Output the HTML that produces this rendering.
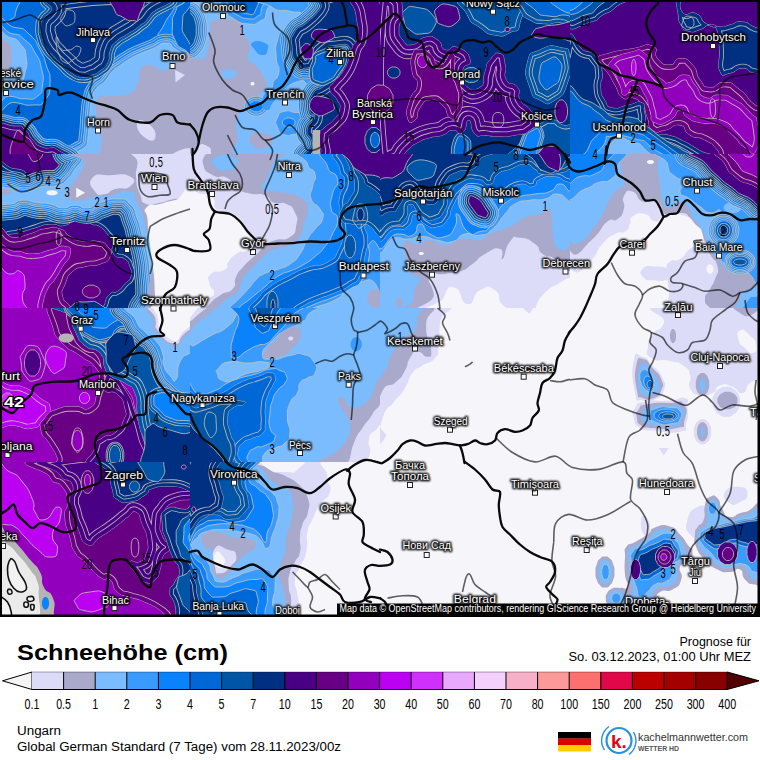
<!DOCTYPE html>
<html><head><meta charset="utf-8"><title>Schneehöhe (cm) – Ungarn</title>
<style>
html,body{margin:0;padding:0;background:#fff;}
body{width:760px;height:760px;overflow:hidden;position:relative;font-family:"Liberation Sans",sans-serif;}
svg{position:absolute;left:0;top:0;display:block}
text{font-family:"Liberation Sans",sans-serif;}
</style></head><body>
<svg width="760" height="760" viewBox="0 0 760 760" shape-rendering="auto">
<defs>
<clipPath id="mapclip"><rect x="0" y="0" width="760" height="617"/></clipPath>
<clipPath id="c00"><rect x="0" y="0" width="190" height="154"/></clipPath>
<clipPath id="c01"><rect x="0" y="154" width="190" height="154"/></clipPath>
<clipPath id="c02"><rect x="0" y="308" width="190" height="154"/></clipPath>
<clipPath id="c03"><rect x="0" y="462" width="190" height="154"/></clipPath>
<clipPath id="c10"><rect x="190" y="0" width="190" height="154"/></clipPath>
<clipPath id="c11"><rect x="190" y="154" width="190" height="154"/></clipPath>
<clipPath id="c12"><rect x="190" y="308" width="190" height="154"/></clipPath>
<clipPath id="c13"><rect x="190" y="462" width="190" height="154"/></clipPath>
<clipPath id="c20"><rect x="380" y="0" width="190" height="154"/></clipPath>
<clipPath id="c21"><rect x="380" y="154" width="190" height="154"/></clipPath>
<clipPath id="c22"><rect x="380" y="308" width="190" height="154"/></clipPath>
<clipPath id="c23"><rect x="380" y="462" width="190" height="154"/></clipPath>
<clipPath id="c30"><rect x="570" y="0" width="190" height="154"/></clipPath>
<clipPath id="c31"><rect x="570" y="154" width="190" height="154"/></clipPath>
<clipPath id="c32"><rect x="570" y="308" width="190" height="154"/></clipPath>
<clipPath id="c33"><rect x="570" y="462" width="190" height="154"/></clipPath>
</defs>
<rect x="0" y="0" width="760" height="617" fill="#7abcfe"/>
<g clip-path="url(#c00)">
<rect x="0" y="0" width="190" height="154" fill="#0068d6"/>
<path d="M-5.0,-5.0C2.5,-14.2 10.4,-10.0 17.5,-5.0C24.6,0.0 18.8,1.7 16.2,10.0C13.8,18.3 17.1,15.8 10.0,20.0C2.9,24.2 0.0,30.8 -5.0,22.5C-10.0,14.2 -12.5,4.2 -5.0,-5.0Z" fill="#0a82fc" stroke="rgba(196,194,186,0.92)" stroke-width="0.9"/>
<path d="M197.5,2.5C191.7,-15.0 189.2,0.8 180.0,5.0C170.8,9.2 175.8,7.5 170.0,15.0C164.2,22.5 166.7,20.0 162.5,27.5C158.3,35.0 158.3,31.2 157.5,37.5C156.7,43.8 154.2,41.7 160.0,46.2C165.8,50.8 162.5,47.5 175.0,51.2C187.5,55.0 190.0,73.8 197.5,57.5C205.0,41.2 203.3,20.0 197.5,2.5Z" fill="#0a82fc" stroke="rgba(196,194,186,0.92)" stroke-width="0.9"/>
<path d="M197.5,54.5C193.3,18.3 192.5,55.9 185.0,54.0C177.5,52.1 181.2,52.4 175.0,48.8C168.8,45.1 173.8,43.0 166.2,43.0C158.8,43.0 161.2,45.2 152.5,48.8C143.8,52.3 147.5,50.4 140.0,53.8C132.5,57.1 136.7,54.8 130.0,58.8C123.3,62.7 125.8,61.3 120.0,65.5C114.2,69.7 117.5,66.0 112.5,71.2C107.5,76.5 110.4,75.4 105.0,81.2C99.6,87.1 100.6,82.9 96.2,88.8C91.9,94.6 94.1,90.8 92.0,98.8C89.9,106.7 91.1,102.1 90.0,112.5C88.9,122.9 89.6,120.0 88.8,130.0C87.9,140.0 88.3,131.7 87.5,142.5C86.7,153.3 49.6,155.8 86.2,162.5C122.9,169.2 160.4,198.5 197.5,162.5C234.6,126.5 201.7,90.7 197.5,54.5Z" fill="none" stroke="rgba(196,194,186,0.92)" stroke-width="18.6" stroke-linejoin="round"/>
<path d="M197.5,54.5C193.3,18.3 192.5,55.9 185.0,54.0C177.5,52.1 181.2,52.4 175.0,48.8C168.8,45.1 173.8,43.0 166.2,43.0C158.8,43.0 161.2,45.2 152.5,48.8C143.8,52.3 147.5,50.4 140.0,53.8C132.5,57.1 136.7,54.8 130.0,58.8C123.3,62.7 125.8,61.3 120.0,65.5C114.2,69.7 117.5,66.0 112.5,71.2C107.5,76.5 110.4,75.4 105.0,81.2C99.6,87.1 100.6,82.9 96.2,88.8C91.9,94.6 94.1,90.8 92.0,98.8C89.9,106.7 91.1,102.1 90.0,112.5C88.9,122.9 89.6,120.0 88.8,130.0C87.9,140.0 88.3,131.7 87.5,142.5C86.7,153.3 49.6,155.8 86.2,162.5C122.9,169.2 160.4,198.5 197.5,162.5C234.6,126.5 201.7,90.7 197.5,54.5Z" fill="none" stroke="#0a82fc" stroke-width="17.0" stroke-linejoin="round"/>
<path d="M197.5,54.5C193.3,18.3 192.5,55.9 185.0,54.0C177.5,52.1 181.2,52.4 175.0,48.8C168.8,45.1 173.8,43.0 166.2,43.0C158.8,43.0 161.2,45.2 152.5,48.8C143.8,52.3 147.5,50.4 140.0,53.8C132.5,57.1 136.7,54.8 130.0,58.8C123.3,62.7 125.8,61.3 120.0,65.5C114.2,69.7 117.5,66.0 112.5,71.2C107.5,76.5 110.4,75.4 105.0,81.2C99.6,87.1 100.6,82.9 96.2,88.8C91.9,94.6 94.1,90.8 92.0,98.8C89.9,106.7 91.1,102.1 90.0,112.5C88.9,122.9 89.6,120.0 88.8,130.0C87.9,140.0 88.3,131.7 87.5,142.5C86.7,153.3 49.6,155.8 86.2,162.5C122.9,169.2 160.4,198.5 197.5,162.5C234.6,126.5 201.7,90.7 197.5,54.5Z" fill="none" stroke="rgba(196,194,186,0.92)" stroke-width="14.1" stroke-linejoin="round"/>
<path d="M197.5,54.5C193.3,18.3 192.5,55.9 185.0,54.0C177.5,52.1 181.2,52.4 175.0,48.8C168.8,45.1 173.8,43.0 166.2,43.0C158.8,43.0 161.2,45.2 152.5,48.8C143.8,52.3 147.5,50.4 140.0,53.8C132.5,57.1 136.7,54.8 130.0,58.8C123.3,62.7 125.8,61.3 120.0,65.5C114.2,69.7 117.5,66.0 112.5,71.2C107.5,76.5 110.4,75.4 105.0,81.2C99.6,87.1 100.6,82.9 96.2,88.8C91.9,94.6 94.1,90.8 92.0,98.8C89.9,106.7 91.1,102.1 90.0,112.5C88.9,122.9 89.6,120.0 88.8,130.0C87.9,140.0 88.3,131.7 87.5,142.5C86.7,153.3 49.6,155.8 86.2,162.5C122.9,169.2 160.4,198.5 197.5,162.5C234.6,126.5 201.7,90.7 197.5,54.5Z" fill="none" stroke="#0a82fc" stroke-width="12.5" stroke-linejoin="round"/>
<path d="M197.5,54.5C193.3,18.3 192.5,55.9 185.0,54.0C177.5,52.1 181.2,52.4 175.0,48.8C168.8,45.1 173.8,43.0 166.2,43.0C158.8,43.0 161.2,45.2 152.5,48.8C143.8,52.3 147.5,50.4 140.0,53.8C132.5,57.1 136.7,54.8 130.0,58.8C123.3,62.7 125.8,61.3 120.0,65.5C114.2,69.7 117.5,66.0 112.5,71.2C107.5,76.5 110.4,75.4 105.0,81.2C99.6,87.1 100.6,82.9 96.2,88.8C91.9,94.6 94.1,90.8 92.0,98.8C89.9,106.7 91.1,102.1 90.0,112.5C88.9,122.9 89.6,120.0 88.8,130.0C87.9,140.0 88.3,131.7 87.5,142.5C86.7,153.3 49.6,155.8 86.2,162.5C122.9,169.2 160.4,198.5 197.5,162.5C234.6,126.5 201.7,90.7 197.5,54.5Z" fill="none" stroke="rgba(196,194,186,0.92)" stroke-width="9.6" stroke-linejoin="round"/>
<path d="M197.5,54.5C193.3,18.3 192.5,55.9 185.0,54.0C177.5,52.1 181.2,52.4 175.0,48.8C168.8,45.1 173.8,43.0 166.2,43.0C158.8,43.0 161.2,45.2 152.5,48.8C143.8,52.3 147.5,50.4 140.0,53.8C132.5,57.1 136.7,54.8 130.0,58.8C123.3,62.7 125.8,61.3 120.0,65.5C114.2,69.7 117.5,66.0 112.5,71.2C107.5,76.5 110.4,75.4 105.0,81.2C99.6,87.1 100.6,82.9 96.2,88.8C91.9,94.6 94.1,90.8 92.0,98.8C89.9,106.7 91.1,102.1 90.0,112.5C88.9,122.9 89.6,120.0 88.8,130.0C87.9,140.0 88.3,131.7 87.5,142.5C86.7,153.3 49.6,155.8 86.2,162.5C122.9,169.2 160.4,198.5 197.5,162.5C234.6,126.5 201.7,90.7 197.5,54.5Z" fill="none" stroke="#3a9bfe" stroke-width="8.0" stroke-linejoin="round"/>
<path d="M197.5,54.5C193.3,18.3 192.5,55.9 185.0,54.0C177.5,52.1 181.2,52.4 175.0,48.8C168.8,45.1 173.8,43.0 166.2,43.0C158.8,43.0 161.2,45.2 152.5,48.8C143.8,52.3 147.5,50.4 140.0,53.8C132.5,57.1 136.7,54.8 130.0,58.8C123.3,62.7 125.8,61.3 120.0,65.5C114.2,69.7 117.5,66.0 112.5,71.2C107.5,76.5 110.4,75.4 105.0,81.2C99.6,87.1 100.6,82.9 96.2,88.8C91.9,94.6 94.1,90.8 92.0,98.8C89.9,106.7 91.1,102.1 90.0,112.5C88.9,122.9 89.6,120.0 88.8,130.0C87.9,140.0 88.3,131.7 87.5,142.5C86.7,153.3 49.6,155.8 86.2,162.5C122.9,169.2 160.4,198.5 197.5,162.5C234.6,126.5 201.7,90.7 197.5,54.5Z" fill="none" stroke="rgba(196,194,186,0.92)" stroke-width="5.6" stroke-linejoin="round"/>
<path d="M197.5,54.5C193.3,18.3 192.5,55.9 185.0,54.0C177.5,52.1 181.2,52.4 175.0,48.8C168.8,45.1 173.8,43.0 166.2,43.0C158.8,43.0 161.2,45.2 152.5,48.8C143.8,52.3 147.5,50.4 140.0,53.8C132.5,57.1 136.7,54.8 130.0,58.8C123.3,62.7 125.8,61.3 120.0,65.5C114.2,69.7 117.5,66.0 112.5,71.2C107.5,76.5 110.4,75.4 105.0,81.2C99.6,87.1 100.6,82.9 96.2,88.8C91.9,94.6 94.1,90.8 92.0,98.8C89.9,106.7 91.1,102.1 90.0,112.5C88.9,122.9 89.6,120.0 88.8,130.0C87.9,140.0 88.3,131.7 87.5,142.5C86.7,153.3 49.6,155.8 86.2,162.5C122.9,169.2 160.4,198.5 197.5,162.5C234.6,126.5 201.7,90.7 197.5,54.5Z" fill="none" stroke="#3a9bfe" stroke-width="4.0" stroke-linejoin="round"/>
<path d="M197.5,54.5C193.3,18.3 192.5,55.9 185.0,54.0C177.5,52.1 181.2,52.4 175.0,48.8C168.8,45.1 173.8,43.0 166.2,43.0C158.8,43.0 161.2,45.2 152.5,48.8C143.8,52.3 147.5,50.4 140.0,53.8C132.5,57.1 136.7,54.8 130.0,58.8C123.3,62.7 125.8,61.3 120.0,65.5C114.2,69.7 117.5,66.0 112.5,71.2C107.5,76.5 110.4,75.4 105.0,81.2C99.6,87.1 100.6,82.9 96.2,88.8C91.9,94.6 94.1,90.8 92.0,98.8C89.9,106.7 91.1,102.1 90.0,112.5C88.9,122.9 89.6,120.0 88.8,130.0C87.9,140.0 88.3,131.7 87.5,142.5C86.7,153.3 49.6,155.8 86.2,162.5C122.9,169.2 160.4,198.5 197.5,162.5C234.6,126.5 201.7,90.7 197.5,54.5Z" fill="#7abcfe" stroke="rgba(196,194,186,0.92)" stroke-width="0.9"/>
<path d="M197.5,59.5C191.7,25.2 188.3,58.1 180.0,59.5C171.7,60.9 178.3,60.1 172.5,63.8C166.7,67.4 169.2,69.9 162.5,70.5C155.8,71.1 159.6,66.3 152.5,65.5C145.4,64.7 145.8,63.2 141.2,68.0C136.7,72.8 141.7,72.2 138.8,80.0C135.8,87.8 138.8,86.1 132.5,91.2C126.2,96.4 128.3,93.8 120.0,95.5C111.7,97.2 115.0,95.2 107.5,96.2C100.0,97.3 101.2,93.3 97.5,98.8C93.8,104.2 96.1,103.8 96.2,112.5C96.4,121.2 96.3,116.7 98.0,125.0C99.7,133.3 100.4,129.2 101.2,137.5C102.1,145.8 101.3,141.7 100.5,150.0C99.7,158.3 66.4,158.3 98.8,162.5C131.1,166.7 164.6,196.8 197.5,162.5C230.4,128.2 203.3,93.8 197.5,59.5Z" fill="#a9a9cb"/>
<path d="M197.5,0.0C192.5,-16.4 190.0,-0.4 182.5,3.8C175.0,7.9 178.3,5.4 175.0,12.5C171.7,19.6 172.5,15.8 172.5,25.0C172.5,34.2 170.8,31.7 175.0,40.0C179.2,48.3 177.5,45.7 185.0,50.0C192.5,54.3 193.3,69.7 197.5,53.0C201.7,36.3 202.5,16.4 197.5,0.0Z" fill="#0068d6" stroke="rgba(196,194,186,0.92)" stroke-width="0.9"/>
<path d="M197.5,5.0C194.2,-6.7 192.5,4.2 187.5,10.0C182.5,15.8 182.9,13.3 182.5,22.5C182.1,31.7 181.2,30.0 186.2,37.5C191.2,45.0 193.8,55.8 197.5,45.0C201.2,34.2 200.8,16.7 197.5,5.0Z" fill="#0055a6" stroke="rgba(196,194,186,0.92)" stroke-width="0.9"/>
<path d="M175.0,70.0 L185.0,75.0 L175.5,82.5Z" fill="#dcdcf8"/>
<path d="M137.0,123.8C137.7,118.8 141.3,119.1 147.5,123.2C153.7,127.4 156.2,131.3 155.5,136.2C154.8,141.2 151.7,142.2 145.5,138.0C139.3,133.8 136.3,128.7 137.0,123.8Z" fill="#dcdcf8"/>
<path d="M175.0,152.5C182.5,148.3 190.0,146.7 197.5,150.0C205.0,153.3 205.0,158.3 197.5,162.5C190.0,166.7 182.5,165.8 175.0,162.5C167.5,159.2 167.5,156.7 175.0,152.5Z" fill="#dcdcf8"/>
<path d="M-5.0,30.0C1.7,5.8 3.3,25.8 15.0,27.5C26.7,29.2 21.7,27.5 30.0,35.0C38.3,42.5 34.6,40.0 40.0,50.0C45.4,60.0 42.9,54.2 46.2,65.0C49.6,75.8 50.4,70.8 50.0,82.5C49.6,94.2 50.8,92.5 45.0,100.0C39.2,107.5 42.5,104.2 32.5,105.0C22.5,105.8 27.5,104.2 15.0,102.5C2.5,100.8 1.7,124.2 -5.0,100.0C-11.7,75.8 -11.7,54.2 -5.0,30.0Z" fill="#0a82fc" stroke="rgba(196,194,186,0.92)" stroke-width="0.9"/>
<path d="M-5.0,35.0C0.8,14.6 2.5,32.1 12.5,33.8C22.5,35.4 17.5,33.8 25.0,40.0C32.5,46.2 29.6,43.3 35.0,52.5C40.4,61.7 38.8,56.7 41.2,67.5C43.8,78.3 43.8,75.4 42.5,85.0C41.2,94.6 43.3,91.7 37.5,96.2C31.7,100.8 34.2,98.8 25.0,98.8C15.8,98.8 20.0,97.5 10.0,96.2C0.0,95.0 0.0,115.4 -5.0,95.0C-10.0,74.6 -10.8,55.4 -5.0,35.0Z" fill="#3a9bfe" stroke="rgba(196,194,186,0.92)" stroke-width="0.9"/>
<path d="M-5.0,37.5C0.0,21.2 1.2,35.0 10.0,37.5C18.8,40.0 15.8,38.3 21.2,45.0C26.7,51.7 25.0,48.3 26.2,57.5C27.5,66.7 27.1,64.2 25.0,72.5C22.9,80.8 25.0,78.3 20.0,82.5C15.0,86.7 18.3,83.8 10.0,85.0C1.7,86.2 0.0,102.1 -5.0,86.2C-10.0,70.4 -10.0,53.8 -5.0,37.5Z" fill="#7abcfe" stroke="rgba(196,194,186,0.92)" stroke-width="0.9"/>
<path d="M-5.0,42.5C-0.8,32.2 2.1,39.7 7.5,43.0C12.9,46.3 10.4,44.3 11.2,52.5C12.1,60.7 12.1,60.4 10.0,67.5C7.9,74.6 10.0,71.7 5.0,73.8C0.0,75.8 -1.7,84.2 -5.0,73.8C-8.3,63.3 -9.2,52.8 -5.0,42.5Z" fill="#a9a9cb"/>
<path d="M43.8,18.8C47.1,13.3 44.6,19.2 51.2,11.2C57.9,3.3 27.5,0.4 63.8,-5.0C100.0,-10.4 131.2,-11.7 160.0,-5.0C188.8,1.7 157.1,4.6 150.0,15.0C142.9,25.4 146.2,20.0 138.8,26.2C131.2,32.5 135.0,28.8 127.5,33.8C120.0,38.8 122.1,35.8 116.2,41.2C110.4,46.7 112.9,42.9 110.0,50.0C107.1,57.1 110.8,55.7 107.5,62.5C104.2,69.3 105.4,66.3 100.0,70.5C94.6,74.7 97.1,72.8 91.2,75.0C85.4,77.2 88.8,77.5 82.5,77.0C76.2,76.5 79.2,77.7 72.5,73.5C65.8,69.3 68.8,70.3 62.5,64.5C56.2,58.7 59.0,61.7 53.8,56.0C48.5,50.3 50.5,53.7 46.8,47.5C43.0,41.3 44.3,44.2 42.5,37.5C40.7,30.8 40.8,33.8 41.2,27.5C41.7,21.2 40.4,24.2 43.8,18.8Z" fill="none" stroke="rgba(196,194,186,0.92)" stroke-width="11.6" stroke-linejoin="round"/>
<path d="M43.8,18.8C47.1,13.3 44.6,19.2 51.2,11.2C57.9,3.3 27.5,0.4 63.8,-5.0C100.0,-10.4 131.2,-11.7 160.0,-5.0C188.8,1.7 157.1,4.6 150.0,15.0C142.9,25.4 146.2,20.0 138.8,26.2C131.2,32.5 135.0,28.8 127.5,33.8C120.0,38.8 122.1,35.8 116.2,41.2C110.4,46.7 112.9,42.9 110.0,50.0C107.1,57.1 110.8,55.7 107.5,62.5C104.2,69.3 105.4,66.3 100.0,70.5C94.6,74.7 97.1,72.8 91.2,75.0C85.4,77.2 88.8,77.5 82.5,77.0C76.2,76.5 79.2,77.7 72.5,73.5C65.8,69.3 68.8,70.3 62.5,64.5C56.2,58.7 59.0,61.7 53.8,56.0C48.5,50.3 50.5,53.7 46.8,47.5C43.0,41.3 44.3,44.2 42.5,37.5C40.7,30.8 40.8,33.8 41.2,27.5C41.7,21.2 40.4,24.2 43.8,18.8Z" fill="none" stroke="#0055a6" stroke-width="10.0" stroke-linejoin="round"/>
<path d="M43.8,18.8C47.1,13.3 44.6,19.2 51.2,11.2C57.9,3.3 27.5,0.4 63.8,-5.0C100.0,-10.4 131.2,-11.7 160.0,-5.0C188.8,1.7 157.1,4.6 150.0,15.0C142.9,25.4 146.2,20.0 138.8,26.2C131.2,32.5 135.0,28.8 127.5,33.8C120.0,38.8 122.1,35.8 116.2,41.2C110.4,46.7 112.9,42.9 110.0,50.0C107.1,57.1 110.8,55.7 107.5,62.5C104.2,69.3 105.4,66.3 100.0,70.5C94.6,74.7 97.1,72.8 91.2,75.0C85.4,77.2 88.8,77.5 82.5,77.0C76.2,76.5 79.2,77.7 72.5,73.5C65.8,69.3 68.8,70.3 62.5,64.5C56.2,58.7 59.0,61.7 53.8,56.0C48.5,50.3 50.5,53.7 46.8,47.5C43.0,41.3 44.3,44.2 42.5,37.5C40.7,30.8 40.8,33.8 41.2,27.5C41.7,21.2 40.4,24.2 43.8,18.8Z" fill="none" stroke="rgba(196,194,186,0.92)" stroke-width="6.6" stroke-linejoin="round"/>
<path d="M43.8,18.8C47.1,13.3 44.6,19.2 51.2,11.2C57.9,3.3 27.5,0.4 63.8,-5.0C100.0,-10.4 131.2,-11.7 160.0,-5.0C188.8,1.7 157.1,4.6 150.0,15.0C142.9,25.4 146.2,20.0 138.8,26.2C131.2,32.5 135.0,28.8 127.5,33.8C120.0,38.8 122.1,35.8 116.2,41.2C110.4,46.7 112.9,42.9 110.0,50.0C107.1,57.1 110.8,55.7 107.5,62.5C104.2,69.3 105.4,66.3 100.0,70.5C94.6,74.7 97.1,72.8 91.2,75.0C85.4,77.2 88.8,77.5 82.5,77.0C76.2,76.5 79.2,77.7 72.5,73.5C65.8,69.3 68.8,70.3 62.5,64.5C56.2,58.7 59.0,61.7 53.8,56.0C48.5,50.3 50.5,53.7 46.8,47.5C43.0,41.3 44.3,44.2 42.5,37.5C40.7,30.8 40.8,33.8 41.2,27.5C41.7,21.2 40.4,24.2 43.8,18.8Z" fill="none" stroke="#0055a6" stroke-width="5.0" stroke-linejoin="round"/>
<path d="M43.8,18.8C47.1,13.3 44.6,19.2 51.2,11.2C57.9,3.3 27.5,0.4 63.8,-5.0C100.0,-10.4 131.2,-11.7 160.0,-5.0C188.8,1.7 157.1,4.6 150.0,15.0C142.9,25.4 146.2,20.0 138.8,26.2C131.2,32.5 135.0,28.8 127.5,33.8C120.0,38.8 122.1,35.8 116.2,41.2C110.4,46.7 112.9,42.9 110.0,50.0C107.1,57.1 110.8,55.7 107.5,62.5C104.2,69.3 105.4,66.3 100.0,70.5C94.6,74.7 97.1,72.8 91.2,75.0C85.4,77.2 88.8,77.5 82.5,77.0C76.2,76.5 79.2,77.7 72.5,73.5C65.8,69.3 68.8,70.3 62.5,64.5C56.2,58.7 59.0,61.7 53.8,56.0C48.5,50.3 50.5,53.7 46.8,47.5C43.0,41.3 44.3,44.2 42.5,37.5C40.7,30.8 40.8,33.8 41.2,27.5C41.7,21.2 40.4,24.2 43.8,18.8Z" fill="#012f82" stroke="rgba(196,194,186,0.92)" stroke-width="0.9"/>
<clipPath id="r1"><path d="M43.8,18.8C47.1,13.3 44.6,19.2 51.2,11.2C57.9,3.3 27.5,0.4 63.8,-5.0C100.0,-10.4 131.2,-11.7 160.0,-5.0C188.8,1.7 157.1,4.6 150.0,15.0C142.9,25.4 146.2,20.0 138.8,26.2C131.2,32.5 135.0,28.8 127.5,33.8C120.0,38.8 122.1,35.8 116.2,41.2C110.4,46.7 112.9,42.9 110.0,50.0C107.1,57.1 110.8,55.7 107.5,62.5C104.2,69.3 105.4,66.3 100.0,70.5C94.6,74.7 97.1,72.8 91.2,75.0C85.4,77.2 88.8,77.5 82.5,77.0C76.2,76.5 79.2,77.7 72.5,73.5C65.8,69.3 68.8,70.3 62.5,64.5C56.2,58.7 59.0,61.7 53.8,56.0C48.5,50.3 50.5,53.7 46.8,47.5C43.0,41.3 44.3,44.2 42.5,37.5C40.7,30.8 40.8,33.8 41.2,27.5C41.7,21.2 40.4,24.2 43.8,18.8Z"/></clipPath><g clip-path="url(#r1)">
<path d="M43.8,18.8C47.1,13.3 44.6,19.2 51.2,11.2C57.9,3.3 27.5,0.4 63.8,-5.0C100.0,-10.4 131.2,-11.7 160.0,-5.0C188.8,1.7 157.1,4.6 150.0,15.0C142.9,25.4 146.2,20.0 138.8,26.2C131.2,32.5 135.0,28.8 127.5,33.8C120.0,38.8 122.1,35.8 116.2,41.2C110.4,46.7 112.9,42.9 110.0,50.0C107.1,57.1 110.8,55.7 107.5,62.5C104.2,69.3 105.4,66.3 100.0,70.5C94.6,74.7 97.1,72.8 91.2,75.0C85.4,77.2 88.8,77.5 82.5,77.0C76.2,76.5 79.2,77.7 72.5,73.5C65.8,69.3 68.8,70.3 62.5,64.5C56.2,58.7 59.0,61.7 53.8,56.0C48.5,50.3 50.5,53.7 46.8,47.5C43.0,41.3 44.3,44.2 42.5,37.5C40.7,30.8 40.8,33.8 41.2,27.5C41.7,21.2 40.4,24.2 43.8,18.8Z" fill="none" stroke="rgba(196,194,186,0.92)" stroke-width="28.7" stroke-linejoin="round"/>
<path d="M43.8,18.8C47.1,13.3 44.6,19.2 51.2,11.2C57.9,3.3 27.5,0.4 63.8,-5.0C100.0,-10.4 131.2,-11.7 160.0,-5.0C188.8,1.7 157.1,4.6 150.0,15.0C142.9,25.4 146.2,20.0 138.8,26.2C131.2,32.5 135.0,28.8 127.5,33.8C120.0,38.8 122.1,35.8 116.2,41.2C110.4,46.7 112.9,42.9 110.0,50.0C107.1,57.1 110.8,55.7 107.5,62.5C104.2,69.3 105.4,66.3 100.0,70.5C94.6,74.7 97.1,72.8 91.2,75.0C85.4,77.2 88.8,77.5 82.5,77.0C76.2,76.5 79.2,77.7 72.5,73.5C65.8,69.3 68.8,70.3 62.5,64.5C56.2,58.7 59.0,61.7 53.8,56.0C48.5,50.3 50.5,53.7 46.8,47.5C43.0,41.3 44.3,44.2 42.5,37.5C40.7,30.8 40.8,33.8 41.2,27.5C41.7,21.2 40.4,24.2 43.8,18.8Z" fill="none" stroke="#012f82" stroke-width="27.0" stroke-linejoin="round"/>
<path d="M43.8,18.8C47.1,13.3 44.6,19.2 51.2,11.2C57.9,3.3 27.5,0.4 63.8,-5.0C100.0,-10.4 131.2,-11.7 160.0,-5.0C188.8,1.7 157.1,4.6 150.0,15.0C142.9,25.4 146.2,20.0 138.8,26.2C131.2,32.5 135.0,28.8 127.5,33.8C120.0,38.8 122.1,35.8 116.2,41.2C110.4,46.7 112.9,42.9 110.0,50.0C107.1,57.1 110.8,55.7 107.5,62.5C104.2,69.3 105.4,66.3 100.0,70.5C94.6,74.7 97.1,72.8 91.2,75.0C85.4,77.2 88.8,77.5 82.5,77.0C76.2,76.5 79.2,77.7 72.5,73.5C65.8,69.3 68.8,70.3 62.5,64.5C56.2,58.7 59.0,61.7 53.8,56.0C48.5,50.3 50.5,53.7 46.8,47.5C43.0,41.3 44.3,44.2 42.5,37.5C40.7,30.8 40.8,33.8 41.2,27.5C41.7,21.2 40.4,24.2 43.8,18.8Z" fill="none" stroke="rgba(196,194,186,0.92)" stroke-width="19.7" stroke-linejoin="round"/>
<path d="M43.8,18.8C47.1,13.3 44.6,19.2 51.2,11.2C57.9,3.3 27.5,0.4 63.8,-5.0C100.0,-10.4 131.2,-11.7 160.0,-5.0C188.8,1.7 157.1,4.6 150.0,15.0C142.9,25.4 146.2,20.0 138.8,26.2C131.2,32.5 135.0,28.8 127.5,33.8C120.0,38.8 122.1,35.8 116.2,41.2C110.4,46.7 112.9,42.9 110.0,50.0C107.1,57.1 110.8,55.7 107.5,62.5C104.2,69.3 105.4,66.3 100.0,70.5C94.6,74.7 97.1,72.8 91.2,75.0C85.4,77.2 88.8,77.5 82.5,77.0C76.2,76.5 79.2,77.7 72.5,73.5C65.8,69.3 68.8,70.3 62.5,64.5C56.2,58.7 59.0,61.7 53.8,56.0C48.5,50.3 50.5,53.7 46.8,47.5C43.0,41.3 44.3,44.2 42.5,37.5C40.7,30.8 40.8,33.8 41.2,27.5C41.7,21.2 40.4,24.2 43.8,18.8Z" fill="none" stroke="#012f82" stroke-width="18.0" stroke-linejoin="round"/>
<path d="M43.8,18.8C47.1,13.3 44.6,19.2 51.2,11.2C57.9,3.3 27.5,0.4 63.8,-5.0C100.0,-10.4 131.2,-11.7 160.0,-5.0C188.8,1.7 157.1,4.6 150.0,15.0C142.9,25.4 146.2,20.0 138.8,26.2C131.2,32.5 135.0,28.8 127.5,33.8C120.0,38.8 122.1,35.8 116.2,41.2C110.4,46.7 112.9,42.9 110.0,50.0C107.1,57.1 110.8,55.7 107.5,62.5C104.2,69.3 105.4,66.3 100.0,70.5C94.6,74.7 97.1,72.8 91.2,75.0C85.4,77.2 88.8,77.5 82.5,77.0C76.2,76.5 79.2,77.7 72.5,73.5C65.8,69.3 68.8,70.3 62.5,64.5C56.2,58.7 59.0,61.7 53.8,56.0C48.5,50.3 50.5,53.7 46.8,47.5C43.0,41.3 44.3,44.2 42.5,37.5C40.7,30.8 40.8,33.8 41.2,27.5C41.7,21.2 40.4,24.2 43.8,18.8Z" fill="none" stroke="rgba(196,194,186,0.92)" stroke-width="10.7" stroke-linejoin="round"/>
<path d="M43.8,18.8C47.1,13.3 44.6,19.2 51.2,11.2C57.9,3.3 27.5,0.4 63.8,-5.0C100.0,-10.4 131.2,-11.7 160.0,-5.0C188.8,1.7 157.1,4.6 150.0,15.0C142.9,25.4 146.2,20.0 138.8,26.2C131.2,32.5 135.0,28.8 127.5,33.8C120.0,38.8 122.1,35.8 116.2,41.2C110.4,46.7 112.9,42.9 110.0,50.0C107.1,57.1 110.8,55.7 107.5,62.5C104.2,69.3 105.4,66.3 100.0,70.5C94.6,74.7 97.1,72.8 91.2,75.0C85.4,77.2 88.8,77.5 82.5,77.0C76.2,76.5 79.2,77.7 72.5,73.5C65.8,69.3 68.8,70.3 62.5,64.5C56.2,58.7 59.0,61.7 53.8,56.0C48.5,50.3 50.5,53.7 46.8,47.5C43.0,41.3 44.3,44.2 42.5,37.5C40.7,30.8 40.8,33.8 41.2,27.5C41.7,21.2 40.4,24.2 43.8,18.8Z" fill="none" stroke="#012f82" stroke-width="9.0" stroke-linejoin="round"/>
</g>
<path d="M113.8,-5.0C105.1,0.0 111.6,2.7 114.5,10.0C117.4,17.3 116.5,13.5 122.5,17.0C128.5,20.5 127.1,20.8 132.5,20.5C137.9,20.2 136.1,24.8 138.8,16.2C141.4,7.8 148.8,2.1 140.5,-5.0C132.2,-12.1 122.4,-10.0 113.8,-5.0Z" fill="#4a0084" stroke="rgba(196,194,186,0.92)" stroke-width="0.9"/>
<path d="M-5.0,130.0C1.7,117.9 5.0,126.2 15.0,126.2C25.0,126.2 19.2,125.4 25.0,130.0C30.8,134.6 26.7,134.2 32.5,140.0C38.3,145.8 34.2,144.2 42.5,147.5C50.8,150.8 51.2,145.0 57.5,150.0C63.8,155.0 82.1,158.3 61.2,162.5C40.4,166.7 17.1,173.3 -5.0,162.5C-27.1,151.7 -11.7,142.1 -5.0,130.0Z" fill="none" stroke="rgba(196,194,186,0.92)" stroke-width="18.6" stroke-linejoin="round"/>
<path d="M-5.0,130.0C1.7,117.9 5.0,126.2 15.0,126.2C25.0,126.2 19.2,125.4 25.0,130.0C30.8,134.6 26.7,134.2 32.5,140.0C38.3,145.8 34.2,144.2 42.5,147.5C50.8,150.8 51.2,145.0 57.5,150.0C63.8,155.0 82.1,158.3 61.2,162.5C40.4,166.7 17.1,173.3 -5.0,162.5C-27.1,151.7 -11.7,142.1 -5.0,130.0Z" fill="none" stroke="#0a82fc" stroke-width="17.0" stroke-linejoin="round"/>
<path d="M-5.0,130.0C1.7,117.9 5.0,126.2 15.0,126.2C25.0,126.2 19.2,125.4 25.0,130.0C30.8,134.6 26.7,134.2 32.5,140.0C38.3,145.8 34.2,144.2 42.5,147.5C50.8,150.8 51.2,145.0 57.5,150.0C63.8,155.0 82.1,158.3 61.2,162.5C40.4,166.7 17.1,173.3 -5.0,162.5C-27.1,151.7 -11.7,142.1 -5.0,130.0Z" fill="none" stroke="rgba(196,194,186,0.92)" stroke-width="14.6" stroke-linejoin="round"/>
<path d="M-5.0,130.0C1.7,117.9 5.0,126.2 15.0,126.2C25.0,126.2 19.2,125.4 25.0,130.0C30.8,134.6 26.7,134.2 32.5,140.0C38.3,145.8 34.2,144.2 42.5,147.5C50.8,150.8 51.2,145.0 57.5,150.0C63.8,155.0 82.1,158.3 61.2,162.5C40.4,166.7 17.1,173.3 -5.0,162.5C-27.1,151.7 -11.7,142.1 -5.0,130.0Z" fill="none" stroke="#0068d6" stroke-width="13.0" stroke-linejoin="round"/>
<path d="M-5.0,130.0C1.7,117.9 5.0,126.2 15.0,126.2C25.0,126.2 19.2,125.4 25.0,130.0C30.8,134.6 26.7,134.2 32.5,140.0C38.3,145.8 34.2,144.2 42.5,147.5C50.8,150.8 51.2,145.0 57.5,150.0C63.8,155.0 82.1,158.3 61.2,162.5C40.4,166.7 17.1,173.3 -5.0,162.5C-27.1,151.7 -11.7,142.1 -5.0,130.0Z" fill="none" stroke="rgba(196,194,186,0.92)" stroke-width="10.6" stroke-linejoin="round"/>
<path d="M-5.0,130.0C1.7,117.9 5.0,126.2 15.0,126.2C25.0,126.2 19.2,125.4 25.0,130.0C30.8,134.6 26.7,134.2 32.5,140.0C38.3,145.8 34.2,144.2 42.5,147.5C50.8,150.8 51.2,145.0 57.5,150.0C63.8,155.0 82.1,158.3 61.2,162.5C40.4,166.7 17.1,173.3 -5.0,162.5C-27.1,151.7 -11.7,142.1 -5.0,130.0Z" fill="none" stroke="#0055a6" stroke-width="9.0" stroke-linejoin="round"/>
<path d="M-5.0,130.0C1.7,117.9 5.0,126.2 15.0,126.2C25.0,126.2 19.2,125.4 25.0,130.0C30.8,134.6 26.7,134.2 32.5,140.0C38.3,145.8 34.2,144.2 42.5,147.5C50.8,150.8 51.2,145.0 57.5,150.0C63.8,155.0 82.1,158.3 61.2,162.5C40.4,166.7 17.1,173.3 -5.0,162.5C-27.1,151.7 -11.7,142.1 -5.0,130.0Z" fill="none" stroke="rgba(196,194,186,0.92)" stroke-width="6.6" stroke-linejoin="round"/>
<path d="M-5.0,130.0C1.7,117.9 5.0,126.2 15.0,126.2C25.0,126.2 19.2,125.4 25.0,130.0C30.8,134.6 26.7,134.2 32.5,140.0C38.3,145.8 34.2,144.2 42.5,147.5C50.8,150.8 51.2,145.0 57.5,150.0C63.8,155.0 82.1,158.3 61.2,162.5C40.4,166.7 17.1,173.3 -5.0,162.5C-27.1,151.7 -11.7,142.1 -5.0,130.0Z" fill="none" stroke="#012f82" stroke-width="5.0" stroke-linejoin="round"/>
<path d="M-5.0,130.0C1.7,117.9 5.0,126.2 15.0,126.2C25.0,126.2 19.2,125.4 25.0,130.0C30.8,134.6 26.7,134.2 32.5,140.0C38.3,145.8 34.2,144.2 42.5,147.5C50.8,150.8 51.2,145.0 57.5,150.0C63.8,155.0 82.1,158.3 61.2,162.5C40.4,166.7 17.1,173.3 -5.0,162.5C-27.1,151.7 -11.7,142.1 -5.0,130.0Z" fill="#4a0084" stroke="rgba(196,194,186,0.92)" stroke-width="0.9"/>
<clipPath id="r2"><path d="M-5.0,130.0C1.7,117.9 5.0,126.2 15.0,126.2C25.0,126.2 19.2,125.4 25.0,130.0C30.8,134.6 26.7,134.2 32.5,140.0C38.3,145.8 34.2,144.2 42.5,147.5C50.8,150.8 51.2,145.0 57.5,150.0C63.8,155.0 82.1,158.3 61.2,162.5C40.4,166.7 17.1,173.3 -5.0,162.5C-27.1,151.7 -11.7,142.1 -5.0,130.0Z"/></clipPath><g clip-path="url(#r2)">
<path d="M-5.0,130.0C1.7,117.9 5.0,126.2 15.0,126.2C25.0,126.2 19.2,125.4 25.0,130.0C30.8,134.6 26.7,134.2 32.5,140.0C38.3,145.8 34.2,144.2 42.5,147.5C50.8,150.8 51.2,145.0 57.5,150.0C63.8,155.0 82.1,158.3 61.2,162.5C40.4,166.7 17.1,173.3 -5.0,162.5C-27.1,151.7 -11.7,142.1 -5.0,130.0Z" fill="none" stroke="rgba(196,194,186,0.92)" stroke-width="8.7" stroke-linejoin="round"/>
<path d="M-5.0,130.0C1.7,117.9 5.0,126.2 15.0,126.2C25.0,126.2 19.2,125.4 25.0,130.0C30.8,134.6 26.7,134.2 32.5,140.0C38.3,145.8 34.2,144.2 42.5,147.5C50.8,150.8 51.2,145.0 57.5,150.0C63.8,155.0 82.1,158.3 61.2,162.5C40.4,166.7 17.1,173.3 -5.0,162.5C-27.1,151.7 -11.7,142.1 -5.0,130.0Z" fill="none" stroke="#4a0084" stroke-width="7.0" stroke-linejoin="round"/>
</g>
<path d="M15.0,135.0C18.3,126.2 18.3,132.1 25.0,136.2C31.7,140.4 29.2,138.8 35.0,147.5C40.8,156.2 49.2,157.5 42.5,162.5C35.8,167.5 24.2,171.7 15.0,162.5C5.8,153.3 11.7,143.8 15.0,135.0Z" fill="#680084" stroke="rgba(196,194,186,0.92)" stroke-width="0.9"/>
<path d="M57.5,37.5C58.8,39.2 56.2,43.3 60.0,47.5C63.8,51.7 62.9,50.4 68.8,50.0C74.6,49.6 73.8,45.4 77.5,46.2C81.2,47.1 81.7,47.9 80.0,52.5C78.3,57.1 77.5,56.7 72.5,60.0C67.5,63.3 69.6,64.6 65.0,62.5C60.4,60.4 61.7,60.4 58.8,53.8C55.8,47.1 56.7,47.9 56.2,42.5C55.8,37.1 56.2,35.8 57.5,37.5Z" fill="none" stroke="rgba(196,194,186,0.92)" stroke-width="0.9"/>
<path d="M62.5,15.0C65.0,10.8 65.8,9.2 70.0,10.0C74.2,10.8 75.0,12.5 75.0,17.5C75.0,22.5 74.2,23.3 70.0,25.0C65.8,26.7 65.0,25.8 62.5,22.5C60.0,19.2 60.0,19.2 62.5,15.0Z" fill="none" stroke="rgba(196,194,186,0.92)" stroke-width="0.9"/>
</g>
<g clip-path="url(#c01)">
<rect x="0" y="154" width="190" height="154" fill="#4a0084"/>
<path d="M15.0,149.0C10.0,149.8 18.3,147.3 25.0,151.5C31.7,155.7 30.0,162.3 35.0,161.5C40.0,160.7 46.7,153.2 40.0,149.0C33.3,144.8 20.0,148.2 15.0,149.0Z" fill="#680084" stroke="rgba(196,194,186,0.92)" stroke-width="0.9"/>
<path d="M-5.0,172.8C1.7,151.1 2.5,168.2 15.0,169.0C27.5,169.8 20.8,172.8 32.5,175.2C44.2,177.8 40.0,177.8 50.0,176.5C60.0,175.2 57.5,177.3 62.5,171.5C67.5,165.7 64.6,166.5 65.0,159.0C65.4,151.5 19.6,152.3 63.8,149.0C107.9,145.7 152.9,93.2 197.5,149.0C242.1,204.8 228.8,260.7 197.5,316.5C166.2,372.3 134.6,320.7 103.8,316.5C72.9,312.3 102.9,311.5 105.0,304.0C107.1,296.5 105.8,298.2 110.0,294.0C114.2,289.8 112.5,294.8 117.5,291.5C122.5,288.2 120.4,289.0 125.0,284.0C129.6,279.0 129.6,282.3 131.2,276.5C132.9,270.7 132.1,272.3 130.0,266.5C127.9,260.7 130.4,263.2 125.0,259.0C119.6,254.8 117.9,259.8 113.8,254.0C109.6,248.2 114.6,248.2 112.5,241.5C110.4,234.8 111.7,239.0 107.5,234.0C103.3,229.0 105.8,230.2 100.0,226.5C94.2,222.8 95.0,226.9 90.0,222.8C85.0,218.6 90.0,215.7 85.0,214.0C80.0,212.3 81.7,214.0 75.0,217.8C68.3,221.5 73.3,223.2 65.0,225.2C56.7,227.3 60.0,223.2 50.0,224.0C40.0,224.8 44.2,225.2 35.0,227.8C25.8,230.2 30.8,229.4 22.5,231.5C14.2,233.6 19.2,233.2 10.0,234.0C0.8,234.8 0.0,254.4 -5.0,234.0C-10.0,213.6 -11.7,194.4 -5.0,172.8Z" fill="#012f82" stroke="rgba(196,194,186,0.92)" stroke-width="0.9"/>
<clipPath id="r3"><path d="M-5.0,172.8C1.7,151.1 2.5,168.2 15.0,169.0C27.5,169.8 20.8,172.8 32.5,175.2C44.2,177.8 40.0,177.8 50.0,176.5C60.0,175.2 57.5,177.3 62.5,171.5C67.5,165.7 64.6,166.5 65.0,159.0C65.4,151.5 19.6,152.3 63.8,149.0C107.9,145.7 152.9,93.2 197.5,149.0C242.1,204.8 228.8,260.7 197.5,316.5C166.2,372.3 134.6,320.7 103.8,316.5C72.9,312.3 102.9,311.5 105.0,304.0C107.1,296.5 105.8,298.2 110.0,294.0C114.2,289.8 112.5,294.8 117.5,291.5C122.5,288.2 120.4,289.0 125.0,284.0C129.6,279.0 129.6,282.3 131.2,276.5C132.9,270.7 132.1,272.3 130.0,266.5C127.9,260.7 130.4,263.2 125.0,259.0C119.6,254.8 117.9,259.8 113.8,254.0C109.6,248.2 114.6,248.2 112.5,241.5C110.4,234.8 111.7,239.0 107.5,234.0C103.3,229.0 105.8,230.2 100.0,226.5C94.2,222.8 95.0,226.9 90.0,222.8C85.0,218.6 90.0,215.7 85.0,214.0C80.0,212.3 81.7,214.0 75.0,217.8C68.3,221.5 73.3,223.2 65.0,225.2C56.7,227.3 60.0,223.2 50.0,224.0C40.0,224.8 44.2,225.2 35.0,227.8C25.8,230.2 30.8,229.4 22.5,231.5C14.2,233.6 19.2,233.2 10.0,234.0C0.8,234.8 0.0,254.4 -5.0,234.0C-10.0,213.6 -11.7,194.4 -5.0,172.8Z"/></clipPath><g clip-path="url(#r3)">
<path d="M-5.0,172.8C1.7,151.1 2.5,168.2 15.0,169.0C27.5,169.8 20.8,172.8 32.5,175.2C44.2,177.8 40.0,177.8 50.0,176.5C60.0,175.2 57.5,177.3 62.5,171.5C67.5,165.7 64.6,166.5 65.0,159.0C65.4,151.5 19.6,152.3 63.8,149.0C107.9,145.7 152.9,93.2 197.5,149.0C242.1,204.8 228.8,260.7 197.5,316.5C166.2,372.3 134.6,320.7 103.8,316.5C72.9,312.3 102.9,311.5 105.0,304.0C107.1,296.5 105.8,298.2 110.0,294.0C114.2,289.8 112.5,294.8 117.5,291.5C122.5,288.2 120.4,289.0 125.0,284.0C129.6,279.0 129.6,282.3 131.2,276.5C132.9,270.7 132.1,272.3 130.0,266.5C127.9,260.7 130.4,263.2 125.0,259.0C119.6,254.8 117.9,259.8 113.8,254.0C109.6,248.2 114.6,248.2 112.5,241.5C110.4,234.8 111.7,239.0 107.5,234.0C103.3,229.0 105.8,230.2 100.0,226.5C94.2,222.8 95.0,226.9 90.0,222.8C85.0,218.6 90.0,215.7 85.0,214.0C80.0,212.3 81.7,214.0 75.0,217.8C68.3,221.5 73.3,223.2 65.0,225.2C56.7,227.3 60.0,223.2 50.0,224.0C40.0,224.8 44.2,225.2 35.0,227.8C25.8,230.2 30.8,229.4 22.5,231.5C14.2,233.6 19.2,233.2 10.0,234.0C0.8,234.8 0.0,254.4 -5.0,234.0C-10.0,213.6 -11.7,194.4 -5.0,172.8Z" fill="none" stroke="rgba(196,194,186,0.92)" stroke-width="6.7" stroke-linejoin="round"/>
<path d="M-5.0,172.8C1.7,151.1 2.5,168.2 15.0,169.0C27.5,169.8 20.8,172.8 32.5,175.2C44.2,177.8 40.0,177.8 50.0,176.5C60.0,175.2 57.5,177.3 62.5,171.5C67.5,165.7 64.6,166.5 65.0,159.0C65.4,151.5 19.6,152.3 63.8,149.0C107.9,145.7 152.9,93.2 197.5,149.0C242.1,204.8 228.8,260.7 197.5,316.5C166.2,372.3 134.6,320.7 103.8,316.5C72.9,312.3 102.9,311.5 105.0,304.0C107.1,296.5 105.8,298.2 110.0,294.0C114.2,289.8 112.5,294.8 117.5,291.5C122.5,288.2 120.4,289.0 125.0,284.0C129.6,279.0 129.6,282.3 131.2,276.5C132.9,270.7 132.1,272.3 130.0,266.5C127.9,260.7 130.4,263.2 125.0,259.0C119.6,254.8 117.9,259.8 113.8,254.0C109.6,248.2 114.6,248.2 112.5,241.5C110.4,234.8 111.7,239.0 107.5,234.0C103.3,229.0 105.8,230.2 100.0,226.5C94.2,222.8 95.0,226.9 90.0,222.8C85.0,218.6 90.0,215.7 85.0,214.0C80.0,212.3 81.7,214.0 75.0,217.8C68.3,221.5 73.3,223.2 65.0,225.2C56.7,227.3 60.0,223.2 50.0,224.0C40.0,224.8 44.2,225.2 35.0,227.8C25.8,230.2 30.8,229.4 22.5,231.5C14.2,233.6 19.2,233.2 10.0,234.0C0.8,234.8 0.0,254.4 -5.0,234.0C-10.0,213.6 -11.7,194.4 -5.0,172.8Z" fill="none" stroke="#012f82" stroke-width="5.0" stroke-linejoin="round"/>
</g>
<path d="M-5.0,189.0C-0.8,184.4 -2.5,186.9 7.5,187.8C17.5,188.6 13.3,191.9 25.0,191.5C36.7,191.1 31.7,188.6 42.5,186.5C53.3,184.4 49.2,187.8 57.5,185.2C65.8,182.8 61.7,184.4 67.5,179.0C73.3,173.6 70.0,175.7 75.0,169.0C80.0,162.3 79.2,165.7 82.5,159.0C85.8,152.3 46.7,152.3 85.0,149.0C123.3,145.7 160.0,93.2 197.5,149.0C235.0,204.8 213.3,260.7 197.5,316.5C181.7,372.3 165.4,324.0 150.0,316.5C134.6,309.0 151.2,308.2 151.2,294.0C151.2,279.8 151.2,287.3 150.0,274.0C148.8,260.7 150.0,266.5 147.5,254.0C145.0,241.5 145.8,248.2 142.5,236.5C139.2,224.8 141.7,229.8 137.5,219.0C133.3,208.2 136.7,210.7 130.0,204.0C123.3,197.3 127.5,199.4 117.5,199.0C107.5,198.6 110.0,199.8 100.0,202.8C90.0,205.7 95.8,206.9 87.5,207.8C79.2,208.6 83.3,205.2 75.0,205.2C66.7,205.2 70.8,208.2 62.5,207.8C54.2,207.3 58.3,205.7 50.0,204.0C41.7,202.3 46.7,204.0 37.5,202.8C28.3,201.5 31.7,199.8 22.5,200.2C13.3,200.7 19.2,203.6 10.0,204.0C0.8,204.4 0.0,206.5 -5.0,201.5C-10.0,196.5 -9.2,193.6 -5.0,189.0Z" fill="none" stroke="rgba(196,194,186,0.92)" stroke-width="31.6" stroke-linejoin="round"/>
<path d="M-5.0,189.0C-0.8,184.4 -2.5,186.9 7.5,187.8C17.5,188.6 13.3,191.9 25.0,191.5C36.7,191.1 31.7,188.6 42.5,186.5C53.3,184.4 49.2,187.8 57.5,185.2C65.8,182.8 61.7,184.4 67.5,179.0C73.3,173.6 70.0,175.7 75.0,169.0C80.0,162.3 79.2,165.7 82.5,159.0C85.8,152.3 46.7,152.3 85.0,149.0C123.3,145.7 160.0,93.2 197.5,149.0C235.0,204.8 213.3,260.7 197.5,316.5C181.7,372.3 165.4,324.0 150.0,316.5C134.6,309.0 151.2,308.2 151.2,294.0C151.2,279.8 151.2,287.3 150.0,274.0C148.8,260.7 150.0,266.5 147.5,254.0C145.0,241.5 145.8,248.2 142.5,236.5C139.2,224.8 141.7,229.8 137.5,219.0C133.3,208.2 136.7,210.7 130.0,204.0C123.3,197.3 127.5,199.4 117.5,199.0C107.5,198.6 110.0,199.8 100.0,202.8C90.0,205.7 95.8,206.9 87.5,207.8C79.2,208.6 83.3,205.2 75.0,205.2C66.7,205.2 70.8,208.2 62.5,207.8C54.2,207.3 58.3,205.7 50.0,204.0C41.7,202.3 46.7,204.0 37.5,202.8C28.3,201.5 31.7,199.8 22.5,200.2C13.3,200.7 19.2,203.6 10.0,204.0C0.8,204.4 0.0,206.5 -5.0,201.5C-10.0,196.5 -9.2,193.6 -5.0,189.0Z" fill="none" stroke="#0055a6" stroke-width="30.0" stroke-linejoin="round"/>
<path d="M-5.0,189.0C-0.8,184.4 -2.5,186.9 7.5,187.8C17.5,188.6 13.3,191.9 25.0,191.5C36.7,191.1 31.7,188.6 42.5,186.5C53.3,184.4 49.2,187.8 57.5,185.2C65.8,182.8 61.7,184.4 67.5,179.0C73.3,173.6 70.0,175.7 75.0,169.0C80.0,162.3 79.2,165.7 82.5,159.0C85.8,152.3 46.7,152.3 85.0,149.0C123.3,145.7 160.0,93.2 197.5,149.0C235.0,204.8 213.3,260.7 197.5,316.5C181.7,372.3 165.4,324.0 150.0,316.5C134.6,309.0 151.2,308.2 151.2,294.0C151.2,279.8 151.2,287.3 150.0,274.0C148.8,260.7 150.0,266.5 147.5,254.0C145.0,241.5 145.8,248.2 142.5,236.5C139.2,224.8 141.7,229.8 137.5,219.0C133.3,208.2 136.7,210.7 130.0,204.0C123.3,197.3 127.5,199.4 117.5,199.0C107.5,198.6 110.0,199.8 100.0,202.8C90.0,205.7 95.8,206.9 87.5,207.8C79.2,208.6 83.3,205.2 75.0,205.2C66.7,205.2 70.8,208.2 62.5,207.8C54.2,207.3 58.3,205.7 50.0,204.0C41.7,202.3 46.7,204.0 37.5,202.8C28.3,201.5 31.7,199.8 22.5,200.2C13.3,200.7 19.2,203.6 10.0,204.0C0.8,204.4 0.0,206.5 -5.0,201.5C-10.0,196.5 -9.2,193.6 -5.0,189.0Z" fill="none" stroke="rgba(196,194,186,0.92)" stroke-width="27.4" stroke-linejoin="round"/>
<path d="M-5.0,189.0C-0.8,184.4 -2.5,186.9 7.5,187.8C17.5,188.6 13.3,191.9 25.0,191.5C36.7,191.1 31.7,188.6 42.5,186.5C53.3,184.4 49.2,187.8 57.5,185.2C65.8,182.8 61.7,184.4 67.5,179.0C73.3,173.6 70.0,175.7 75.0,169.0C80.0,162.3 79.2,165.7 82.5,159.0C85.8,152.3 46.7,152.3 85.0,149.0C123.3,145.7 160.0,93.2 197.5,149.0C235.0,204.8 213.3,260.7 197.5,316.5C181.7,372.3 165.4,324.0 150.0,316.5C134.6,309.0 151.2,308.2 151.2,294.0C151.2,279.8 151.2,287.3 150.0,274.0C148.8,260.7 150.0,266.5 147.5,254.0C145.0,241.5 145.8,248.2 142.5,236.5C139.2,224.8 141.7,229.8 137.5,219.0C133.3,208.2 136.7,210.7 130.0,204.0C123.3,197.3 127.5,199.4 117.5,199.0C107.5,198.6 110.0,199.8 100.0,202.8C90.0,205.7 95.8,206.9 87.5,207.8C79.2,208.6 83.3,205.2 75.0,205.2C66.7,205.2 70.8,208.2 62.5,207.8C54.2,207.3 58.3,205.7 50.0,204.0C41.7,202.3 46.7,204.0 37.5,202.8C28.3,201.5 31.7,199.8 22.5,200.2C13.3,200.7 19.2,203.6 10.0,204.0C0.8,204.4 0.0,206.5 -5.0,201.5C-10.0,196.5 -9.2,193.6 -5.0,189.0Z" fill="none" stroke="#0055a6" stroke-width="25.8" stroke-linejoin="round"/>
<path d="M-5.0,189.0C-0.8,184.4 -2.5,186.9 7.5,187.8C17.5,188.6 13.3,191.9 25.0,191.5C36.7,191.1 31.7,188.6 42.5,186.5C53.3,184.4 49.2,187.8 57.5,185.2C65.8,182.8 61.7,184.4 67.5,179.0C73.3,173.6 70.0,175.7 75.0,169.0C80.0,162.3 79.2,165.7 82.5,159.0C85.8,152.3 46.7,152.3 85.0,149.0C123.3,145.7 160.0,93.2 197.5,149.0C235.0,204.8 213.3,260.7 197.5,316.5C181.7,372.3 165.4,324.0 150.0,316.5C134.6,309.0 151.2,308.2 151.2,294.0C151.2,279.8 151.2,287.3 150.0,274.0C148.8,260.7 150.0,266.5 147.5,254.0C145.0,241.5 145.8,248.2 142.5,236.5C139.2,224.8 141.7,229.8 137.5,219.0C133.3,208.2 136.7,210.7 130.0,204.0C123.3,197.3 127.5,199.4 117.5,199.0C107.5,198.6 110.0,199.8 100.0,202.8C90.0,205.7 95.8,206.9 87.5,207.8C79.2,208.6 83.3,205.2 75.0,205.2C66.7,205.2 70.8,208.2 62.5,207.8C54.2,207.3 58.3,205.7 50.0,204.0C41.7,202.3 46.7,204.0 37.5,202.8C28.3,201.5 31.7,199.8 22.5,200.2C13.3,200.7 19.2,203.6 10.0,204.0C0.8,204.4 0.0,206.5 -5.0,201.5C-10.0,196.5 -9.2,193.6 -5.0,189.0Z" fill="none" stroke="rgba(196,194,186,0.92)" stroke-width="23.1" stroke-linejoin="round"/>
<path d="M-5.0,189.0C-0.8,184.4 -2.5,186.9 7.5,187.8C17.5,188.6 13.3,191.9 25.0,191.5C36.7,191.1 31.7,188.6 42.5,186.5C53.3,184.4 49.2,187.8 57.5,185.2C65.8,182.8 61.7,184.4 67.5,179.0C73.3,173.6 70.0,175.7 75.0,169.0C80.0,162.3 79.2,165.7 82.5,159.0C85.8,152.3 46.7,152.3 85.0,149.0C123.3,145.7 160.0,93.2 197.5,149.0C235.0,204.8 213.3,260.7 197.5,316.5C181.7,372.3 165.4,324.0 150.0,316.5C134.6,309.0 151.2,308.2 151.2,294.0C151.2,279.8 151.2,287.3 150.0,274.0C148.8,260.7 150.0,266.5 147.5,254.0C145.0,241.5 145.8,248.2 142.5,236.5C139.2,224.8 141.7,229.8 137.5,219.0C133.3,208.2 136.7,210.7 130.0,204.0C123.3,197.3 127.5,199.4 117.5,199.0C107.5,198.6 110.0,199.8 100.0,202.8C90.0,205.7 95.8,206.9 87.5,207.8C79.2,208.6 83.3,205.2 75.0,205.2C66.7,205.2 70.8,208.2 62.5,207.8C54.2,207.3 58.3,205.7 50.0,204.0C41.7,202.3 46.7,204.0 37.5,202.8C28.3,201.5 31.7,199.8 22.5,200.2C13.3,200.7 19.2,203.6 10.0,204.0C0.8,204.4 0.0,206.5 -5.0,201.5C-10.0,196.5 -9.2,193.6 -5.0,189.0Z" fill="none" stroke="#0068d6" stroke-width="21.5" stroke-linejoin="round"/>
<path d="M-5.0,189.0C-0.8,184.4 -2.5,186.9 7.5,187.8C17.5,188.6 13.3,191.9 25.0,191.5C36.7,191.1 31.7,188.6 42.5,186.5C53.3,184.4 49.2,187.8 57.5,185.2C65.8,182.8 61.7,184.4 67.5,179.0C73.3,173.6 70.0,175.7 75.0,169.0C80.0,162.3 79.2,165.7 82.5,159.0C85.8,152.3 46.7,152.3 85.0,149.0C123.3,145.7 160.0,93.2 197.5,149.0C235.0,204.8 213.3,260.7 197.5,316.5C181.7,372.3 165.4,324.0 150.0,316.5C134.6,309.0 151.2,308.2 151.2,294.0C151.2,279.8 151.2,287.3 150.0,274.0C148.8,260.7 150.0,266.5 147.5,254.0C145.0,241.5 145.8,248.2 142.5,236.5C139.2,224.8 141.7,229.8 137.5,219.0C133.3,208.2 136.7,210.7 130.0,204.0C123.3,197.3 127.5,199.4 117.5,199.0C107.5,198.6 110.0,199.8 100.0,202.8C90.0,205.7 95.8,206.9 87.5,207.8C79.2,208.6 83.3,205.2 75.0,205.2C66.7,205.2 70.8,208.2 62.5,207.8C54.2,207.3 58.3,205.7 50.0,204.0C41.7,202.3 46.7,204.0 37.5,202.8C28.3,201.5 31.7,199.8 22.5,200.2C13.3,200.7 19.2,203.6 10.0,204.0C0.8,204.4 0.0,206.5 -5.0,201.5C-10.0,196.5 -9.2,193.6 -5.0,189.0Z" fill="none" stroke="rgba(196,194,186,0.92)" stroke-width="19.4" stroke-linejoin="round"/>
<path d="M-5.0,189.0C-0.8,184.4 -2.5,186.9 7.5,187.8C17.5,188.6 13.3,191.9 25.0,191.5C36.7,191.1 31.7,188.6 42.5,186.5C53.3,184.4 49.2,187.8 57.5,185.2C65.8,182.8 61.7,184.4 67.5,179.0C73.3,173.6 70.0,175.7 75.0,169.0C80.0,162.3 79.2,165.7 82.5,159.0C85.8,152.3 46.7,152.3 85.0,149.0C123.3,145.7 160.0,93.2 197.5,149.0C235.0,204.8 213.3,260.7 197.5,316.5C181.7,372.3 165.4,324.0 150.0,316.5C134.6,309.0 151.2,308.2 151.2,294.0C151.2,279.8 151.2,287.3 150.0,274.0C148.8,260.7 150.0,266.5 147.5,254.0C145.0,241.5 145.8,248.2 142.5,236.5C139.2,224.8 141.7,229.8 137.5,219.0C133.3,208.2 136.7,210.7 130.0,204.0C123.3,197.3 127.5,199.4 117.5,199.0C107.5,198.6 110.0,199.8 100.0,202.8C90.0,205.7 95.8,206.9 87.5,207.8C79.2,208.6 83.3,205.2 75.0,205.2C66.7,205.2 70.8,208.2 62.5,207.8C54.2,207.3 58.3,205.7 50.0,204.0C41.7,202.3 46.7,204.0 37.5,202.8C28.3,201.5 31.7,199.8 22.5,200.2C13.3,200.7 19.2,203.6 10.0,204.0C0.8,204.4 0.0,206.5 -5.0,201.5C-10.0,196.5 -9.2,193.6 -5.0,189.0Z" fill="none" stroke="#0068d6" stroke-width="17.8" stroke-linejoin="round"/>
<path d="M-5.0,189.0C-0.8,184.4 -2.5,186.9 7.5,187.8C17.5,188.6 13.3,191.9 25.0,191.5C36.7,191.1 31.7,188.6 42.5,186.5C53.3,184.4 49.2,187.8 57.5,185.2C65.8,182.8 61.7,184.4 67.5,179.0C73.3,173.6 70.0,175.7 75.0,169.0C80.0,162.3 79.2,165.7 82.5,159.0C85.8,152.3 46.7,152.3 85.0,149.0C123.3,145.7 160.0,93.2 197.5,149.0C235.0,204.8 213.3,260.7 197.5,316.5C181.7,372.3 165.4,324.0 150.0,316.5C134.6,309.0 151.2,308.2 151.2,294.0C151.2,279.8 151.2,287.3 150.0,274.0C148.8,260.7 150.0,266.5 147.5,254.0C145.0,241.5 145.8,248.2 142.5,236.5C139.2,224.8 141.7,229.8 137.5,219.0C133.3,208.2 136.7,210.7 130.0,204.0C123.3,197.3 127.5,199.4 117.5,199.0C107.5,198.6 110.0,199.8 100.0,202.8C90.0,205.7 95.8,206.9 87.5,207.8C79.2,208.6 83.3,205.2 75.0,205.2C66.7,205.2 70.8,208.2 62.5,207.8C54.2,207.3 58.3,205.7 50.0,204.0C41.7,202.3 46.7,204.0 37.5,202.8C28.3,201.5 31.7,199.8 22.5,200.2C13.3,200.7 19.2,203.6 10.0,204.0C0.8,204.4 0.0,206.5 -5.0,201.5C-10.0,196.5 -9.2,193.6 -5.0,189.0Z" fill="none" stroke="rgba(196,194,186,0.92)" stroke-width="15.6" stroke-linejoin="round"/>
<path d="M-5.0,189.0C-0.8,184.4 -2.5,186.9 7.5,187.8C17.5,188.6 13.3,191.9 25.0,191.5C36.7,191.1 31.7,188.6 42.5,186.5C53.3,184.4 49.2,187.8 57.5,185.2C65.8,182.8 61.7,184.4 67.5,179.0C73.3,173.6 70.0,175.7 75.0,169.0C80.0,162.3 79.2,165.7 82.5,159.0C85.8,152.3 46.7,152.3 85.0,149.0C123.3,145.7 160.0,93.2 197.5,149.0C235.0,204.8 213.3,260.7 197.5,316.5C181.7,372.3 165.4,324.0 150.0,316.5C134.6,309.0 151.2,308.2 151.2,294.0C151.2,279.8 151.2,287.3 150.0,274.0C148.8,260.7 150.0,266.5 147.5,254.0C145.0,241.5 145.8,248.2 142.5,236.5C139.2,224.8 141.7,229.8 137.5,219.0C133.3,208.2 136.7,210.7 130.0,204.0C123.3,197.3 127.5,199.4 117.5,199.0C107.5,198.6 110.0,199.8 100.0,202.8C90.0,205.7 95.8,206.9 87.5,207.8C79.2,208.6 83.3,205.2 75.0,205.2C66.7,205.2 70.8,208.2 62.5,207.8C54.2,207.3 58.3,205.7 50.0,204.0C41.7,202.3 46.7,204.0 37.5,202.8C28.3,201.5 31.7,199.8 22.5,200.2C13.3,200.7 19.2,203.6 10.0,204.0C0.8,204.4 0.0,206.5 -5.0,201.5C-10.0,196.5 -9.2,193.6 -5.0,189.0Z" fill="none" stroke="#0a82fc" stroke-width="14.0" stroke-linejoin="round"/>
<path d="M-5.0,189.0C-0.8,184.4 -2.5,186.9 7.5,187.8C17.5,188.6 13.3,191.9 25.0,191.5C36.7,191.1 31.7,188.6 42.5,186.5C53.3,184.4 49.2,187.8 57.5,185.2C65.8,182.8 61.7,184.4 67.5,179.0C73.3,173.6 70.0,175.7 75.0,169.0C80.0,162.3 79.2,165.7 82.5,159.0C85.8,152.3 46.7,152.3 85.0,149.0C123.3,145.7 160.0,93.2 197.5,149.0C235.0,204.8 213.3,260.7 197.5,316.5C181.7,372.3 165.4,324.0 150.0,316.5C134.6,309.0 151.2,308.2 151.2,294.0C151.2,279.8 151.2,287.3 150.0,274.0C148.8,260.7 150.0,266.5 147.5,254.0C145.0,241.5 145.8,248.2 142.5,236.5C139.2,224.8 141.7,229.8 137.5,219.0C133.3,208.2 136.7,210.7 130.0,204.0C123.3,197.3 127.5,199.4 117.5,199.0C107.5,198.6 110.0,199.8 100.0,202.8C90.0,205.7 95.8,206.9 87.5,207.8C79.2,208.6 83.3,205.2 75.0,205.2C66.7,205.2 70.8,208.2 62.5,207.8C54.2,207.3 58.3,205.7 50.0,204.0C41.7,202.3 46.7,204.0 37.5,202.8C28.3,201.5 31.7,199.8 22.5,200.2C13.3,200.7 19.2,203.6 10.0,204.0C0.8,204.4 0.0,206.5 -5.0,201.5C-10.0,196.5 -9.2,193.6 -5.0,189.0Z" fill="none" stroke="rgba(196,194,186,0.92)" stroke-width="12.1" stroke-linejoin="round"/>
<path d="M-5.0,189.0C-0.8,184.4 -2.5,186.9 7.5,187.8C17.5,188.6 13.3,191.9 25.0,191.5C36.7,191.1 31.7,188.6 42.5,186.5C53.3,184.4 49.2,187.8 57.5,185.2C65.8,182.8 61.7,184.4 67.5,179.0C73.3,173.6 70.0,175.7 75.0,169.0C80.0,162.3 79.2,165.7 82.5,159.0C85.8,152.3 46.7,152.3 85.0,149.0C123.3,145.7 160.0,93.2 197.5,149.0C235.0,204.8 213.3,260.7 197.5,316.5C181.7,372.3 165.4,324.0 150.0,316.5C134.6,309.0 151.2,308.2 151.2,294.0C151.2,279.8 151.2,287.3 150.0,274.0C148.8,260.7 150.0,266.5 147.5,254.0C145.0,241.5 145.8,248.2 142.5,236.5C139.2,224.8 141.7,229.8 137.5,219.0C133.3,208.2 136.7,210.7 130.0,204.0C123.3,197.3 127.5,199.4 117.5,199.0C107.5,198.6 110.0,199.8 100.0,202.8C90.0,205.7 95.8,206.9 87.5,207.8C79.2,208.6 83.3,205.2 75.0,205.2C66.7,205.2 70.8,208.2 62.5,207.8C54.2,207.3 58.3,205.7 50.0,204.0C41.7,202.3 46.7,204.0 37.5,202.8C28.3,201.5 31.7,199.8 22.5,200.2C13.3,200.7 19.2,203.6 10.0,204.0C0.8,204.4 0.0,206.5 -5.0,201.5C-10.0,196.5 -9.2,193.6 -5.0,189.0Z" fill="none" stroke="#0a82fc" stroke-width="10.5" stroke-linejoin="round"/>
<path d="M-5.0,189.0C-0.8,184.4 -2.5,186.9 7.5,187.8C17.5,188.6 13.3,191.9 25.0,191.5C36.7,191.1 31.7,188.6 42.5,186.5C53.3,184.4 49.2,187.8 57.5,185.2C65.8,182.8 61.7,184.4 67.5,179.0C73.3,173.6 70.0,175.7 75.0,169.0C80.0,162.3 79.2,165.7 82.5,159.0C85.8,152.3 46.7,152.3 85.0,149.0C123.3,145.7 160.0,93.2 197.5,149.0C235.0,204.8 213.3,260.7 197.5,316.5C181.7,372.3 165.4,324.0 150.0,316.5C134.6,309.0 151.2,308.2 151.2,294.0C151.2,279.8 151.2,287.3 150.0,274.0C148.8,260.7 150.0,266.5 147.5,254.0C145.0,241.5 145.8,248.2 142.5,236.5C139.2,224.8 141.7,229.8 137.5,219.0C133.3,208.2 136.7,210.7 130.0,204.0C123.3,197.3 127.5,199.4 117.5,199.0C107.5,198.6 110.0,199.8 100.0,202.8C90.0,205.7 95.8,206.9 87.5,207.8C79.2,208.6 83.3,205.2 75.0,205.2C66.7,205.2 70.8,208.2 62.5,207.8C54.2,207.3 58.3,205.7 50.0,204.0C41.7,202.3 46.7,204.0 37.5,202.8C28.3,201.5 31.7,199.8 22.5,200.2C13.3,200.7 19.2,203.6 10.0,204.0C0.8,204.4 0.0,206.5 -5.0,201.5C-10.0,196.5 -9.2,193.6 -5.0,189.0Z" fill="none" stroke="rgba(196,194,186,0.92)" stroke-width="8.6" stroke-linejoin="round"/>
<path d="M-5.0,189.0C-0.8,184.4 -2.5,186.9 7.5,187.8C17.5,188.6 13.3,191.9 25.0,191.5C36.7,191.1 31.7,188.6 42.5,186.5C53.3,184.4 49.2,187.8 57.5,185.2C65.8,182.8 61.7,184.4 67.5,179.0C73.3,173.6 70.0,175.7 75.0,169.0C80.0,162.3 79.2,165.7 82.5,159.0C85.8,152.3 46.7,152.3 85.0,149.0C123.3,145.7 160.0,93.2 197.5,149.0C235.0,204.8 213.3,260.7 197.5,316.5C181.7,372.3 165.4,324.0 150.0,316.5C134.6,309.0 151.2,308.2 151.2,294.0C151.2,279.8 151.2,287.3 150.0,274.0C148.8,260.7 150.0,266.5 147.5,254.0C145.0,241.5 145.8,248.2 142.5,236.5C139.2,224.8 141.7,229.8 137.5,219.0C133.3,208.2 136.7,210.7 130.0,204.0C123.3,197.3 127.5,199.4 117.5,199.0C107.5,198.6 110.0,199.8 100.0,202.8C90.0,205.7 95.8,206.9 87.5,207.8C79.2,208.6 83.3,205.2 75.0,205.2C66.7,205.2 70.8,208.2 62.5,207.8C54.2,207.3 58.3,205.7 50.0,204.0C41.7,202.3 46.7,204.0 37.5,202.8C28.3,201.5 31.7,199.8 22.5,200.2C13.3,200.7 19.2,203.6 10.0,204.0C0.8,204.4 0.0,206.5 -5.0,201.5C-10.0,196.5 -9.2,193.6 -5.0,189.0Z" fill="none" stroke="#3a9bfe" stroke-width="7.0" stroke-linejoin="round"/>
<path d="M-5.0,189.0C-0.8,184.4 -2.5,186.9 7.5,187.8C17.5,188.6 13.3,191.9 25.0,191.5C36.7,191.1 31.7,188.6 42.5,186.5C53.3,184.4 49.2,187.8 57.5,185.2C65.8,182.8 61.7,184.4 67.5,179.0C73.3,173.6 70.0,175.7 75.0,169.0C80.0,162.3 79.2,165.7 82.5,159.0C85.8,152.3 46.7,152.3 85.0,149.0C123.3,145.7 160.0,93.2 197.5,149.0C235.0,204.8 213.3,260.7 197.5,316.5C181.7,372.3 165.4,324.0 150.0,316.5C134.6,309.0 151.2,308.2 151.2,294.0C151.2,279.8 151.2,287.3 150.0,274.0C148.8,260.7 150.0,266.5 147.5,254.0C145.0,241.5 145.8,248.2 142.5,236.5C139.2,224.8 141.7,229.8 137.5,219.0C133.3,208.2 136.7,210.7 130.0,204.0C123.3,197.3 127.5,199.4 117.5,199.0C107.5,198.6 110.0,199.8 100.0,202.8C90.0,205.7 95.8,206.9 87.5,207.8C79.2,208.6 83.3,205.2 75.0,205.2C66.7,205.2 70.8,208.2 62.5,207.8C54.2,207.3 58.3,205.7 50.0,204.0C41.7,202.3 46.7,204.0 37.5,202.8C28.3,201.5 31.7,199.8 22.5,200.2C13.3,200.7 19.2,203.6 10.0,204.0C0.8,204.4 0.0,206.5 -5.0,201.5C-10.0,196.5 -9.2,193.6 -5.0,189.0Z" fill="none" stroke="rgba(196,194,186,0.92)" stroke-width="5.1" stroke-linejoin="round"/>
<path d="M-5.0,189.0C-0.8,184.4 -2.5,186.9 7.5,187.8C17.5,188.6 13.3,191.9 25.0,191.5C36.7,191.1 31.7,188.6 42.5,186.5C53.3,184.4 49.2,187.8 57.5,185.2C65.8,182.8 61.7,184.4 67.5,179.0C73.3,173.6 70.0,175.7 75.0,169.0C80.0,162.3 79.2,165.7 82.5,159.0C85.8,152.3 46.7,152.3 85.0,149.0C123.3,145.7 160.0,93.2 197.5,149.0C235.0,204.8 213.3,260.7 197.5,316.5C181.7,372.3 165.4,324.0 150.0,316.5C134.6,309.0 151.2,308.2 151.2,294.0C151.2,279.8 151.2,287.3 150.0,274.0C148.8,260.7 150.0,266.5 147.5,254.0C145.0,241.5 145.8,248.2 142.5,236.5C139.2,224.8 141.7,229.8 137.5,219.0C133.3,208.2 136.7,210.7 130.0,204.0C123.3,197.3 127.5,199.4 117.5,199.0C107.5,198.6 110.0,199.8 100.0,202.8C90.0,205.7 95.8,206.9 87.5,207.8C79.2,208.6 83.3,205.2 75.0,205.2C66.7,205.2 70.8,208.2 62.5,207.8C54.2,207.3 58.3,205.7 50.0,204.0C41.7,202.3 46.7,204.0 37.5,202.8C28.3,201.5 31.7,199.8 22.5,200.2C13.3,200.7 19.2,203.6 10.0,204.0C0.8,204.4 0.0,206.5 -5.0,201.5C-10.0,196.5 -9.2,193.6 -5.0,189.0Z" fill="none" stroke="#3a9bfe" stroke-width="3.5" stroke-linejoin="round"/>
<path d="M-5.0,189.0C-0.8,184.4 -2.5,186.9 7.5,187.8C17.5,188.6 13.3,191.9 25.0,191.5C36.7,191.1 31.7,188.6 42.5,186.5C53.3,184.4 49.2,187.8 57.5,185.2C65.8,182.8 61.7,184.4 67.5,179.0C73.3,173.6 70.0,175.7 75.0,169.0C80.0,162.3 79.2,165.7 82.5,159.0C85.8,152.3 46.7,152.3 85.0,149.0C123.3,145.7 160.0,93.2 197.5,149.0C235.0,204.8 213.3,260.7 197.5,316.5C181.7,372.3 165.4,324.0 150.0,316.5C134.6,309.0 151.2,308.2 151.2,294.0C151.2,279.8 151.2,287.3 150.0,274.0C148.8,260.7 150.0,266.5 147.5,254.0C145.0,241.5 145.8,248.2 142.5,236.5C139.2,224.8 141.7,229.8 137.5,219.0C133.3,208.2 136.7,210.7 130.0,204.0C123.3,197.3 127.5,199.4 117.5,199.0C107.5,198.6 110.0,199.8 100.0,202.8C90.0,205.7 95.8,206.9 87.5,207.8C79.2,208.6 83.3,205.2 75.0,205.2C66.7,205.2 70.8,208.2 62.5,207.8C54.2,207.3 58.3,205.7 50.0,204.0C41.7,202.3 46.7,204.0 37.5,202.8C28.3,201.5 31.7,199.8 22.5,200.2C13.3,200.7 19.2,203.6 10.0,204.0C0.8,204.4 0.0,206.5 -5.0,201.5C-10.0,196.5 -9.2,193.6 -5.0,189.0Z" fill="#7abcfe" stroke="rgba(196,194,186,0.92)" stroke-width="0.9"/>
<path d="M86.2,149.0C48.3,154.0 86.7,154.8 83.8,164.0C80.8,173.2 82.5,168.2 77.5,176.5C72.5,184.8 72.1,181.9 68.8,189.0C65.4,196.1 62.9,194.0 67.5,197.8C72.1,201.5 73.3,200.7 82.5,200.2C91.7,199.8 85.8,198.2 95.0,196.5C104.2,194.8 98.3,196.9 110.0,195.2C121.7,193.6 121.2,189.4 130.0,191.5C138.8,193.6 132.1,194.0 136.2,201.5C140.4,209.0 139.2,204.8 142.5,214.0C145.8,223.2 143.8,219.0 146.2,229.0C148.8,239.0 147.9,234.0 150.0,244.0C152.1,254.0 151.2,234.8 152.5,259.0C153.8,283.2 138.8,297.3 153.8,316.5C168.8,335.7 182.9,372.3 197.5,316.5C212.1,260.7 234.6,204.8 197.5,149.0C160.4,93.2 124.2,144.0 86.2,149.0Z" fill="#a9a9cb"/>
<path d="M92.5,177.8C97.5,172.3 97.5,175.7 110.0,175.2C122.5,174.8 123.3,172.8 130.0,176.5C136.7,180.2 135.0,182.3 130.0,186.5C125.0,190.7 123.3,186.5 115.0,189.0C106.7,191.5 111.7,193.2 105.0,194.0C98.3,194.8 99.2,196.9 95.0,191.5C90.8,186.1 87.5,183.2 92.5,177.8Z" fill="#dcdcf8"/>
<path d="M140.0,149.0C120.0,154.0 138.8,154.0 137.5,164.0C136.2,174.0 135.4,169.0 136.2,179.0C137.1,189.0 136.7,185.7 140.0,194.0C143.3,202.3 139.6,201.1 146.2,204.0C152.9,206.9 150.4,204.4 160.0,202.8C169.6,201.1 162.5,201.1 175.0,199.0C187.5,196.9 190.0,213.2 197.5,196.5C205.0,179.8 216.7,164.8 197.5,149.0C178.3,133.2 160.0,144.0 140.0,149.0Z" fill="#dcdcf8"/>
<path d="M146.2,207.8C150.4,202.8 150.4,206.5 160.0,204.0C169.6,201.5 162.5,202.3 175.0,200.2C187.5,198.2 190.0,159.0 197.5,197.8C205.0,236.5 211.2,276.9 197.5,316.5C183.8,356.1 170.4,324.0 156.2,316.5C142.1,309.0 155.8,308.2 155.0,294.0C154.2,279.8 155.0,287.3 153.8,274.0C152.5,260.7 152.9,267.3 151.2,254.0C149.6,240.7 150.0,245.7 148.8,234.0C147.5,222.3 148.3,227.8 147.5,219.0C146.7,210.2 142.1,212.8 146.2,207.8Z" fill="#f6f6fa"/>
<path d="M57.5,192.8C57.5,193.6 57.7,193.3 56.8,194.0C55.8,194.7 56.3,194.5 54.8,194.9C53.2,195.3 53.8,195.2 52.0,195.2C50.2,195.2 50.8,195.3 49.2,194.9C47.7,194.5 48.2,194.7 47.2,194.0C46.3,193.3 46.5,193.6 46.5,192.8C46.5,191.9 46.3,192.2 47.2,191.5C48.2,190.8 47.7,191.0 49.2,190.6C50.8,190.2 50.2,190.2 52.0,190.2C53.8,190.2 53.2,190.2 54.8,190.6C56.3,191.0 55.8,190.8 56.8,191.5C57.7,192.2 57.5,191.9 57.5,192.8Z" fill="#f6f6fa"/>
<path d="M76.2,187.8 L85.0,192.8 L76.2,197.8Z" fill="#f6f6fa"/>
<path d="M11.2,191.5C11.2,192.5 11.5,192.1 10.4,193.0C9.4,193.9 9.9,193.6 8.1,194.1C6.3,194.6 7.1,194.5 5.0,194.5C2.9,194.5 3.7,194.6 1.9,194.1C0.1,193.6 0.6,193.9 -0.4,193.0C-1.5,192.1 -1.2,192.5 -1.2,191.5C-1.2,190.5 -1.5,190.9 -0.4,190.0C0.6,189.1 0.1,189.4 1.9,188.9C3.7,188.4 2.9,188.5 5.0,188.5C7.1,188.5 6.3,188.4 8.1,188.9C9.9,189.4 9.4,189.1 10.4,190.0C11.5,190.9 11.2,190.5 11.2,191.5Z" fill="#a9a9cb"/>
<path d="M-5.0,239.0C1.7,212.8 3.3,239.4 15.0,237.8C26.7,236.1 20.0,236.9 30.0,234.0C40.0,231.1 35.0,230.7 45.0,229.0C55.0,227.3 51.7,226.5 60.0,229.0C68.3,231.5 62.5,232.3 70.0,236.5C77.5,240.7 73.3,239.8 82.5,241.5C91.7,243.2 89.2,239.8 97.5,241.5C105.8,243.2 103.3,241.5 107.5,246.5C111.7,251.5 112.5,250.7 110.0,256.5C107.5,262.3 108.3,260.7 100.0,264.0C91.7,267.3 94.2,264.0 85.0,266.5C75.8,269.0 79.2,265.7 72.5,271.5C65.8,277.3 68.3,275.7 65.0,284.0C61.7,292.3 60.8,289.0 62.5,296.5C64.2,304.0 65.8,299.8 70.0,306.5C74.2,313.2 100.0,313.2 75.0,316.5C50.0,319.8 21.7,342.3 -5.0,316.5C-31.7,290.7 -11.7,265.2 -5.0,239.0Z" fill="#680084" stroke="rgba(196,194,186,0.92)" stroke-width="0.9"/>
<clipPath id="r4"><path d="M-5.0,239.0C1.7,212.8 3.3,239.4 15.0,237.8C26.7,236.1 20.0,236.9 30.0,234.0C40.0,231.1 35.0,230.7 45.0,229.0C55.0,227.3 51.7,226.5 60.0,229.0C68.3,231.5 62.5,232.3 70.0,236.5C77.5,240.7 73.3,239.8 82.5,241.5C91.7,243.2 89.2,239.8 97.5,241.5C105.8,243.2 103.3,241.5 107.5,246.5C111.7,251.5 112.5,250.7 110.0,256.5C107.5,262.3 108.3,260.7 100.0,264.0C91.7,267.3 94.2,264.0 85.0,266.5C75.8,269.0 79.2,265.7 72.5,271.5C65.8,277.3 68.3,275.7 65.0,284.0C61.7,292.3 60.8,289.0 62.5,296.5C64.2,304.0 65.8,299.8 70.0,306.5C74.2,313.2 100.0,313.2 75.0,316.5C50.0,319.8 21.7,342.3 -5.0,316.5C-31.7,290.7 -11.7,265.2 -5.0,239.0Z"/></clipPath><g clip-path="url(#r4)">
<path d="M-5.0,239.0C1.7,212.8 3.3,239.4 15.0,237.8C26.7,236.1 20.0,236.9 30.0,234.0C40.0,231.1 35.0,230.7 45.0,229.0C55.0,227.3 51.7,226.5 60.0,229.0C68.3,231.5 62.5,232.3 70.0,236.5C77.5,240.7 73.3,239.8 82.5,241.5C91.7,243.2 89.2,239.8 97.5,241.5C105.8,243.2 103.3,241.5 107.5,246.5C111.7,251.5 112.5,250.7 110.0,256.5C107.5,262.3 108.3,260.7 100.0,264.0C91.7,267.3 94.2,264.0 85.0,266.5C75.8,269.0 79.2,265.7 72.5,271.5C65.8,277.3 68.3,275.7 65.0,284.0C61.7,292.3 60.8,289.0 62.5,296.5C64.2,304.0 65.8,299.8 70.0,306.5C74.2,313.2 100.0,313.2 75.0,316.5C50.0,319.8 21.7,342.3 -5.0,316.5C-31.7,290.7 -11.7,265.2 -5.0,239.0Z" fill="none" stroke="rgba(196,194,186,0.92)" stroke-width="9.7" stroke-linejoin="round"/>
<path d="M-5.0,239.0C1.7,212.8 3.3,239.4 15.0,237.8C26.7,236.1 20.0,236.9 30.0,234.0C40.0,231.1 35.0,230.7 45.0,229.0C55.0,227.3 51.7,226.5 60.0,229.0C68.3,231.5 62.5,232.3 70.0,236.5C77.5,240.7 73.3,239.8 82.5,241.5C91.7,243.2 89.2,239.8 97.5,241.5C105.8,243.2 103.3,241.5 107.5,246.5C111.7,251.5 112.5,250.7 110.0,256.5C107.5,262.3 108.3,260.7 100.0,264.0C91.7,267.3 94.2,264.0 85.0,266.5C75.8,269.0 79.2,265.7 72.5,271.5C65.8,277.3 68.3,275.7 65.0,284.0C61.7,292.3 60.8,289.0 62.5,296.5C64.2,304.0 65.8,299.8 70.0,306.5C74.2,313.2 100.0,313.2 75.0,316.5C50.0,319.8 21.7,342.3 -5.0,316.5C-31.7,290.7 -11.7,265.2 -5.0,239.0Z" fill="none" stroke="#680084" stroke-width="8.0" stroke-linejoin="round"/>
</g>
<path d="M-5.0,254.0C1.7,232.3 2.5,251.5 15.0,251.5C27.5,251.5 20.8,254.4 32.5,254.0C44.2,253.6 39.2,252.8 50.0,250.2C60.8,247.8 58.3,245.2 65.0,246.5C71.7,247.8 70.8,247.3 70.0,254.0C69.2,260.7 67.5,258.2 62.5,266.5C57.5,274.8 60.0,271.5 55.0,279.0C50.0,286.5 51.7,280.7 47.5,289.0C43.3,297.3 45.0,294.8 42.5,304.0C40.0,313.2 55.8,312.3 40.0,316.5C24.2,320.7 10.0,337.3 -5.0,316.5C-20.0,295.7 -11.7,275.7 -5.0,254.0Z" fill="#9200be" stroke="rgba(196,194,186,0.92)" stroke-width="0.9"/>
<clipPath id="r5"><path d="M-5.0,254.0C1.7,232.3 2.5,251.5 15.0,251.5C27.5,251.5 20.8,254.4 32.5,254.0C44.2,253.6 39.2,252.8 50.0,250.2C60.8,247.8 58.3,245.2 65.0,246.5C71.7,247.8 70.8,247.3 70.0,254.0C69.2,260.7 67.5,258.2 62.5,266.5C57.5,274.8 60.0,271.5 55.0,279.0C50.0,286.5 51.7,280.7 47.5,289.0C43.3,297.3 45.0,294.8 42.5,304.0C40.0,313.2 55.8,312.3 40.0,316.5C24.2,320.7 10.0,337.3 -5.0,316.5C-20.0,295.7 -11.7,275.7 -5.0,254.0Z"/></clipPath><g clip-path="url(#r5)">
<path d="M-5.0,254.0C1.7,232.3 2.5,251.5 15.0,251.5C27.5,251.5 20.8,254.4 32.5,254.0C44.2,253.6 39.2,252.8 50.0,250.2C60.8,247.8 58.3,245.2 65.0,246.5C71.7,247.8 70.8,247.3 70.0,254.0C69.2,260.7 67.5,258.2 62.5,266.5C57.5,274.8 60.0,271.5 55.0,279.0C50.0,286.5 51.7,280.7 47.5,289.0C43.3,297.3 45.0,294.8 42.5,304.0C40.0,313.2 55.8,312.3 40.0,316.5C24.2,320.7 10.0,337.3 -5.0,316.5C-20.0,295.7 -11.7,275.7 -5.0,254.0Z" fill="none" stroke="rgba(196,194,186,0.92)" stroke-width="9.7" stroke-linejoin="round"/>
<path d="M-5.0,254.0C1.7,232.3 2.5,251.5 15.0,251.5C27.5,251.5 20.8,254.4 32.5,254.0C44.2,253.6 39.2,252.8 50.0,250.2C60.8,247.8 58.3,245.2 65.0,246.5C71.7,247.8 70.8,247.3 70.0,254.0C69.2,260.7 67.5,258.2 62.5,266.5C57.5,274.8 60.0,271.5 55.0,279.0C50.0,286.5 51.7,280.7 47.5,289.0C43.3,297.3 45.0,294.8 42.5,304.0C40.0,313.2 55.8,312.3 40.0,316.5C24.2,320.7 10.0,337.3 -5.0,316.5C-20.0,295.7 -11.7,275.7 -5.0,254.0Z" fill="none" stroke="#9200be" stroke-width="8.0" stroke-linejoin="round"/>
</g>
<path d="M-5.0,271.5C0.0,257.3 1.7,274.0 10.0,274.0C18.3,274.0 15.0,268.2 20.0,271.5C25.0,274.8 24.2,274.8 25.0,284.0C25.8,293.2 21.7,288.2 22.5,299.0C23.3,309.8 36.7,310.7 27.5,316.5C18.3,322.3 5.8,331.5 -5.0,316.5C-15.8,301.5 -10.0,285.7 -5.0,271.5Z" fill="#bc00f2" stroke="rgba(196,194,186,0.92)" stroke-width="0.9"/>
<path d="M100.0,291.5C100.0,293.6 100.3,292.8 98.8,294.6C97.4,296.4 98.2,295.9 95.6,296.9C93.1,298.0 94.2,297.8 91.2,297.8C88.3,297.8 89.4,298.0 86.9,296.9C84.3,295.9 85.1,296.4 83.7,294.6C82.2,292.8 82.5,293.6 82.5,291.5C82.5,289.4 82.2,290.2 83.7,288.4C85.1,286.6 84.3,287.1 86.9,286.1C89.4,285.0 88.3,285.2 91.2,285.2C94.2,285.2 93.1,285.0 95.6,286.1C98.2,287.1 97.4,286.6 98.8,288.4C100.3,290.2 100.0,289.4 100.0,291.5Z" fill="#680084" stroke="rgba(196,194,186,0.92)" stroke-width="0.9"/>
<path d="M70.0,316.5C59.2,312.8 67.5,310.1 72.5,305.2C77.5,300.4 75.8,302.2 85.0,302.0C94.2,301.8 93.3,299.7 100.0,304.5C106.7,309.3 115.0,312.5 105.0,316.5C95.0,320.5 80.8,320.2 70.0,316.5Z" fill="#012f82" stroke="rgba(196,194,186,0.92)" stroke-width="0.9"/>
<path d="M56.2,237.8C56.2,232.8 57.1,230.2 58.8,230.2C60.4,230.2 61.2,232.8 61.2,237.8C61.2,242.8 60.4,245.2 58.8,245.2C57.1,245.2 56.2,242.8 56.2,237.8Z" fill="none" stroke="rgba(196,194,186,0.92)" stroke-width="0.9"/>
</g>
<g clip-path="url(#c02)">
<rect x="0" y="308" width="190" height="154" fill="#9200be"/>
<path d="M-5.0,383.0C0.0,371.3 0.0,383.8 10.0,385.5C20.0,387.2 15.0,383.8 25.0,388.0C35.0,392.2 31.7,391.3 40.0,398.0C48.3,404.7 49.2,400.5 50.0,408.0C50.8,415.5 48.3,413.8 42.5,420.5C36.7,427.2 41.7,426.3 32.5,428.0C23.3,429.7 27.5,428.0 15.0,425.5C2.5,423.0 1.7,434.7 -5.0,420.5C-11.7,406.3 -10.0,394.7 -5.0,383.0Z" fill="#bc00f2" stroke="rgba(196,194,186,0.92)" stroke-width="0.9"/>
<clipPath id="r6"><path d="M-5.0,383.0C0.0,371.3 0.0,383.8 10.0,385.5C20.0,387.2 15.0,383.8 25.0,388.0C35.0,392.2 31.7,391.3 40.0,398.0C48.3,404.7 49.2,400.5 50.0,408.0C50.8,415.5 48.3,413.8 42.5,420.5C36.7,427.2 41.7,426.3 32.5,428.0C23.3,429.7 27.5,428.0 15.0,425.5C2.5,423.0 1.7,434.7 -5.0,420.5C-11.7,406.3 -10.0,394.7 -5.0,383.0Z"/></clipPath><g clip-path="url(#r6)">
<path d="M-5.0,383.0C0.0,371.3 0.0,383.8 10.0,385.5C20.0,387.2 15.0,383.8 25.0,388.0C35.0,392.2 31.7,391.3 40.0,398.0C48.3,404.7 49.2,400.5 50.0,408.0C50.8,415.5 48.3,413.8 42.5,420.5C36.7,427.2 41.7,426.3 32.5,428.0C23.3,429.7 27.5,428.0 15.0,425.5C2.5,423.0 1.7,434.7 -5.0,420.5C-11.7,406.3 -10.0,394.7 -5.0,383.0Z" fill="none" stroke="rgba(196,194,186,0.92)" stroke-width="9.7" stroke-linejoin="round"/>
<path d="M-5.0,383.0C0.0,371.3 0.0,383.8 10.0,385.5C20.0,387.2 15.0,383.8 25.0,388.0C35.0,392.2 31.7,391.3 40.0,398.0C48.3,404.7 49.2,400.5 50.0,408.0C50.8,415.5 48.3,413.8 42.5,420.5C36.7,427.2 41.7,426.3 32.5,428.0C23.3,429.7 27.5,428.0 15.0,425.5C2.5,423.0 1.7,434.7 -5.0,420.5C-11.7,406.3 -10.0,394.7 -5.0,383.0Z" fill="none" stroke="#bc00f2" stroke-width="8.0" stroke-linejoin="round"/>
</g>
<path d="M47.5,350.5C51.7,343.8 56.5,345.9 62.5,349.2C68.5,352.6 66.3,353.4 65.5,360.5C64.7,367.6 65.2,367.6 60.0,370.5C54.8,373.4 54.2,375.9 50.0,369.2C45.8,362.6 43.3,357.2 47.5,350.5Z" fill="#bc00f2" stroke="rgba(196,194,186,0.92)" stroke-width="0.9"/>
<path d="M89.5,398.0C89.5,399.8 89.7,399.2 88.8,400.8C88.0,402.3 88.4,401.8 87.0,402.8C85.6,403.7 86.2,403.5 84.5,403.5C82.8,403.5 83.4,403.7 82.0,402.8C80.6,401.8 81.0,402.3 80.2,400.8C79.3,399.2 79.5,399.8 79.5,398.0C79.5,396.2 79.3,396.8 80.2,395.2C81.0,393.7 80.6,394.2 82.0,393.2C83.4,392.3 82.8,392.5 84.5,392.5C86.2,392.5 85.6,392.3 87.0,393.2C88.4,394.2 88.0,393.7 88.8,395.2C89.7,396.8 89.5,396.2 89.5,398.0Z" fill="#bc00f2" stroke="rgba(196,194,186,0.92)" stroke-width="0.9"/>
<path d="M13.8,400.5C13.8,403.0 14.0,402.1 12.9,404.2C11.9,406.4 12.4,405.7 10.6,407.0C8.8,408.2 9.6,408.0 7.5,408.0C5.4,408.0 6.2,408.2 4.4,407.0C2.6,405.7 3.1,406.4 2.1,404.2C1.0,402.1 1.2,403.0 1.2,400.5C1.2,398.0 1.0,398.9 2.1,396.8C3.1,394.6 2.6,395.3 4.4,394.0C6.2,392.8 5.4,393.0 7.5,393.0C9.6,393.0 8.8,392.8 10.6,394.0C12.4,395.3 11.9,394.6 12.9,396.8C14.0,398.9 13.8,398.0 13.8,400.5Z" fill="#d030fc" stroke="rgba(196,194,186,0.92)" stroke-width="0.9"/>
<path d="M40.5,363.0C40.5,367.3 40.8,365.7 39.4,369.5C38.1,373.3 38.8,372.1 36.5,374.3C34.2,376.4 35.2,376.0 32.5,376.0C29.8,376.0 30.8,376.4 28.5,374.3C26.2,372.1 26.9,373.3 25.6,369.5C24.2,365.7 24.5,367.3 24.5,363.0C24.5,358.7 24.2,360.3 25.6,356.5C26.9,352.7 26.2,353.9 28.5,351.7C30.8,349.6 29.8,350.0 32.5,350.0C35.2,350.0 34.2,349.6 36.5,351.7C38.8,353.9 38.1,352.7 39.4,356.5C40.8,360.3 40.5,358.7 40.5,363.0Z" fill="#4a0084" stroke="rgba(196,194,186,0.92)" stroke-width="0.9"/>
<path d="M50.0,303.0C44.2,310.5 48.3,312.2 52.5,325.5C56.7,338.8 53.3,333.0 62.5,343.0C71.7,353.0 69.2,347.6 80.0,355.5C90.8,363.4 88.3,358.4 95.0,366.8C101.7,375.1 99.2,371.8 100.0,380.5C100.8,389.2 100.8,383.8 97.5,393.0C94.2,402.2 97.5,403.4 90.0,408.0C82.5,412.6 85.8,406.3 75.0,406.8C64.2,407.2 67.5,405.5 57.5,409.2C47.5,413.0 50.4,410.9 45.0,418.0C39.6,425.1 39.6,421.8 41.2,430.5C42.9,439.2 44.6,435.1 50.0,444.2C55.4,453.4 54.2,449.2 57.5,458.0C60.8,466.8 27.5,466.3 60.0,470.5C92.5,474.7 126.7,481.3 155.0,470.5C183.3,459.7 151.2,457.2 145.0,438.0C138.8,418.8 142.1,428.8 136.2,413.0C130.4,397.2 136.2,403.0 127.5,390.5C118.8,378.0 119.2,388.0 110.0,375.5C100.8,363.0 108.3,363.0 100.0,353.0C91.7,343.0 92.9,352.2 85.0,345.5C77.1,338.8 80.8,342.2 76.2,333.0C71.7,323.8 73.3,328.0 71.2,318.0C69.2,308.0 77.1,308.0 70.0,303.0C62.9,298.0 55.8,295.5 50.0,303.0Z" fill="#680084" stroke="rgba(196,194,186,0.92)" stroke-width="0.9"/>
<clipPath id="r7"><path d="M50.0,303.0C44.2,310.5 48.3,312.2 52.5,325.5C56.7,338.8 53.3,333.0 62.5,343.0C71.7,353.0 69.2,347.6 80.0,355.5C90.8,363.4 88.3,358.4 95.0,366.8C101.7,375.1 99.2,371.8 100.0,380.5C100.8,389.2 100.8,383.8 97.5,393.0C94.2,402.2 97.5,403.4 90.0,408.0C82.5,412.6 85.8,406.3 75.0,406.8C64.2,407.2 67.5,405.5 57.5,409.2C47.5,413.0 50.4,410.9 45.0,418.0C39.6,425.1 39.6,421.8 41.2,430.5C42.9,439.2 44.6,435.1 50.0,444.2C55.4,453.4 54.2,449.2 57.5,458.0C60.8,466.8 27.5,466.3 60.0,470.5C92.5,474.7 126.7,481.3 155.0,470.5C183.3,459.7 151.2,457.2 145.0,438.0C138.8,418.8 142.1,428.8 136.2,413.0C130.4,397.2 136.2,403.0 127.5,390.5C118.8,378.0 119.2,388.0 110.0,375.5C100.8,363.0 108.3,363.0 100.0,353.0C91.7,343.0 92.9,352.2 85.0,345.5C77.1,338.8 80.8,342.2 76.2,333.0C71.7,323.8 73.3,328.0 71.2,318.0C69.2,308.0 77.1,308.0 70.0,303.0C62.9,298.0 55.8,295.5 50.0,303.0Z"/></clipPath><g clip-path="url(#r7)">
<path d="M50.0,303.0C44.2,310.5 48.3,312.2 52.5,325.5C56.7,338.8 53.3,333.0 62.5,343.0C71.7,353.0 69.2,347.6 80.0,355.5C90.8,363.4 88.3,358.4 95.0,366.8C101.7,375.1 99.2,371.8 100.0,380.5C100.8,389.2 100.8,383.8 97.5,393.0C94.2,402.2 97.5,403.4 90.0,408.0C82.5,412.6 85.8,406.3 75.0,406.8C64.2,407.2 67.5,405.5 57.5,409.2C47.5,413.0 50.4,410.9 45.0,418.0C39.6,425.1 39.6,421.8 41.2,430.5C42.9,439.2 44.6,435.1 50.0,444.2C55.4,453.4 54.2,449.2 57.5,458.0C60.8,466.8 27.5,466.3 60.0,470.5C92.5,474.7 126.7,481.3 155.0,470.5C183.3,459.7 151.2,457.2 145.0,438.0C138.8,418.8 142.1,428.8 136.2,413.0C130.4,397.2 136.2,403.0 127.5,390.5C118.8,378.0 119.2,388.0 110.0,375.5C100.8,363.0 108.3,363.0 100.0,353.0C91.7,343.0 92.9,352.2 85.0,345.5C77.1,338.8 80.8,342.2 76.2,333.0C71.7,323.8 73.3,328.0 71.2,318.0C69.2,308.0 77.1,308.0 70.0,303.0C62.9,298.0 55.8,295.5 50.0,303.0Z" fill="none" stroke="rgba(196,194,186,0.92)" stroke-width="9.7" stroke-linejoin="round"/>
<path d="M50.0,303.0C44.2,310.5 48.3,312.2 52.5,325.5C56.7,338.8 53.3,333.0 62.5,343.0C71.7,353.0 69.2,347.6 80.0,355.5C90.8,363.4 88.3,358.4 95.0,366.8C101.7,375.1 99.2,371.8 100.0,380.5C100.8,389.2 100.8,383.8 97.5,393.0C94.2,402.2 97.5,403.4 90.0,408.0C82.5,412.6 85.8,406.3 75.0,406.8C64.2,407.2 67.5,405.5 57.5,409.2C47.5,413.0 50.4,410.9 45.0,418.0C39.6,425.1 39.6,421.8 41.2,430.5C42.9,439.2 44.6,435.1 50.0,444.2C55.4,453.4 54.2,449.2 57.5,458.0C60.8,466.8 27.5,466.3 60.0,470.5C92.5,474.7 126.7,481.3 155.0,470.5C183.3,459.7 151.2,457.2 145.0,438.0C138.8,418.8 142.1,428.8 136.2,413.0C130.4,397.2 136.2,403.0 127.5,390.5C118.8,378.0 119.2,388.0 110.0,375.5C100.8,363.0 108.3,363.0 100.0,353.0C91.7,343.0 92.9,352.2 85.0,345.5C77.1,338.8 80.8,342.2 76.2,333.0C71.7,323.8 73.3,328.0 71.2,318.0C69.2,308.0 77.1,308.0 70.0,303.0C62.9,298.0 55.8,295.5 50.0,303.0Z" fill="none" stroke="#680084" stroke-width="8.0" stroke-linejoin="round"/>
</g>
<path d="M105.0,390.5C109.2,395.1 110.8,388.4 117.5,394.2C124.2,400.1 122.9,399.2 125.0,408.0C127.1,416.8 127.1,412.2 123.8,420.5C120.4,428.8 122.1,427.2 115.0,433.0C107.9,438.8 109.2,433.0 102.5,438.0C95.8,443.0 97.9,437.2 95.0,448.0C92.1,458.8 75.4,463.0 93.8,470.5C112.1,478.0 133.8,481.3 150.0,470.5C166.2,459.7 147.5,457.2 142.5,438.0C137.5,418.8 140.4,428.4 135.0,413.0C129.6,397.6 133.8,404.2 126.2,391.8C118.8,379.2 119.6,379.2 112.5,375.5C105.4,371.8 107.5,375.5 105.0,380.5C102.5,385.5 100.8,385.9 105.0,390.5Z" fill="#4a0084" stroke="rgba(196,194,186,0.92)" stroke-width="0.9"/>
<clipPath id="r8"><path d="M105.0,390.5C109.2,395.1 110.8,388.4 117.5,394.2C124.2,400.1 122.9,399.2 125.0,408.0C127.1,416.8 127.1,412.2 123.8,420.5C120.4,428.8 122.1,427.2 115.0,433.0C107.9,438.8 109.2,433.0 102.5,438.0C95.8,443.0 97.9,437.2 95.0,448.0C92.1,458.8 75.4,463.0 93.8,470.5C112.1,478.0 133.8,481.3 150.0,470.5C166.2,459.7 147.5,457.2 142.5,438.0C137.5,418.8 140.4,428.4 135.0,413.0C129.6,397.6 133.8,404.2 126.2,391.8C118.8,379.2 119.6,379.2 112.5,375.5C105.4,371.8 107.5,375.5 105.0,380.5C102.5,385.5 100.8,385.9 105.0,390.5Z"/></clipPath><g clip-path="url(#r8)">
<path d="M105.0,390.5C109.2,395.1 110.8,388.4 117.5,394.2C124.2,400.1 122.9,399.2 125.0,408.0C127.1,416.8 127.1,412.2 123.8,420.5C120.4,428.8 122.1,427.2 115.0,433.0C107.9,438.8 109.2,433.0 102.5,438.0C95.8,443.0 97.9,437.2 95.0,448.0C92.1,458.8 75.4,463.0 93.8,470.5C112.1,478.0 133.8,481.3 150.0,470.5C166.2,459.7 147.5,457.2 142.5,438.0C137.5,418.8 140.4,428.4 135.0,413.0C129.6,397.6 133.8,404.2 126.2,391.8C118.8,379.2 119.6,379.2 112.5,375.5C105.4,371.8 107.5,375.5 105.0,380.5C102.5,385.5 100.8,385.9 105.0,390.5Z" fill="none" stroke="rgba(196,194,186,0.92)" stroke-width="8.7" stroke-linejoin="round"/>
<path d="M105.0,390.5C109.2,395.1 110.8,388.4 117.5,394.2C124.2,400.1 122.9,399.2 125.0,408.0C127.1,416.8 127.1,412.2 123.8,420.5C120.4,428.8 122.1,427.2 115.0,433.0C107.9,438.8 109.2,433.0 102.5,438.0C95.8,443.0 97.9,437.2 95.0,448.0C92.1,458.8 75.4,463.0 93.8,470.5C112.1,478.0 133.8,481.3 150.0,470.5C166.2,459.7 147.5,457.2 142.5,438.0C137.5,418.8 140.4,428.4 135.0,413.0C129.6,397.6 133.8,404.2 126.2,391.8C118.8,379.2 119.6,379.2 112.5,375.5C105.4,371.8 107.5,375.5 105.0,380.5C102.5,385.5 100.8,385.9 105.0,390.5Z" fill="none" stroke="#4a0084" stroke-width="7.0" stroke-linejoin="round"/>
</g>
<path d="M83.0,440.5C83.0,443.8 83.2,442.6 82.3,445.5C81.3,448.4 81.8,447.5 80.2,449.2C78.7,450.8 79.3,450.5 77.5,450.5C75.7,450.5 76.3,450.8 74.8,449.2C73.2,447.5 73.7,448.4 72.7,445.5C71.8,442.6 72.0,443.8 72.0,440.5C72.0,437.2 71.8,438.4 72.7,435.5C73.7,432.6 73.2,433.5 74.8,431.8C76.3,430.2 75.7,430.5 77.5,430.5C79.3,430.5 78.7,430.2 80.2,431.8C81.8,433.5 81.3,432.6 82.3,435.5C83.2,438.4 83.0,437.2 83.0,440.5Z" fill="#9200be" stroke="rgba(196,194,186,0.92)" stroke-width="0.9"/>
<path d="M70.0,303.0C27.9,308.0 69.2,308.0 71.2,318.0C73.3,328.0 71.7,323.8 76.2,333.0C80.8,342.2 77.1,338.8 85.0,345.5C92.9,352.2 93.3,345.5 100.0,353.0C106.7,360.5 101.7,360.5 105.0,368.0C108.3,375.5 103.3,370.5 110.0,375.5C116.7,380.5 116.7,377.2 125.0,383.0C133.3,388.8 130.8,383.0 135.0,393.0C139.2,403.0 135.8,401.3 137.5,413.0C139.2,424.7 137.5,418.0 140.0,428.0C142.5,438.0 141.7,428.8 145.0,443.0C148.3,457.2 132.5,461.3 150.0,470.5C167.5,479.7 181.7,526.3 197.5,470.5C213.3,414.7 240.0,358.8 197.5,303.0C155.0,247.2 112.1,298.0 70.0,303.0Z" fill="#0055a6" stroke="rgba(196,194,186,0.92)" stroke-width="0.9"/>
<clipPath id="r9"><path d="M70.0,303.0C27.9,308.0 69.2,308.0 71.2,318.0C73.3,328.0 71.7,323.8 76.2,333.0C80.8,342.2 77.1,338.8 85.0,345.5C92.9,352.2 93.3,345.5 100.0,353.0C106.7,360.5 101.7,360.5 105.0,368.0C108.3,375.5 103.3,370.5 110.0,375.5C116.7,380.5 116.7,377.2 125.0,383.0C133.3,388.8 130.8,383.0 135.0,393.0C139.2,403.0 135.8,401.3 137.5,413.0C139.2,424.7 137.5,418.0 140.0,428.0C142.5,438.0 141.7,428.8 145.0,443.0C148.3,457.2 132.5,461.3 150.0,470.5C167.5,479.7 181.7,526.3 197.5,470.5C213.3,414.7 240.0,358.8 197.5,303.0C155.0,247.2 112.1,298.0 70.0,303.0Z"/></clipPath><g clip-path="url(#r9)">
<path d="M70.0,303.0C27.9,308.0 69.2,308.0 71.2,318.0C73.3,328.0 71.7,323.8 76.2,333.0C80.8,342.2 77.1,338.8 85.0,345.5C92.9,352.2 93.3,345.5 100.0,353.0C106.7,360.5 101.7,360.5 105.0,368.0C108.3,375.5 103.3,370.5 110.0,375.5C116.7,380.5 116.7,377.2 125.0,383.0C133.3,388.8 130.8,383.0 135.0,393.0C139.2,403.0 135.8,401.3 137.5,413.0C139.2,424.7 137.5,418.0 140.0,428.0C142.5,438.0 141.7,428.8 145.0,443.0C148.3,457.2 132.5,461.3 150.0,470.5C167.5,479.7 181.7,526.3 197.5,470.5C213.3,414.7 240.0,358.8 197.5,303.0C155.0,247.2 112.1,298.0 70.0,303.0Z" fill="none" stroke="rgba(196,194,186,0.92)" stroke-width="22.7" stroke-linejoin="round"/>
<path d="M70.0,303.0C27.9,308.0 69.2,308.0 71.2,318.0C73.3,328.0 71.7,323.8 76.2,333.0C80.8,342.2 77.1,338.8 85.0,345.5C92.9,352.2 93.3,345.5 100.0,353.0C106.7,360.5 101.7,360.5 105.0,368.0C108.3,375.5 103.3,370.5 110.0,375.5C116.7,380.5 116.7,377.2 125.0,383.0C133.3,388.8 130.8,383.0 135.0,393.0C139.2,403.0 135.8,401.3 137.5,413.0C139.2,424.7 137.5,418.0 140.0,428.0C142.5,438.0 141.7,428.8 145.0,443.0C148.3,457.2 132.5,461.3 150.0,470.5C167.5,479.7 181.7,526.3 197.5,470.5C213.3,414.7 240.0,358.8 197.5,303.0C155.0,247.2 112.1,298.0 70.0,303.0Z" fill="none" stroke="#0055a6" stroke-width="21.0" stroke-linejoin="round"/>
<path d="M70.0,303.0C27.9,308.0 69.2,308.0 71.2,318.0C73.3,328.0 71.7,323.8 76.2,333.0C80.8,342.2 77.1,338.8 85.0,345.5C92.9,352.2 93.3,345.5 100.0,353.0C106.7,360.5 101.7,360.5 105.0,368.0C108.3,375.5 103.3,370.5 110.0,375.5C116.7,380.5 116.7,377.2 125.0,383.0C133.3,388.8 130.8,383.0 135.0,393.0C139.2,403.0 135.8,401.3 137.5,413.0C139.2,424.7 137.5,418.0 140.0,428.0C142.5,438.0 141.7,428.8 145.0,443.0C148.3,457.2 132.5,461.3 150.0,470.5C167.5,479.7 181.7,526.3 197.5,470.5C213.3,414.7 240.0,358.8 197.5,303.0C155.0,247.2 112.1,298.0 70.0,303.0Z" fill="none" stroke="rgba(196,194,186,0.92)" stroke-width="15.7" stroke-linejoin="round"/>
<path d="M70.0,303.0C27.9,308.0 69.2,308.0 71.2,318.0C73.3,328.0 71.7,323.8 76.2,333.0C80.8,342.2 77.1,338.8 85.0,345.5C92.9,352.2 93.3,345.5 100.0,353.0C106.7,360.5 101.7,360.5 105.0,368.0C108.3,375.5 103.3,370.5 110.0,375.5C116.7,380.5 116.7,377.2 125.0,383.0C133.3,388.8 130.8,383.0 135.0,393.0C139.2,403.0 135.8,401.3 137.5,413.0C139.2,424.7 137.5,418.0 140.0,428.0C142.5,438.0 141.7,428.8 145.0,443.0C148.3,457.2 132.5,461.3 150.0,470.5C167.5,479.7 181.7,526.3 197.5,470.5C213.3,414.7 240.0,358.8 197.5,303.0C155.0,247.2 112.1,298.0 70.0,303.0Z" fill="none" stroke="#0055a6" stroke-width="14.0" stroke-linejoin="round"/>
<path d="M70.0,303.0C27.9,308.0 69.2,308.0 71.2,318.0C73.3,328.0 71.7,323.8 76.2,333.0C80.8,342.2 77.1,338.8 85.0,345.5C92.9,352.2 93.3,345.5 100.0,353.0C106.7,360.5 101.7,360.5 105.0,368.0C108.3,375.5 103.3,370.5 110.0,375.5C116.7,380.5 116.7,377.2 125.0,383.0C133.3,388.8 130.8,383.0 135.0,393.0C139.2,403.0 135.8,401.3 137.5,413.0C139.2,424.7 137.5,418.0 140.0,428.0C142.5,438.0 141.7,428.8 145.0,443.0C148.3,457.2 132.5,461.3 150.0,470.5C167.5,479.7 181.7,526.3 197.5,470.5C213.3,414.7 240.0,358.8 197.5,303.0C155.0,247.2 112.1,298.0 70.0,303.0Z" fill="none" stroke="rgba(196,194,186,0.92)" stroke-width="8.7" stroke-linejoin="round"/>
<path d="M70.0,303.0C27.9,308.0 69.2,308.0 71.2,318.0C73.3,328.0 71.7,323.8 76.2,333.0C80.8,342.2 77.1,338.8 85.0,345.5C92.9,352.2 93.3,345.5 100.0,353.0C106.7,360.5 101.7,360.5 105.0,368.0C108.3,375.5 103.3,370.5 110.0,375.5C116.7,380.5 116.7,377.2 125.0,383.0C133.3,388.8 130.8,383.0 135.0,393.0C139.2,403.0 135.8,401.3 137.5,413.0C139.2,424.7 137.5,418.0 140.0,428.0C142.5,438.0 141.7,428.8 145.0,443.0C148.3,457.2 132.5,461.3 150.0,470.5C167.5,479.7 181.7,526.3 197.5,470.5C213.3,414.7 240.0,358.8 197.5,303.0C155.0,247.2 112.1,298.0 70.0,303.0Z" fill="none" stroke="#0055a6" stroke-width="7.0" stroke-linejoin="round"/>
</g>
<path d="M120.5,455.5C120.5,458.8 120.7,457.6 119.8,460.5C118.8,463.4 119.3,462.5 117.8,464.2C116.2,465.8 116.8,465.5 115.0,465.5C113.2,465.5 113.8,465.8 112.2,464.2C110.7,462.5 111.2,463.4 110.2,460.5C109.3,457.6 109.5,458.8 109.5,455.5C109.5,452.2 109.3,453.4 110.2,450.5C111.2,447.6 110.7,448.5 112.2,446.8C113.8,445.2 113.2,445.5 115.0,445.5C116.8,445.5 116.2,445.2 117.8,446.8C119.3,448.5 118.8,447.6 119.8,450.5C120.7,453.4 120.5,452.2 120.5,455.5Z" fill="none" stroke="rgba(196,194,186,0.92)" stroke-width="7.6" stroke-linejoin="round"/>
<path d="M120.5,455.5C120.5,458.8 120.7,457.6 119.8,460.5C118.8,463.4 119.3,462.5 117.8,464.2C116.2,465.8 116.8,465.5 115.0,465.5C113.2,465.5 113.8,465.8 112.2,464.2C110.7,462.5 111.2,463.4 110.2,460.5C109.3,457.6 109.5,458.8 109.5,455.5C109.5,452.2 109.3,453.4 110.2,450.5C111.2,447.6 110.7,448.5 112.2,446.8C113.8,445.2 113.2,445.5 115.0,445.5C116.8,445.5 116.2,445.2 117.8,446.8C119.3,448.5 118.8,447.6 119.8,450.5C120.7,453.4 120.5,452.2 120.5,455.5Z" fill="none" stroke="#012f82" stroke-width="6.0" stroke-linejoin="round"/>
<path d="M120.5,455.5C120.5,458.8 120.7,457.6 119.8,460.5C118.8,463.4 119.3,462.5 117.8,464.2C116.2,465.8 116.8,465.5 115.0,465.5C113.2,465.5 113.8,465.8 112.2,464.2C110.7,462.5 111.2,463.4 110.2,460.5C109.3,457.6 109.5,458.8 109.5,455.5C109.5,452.2 109.3,453.4 110.2,450.5C111.2,447.6 110.7,448.5 112.2,446.8C113.8,445.2 113.2,445.5 115.0,445.5C116.8,445.5 116.2,445.2 117.8,446.8C119.3,448.5 118.8,447.6 119.8,450.5C120.7,453.4 120.5,452.2 120.5,455.5Z" fill="none" stroke="rgba(196,194,186,0.92)" stroke-width="4.6" stroke-linejoin="round"/>
<path d="M120.5,455.5C120.5,458.8 120.7,457.6 119.8,460.5C118.8,463.4 119.3,462.5 117.8,464.2C116.2,465.8 116.8,465.5 115.0,465.5C113.2,465.5 113.8,465.8 112.2,464.2C110.7,462.5 111.2,463.4 110.2,460.5C109.3,457.6 109.5,458.8 109.5,455.5C109.5,452.2 109.3,453.4 110.2,450.5C111.2,447.6 110.7,448.5 112.2,446.8C113.8,445.2 113.2,445.5 115.0,445.5C116.8,445.5 116.2,445.2 117.8,446.8C119.3,448.5 118.8,447.6 119.8,450.5C120.7,453.4 120.5,452.2 120.5,455.5Z" fill="none" stroke="#012f82" stroke-width="3.0" stroke-linejoin="round"/>
<path d="M120.5,455.5C120.5,458.8 120.7,457.6 119.8,460.5C118.8,463.4 119.3,462.5 117.8,464.2C116.2,465.8 116.8,465.5 115.0,465.5C113.2,465.5 113.8,465.8 112.2,464.2C110.7,462.5 111.2,463.4 110.2,460.5C109.3,457.6 109.5,458.8 109.5,455.5C109.5,452.2 109.3,453.4 110.2,450.5C111.2,447.6 110.7,448.5 112.2,446.8C113.8,445.2 113.2,445.5 115.0,445.5C116.8,445.5 116.2,445.2 117.8,446.8C119.3,448.5 118.8,447.6 119.8,450.5C120.7,453.4 120.5,452.2 120.5,455.5Z" fill="#0055a6" stroke="rgba(196,194,186,0.92)" stroke-width="0.9"/>
<path d="M75.0,303.0C57.5,309.7 75.0,312.2 80.0,323.0C85.0,333.8 80.8,330.5 90.0,335.5C99.2,340.5 98.3,340.5 107.5,338.0C116.7,335.5 110.0,333.0 117.5,328.0C125.0,323.0 125.0,331.3 130.0,323.0C135.0,314.7 150.8,309.7 132.5,303.0C114.2,296.3 92.5,296.3 75.0,303.0Z" fill="none" stroke="rgba(196,194,186,0.92)" stroke-width="7.6" stroke-linejoin="round"/>
<path d="M75.0,303.0C57.5,309.7 75.0,312.2 80.0,323.0C85.0,333.8 80.8,330.5 90.0,335.5C99.2,340.5 98.3,340.5 107.5,338.0C116.7,335.5 110.0,333.0 117.5,328.0C125.0,323.0 125.0,331.3 130.0,323.0C135.0,314.7 150.8,309.7 132.5,303.0C114.2,296.3 92.5,296.3 75.0,303.0Z" fill="none" stroke="#0055a6" stroke-width="6.0" stroke-linejoin="round"/>
<path d="M75.0,303.0C57.5,309.7 75.0,312.2 80.0,323.0C85.0,333.8 80.8,330.5 90.0,335.5C99.2,340.5 98.3,340.5 107.5,338.0C116.7,335.5 110.0,333.0 117.5,328.0C125.0,323.0 125.0,331.3 130.0,323.0C135.0,314.7 150.8,309.7 132.5,303.0C114.2,296.3 92.5,296.3 75.0,303.0Z" fill="none" stroke="rgba(196,194,186,0.92)" stroke-width="4.6" stroke-linejoin="round"/>
<path d="M75.0,303.0C57.5,309.7 75.0,312.2 80.0,323.0C85.0,333.8 80.8,330.5 90.0,335.5C99.2,340.5 98.3,340.5 107.5,338.0C116.7,335.5 110.0,333.0 117.5,328.0C125.0,323.0 125.0,331.3 130.0,323.0C135.0,314.7 150.8,309.7 132.5,303.0C114.2,296.3 92.5,296.3 75.0,303.0Z" fill="none" stroke="#0055a6" stroke-width="3.0" stroke-linejoin="round"/>
<path d="M75.0,303.0C57.5,309.7 75.0,312.2 80.0,323.0C85.0,333.8 80.8,330.5 90.0,335.5C99.2,340.5 98.3,340.5 107.5,338.0C116.7,335.5 110.0,333.0 117.5,328.0C125.0,323.0 125.0,331.3 130.0,323.0C135.0,314.7 150.8,309.7 132.5,303.0C114.2,296.3 92.5,296.3 75.0,303.0Z" fill="#0068d6" stroke="rgba(196,194,186,0.92)" stroke-width="0.9"/>
<path d="M82.5,303.0C70.8,308.8 81.7,312.2 87.5,320.5C93.3,328.8 91.7,327.2 100.0,328.0C108.3,328.8 105.8,327.2 112.5,323.0C119.2,318.8 116.7,322.2 120.0,315.5C123.3,308.8 135.0,307.2 122.5,303.0C110.0,298.8 94.2,297.2 82.5,303.0Z" fill="#0a82fc" stroke="rgba(196,194,186,0.92)" stroke-width="0.9"/>
<path d="M73.8,338.0C73.8,339.5 74.0,339.0 72.7,340.2C71.5,341.5 72.2,341.1 70.0,341.9C67.8,342.6 68.8,342.5 66.2,342.5C63.8,342.5 64.7,342.6 62.5,341.9C60.3,341.1 61.0,341.5 59.8,340.2C58.5,339.0 58.8,339.5 58.8,338.0C58.8,336.5 58.5,337.0 59.8,335.8C61.0,334.5 60.3,334.9 62.5,334.1C64.7,333.4 63.8,333.5 66.2,333.5C68.8,333.5 67.8,333.4 70.0,334.1C72.2,334.9 71.5,334.5 72.7,335.8C74.0,337.0 73.8,336.5 73.8,338.0Z" fill="#b4b4b4"/>
<path d="M130.0,303.0C108.3,308.8 128.3,310.1 132.5,320.5C136.7,330.9 135.8,326.8 142.5,334.2C149.2,341.8 146.7,335.1 152.5,343.0C158.3,350.9 156.7,348.0 160.0,358.0C163.3,368.0 158.3,363.8 162.5,373.0C166.7,382.2 165.0,378.4 172.5,385.5C180.0,392.6 176.7,390.5 185.0,394.2C193.3,398.0 193.3,427.2 197.5,396.8C201.7,366.3 220.0,334.2 197.5,303.0C175.0,271.8 151.7,297.2 130.0,303.0Z" fill="none" stroke="rgba(196,194,186,0.92)" stroke-width="20.6" stroke-linejoin="round"/>
<path d="M130.0,303.0C108.3,308.8 128.3,310.1 132.5,320.5C136.7,330.9 135.8,326.8 142.5,334.2C149.2,341.8 146.7,335.1 152.5,343.0C158.3,350.9 156.7,348.0 160.0,358.0C163.3,368.0 158.3,363.8 162.5,373.0C166.7,382.2 165.0,378.4 172.5,385.5C180.0,392.6 176.7,390.5 185.0,394.2C193.3,398.0 193.3,427.2 197.5,396.8C201.7,366.3 220.0,334.2 197.5,303.0C175.0,271.8 151.7,297.2 130.0,303.0Z" fill="none" stroke="#0055a6" stroke-width="19.0" stroke-linejoin="round"/>
<path d="M130.0,303.0C108.3,308.8 128.3,310.1 132.5,320.5C136.7,330.9 135.8,326.8 142.5,334.2C149.2,341.8 146.7,335.1 152.5,343.0C158.3,350.9 156.7,348.0 160.0,358.0C163.3,368.0 158.3,363.8 162.5,373.0C166.7,382.2 165.0,378.4 172.5,385.5C180.0,392.6 176.7,390.5 185.0,394.2C193.3,398.0 193.3,427.2 197.5,396.8C201.7,366.3 220.0,334.2 197.5,303.0C175.0,271.8 151.7,297.2 130.0,303.0Z" fill="none" stroke="rgba(196,194,186,0.92)" stroke-width="17.1" stroke-linejoin="round"/>
<path d="M130.0,303.0C108.3,308.8 128.3,310.1 132.5,320.5C136.7,330.9 135.8,326.8 142.5,334.2C149.2,341.8 146.7,335.1 152.5,343.0C158.3,350.9 156.7,348.0 160.0,358.0C163.3,368.0 158.3,363.8 162.5,373.0C166.7,382.2 165.0,378.4 172.5,385.5C180.0,392.6 176.7,390.5 185.0,394.2C193.3,398.0 193.3,427.2 197.5,396.8C201.7,366.3 220.0,334.2 197.5,303.0C175.0,271.8 151.7,297.2 130.0,303.0Z" fill="none" stroke="#0055a6" stroke-width="15.5" stroke-linejoin="round"/>
<path d="M130.0,303.0C108.3,308.8 128.3,310.1 132.5,320.5C136.7,330.9 135.8,326.8 142.5,334.2C149.2,341.8 146.7,335.1 152.5,343.0C158.3,350.9 156.7,348.0 160.0,358.0C163.3,368.0 158.3,363.8 162.5,373.0C166.7,382.2 165.0,378.4 172.5,385.5C180.0,392.6 176.7,390.5 185.0,394.2C193.3,398.0 193.3,427.2 197.5,396.8C201.7,366.3 220.0,334.2 197.5,303.0C175.0,271.8 151.7,297.2 130.0,303.0Z" fill="none" stroke="rgba(196,194,186,0.92)" stroke-width="13.6" stroke-linejoin="round"/>
<path d="M130.0,303.0C108.3,308.8 128.3,310.1 132.5,320.5C136.7,330.9 135.8,326.8 142.5,334.2C149.2,341.8 146.7,335.1 152.5,343.0C158.3,350.9 156.7,348.0 160.0,358.0C163.3,368.0 158.3,363.8 162.5,373.0C166.7,382.2 165.0,378.4 172.5,385.5C180.0,392.6 176.7,390.5 185.0,394.2C193.3,398.0 193.3,427.2 197.5,396.8C201.7,366.3 220.0,334.2 197.5,303.0C175.0,271.8 151.7,297.2 130.0,303.0Z" fill="none" stroke="#0068d6" stroke-width="12.0" stroke-linejoin="round"/>
<path d="M130.0,303.0C108.3,308.8 128.3,310.1 132.5,320.5C136.7,330.9 135.8,326.8 142.5,334.2C149.2,341.8 146.7,335.1 152.5,343.0C158.3,350.9 156.7,348.0 160.0,358.0C163.3,368.0 158.3,363.8 162.5,373.0C166.7,382.2 165.0,378.4 172.5,385.5C180.0,392.6 176.7,390.5 185.0,394.2C193.3,398.0 193.3,427.2 197.5,396.8C201.7,366.3 220.0,334.2 197.5,303.0C175.0,271.8 151.7,297.2 130.0,303.0Z" fill="none" stroke="rgba(196,194,186,0.92)" stroke-width="10.6" stroke-linejoin="round"/>
<path d="M130.0,303.0C108.3,308.8 128.3,310.1 132.5,320.5C136.7,330.9 135.8,326.8 142.5,334.2C149.2,341.8 146.7,335.1 152.5,343.0C158.3,350.9 156.7,348.0 160.0,358.0C163.3,368.0 158.3,363.8 162.5,373.0C166.7,382.2 165.0,378.4 172.5,385.5C180.0,392.6 176.7,390.5 185.0,394.2C193.3,398.0 193.3,427.2 197.5,396.8C201.7,366.3 220.0,334.2 197.5,303.0C175.0,271.8 151.7,297.2 130.0,303.0Z" fill="none" stroke="#0068d6" stroke-width="9.0" stroke-linejoin="round"/>
<path d="M130.0,303.0C108.3,308.8 128.3,310.1 132.5,320.5C136.7,330.9 135.8,326.8 142.5,334.2C149.2,341.8 146.7,335.1 152.5,343.0C158.3,350.9 156.7,348.0 160.0,358.0C163.3,368.0 158.3,363.8 162.5,373.0C166.7,382.2 165.0,378.4 172.5,385.5C180.0,392.6 176.7,390.5 185.0,394.2C193.3,398.0 193.3,427.2 197.5,396.8C201.7,366.3 220.0,334.2 197.5,303.0C175.0,271.8 151.7,297.2 130.0,303.0Z" fill="none" stroke="rgba(196,194,186,0.92)" stroke-width="7.6" stroke-linejoin="round"/>
<path d="M130.0,303.0C108.3,308.8 128.3,310.1 132.5,320.5C136.7,330.9 135.8,326.8 142.5,334.2C149.2,341.8 146.7,335.1 152.5,343.0C158.3,350.9 156.7,348.0 160.0,358.0C163.3,368.0 158.3,363.8 162.5,373.0C166.7,382.2 165.0,378.4 172.5,385.5C180.0,392.6 176.7,390.5 185.0,394.2C193.3,398.0 193.3,427.2 197.5,396.8C201.7,366.3 220.0,334.2 197.5,303.0C175.0,271.8 151.7,297.2 130.0,303.0Z" fill="none" stroke="#0a82fc" stroke-width="6.0" stroke-linejoin="round"/>
<path d="M130.0,303.0C108.3,308.8 128.3,310.1 132.5,320.5C136.7,330.9 135.8,326.8 142.5,334.2C149.2,341.8 146.7,335.1 152.5,343.0C158.3,350.9 156.7,348.0 160.0,358.0C163.3,368.0 158.3,363.8 162.5,373.0C166.7,382.2 165.0,378.4 172.5,385.5C180.0,392.6 176.7,390.5 185.0,394.2C193.3,398.0 193.3,427.2 197.5,396.8C201.7,366.3 220.0,334.2 197.5,303.0C175.0,271.8 151.7,297.2 130.0,303.0Z" fill="none" stroke="rgba(196,194,186,0.92)" stroke-width="4.6" stroke-linejoin="round"/>
<path d="M130.0,303.0C108.3,308.8 128.3,310.1 132.5,320.5C136.7,330.9 135.8,326.8 142.5,334.2C149.2,341.8 146.7,335.1 152.5,343.0C158.3,350.9 156.7,348.0 160.0,358.0C163.3,368.0 158.3,363.8 162.5,373.0C166.7,382.2 165.0,378.4 172.5,385.5C180.0,392.6 176.7,390.5 185.0,394.2C193.3,398.0 193.3,427.2 197.5,396.8C201.7,366.3 220.0,334.2 197.5,303.0C175.0,271.8 151.7,297.2 130.0,303.0Z" fill="none" stroke="#0a82fc" stroke-width="3.0" stroke-linejoin="round"/>
<path d="M130.0,303.0C108.3,308.8 128.3,310.1 132.5,320.5C136.7,330.9 135.8,326.8 142.5,334.2C149.2,341.8 146.7,335.1 152.5,343.0C158.3,350.9 156.7,348.0 160.0,358.0C163.3,368.0 158.3,363.8 162.5,373.0C166.7,382.2 165.0,378.4 172.5,385.5C180.0,392.6 176.7,390.5 185.0,394.2C193.3,398.0 193.3,427.2 197.5,396.8C201.7,366.3 220.0,334.2 197.5,303.0C175.0,271.8 151.7,297.2 130.0,303.0Z" fill="#3a9bfe" stroke="rgba(196,194,186,0.92)" stroke-width="0.9"/>
<path d="M133.8,303.0C113.3,308.8 132.1,310.5 136.2,320.5C140.4,330.5 139.8,326.3 146.2,333.0C152.7,339.7 150.1,333.8 155.5,340.5C160.9,347.2 159.8,344.7 162.5,353.0C165.2,361.3 161.2,358.0 163.8,365.5C166.2,373.0 165.8,370.9 170.0,375.5C174.2,380.1 172.9,383.8 176.2,379.2C179.6,374.7 175.4,370.5 180.0,361.8C184.6,353.0 184.2,357.2 190.0,353.0C195.8,348.8 195.0,365.9 197.5,349.2C200.0,332.6 218.8,318.4 197.5,303.0C176.2,287.6 154.2,297.2 133.8,303.0Z" fill="#7abcfe" stroke="rgba(196,194,186,0.92)" stroke-width="0.9"/>
<path d="M151.2,303.0C136.4,308.8 151.1,310.5 153.0,320.5C154.9,330.5 150.1,324.7 157.0,333.0C163.9,341.3 164.4,344.2 173.8,345.5C183.1,346.8 177.1,344.2 185.0,336.8C192.9,329.2 193.3,334.2 197.5,323.0C201.7,311.8 212.9,309.7 197.5,303.0C182.1,296.3 166.1,297.2 151.2,303.0Z" fill="#a9a9cb"/>
<path d="M153.8,303.0C139.8,308.4 153.8,309.7 155.5,319.2C157.2,328.8 152.5,323.7 158.8,331.8C165.0,339.8 165.9,342.7 174.2,343.5C182.6,344.3 176.0,341.9 183.8,334.2C191.5,326.6 192.9,330.9 197.5,320.5C202.1,310.1 212.1,308.8 197.5,303.0C182.9,297.2 167.8,297.6 153.8,303.0Z" fill="#dcdcf8"/>
<path d="M156.2,303.0C148.3,306.0 157.2,312.5 158.0,318.0C158.8,323.5 157.1,325.9 160.5,330.5C163.9,335.1 170.6,340.6 175.0,341.0C179.4,341.4 178.0,337.1 182.5,332.5C187.0,327.9 194.5,323.9 197.5,318.0C200.5,312.1 205.8,306.0 197.5,303.0C189.2,300.0 164.2,300.0 156.2,303.0Z" fill="#f6f6fa"/>
<path d="M160.0,393.0C167.1,391.3 165.0,394.9 175.0,396.8C185.0,398.6 182.5,397.9 190.0,398.5C197.5,399.1 195.0,392.0 197.5,398.5C200.0,405.0 201.7,410.7 197.5,418.0C193.3,425.3 194.2,420.5 185.0,420.5C175.8,420.5 178.3,421.3 170.0,418.0C161.7,414.7 165.4,415.9 160.0,410.5C154.6,405.1 153.8,407.6 153.8,401.8C153.8,395.9 152.9,394.7 160.0,393.0Z" fill="none" stroke="rgba(196,194,186,0.92)" stroke-width="11.6" stroke-linejoin="round"/>
<path d="M160.0,393.0C167.1,391.3 165.0,394.9 175.0,396.8C185.0,398.6 182.5,397.9 190.0,398.5C197.5,399.1 195.0,392.0 197.5,398.5C200.0,405.0 201.7,410.7 197.5,418.0C193.3,425.3 194.2,420.5 185.0,420.5C175.8,420.5 178.3,421.3 170.0,418.0C161.7,414.7 165.4,415.9 160.0,410.5C154.6,405.1 153.8,407.6 153.8,401.8C153.8,395.9 152.9,394.7 160.0,393.0Z" fill="none" stroke="#0055a6" stroke-width="10.0" stroke-linejoin="round"/>
<path d="M160.0,393.0C167.1,391.3 165.0,394.9 175.0,396.8C185.0,398.6 182.5,397.9 190.0,398.5C197.5,399.1 195.0,392.0 197.5,398.5C200.0,405.0 201.7,410.7 197.5,418.0C193.3,425.3 194.2,420.5 185.0,420.5C175.8,420.5 178.3,421.3 170.0,418.0C161.7,414.7 165.4,415.9 160.0,410.5C154.6,405.1 153.8,407.6 153.8,401.8C153.8,395.9 152.9,394.7 160.0,393.0Z" fill="none" stroke="rgba(196,194,186,0.92)" stroke-width="6.6" stroke-linejoin="round"/>
<path d="M160.0,393.0C167.1,391.3 165.0,394.9 175.0,396.8C185.0,398.6 182.5,397.9 190.0,398.5C197.5,399.1 195.0,392.0 197.5,398.5C200.0,405.0 201.7,410.7 197.5,418.0C193.3,425.3 194.2,420.5 185.0,420.5C175.8,420.5 178.3,421.3 170.0,418.0C161.7,414.7 165.4,415.9 160.0,410.5C154.6,405.1 153.8,407.6 153.8,401.8C153.8,395.9 152.9,394.7 160.0,393.0Z" fill="none" stroke="#0068d6" stroke-width="5.0" stroke-linejoin="round"/>
<path d="M160.0,393.0C167.1,391.3 165.0,394.9 175.0,396.8C185.0,398.6 182.5,397.9 190.0,398.5C197.5,399.1 195.0,392.0 197.5,398.5C200.0,405.0 201.7,410.7 197.5,418.0C193.3,425.3 194.2,420.5 185.0,420.5C175.8,420.5 178.3,421.3 170.0,418.0C161.7,414.7 165.4,415.9 160.0,410.5C154.6,405.1 153.8,407.6 153.8,401.8C153.8,395.9 152.9,394.7 160.0,393.0Z" fill="#0a82fc" stroke="rgba(196,194,186,0.92)" stroke-width="0.9"/>
<path d="M150.0,425.5C155.8,420.5 152.5,425.5 162.5,428.0C172.5,430.5 168.3,429.7 180.0,433.0C191.7,436.3 191.7,425.5 197.5,438.0C203.3,450.5 213.3,459.7 197.5,470.5C181.7,481.3 167.5,479.7 150.0,470.5C132.5,461.3 145.0,458.0 145.0,443.0C145.0,428.0 144.2,430.5 150.0,425.5Z" fill="#012f82" stroke="rgba(196,194,186,0.92)" stroke-width="0.9"/>
<path d="M110.0,338.0C116.2,331.3 116.7,331.3 125.0,333.0C133.3,334.7 133.3,334.7 135.0,343.0C136.7,351.3 135.0,348.0 130.0,358.0C125.0,368.0 126.7,369.7 120.0,373.0C113.3,376.3 114.6,374.7 110.0,368.0C105.4,361.3 106.2,363.0 106.2,353.0C106.2,343.0 103.8,344.7 110.0,338.0Z" fill="#012f82" stroke="rgba(196,194,186,0.92)" stroke-width="0.9"/>
<path d="M22.5,353.0C26.2,347.2 25.8,344.7 32.5,345.5C39.2,346.3 38.8,347.2 42.5,355.5C46.2,363.8 46.2,362.2 43.8,370.5C41.2,378.8 41.2,378.8 35.0,380.5C28.8,382.2 29.6,381.3 25.0,375.5C20.4,369.7 22.1,370.5 21.2,363.0C20.4,355.5 18.8,358.8 22.5,353.0Z" fill="none" stroke="rgba(196,194,186,0.92)" stroke-width="0.9"/>
<path d="M72.5,438.0C73.8,431.3 74.2,428.0 77.5,428.0C80.8,428.0 81.7,430.5 82.5,438.0C83.3,445.5 82.9,447.2 80.0,450.5C77.1,453.8 76.2,452.2 73.8,448.0C71.2,443.8 71.2,444.7 72.5,438.0Z" fill="none" stroke="rgba(196,194,186,0.92)" stroke-width="0.9"/>
</g>
<g clip-path="url(#c03)">
<rect x="0" y="462" width="190" height="154" fill="#9200be"/>
<path d="M-5.0,469.5C0.0,452.8 0.8,467.8 10.0,472.0C19.2,476.2 15.0,472.8 22.5,482.0C30.0,491.2 28.3,489.5 32.5,499.5C36.7,509.5 30.8,505.3 35.0,512.0C39.2,518.7 37.5,521.2 45.0,519.5C52.5,517.8 52.5,507.0 57.5,507.0C62.5,507.0 61.7,510.3 60.0,519.5C58.3,528.7 53.3,524.5 52.5,534.5C51.7,544.5 58.3,542.0 57.5,549.5C56.7,557.0 56.7,557.0 50.0,557.0C43.3,557.0 45.8,556.2 37.5,549.5C29.2,542.8 32.5,544.5 25.0,537.0C17.5,529.5 21.7,531.2 15.0,527.0C8.3,522.8 11.7,526.2 5.0,524.5C-1.7,522.8 -1.7,540.3 -5.0,522.0C-8.3,503.7 -10.0,486.2 -5.0,469.5Z" fill="#bc00f2" stroke="rgba(196,194,186,0.92)" stroke-width="0.9"/>
<path d="M77.5,597.0C82.1,592.8 80.8,593.2 90.0,592.0C99.2,590.8 98.3,589.9 105.0,593.2C111.7,596.6 111.7,596.6 110.0,602.0C108.3,607.4 108.3,606.6 100.0,609.5C91.7,612.4 92.9,612.4 85.0,610.8C77.1,609.1 78.8,609.1 76.2,604.5C73.8,599.9 72.9,601.2 77.5,597.0Z" fill="#bc00f2" stroke="rgba(196,194,186,0.92)" stroke-width="0.9"/>
<path d="M47.5,457.0C-1.7,463.7 45.0,467.0 50.0,477.0C55.0,487.0 56.7,478.7 62.5,487.0C68.3,495.3 66.7,492.0 67.5,502.0C68.3,512.0 64.2,505.3 65.0,517.0C65.8,528.7 66.7,525.3 70.0,537.0C73.3,548.7 70.0,543.7 75.0,552.0C80.0,560.3 76.7,553.7 85.0,562.0C93.3,570.3 91.7,571.2 100.0,577.0C108.3,582.8 104.2,574.5 110.0,579.5C115.8,584.5 110.8,586.2 117.5,592.0C124.2,597.8 120.8,593.7 130.0,597.0C139.2,600.3 134.2,597.0 145.0,602.0C155.8,607.0 152.5,604.5 162.5,612.0C172.5,619.5 163.3,620.3 175.0,624.5C186.7,628.7 190.0,680.3 197.5,624.5C205.0,568.7 247.5,512.8 197.5,457.0C147.5,401.2 96.7,450.3 47.5,457.0Z" fill="#680084" stroke="rgba(196,194,186,0.92)" stroke-width="0.9"/>
<clipPath id="r10"><path d="M47.5,457.0C-1.7,463.7 45.0,467.0 50.0,477.0C55.0,487.0 56.7,478.7 62.5,487.0C68.3,495.3 66.7,492.0 67.5,502.0C68.3,512.0 64.2,505.3 65.0,517.0C65.8,528.7 66.7,525.3 70.0,537.0C73.3,548.7 70.0,543.7 75.0,552.0C80.0,560.3 76.7,553.7 85.0,562.0C93.3,570.3 91.7,571.2 100.0,577.0C108.3,582.8 104.2,574.5 110.0,579.5C115.8,584.5 110.8,586.2 117.5,592.0C124.2,597.8 120.8,593.7 130.0,597.0C139.2,600.3 134.2,597.0 145.0,602.0C155.8,607.0 152.5,604.5 162.5,612.0C172.5,619.5 163.3,620.3 175.0,624.5C186.7,628.7 190.0,680.3 197.5,624.5C205.0,568.7 247.5,512.8 197.5,457.0C147.5,401.2 96.7,450.3 47.5,457.0Z"/></clipPath><g clip-path="url(#r10)">
<path d="M47.5,457.0C-1.7,463.7 45.0,467.0 50.0,477.0C55.0,487.0 56.7,478.7 62.5,487.0C68.3,495.3 66.7,492.0 67.5,502.0C68.3,512.0 64.2,505.3 65.0,517.0C65.8,528.7 66.7,525.3 70.0,537.0C73.3,548.7 70.0,543.7 75.0,552.0C80.0,560.3 76.7,553.7 85.0,562.0C93.3,570.3 91.7,571.2 100.0,577.0C108.3,582.8 104.2,574.5 110.0,579.5C115.8,584.5 110.8,586.2 117.5,592.0C124.2,597.8 120.8,593.7 130.0,597.0C139.2,600.3 134.2,597.0 145.0,602.0C155.8,607.0 152.5,604.5 162.5,612.0C172.5,619.5 163.3,620.3 175.0,624.5C186.7,628.7 190.0,680.3 197.5,624.5C205.0,568.7 247.5,512.8 197.5,457.0C147.5,401.2 96.7,450.3 47.5,457.0Z" fill="none" stroke="rgba(196,194,186,0.92)" stroke-width="9.7" stroke-linejoin="round"/>
<path d="M47.5,457.0C-1.7,463.7 45.0,467.0 50.0,477.0C55.0,487.0 56.7,478.7 62.5,487.0C68.3,495.3 66.7,492.0 67.5,502.0C68.3,512.0 64.2,505.3 65.0,517.0C65.8,528.7 66.7,525.3 70.0,537.0C73.3,548.7 70.0,543.7 75.0,552.0C80.0,560.3 76.7,553.7 85.0,562.0C93.3,570.3 91.7,571.2 100.0,577.0C108.3,582.8 104.2,574.5 110.0,579.5C115.8,584.5 110.8,586.2 117.5,592.0C124.2,597.8 120.8,593.7 130.0,597.0C139.2,600.3 134.2,597.0 145.0,602.0C155.8,607.0 152.5,604.5 162.5,612.0C172.5,619.5 163.3,620.3 175.0,624.5C186.7,628.7 190.0,680.3 197.5,624.5C205.0,568.7 247.5,512.8 197.5,457.0C147.5,401.2 96.7,450.3 47.5,457.0Z" fill="none" stroke="#680084" stroke-width="8.0" stroke-linejoin="round"/>
</g>
<path d="M57.5,457.0C11.7,462.8 55.0,465.3 60.0,474.5C65.0,483.7 69.2,476.2 72.5,484.5C75.8,492.8 70.0,490.3 70.0,499.5C70.0,508.7 70.0,502.8 72.5,512.0C75.0,521.2 72.5,516.2 77.5,527.0C82.5,537.8 80.0,541.2 87.5,544.5C95.0,547.8 90.8,542.8 100.0,537.0C109.2,531.2 105.8,533.7 115.0,527.0C124.2,520.3 120.4,522.0 127.5,517.0C134.6,512.0 131.2,509.5 136.2,512.0C141.2,514.5 138.8,515.3 142.5,524.5C146.2,533.7 146.2,529.5 147.5,539.5C148.8,549.5 148.8,547.0 146.2,554.5C143.8,562.0 145.4,559.5 140.0,562.0C134.6,564.5 131.7,558.7 130.0,562.0C128.3,565.3 130.0,565.3 135.0,572.0C140.0,578.7 138.3,579.5 145.0,582.0C151.7,584.5 150.0,583.7 155.0,579.5C160.0,575.3 157.5,577.0 160.0,569.5C162.5,562.0 159.2,564.5 162.5,557.0C165.8,549.5 170.0,553.7 170.0,547.0C170.0,540.3 165.8,545.3 162.5,537.0C159.2,528.7 159.2,531.2 160.0,522.0C160.8,512.8 160.0,516.2 165.0,509.5C170.0,502.8 166.7,505.3 175.0,502.0C183.3,498.7 182.5,500.3 190.0,499.5C197.5,498.7 195.0,513.7 197.5,499.5C200.0,485.3 244.2,471.2 197.5,457.0C150.8,442.8 103.3,451.2 57.5,457.0Z" fill="#4a0084" stroke="rgba(196,194,186,0.92)" stroke-width="0.9"/>
<clipPath id="r11"><path d="M57.5,457.0C11.7,462.8 55.0,465.3 60.0,474.5C65.0,483.7 69.2,476.2 72.5,484.5C75.8,492.8 70.0,490.3 70.0,499.5C70.0,508.7 70.0,502.8 72.5,512.0C75.0,521.2 72.5,516.2 77.5,527.0C82.5,537.8 80.0,541.2 87.5,544.5C95.0,547.8 90.8,542.8 100.0,537.0C109.2,531.2 105.8,533.7 115.0,527.0C124.2,520.3 120.4,522.0 127.5,517.0C134.6,512.0 131.2,509.5 136.2,512.0C141.2,514.5 138.8,515.3 142.5,524.5C146.2,533.7 146.2,529.5 147.5,539.5C148.8,549.5 148.8,547.0 146.2,554.5C143.8,562.0 145.4,559.5 140.0,562.0C134.6,564.5 131.7,558.7 130.0,562.0C128.3,565.3 130.0,565.3 135.0,572.0C140.0,578.7 138.3,579.5 145.0,582.0C151.7,584.5 150.0,583.7 155.0,579.5C160.0,575.3 157.5,577.0 160.0,569.5C162.5,562.0 159.2,564.5 162.5,557.0C165.8,549.5 170.0,553.7 170.0,547.0C170.0,540.3 165.8,545.3 162.5,537.0C159.2,528.7 159.2,531.2 160.0,522.0C160.8,512.8 160.0,516.2 165.0,509.5C170.0,502.8 166.7,505.3 175.0,502.0C183.3,498.7 182.5,500.3 190.0,499.5C197.5,498.7 195.0,513.7 197.5,499.5C200.0,485.3 244.2,471.2 197.5,457.0C150.8,442.8 103.3,451.2 57.5,457.0Z"/></clipPath><g clip-path="url(#r11)">
<path d="M57.5,457.0C11.7,462.8 55.0,465.3 60.0,474.5C65.0,483.7 69.2,476.2 72.5,484.5C75.8,492.8 70.0,490.3 70.0,499.5C70.0,508.7 70.0,502.8 72.5,512.0C75.0,521.2 72.5,516.2 77.5,527.0C82.5,537.8 80.0,541.2 87.5,544.5C95.0,547.8 90.8,542.8 100.0,537.0C109.2,531.2 105.8,533.7 115.0,527.0C124.2,520.3 120.4,522.0 127.5,517.0C134.6,512.0 131.2,509.5 136.2,512.0C141.2,514.5 138.8,515.3 142.5,524.5C146.2,533.7 146.2,529.5 147.5,539.5C148.8,549.5 148.8,547.0 146.2,554.5C143.8,562.0 145.4,559.5 140.0,562.0C134.6,564.5 131.7,558.7 130.0,562.0C128.3,565.3 130.0,565.3 135.0,572.0C140.0,578.7 138.3,579.5 145.0,582.0C151.7,584.5 150.0,583.7 155.0,579.5C160.0,575.3 157.5,577.0 160.0,569.5C162.5,562.0 159.2,564.5 162.5,557.0C165.8,549.5 170.0,553.7 170.0,547.0C170.0,540.3 165.8,545.3 162.5,537.0C159.2,528.7 159.2,531.2 160.0,522.0C160.8,512.8 160.0,516.2 165.0,509.5C170.0,502.8 166.7,505.3 175.0,502.0C183.3,498.7 182.5,500.3 190.0,499.5C197.5,498.7 195.0,513.7 197.5,499.5C200.0,485.3 244.2,471.2 197.5,457.0C150.8,442.8 103.3,451.2 57.5,457.0Z" fill="none" stroke="rgba(196,194,186,0.92)" stroke-width="17.7" stroke-linejoin="round"/>
<path d="M57.5,457.0C11.7,462.8 55.0,465.3 60.0,474.5C65.0,483.7 69.2,476.2 72.5,484.5C75.8,492.8 70.0,490.3 70.0,499.5C70.0,508.7 70.0,502.8 72.5,512.0C75.0,521.2 72.5,516.2 77.5,527.0C82.5,537.8 80.0,541.2 87.5,544.5C95.0,547.8 90.8,542.8 100.0,537.0C109.2,531.2 105.8,533.7 115.0,527.0C124.2,520.3 120.4,522.0 127.5,517.0C134.6,512.0 131.2,509.5 136.2,512.0C141.2,514.5 138.8,515.3 142.5,524.5C146.2,533.7 146.2,529.5 147.5,539.5C148.8,549.5 148.8,547.0 146.2,554.5C143.8,562.0 145.4,559.5 140.0,562.0C134.6,564.5 131.7,558.7 130.0,562.0C128.3,565.3 130.0,565.3 135.0,572.0C140.0,578.7 138.3,579.5 145.0,582.0C151.7,584.5 150.0,583.7 155.0,579.5C160.0,575.3 157.5,577.0 160.0,569.5C162.5,562.0 159.2,564.5 162.5,557.0C165.8,549.5 170.0,553.7 170.0,547.0C170.0,540.3 165.8,545.3 162.5,537.0C159.2,528.7 159.2,531.2 160.0,522.0C160.8,512.8 160.0,516.2 165.0,509.5C170.0,502.8 166.7,505.3 175.0,502.0C183.3,498.7 182.5,500.3 190.0,499.5C197.5,498.7 195.0,513.7 197.5,499.5C200.0,485.3 244.2,471.2 197.5,457.0C150.8,442.8 103.3,451.2 57.5,457.0Z" fill="none" stroke="#4a0084" stroke-width="16.0" stroke-linejoin="round"/>
<path d="M57.5,457.0C11.7,462.8 55.0,465.3 60.0,474.5C65.0,483.7 69.2,476.2 72.5,484.5C75.8,492.8 70.0,490.3 70.0,499.5C70.0,508.7 70.0,502.8 72.5,512.0C75.0,521.2 72.5,516.2 77.5,527.0C82.5,537.8 80.0,541.2 87.5,544.5C95.0,547.8 90.8,542.8 100.0,537.0C109.2,531.2 105.8,533.7 115.0,527.0C124.2,520.3 120.4,522.0 127.5,517.0C134.6,512.0 131.2,509.5 136.2,512.0C141.2,514.5 138.8,515.3 142.5,524.5C146.2,533.7 146.2,529.5 147.5,539.5C148.8,549.5 148.8,547.0 146.2,554.5C143.8,562.0 145.4,559.5 140.0,562.0C134.6,564.5 131.7,558.7 130.0,562.0C128.3,565.3 130.0,565.3 135.0,572.0C140.0,578.7 138.3,579.5 145.0,582.0C151.7,584.5 150.0,583.7 155.0,579.5C160.0,575.3 157.5,577.0 160.0,569.5C162.5,562.0 159.2,564.5 162.5,557.0C165.8,549.5 170.0,553.7 170.0,547.0C170.0,540.3 165.8,545.3 162.5,537.0C159.2,528.7 159.2,531.2 160.0,522.0C160.8,512.8 160.0,516.2 165.0,509.5C170.0,502.8 166.7,505.3 175.0,502.0C183.3,498.7 182.5,500.3 190.0,499.5C197.5,498.7 195.0,513.7 197.5,499.5C200.0,485.3 244.2,471.2 197.5,457.0C150.8,442.8 103.3,451.2 57.5,457.0Z" fill="none" stroke="rgba(196,194,186,0.92)" stroke-width="9.7" stroke-linejoin="round"/>
<path d="M57.5,457.0C11.7,462.8 55.0,465.3 60.0,474.5C65.0,483.7 69.2,476.2 72.5,484.5C75.8,492.8 70.0,490.3 70.0,499.5C70.0,508.7 70.0,502.8 72.5,512.0C75.0,521.2 72.5,516.2 77.5,527.0C82.5,537.8 80.0,541.2 87.5,544.5C95.0,547.8 90.8,542.8 100.0,537.0C109.2,531.2 105.8,533.7 115.0,527.0C124.2,520.3 120.4,522.0 127.5,517.0C134.6,512.0 131.2,509.5 136.2,512.0C141.2,514.5 138.8,515.3 142.5,524.5C146.2,533.7 146.2,529.5 147.5,539.5C148.8,549.5 148.8,547.0 146.2,554.5C143.8,562.0 145.4,559.5 140.0,562.0C134.6,564.5 131.7,558.7 130.0,562.0C128.3,565.3 130.0,565.3 135.0,572.0C140.0,578.7 138.3,579.5 145.0,582.0C151.7,584.5 150.0,583.7 155.0,579.5C160.0,575.3 157.5,577.0 160.0,569.5C162.5,562.0 159.2,564.5 162.5,557.0C165.8,549.5 170.0,553.7 170.0,547.0C170.0,540.3 165.8,545.3 162.5,537.0C159.2,528.7 159.2,531.2 160.0,522.0C160.8,512.8 160.0,516.2 165.0,509.5C170.0,502.8 166.7,505.3 175.0,502.0C183.3,498.7 182.5,500.3 190.0,499.5C197.5,498.7 195.0,513.7 197.5,499.5C200.0,485.3 244.2,471.2 197.5,457.0C150.8,442.8 103.3,451.2 57.5,457.0Z" fill="none" stroke="#4a0084" stroke-width="8.0" stroke-linejoin="round"/>
</g>
<path d="M93.8,482.0C93.8,485.8 94.0,484.4 92.9,487.6C91.9,490.9 92.4,489.9 90.6,491.7C88.8,493.6 89.6,493.2 87.5,493.2C85.4,493.2 86.2,493.6 84.4,491.7C82.6,489.9 83.1,490.9 82.1,487.6C81.0,484.4 81.2,485.8 81.2,482.0C81.2,478.2 81.0,479.6 82.1,476.4C83.1,473.1 82.6,474.1 84.4,472.3C86.2,470.4 85.4,470.8 87.5,470.8C89.6,470.8 88.8,470.4 90.6,472.3C92.4,474.1 91.9,473.1 92.9,476.4C94.0,479.6 93.8,478.2 93.8,482.0Z" fill="#680084" stroke="rgba(196,194,186,0.92)" stroke-width="0.9"/>
<path d="M90.5,480.8C90.5,482.8 90.6,482.1 90.1,483.9C89.6,485.7 89.9,485.1 89.0,486.2C88.1,487.2 88.5,487.0 87.5,487.0C86.5,487.0 86.9,487.2 86.0,486.2C85.1,485.1 85.4,485.7 84.9,483.9C84.4,482.1 84.5,482.8 84.5,480.8C84.5,478.7 84.4,479.4 84.9,477.6C85.4,475.8 85.1,476.4 86.0,475.3C86.9,474.3 86.5,474.5 87.5,474.5C88.5,474.5 88.1,474.3 89.0,475.3C89.9,476.4 89.6,475.8 90.1,477.6C90.6,479.4 90.5,478.7 90.5,480.8Z" fill="#9200be" stroke="rgba(196,194,186,0.92)" stroke-width="0.9"/>
<path d="M107.5,457.0C78.3,462.8 108.3,463.7 110.0,474.5C111.7,485.3 110.0,481.2 112.5,489.5C115.0,497.8 111.2,495.5 117.5,499.5C123.8,503.5 122.1,503.0 131.2,501.5C140.4,500.0 137.8,499.4 145.0,495.0C152.2,490.6 143.8,491.2 153.0,488.2C162.2,485.3 157.7,486.7 172.5,486.2C187.3,485.8 189.2,496.8 197.5,487.0C205.8,477.2 227.5,467.0 197.5,457.0C167.5,447.0 136.7,451.2 107.5,457.0Z" fill="#012f82" stroke="rgba(196,194,186,0.92)" stroke-width="0.9"/>
<clipPath id="r12"><path d="M107.5,457.0C78.3,462.8 108.3,463.7 110.0,474.5C111.7,485.3 110.0,481.2 112.5,489.5C115.0,497.8 111.2,495.5 117.5,499.5C123.8,503.5 122.1,503.0 131.2,501.5C140.4,500.0 137.8,499.4 145.0,495.0C152.2,490.6 143.8,491.2 153.0,488.2C162.2,485.3 157.7,486.7 172.5,486.2C187.3,485.8 189.2,496.8 197.5,487.0C205.8,477.2 227.5,467.0 197.5,457.0C167.5,447.0 136.7,451.2 107.5,457.0Z"/></clipPath><g clip-path="url(#r12)">
<path d="M107.5,457.0C78.3,462.8 108.3,463.7 110.0,474.5C111.7,485.3 110.0,481.2 112.5,489.5C115.0,497.8 111.2,495.5 117.5,499.5C123.8,503.5 122.1,503.0 131.2,501.5C140.4,500.0 137.8,499.4 145.0,495.0C152.2,490.6 143.8,491.2 153.0,488.2C162.2,485.3 157.7,486.7 172.5,486.2C187.3,485.8 189.2,496.8 197.5,487.0C205.8,477.2 227.5,467.0 197.5,457.0C167.5,447.0 136.7,451.2 107.5,457.0Z" fill="none" stroke="rgba(196,194,186,0.92)" stroke-width="13.7" stroke-linejoin="round"/>
<path d="M107.5,457.0C78.3,462.8 108.3,463.7 110.0,474.5C111.7,485.3 110.0,481.2 112.5,489.5C115.0,497.8 111.2,495.5 117.5,499.5C123.8,503.5 122.1,503.0 131.2,501.5C140.4,500.0 137.8,499.4 145.0,495.0C152.2,490.6 143.8,491.2 153.0,488.2C162.2,485.3 157.7,486.7 172.5,486.2C187.3,485.8 189.2,496.8 197.5,487.0C205.8,477.2 227.5,467.0 197.5,457.0C167.5,447.0 136.7,451.2 107.5,457.0Z" fill="none" stroke="#012f82" stroke-width="12.0" stroke-linejoin="round"/>
<path d="M107.5,457.0C78.3,462.8 108.3,463.7 110.0,474.5C111.7,485.3 110.0,481.2 112.5,489.5C115.0,497.8 111.2,495.5 117.5,499.5C123.8,503.5 122.1,503.0 131.2,501.5C140.4,500.0 137.8,499.4 145.0,495.0C152.2,490.6 143.8,491.2 153.0,488.2C162.2,485.3 157.7,486.7 172.5,486.2C187.3,485.8 189.2,496.8 197.5,487.0C205.8,477.2 227.5,467.0 197.5,457.0C167.5,447.0 136.7,451.2 107.5,457.0Z" fill="none" stroke="rgba(196,194,186,0.92)" stroke-width="7.7" stroke-linejoin="round"/>
<path d="M107.5,457.0C78.3,462.8 108.3,463.7 110.0,474.5C111.7,485.3 110.0,481.2 112.5,489.5C115.0,497.8 111.2,495.5 117.5,499.5C123.8,503.5 122.1,503.0 131.2,501.5C140.4,500.0 137.8,499.4 145.0,495.0C152.2,490.6 143.8,491.2 153.0,488.2C162.2,485.3 157.7,486.7 172.5,486.2C187.3,485.8 189.2,496.8 197.5,487.0C205.8,477.2 227.5,467.0 197.5,457.0C167.5,447.0 136.7,451.2 107.5,457.0Z" fill="none" stroke="#012f82" stroke-width="6.0" stroke-linejoin="round"/>
</g>
<path d="M140.0,457.0C134.6,462.0 139.6,464.1 143.8,472.0C147.9,479.9 146.2,479.1 152.5,480.8C158.8,482.4 158.8,482.4 162.5,477.0C166.2,471.6 164.6,471.2 163.8,464.5C162.9,457.8 167.9,459.5 160.0,457.0C152.1,454.5 145.4,452.0 140.0,457.0Z" fill="#0055a6" stroke="rgba(196,194,186,0.92)" stroke-width="0.9"/>
<path d="M139.5,486.5C139.5,488.3 139.7,487.7 138.8,489.2C138.0,490.8 138.4,490.3 137.0,491.3C135.6,492.2 136.2,492.0 134.5,492.0C132.8,492.0 133.4,492.2 132.0,491.3C130.6,490.3 131.0,490.8 130.2,489.2C129.3,487.7 129.5,488.3 129.5,486.5C129.5,484.7 129.3,485.3 130.2,483.8C131.0,482.2 130.6,482.7 132.0,481.7C133.4,480.8 132.8,481.0 134.5,481.0C136.2,481.0 135.6,480.8 137.0,481.7C138.4,482.7 138.0,482.2 138.8,483.8C139.7,485.3 139.5,484.7 139.5,486.5Z" fill="#0055a6" stroke="rgba(196,194,186,0.92)" stroke-width="0.9"/>
<path d="M186.0,467.0C186.0,467.7 186.1,467.4 185.7,468.0C185.3,468.6 185.5,468.4 184.9,468.7C184.2,469.1 184.5,469.0 183.8,469.0C183.0,469.0 183.3,469.1 182.6,468.7C182.0,468.4 182.2,468.6 181.8,468.0C181.4,467.4 181.5,467.7 181.5,467.0C181.5,466.3 181.4,466.6 181.8,466.0C182.2,465.4 182.0,465.6 182.6,465.3C183.3,464.9 183.0,465.0 183.8,465.0C184.5,465.0 184.2,464.9 184.9,465.3C185.5,465.6 185.3,465.4 185.7,466.0C186.1,466.6 186.0,466.3 186.0,467.0Z" fill="#4a0084" stroke="rgba(196,194,186,0.92)" stroke-width="0.9"/>
<path d="M197.5,510.8C193.3,472.4 195.4,509.9 185.0,509.5C174.6,509.1 173.8,504.5 166.2,509.5C158.8,514.5 162.3,514.0 162.5,524.5C162.7,535.0 163.2,529.9 166.8,541.0C170.3,552.1 169.0,548.1 173.2,557.8C177.5,567.4 178.9,561.9 179.5,570.0C180.1,578.1 178.2,574.7 175.0,582.0C171.8,589.3 170.0,584.5 170.0,592.0C170.0,599.5 171.7,593.7 175.0,604.5C178.3,615.3 172.5,617.8 180.0,624.5C187.5,631.2 191.7,662.4 197.5,624.5C203.3,586.6 201.7,549.1 197.5,510.8Z" fill="#012f82" stroke="rgba(196,194,186,0.92)" stroke-width="0.9"/>
<clipPath id="r13"><path d="M197.5,510.8C193.3,472.4 195.4,509.9 185.0,509.5C174.6,509.1 173.8,504.5 166.2,509.5C158.8,514.5 162.3,514.0 162.5,524.5C162.7,535.0 163.2,529.9 166.8,541.0C170.3,552.1 169.0,548.1 173.2,557.8C177.5,567.4 178.9,561.9 179.5,570.0C180.1,578.1 178.2,574.7 175.0,582.0C171.8,589.3 170.0,584.5 170.0,592.0C170.0,599.5 171.7,593.7 175.0,604.5C178.3,615.3 172.5,617.8 180.0,624.5C187.5,631.2 191.7,662.4 197.5,624.5C203.3,586.6 201.7,549.1 197.5,510.8Z"/></clipPath><g clip-path="url(#r13)">
<path d="M197.5,510.8C193.3,472.4 195.4,509.9 185.0,509.5C174.6,509.1 173.8,504.5 166.2,509.5C158.8,514.5 162.3,514.0 162.5,524.5C162.7,535.0 163.2,529.9 166.8,541.0C170.3,552.1 169.0,548.1 173.2,557.8C177.5,567.4 178.9,561.9 179.5,570.0C180.1,578.1 178.2,574.7 175.0,582.0C171.8,589.3 170.0,584.5 170.0,592.0C170.0,599.5 171.7,593.7 175.0,604.5C178.3,615.3 172.5,617.8 180.0,624.5C187.5,631.2 191.7,662.4 197.5,624.5C203.3,586.6 201.7,549.1 197.5,510.8Z" fill="none" stroke="rgba(196,194,186,0.92)" stroke-width="7.7" stroke-linejoin="round"/>
<path d="M197.5,510.8C193.3,472.4 195.4,509.9 185.0,509.5C174.6,509.1 173.8,504.5 166.2,509.5C158.8,514.5 162.3,514.0 162.5,524.5C162.7,535.0 163.2,529.9 166.8,541.0C170.3,552.1 169.0,548.1 173.2,557.8C177.5,567.4 178.9,561.9 179.5,570.0C180.1,578.1 178.2,574.7 175.0,582.0C171.8,589.3 170.0,584.5 170.0,592.0C170.0,599.5 171.7,593.7 175.0,604.5C178.3,615.3 172.5,617.8 180.0,624.5C187.5,631.2 191.7,662.4 197.5,624.5C203.3,586.6 201.7,549.1 197.5,510.8Z" fill="none" stroke="#012f82" stroke-width="6.0" stroke-linejoin="round"/>
</g>
<path d="M197.5,515.8C193.8,500.8 192.5,513.7 186.2,517.0C180.0,520.3 182.1,519.1 178.8,525.8C175.4,532.4 176.2,529.1 176.2,537.0C176.2,544.9 175.8,542.0 178.8,549.5C181.7,557.0 178.8,555.3 185.0,559.5C191.2,563.7 193.3,576.6 197.5,562.0C201.7,547.4 201.2,530.8 197.5,515.8Z" fill="#0055a6" stroke="rgba(196,194,186,0.92)" stroke-width="0.9"/>
<path d="M197.5,519.5C194.2,509.5 192.1,517.0 187.5,522.0C182.9,527.0 184.2,526.2 183.8,534.5C183.3,542.8 181.7,541.2 186.2,547.0C190.8,552.8 193.8,561.2 197.5,552.0C201.2,542.8 200.8,529.5 197.5,519.5Z" fill="#0a82fc" stroke="rgba(196,194,186,0.92)" stroke-width="0.9"/>
<path d="M197.5,527.0C195.4,521.6 193.8,525.8 191.2,530.8C188.8,535.8 187.9,536.6 190.0,542.0C192.1,547.4 195.0,552.0 197.5,547.0C200.0,542.0 199.6,532.4 197.5,527.0Z" fill="#3a9bfe" stroke="rgba(196,194,186,0.92)" stroke-width="0.9"/>
<path d="M197.5,572.0C193.3,559.5 191.7,571.2 185.0,574.5C178.3,577.8 179.2,574.5 177.5,582.0C175.8,589.5 176.7,587.8 180.0,597.0C183.3,606.2 181.7,604.5 187.5,609.5C193.3,614.5 194.2,624.5 197.5,612.0C200.8,599.5 201.7,584.5 197.5,572.0Z" fill="#0055a6" stroke="rgba(196,194,186,0.92)" stroke-width="0.9"/>
<path d="M-5.0,532.0C-0.8,502.0 0.0,530.3 7.5,534.5C15.0,538.7 10.0,536.2 17.5,544.5C25.0,552.8 22.5,550.3 30.0,559.5C37.5,568.7 35.4,562.8 40.0,572.0C44.6,581.2 39.6,578.7 43.8,587.0C47.9,595.3 49.2,588.7 52.5,597.0C55.8,605.3 54.6,602.8 53.8,612.0C52.9,621.2 69.6,620.3 50.0,624.5C30.4,628.7 13.3,655.3 -5.0,624.5C-23.3,593.7 -9.2,562.0 -5.0,532.0Z" fill="#b4b4b4"/>
<path d="M49.0,603.2C49.0,605.3 49.1,604.6 48.5,606.4C47.9,608.2 48.3,607.6 47.2,608.7C46.2,609.7 46.7,609.5 45.5,609.5C44.3,609.5 44.8,609.7 43.8,608.7C42.7,607.6 43.1,608.2 42.5,606.4C41.9,604.6 42.0,605.3 42.0,603.2C42.0,601.2 41.9,601.9 42.5,600.1C43.1,598.3 42.7,598.9 43.8,597.8C44.8,596.8 44.3,597.0 45.5,597.0C46.7,597.0 46.2,596.8 47.2,597.8C48.3,598.9 47.9,598.3 48.5,600.1C49.1,601.9 49.0,601.2 49.0,603.2Z" fill="#0a82fc"/>
<path d="M-5.0,539.5C-0.8,512.8 -0.8,538.7 7.5,544.5C15.8,550.3 12.5,548.7 20.0,557.0C27.5,565.3 24.2,561.2 30.0,569.5C35.8,577.8 34.6,572.8 37.5,582.0C40.4,591.2 37.9,587.0 38.8,597.0C39.6,607.0 40.4,602.8 40.0,612.0C39.6,621.2 52.5,620.3 37.5,624.5C22.5,628.7 9.2,652.8 -5.0,624.5C-19.2,596.2 -9.2,566.2 -5.0,539.5Z" fill="#ebebeb"/>
<path d="M131.2,547.0C131.2,540.8 132.5,538.2 135.0,538.2C137.5,538.2 138.8,540.8 138.8,547.0C138.8,553.2 137.5,557.0 135.0,557.0C132.5,557.0 131.2,553.2 131.2,547.0Z" fill="none" stroke="rgba(196,194,186,0.92)" stroke-width="0.9"/>
</g>
<g clip-path="url(#c10)">
<rect x="190" y="0" width="190" height="154" fill="#7abcfe"/>
<path d="M185.0,60.0C190.0,25.8 192.5,63.3 200.0,60.0C207.5,56.7 204.2,60.0 207.5,50.0C210.8,40.0 208.3,39.6 210.0,30.0C211.7,20.4 206.7,24.6 212.5,21.2C218.3,17.9 218.3,19.6 227.5,20.0C236.7,20.4 234.6,17.5 240.0,22.5C245.4,27.5 240.4,27.5 243.8,35.0C247.1,42.5 248.6,37.1 250.0,45.0C251.4,52.9 246.2,51.9 248.0,58.8C249.8,65.6 250.7,60.1 255.5,65.5C260.3,70.9 259.3,67.7 262.5,75.0C265.7,82.3 267.9,79.8 265.0,87.5C262.1,95.2 260.8,91.3 253.8,98.0C246.7,104.7 249.2,101.0 243.8,107.5C238.3,114.0 240.0,110.0 237.5,117.5C235.0,125.0 236.2,122.5 236.2,130.0C236.2,137.5 238.8,133.3 237.5,140.0C236.2,146.7 235.0,142.5 232.5,150.0C230.0,157.5 245.8,158.3 230.0,162.5C214.2,166.7 200.0,196.7 185.0,162.5C170.0,128.3 180.0,94.2 185.0,60.0Z" fill="#a9a9cb"/>
<path d="M251.2,135.0C255.0,130.8 257.9,132.1 265.0,133.8C272.1,135.4 272.5,135.4 272.5,140.0C272.5,144.6 271.2,145.4 265.0,147.5C258.8,149.6 258.3,150.4 253.8,146.2C249.2,142.1 247.5,139.2 251.2,135.0Z" fill="#a9a9cb"/>
<path d="M197.5,147.5C201.7,142.1 202.9,144.1 207.5,146.2C212.1,148.4 210.4,148.6 211.2,154.0C212.1,159.4 215.4,159.7 210.0,162.5C204.6,165.3 199.2,167.5 195.0,162.5C190.8,157.5 193.3,152.9 197.5,147.5Z" fill="#dcdcf8"/>
<path d="M254.5,83.8C254.5,84.3 254.6,84.1 254.2,84.6C253.9,85.1 254.1,85.0 253.5,85.3C252.9,85.6 253.2,85.5 252.5,85.5C251.8,85.5 252.1,85.6 251.5,85.3C250.9,85.0 251.1,85.1 250.8,84.6C250.4,84.1 250.5,84.3 250.5,83.8C250.5,83.2 250.4,83.4 250.8,82.9C251.1,82.4 250.9,82.5 251.5,82.2C252.1,81.9 251.8,82.0 252.5,82.0C253.2,82.0 252.9,81.9 253.5,82.2C254.1,82.5 253.9,82.4 254.2,82.9C254.6,83.4 254.5,83.2 254.5,83.8Z" fill="#f6f6fa"/>
<path d="M196.2,30.0C196.2,35.8 196.5,33.7 195.1,38.8C193.6,43.8 194.4,42.2 191.9,45.2C189.3,48.1 190.4,47.5 187.5,47.5C184.6,47.5 185.7,48.1 183.1,45.2C180.6,42.2 181.4,43.8 179.9,38.8C178.5,33.7 178.8,35.8 178.8,30.0C178.8,24.2 178.5,26.3 179.9,21.3C181.4,16.2 180.6,17.8 183.1,14.8C185.7,11.9 184.6,12.5 187.5,12.5C190.4,12.5 189.3,11.9 191.9,14.8C194.4,17.8 193.6,16.2 195.1,21.2C196.5,26.3 196.2,24.2 196.2,30.0Z" fill="none" stroke="rgba(196,194,186,0.92)" stroke-width="22.6" stroke-linejoin="round"/>
<path d="M196.2,30.0C196.2,35.8 196.5,33.7 195.1,38.8C193.6,43.8 194.4,42.2 191.9,45.2C189.3,48.1 190.4,47.5 187.5,47.5C184.6,47.5 185.7,48.1 183.1,45.2C180.6,42.2 181.4,43.8 179.9,38.8C178.5,33.7 178.8,35.8 178.8,30.0C178.8,24.2 178.5,26.3 179.9,21.3C181.4,16.2 180.6,17.8 183.1,14.8C185.7,11.9 184.6,12.5 187.5,12.5C190.4,12.5 189.3,11.9 191.9,14.8C194.4,17.8 193.6,16.2 195.1,21.2C196.5,26.3 196.2,24.2 196.2,30.0Z" fill="none" stroke="#3a9bfe" stroke-width="21.0" stroke-linejoin="round"/>
<path d="M196.2,30.0C196.2,35.8 196.5,33.7 195.1,38.8C193.6,43.8 194.4,42.2 191.9,45.2C189.3,48.1 190.4,47.5 187.5,47.5C184.6,47.5 185.7,48.1 183.1,45.2C180.6,42.2 181.4,43.8 179.9,38.8C178.5,33.7 178.8,35.8 178.8,30.0C178.8,24.2 178.5,26.3 179.9,21.3C181.4,16.2 180.6,17.8 183.1,14.8C185.7,11.9 184.6,12.5 187.5,12.5C190.4,12.5 189.3,11.9 191.9,14.8C194.4,17.8 193.6,16.2 195.1,21.2C196.5,26.3 196.2,24.2 196.2,30.0Z" fill="none" stroke="rgba(196,194,186,0.92)" stroke-width="19.1" stroke-linejoin="round"/>
<path d="M196.2,30.0C196.2,35.8 196.5,33.7 195.1,38.8C193.6,43.8 194.4,42.2 191.9,45.2C189.3,48.1 190.4,47.5 187.5,47.5C184.6,47.5 185.7,48.1 183.1,45.2C180.6,42.2 181.4,43.8 179.9,38.8C178.5,33.7 178.8,35.8 178.8,30.0C178.8,24.2 178.5,26.3 179.9,21.3C181.4,16.2 180.6,17.8 183.1,14.8C185.7,11.9 184.6,12.5 187.5,12.5C190.4,12.5 189.3,11.9 191.9,14.8C194.4,17.8 193.6,16.2 195.1,21.2C196.5,26.3 196.2,24.2 196.2,30.0Z" fill="none" stroke="#3a9bfe" stroke-width="17.5" stroke-linejoin="round"/>
<path d="M196.2,30.0C196.2,35.8 196.5,33.7 195.1,38.8C193.6,43.8 194.4,42.2 191.9,45.2C189.3,48.1 190.4,47.5 187.5,47.5C184.6,47.5 185.7,48.1 183.1,45.2C180.6,42.2 181.4,43.8 179.9,38.8C178.5,33.7 178.8,35.8 178.8,30.0C178.8,24.2 178.5,26.3 179.9,21.3C181.4,16.2 180.6,17.8 183.1,14.8C185.7,11.9 184.6,12.5 187.5,12.5C190.4,12.5 189.3,11.9 191.9,14.8C194.4,17.8 193.6,16.2 195.1,21.2C196.5,26.3 196.2,24.2 196.2,30.0Z" fill="none" stroke="rgba(196,194,186,0.92)" stroke-width="15.6" stroke-linejoin="round"/>
<path d="M196.2,30.0C196.2,35.8 196.5,33.7 195.1,38.8C193.6,43.8 194.4,42.2 191.9,45.2C189.3,48.1 190.4,47.5 187.5,47.5C184.6,47.5 185.7,48.1 183.1,45.2C180.6,42.2 181.4,43.8 179.9,38.8C178.5,33.7 178.8,35.8 178.8,30.0C178.8,24.2 178.5,26.3 179.9,21.3C181.4,16.2 180.6,17.8 183.1,14.8C185.7,11.9 184.6,12.5 187.5,12.5C190.4,12.5 189.3,11.9 191.9,14.8C194.4,17.8 193.6,16.2 195.1,21.2C196.5,26.3 196.2,24.2 196.2,30.0Z" fill="none" stroke="#0a82fc" stroke-width="14.0" stroke-linejoin="round"/>
<path d="M196.2,30.0C196.2,35.8 196.5,33.7 195.1,38.8C193.6,43.8 194.4,42.2 191.9,45.2C189.3,48.1 190.4,47.5 187.5,47.5C184.6,47.5 185.7,48.1 183.1,45.2C180.6,42.2 181.4,43.8 179.9,38.8C178.5,33.7 178.8,35.8 178.8,30.0C178.8,24.2 178.5,26.3 179.9,21.3C181.4,16.2 180.6,17.8 183.1,14.8C185.7,11.9 184.6,12.5 187.5,12.5C190.4,12.5 189.3,11.9 191.9,14.8C194.4,17.8 193.6,16.2 195.1,21.2C196.5,26.3 196.2,24.2 196.2,30.0Z" fill="none" stroke="rgba(196,194,186,0.92)" stroke-width="12.1" stroke-linejoin="round"/>
<path d="M196.2,30.0C196.2,35.8 196.5,33.7 195.1,38.8C193.6,43.8 194.4,42.2 191.9,45.2C189.3,48.1 190.4,47.5 187.5,47.5C184.6,47.5 185.7,48.1 183.1,45.2C180.6,42.2 181.4,43.8 179.9,38.8C178.5,33.7 178.8,35.8 178.8,30.0C178.8,24.2 178.5,26.3 179.9,21.3C181.4,16.2 180.6,17.8 183.1,14.8C185.7,11.9 184.6,12.5 187.5,12.5C190.4,12.5 189.3,11.9 191.9,14.8C194.4,17.8 193.6,16.2 195.1,21.2C196.5,26.3 196.2,24.2 196.2,30.0Z" fill="none" stroke="#0a82fc" stroke-width="10.5" stroke-linejoin="round"/>
<path d="M196.2,30.0C196.2,35.8 196.5,33.7 195.1,38.8C193.6,43.8 194.4,42.2 191.9,45.2C189.3,48.1 190.4,47.5 187.5,47.5C184.6,47.5 185.7,48.1 183.1,45.2C180.6,42.2 181.4,43.8 179.9,38.8C178.5,33.7 178.8,35.8 178.8,30.0C178.8,24.2 178.5,26.3 179.9,21.3C181.4,16.2 180.6,17.8 183.1,14.8C185.7,11.9 184.6,12.5 187.5,12.5C190.4,12.5 189.3,11.9 191.9,14.8C194.4,17.8 193.6,16.2 195.1,21.2C196.5,26.3 196.2,24.2 196.2,30.0Z" fill="none" stroke="rgba(196,194,186,0.92)" stroke-width="8.6" stroke-linejoin="round"/>
<path d="M196.2,30.0C196.2,35.8 196.5,33.7 195.1,38.8C193.6,43.8 194.4,42.2 191.9,45.2C189.3,48.1 190.4,47.5 187.5,47.5C184.6,47.5 185.7,48.1 183.1,45.2C180.6,42.2 181.4,43.8 179.9,38.8C178.5,33.7 178.8,35.8 178.8,30.0C178.8,24.2 178.5,26.3 179.9,21.3C181.4,16.2 180.6,17.8 183.1,14.8C185.7,11.9 184.6,12.5 187.5,12.5C190.4,12.5 189.3,11.9 191.9,14.8C194.4,17.8 193.6,16.2 195.1,21.2C196.5,26.3 196.2,24.2 196.2,30.0Z" fill="none" stroke="#0068d6" stroke-width="7.0" stroke-linejoin="round"/>
<path d="M196.2,30.0C196.2,35.8 196.5,33.7 195.1,38.8C193.6,43.8 194.4,42.2 191.9,45.2C189.3,48.1 190.4,47.5 187.5,47.5C184.6,47.5 185.7,48.1 183.1,45.2C180.6,42.2 181.4,43.8 179.9,38.8C178.5,33.7 178.8,35.8 178.8,30.0C178.8,24.2 178.5,26.3 179.9,21.3C181.4,16.2 180.6,17.8 183.1,14.8C185.7,11.9 184.6,12.5 187.5,12.5C190.4,12.5 189.3,11.9 191.9,14.8C194.4,17.8 193.6,16.2 195.1,21.2C196.5,26.3 196.2,24.2 196.2,30.0Z" fill="none" stroke="rgba(196,194,186,0.92)" stroke-width="5.1" stroke-linejoin="round"/>
<path d="M196.2,30.0C196.2,35.8 196.5,33.7 195.1,38.8C193.6,43.8 194.4,42.2 191.9,45.2C189.3,48.1 190.4,47.5 187.5,47.5C184.6,47.5 185.7,48.1 183.1,45.2C180.6,42.2 181.4,43.8 179.9,38.8C178.5,33.7 178.8,35.8 178.8,30.0C178.8,24.2 178.5,26.3 179.9,21.3C181.4,16.2 180.6,17.8 183.1,14.8C185.7,11.9 184.6,12.5 187.5,12.5C190.4,12.5 189.3,11.9 191.9,14.8C194.4,17.8 193.6,16.2 195.1,21.2C196.5,26.3 196.2,24.2 196.2,30.0Z" fill="none" stroke="#0068d6" stroke-width="3.5" stroke-linejoin="round"/>
<path d="M196.2,30.0C196.2,35.8 196.5,33.7 195.1,38.8C193.6,43.8 194.4,42.2 191.9,45.2C189.3,48.1 190.4,47.5 187.5,47.5C184.6,47.5 185.7,48.1 183.1,45.2C180.6,42.2 181.4,43.8 179.9,38.8C178.5,33.7 178.8,35.8 178.8,30.0C178.8,24.2 178.5,26.3 179.9,21.3C181.4,16.2 180.6,17.8 183.1,14.8C185.7,11.9 184.6,12.5 187.5,12.5C190.4,12.5 189.3,11.9 191.9,14.8C194.4,17.8 193.6,16.2 195.1,21.2C196.5,26.3 196.2,24.2 196.2,30.0Z" fill="#0055a6" stroke="rgba(196,194,186,0.92)" stroke-width="0.9"/>
<path d="M225.0,-5.0C212.1,0.0 223.3,2.1 226.2,10.0C229.2,17.9 226.7,14.2 233.8,18.8C240.8,23.3 238.8,22.9 247.5,23.8C256.2,24.6 253.8,25.0 260.0,21.2C266.2,17.5 264.6,21.2 266.2,12.5C267.9,3.8 278.8,0.8 265.0,-5.0C251.2,-10.8 237.9,-10.0 225.0,-5.0Z" fill="#3a9bfe" stroke="rgba(196,194,186,0.92)" stroke-width="0.9"/>
<path d="M230.0,-5.0C220.4,-0.4 228.8,2.1 231.2,8.8C233.8,15.4 231.7,11.7 237.5,15.0C243.3,18.3 242.1,18.3 248.8,18.8C255.4,19.2 253.3,19.2 257.5,16.2C261.7,13.3 260.4,17.1 261.2,10.0C262.1,2.9 270.4,0.0 260.0,-5.0C249.6,-10.0 239.6,-9.6 230.0,-5.0Z" fill="#0a82fc" stroke="rgba(196,194,186,0.92)" stroke-width="0.9"/>
<path d="M236.2,-5.0C230.2,-0.8 233.8,1.2 237.5,7.5C241.2,13.8 241.5,12.9 247.5,13.8C253.5,14.6 252.8,16.2 255.5,10.0C258.2,3.8 261.9,0.0 255.5,-5.0C249.1,-10.0 242.2,-9.2 236.2,-5.0Z" fill="#0068d6" stroke="rgba(196,194,186,0.92)" stroke-width="0.9"/>
<path d="M252.5,42.5C255.8,40.2 260.0,40.5 265.0,43.0C270.0,45.5 268.3,46.0 267.5,50.0C266.7,54.0 266.7,55.0 262.5,55.0C258.3,55.0 258.3,54.2 255.0,50.0C251.7,45.8 249.2,44.8 252.5,42.5Z" fill="#3a9bfe"/>
<path d="M222.5,71.2C225.4,68.8 229.6,68.8 233.8,70.5C237.9,72.2 237.9,73.8 235.0,76.2C232.1,78.8 229.2,79.7 225.0,78.0C220.8,76.3 219.6,73.8 222.5,71.2Z" fill="#7abcfe"/>
<path d="M263.2,106.2C263.2,108.1 263.5,107.4 262.3,109.0C261.1,110.6 261.8,110.1 259.8,111.0C257.7,111.9 258.6,111.8 256.2,111.8C253.9,111.8 254.8,111.9 252.8,111.0C250.7,110.1 251.4,110.6 250.2,109.0C249.0,107.4 249.2,108.1 249.2,106.2C249.2,104.4 249.0,105.1 250.2,103.5C251.4,101.9 250.7,102.4 252.8,101.5C254.8,100.6 253.9,100.8 256.2,100.8C258.6,100.8 257.7,100.6 259.8,101.5C261.8,102.4 261.1,101.9 262.3,103.5C263.5,105.1 263.2,104.4 263.2,106.2Z" fill="none" stroke="rgba(196,194,186,0.92)" stroke-width="9.6" stroke-linejoin="round"/>
<path d="M263.2,106.2C263.2,108.1 263.5,107.4 262.3,109.0C261.1,110.6 261.8,110.1 259.8,111.0C257.7,111.9 258.6,111.8 256.2,111.8C253.9,111.8 254.8,111.9 252.8,111.0C250.7,110.1 251.4,110.6 250.2,109.0C249.0,107.4 249.2,108.1 249.2,106.2C249.2,104.4 249.0,105.1 250.2,103.5C251.4,101.9 250.7,102.4 252.8,101.5C254.8,100.6 253.9,100.8 256.2,100.8C258.6,100.8 257.7,100.6 259.8,101.5C261.8,102.4 261.1,101.9 262.3,103.5C263.5,105.1 263.2,104.4 263.2,106.2Z" fill="none" stroke="#3a9bfe" stroke-width="8.0" stroke-linejoin="round"/>
<path d="M263.2,106.2C263.2,108.1 263.5,107.4 262.3,109.0C261.1,110.6 261.8,110.1 259.8,111.0C257.7,111.9 258.6,111.8 256.2,111.8C253.9,111.8 254.8,111.9 252.8,111.0C250.7,110.1 251.4,110.6 250.2,109.0C249.0,107.4 249.2,108.1 249.2,106.2C249.2,104.4 249.0,105.1 250.2,103.5C251.4,101.9 250.7,102.4 252.8,101.5C254.8,100.6 253.9,100.8 256.2,100.8C258.6,100.8 257.7,100.6 259.8,101.5C261.8,102.4 261.1,101.9 262.3,103.5C263.5,105.1 263.2,104.4 263.2,106.2Z" fill="none" stroke="rgba(196,194,186,0.92)" stroke-width="5.6" stroke-linejoin="round"/>
<path d="M263.2,106.2C263.2,108.1 263.5,107.4 262.3,109.0C261.1,110.6 261.8,110.1 259.8,111.0C257.7,111.9 258.6,111.8 256.2,111.8C253.9,111.8 254.8,111.9 252.8,111.0C250.7,110.1 251.4,110.6 250.2,109.0C249.0,107.4 249.2,108.1 249.2,106.2C249.2,104.4 249.0,105.1 250.2,103.5C251.4,101.9 250.7,102.4 252.8,101.5C254.8,100.6 253.9,100.8 256.2,100.8C258.6,100.8 257.7,100.6 259.8,101.5C261.8,102.4 261.1,101.9 262.3,103.5C263.5,105.1 263.2,104.4 263.2,106.2Z" fill="none" stroke="#3a9bfe" stroke-width="4.0" stroke-linejoin="round"/>
<path d="M263.2,106.2C263.2,108.1 263.5,107.4 262.3,109.0C261.1,110.6 261.8,110.1 259.8,111.0C257.7,111.9 258.6,111.8 256.2,111.8C253.9,111.8 254.8,111.9 252.8,111.0C250.7,110.1 251.4,110.6 250.2,109.0C249.0,107.4 249.2,108.1 249.2,106.2C249.2,104.4 249.0,105.1 250.2,103.5C251.4,101.9 250.7,102.4 252.8,101.5C254.8,100.6 253.9,100.8 256.2,100.8C258.6,100.8 257.7,100.6 259.8,101.5C261.8,102.4 261.1,101.9 262.3,103.5C263.5,105.1 263.2,104.4 263.2,106.2Z" fill="#0a82fc" stroke="rgba(196,194,186,0.92)" stroke-width="0.9"/>
<path d="M262.5,100.0C264.2,92.5 264.2,95.8 272.5,87.5C280.8,79.2 280.0,79.2 287.5,75.0C295.0,70.8 294.2,71.7 295.0,75.0C295.8,78.3 296.7,76.7 290.0,85.0C283.3,93.3 282.5,91.7 275.0,100.0C267.5,108.3 271.7,110.0 267.5,110.0C263.3,110.0 260.8,107.5 262.5,100.0Z" fill="#3a9bfe"/>
<path d="M270.0,-5.0C231.7,-0.8 265.8,2.1 272.5,7.5C279.2,12.9 280.8,8.8 290.0,11.2C299.2,13.8 301.7,9.6 300.0,15.0C298.3,20.4 292.5,19.2 285.0,27.5C277.5,35.8 280.4,30.0 277.5,40.0C274.6,50.0 275.8,46.7 276.2,57.5C276.7,68.3 280.0,63.3 278.8,72.5C277.5,81.7 273.3,77.5 272.5,85.0C271.7,92.5 268.8,95.8 276.2,95.0C283.8,94.2 284.6,85.8 295.0,82.5C305.4,79.2 302.5,80.0 307.5,85.0C312.5,90.0 310.0,89.2 310.0,97.5C310.0,105.8 311.7,105.0 307.5,110.0C303.3,115.0 305.0,112.1 297.5,112.5C290.0,112.9 291.7,109.6 285.0,111.2C278.3,112.9 280.0,112.1 277.5,117.5C275.0,122.9 275.0,121.7 277.5,127.5C280.0,133.3 278.3,132.5 285.0,135.0C291.7,137.5 290.0,132.5 297.5,135.0C305.0,137.5 303.3,133.3 307.5,142.5C311.7,151.7 283.3,155.8 310.0,162.5C336.7,169.2 361.7,218.3 387.5,162.5C413.3,106.7 426.7,50.8 387.5,-5.0C348.3,-60.8 308.3,-9.2 270.0,-5.0Z" fill="#3a9bfe" stroke="rgba(196,194,186,0.92)" stroke-width="0.9"/>
<path d="M295.0,122.5C295.0,124.0 295.2,123.5 294.2,124.8C293.1,126.0 293.7,125.6 291.9,126.4C290.1,127.1 290.8,127.0 288.8,127.0C286.7,127.0 287.4,127.1 285.6,126.4C283.8,125.6 284.4,126.0 283.3,124.8C282.3,123.5 282.5,124.0 282.5,122.5C282.5,121.0 282.3,121.5 283.3,120.2C284.4,119.0 283.8,119.4 285.6,118.6C287.4,117.9 286.7,118.0 288.8,118.0C290.8,118.0 290.1,117.9 291.9,118.6C293.7,119.4 293.1,119.0 294.2,120.2C295.2,121.5 295.0,121.0 295.0,122.5Z" fill="#0a82fc" stroke="rgba(196,194,186,0.92)" stroke-width="0.9"/>
<path d="M330.0,-5.0C307.5,0.0 327.5,0.8 320.0,10.0C312.5,19.2 315.8,15.0 307.5,22.5C299.2,30.0 300.0,24.2 295.0,32.5C290.0,40.8 291.7,37.5 292.5,47.5C293.3,57.5 292.5,55.8 297.5,62.5C302.5,69.2 301.7,68.3 307.5,67.5C313.3,66.7 310.0,65.8 315.0,60.0C320.0,54.2 315.8,55.0 322.5,50.0C329.2,45.0 325.8,45.8 335.0,45.0C344.2,44.2 346.7,41.7 350.0,47.5C353.3,53.3 348.3,53.3 345.0,62.5C341.7,71.7 345.0,68.3 340.0,75.0C335.0,81.7 335.8,78.3 330.0,82.5C324.2,86.7 328.3,83.3 322.5,87.5C316.7,91.7 316.7,87.5 312.5,95.0C308.3,102.5 309.2,102.5 310.0,110.0C310.8,117.5 315.8,110.8 315.0,117.5C314.2,124.2 308.3,121.7 307.5,130.0C306.7,138.3 310.0,131.7 312.5,142.5C315.0,153.3 290.0,155.8 315.0,162.5C340.0,169.2 363.3,218.3 387.5,162.5C411.7,106.7 406.7,50.8 387.5,-5.0C368.3,-60.8 352.5,-10.0 330.0,-5.0Z" fill="none" stroke="rgba(196,194,186,0.92)" stroke-width="22.6" stroke-linejoin="round"/>
<path d="M330.0,-5.0C307.5,0.0 327.5,0.8 320.0,10.0C312.5,19.2 315.8,15.0 307.5,22.5C299.2,30.0 300.0,24.2 295.0,32.5C290.0,40.8 291.7,37.5 292.5,47.5C293.3,57.5 292.5,55.8 297.5,62.5C302.5,69.2 301.7,68.3 307.5,67.5C313.3,66.7 310.0,65.8 315.0,60.0C320.0,54.2 315.8,55.0 322.5,50.0C329.2,45.0 325.8,45.8 335.0,45.0C344.2,44.2 346.7,41.7 350.0,47.5C353.3,53.3 348.3,53.3 345.0,62.5C341.7,71.7 345.0,68.3 340.0,75.0C335.0,81.7 335.8,78.3 330.0,82.5C324.2,86.7 328.3,83.3 322.5,87.5C316.7,91.7 316.7,87.5 312.5,95.0C308.3,102.5 309.2,102.5 310.0,110.0C310.8,117.5 315.8,110.8 315.0,117.5C314.2,124.2 308.3,121.7 307.5,130.0C306.7,138.3 310.0,131.7 312.5,142.5C315.0,153.3 290.0,155.8 315.0,162.5C340.0,169.2 363.3,218.3 387.5,162.5C411.7,106.7 406.7,50.8 387.5,-5.0C368.3,-60.8 352.5,-10.0 330.0,-5.0Z" fill="none" stroke="#0a82fc" stroke-width="21.0" stroke-linejoin="round"/>
<path d="M330.0,-5.0C307.5,0.0 327.5,0.8 320.0,10.0C312.5,19.2 315.8,15.0 307.5,22.5C299.2,30.0 300.0,24.2 295.0,32.5C290.0,40.8 291.7,37.5 292.5,47.5C293.3,57.5 292.5,55.8 297.5,62.5C302.5,69.2 301.7,68.3 307.5,67.5C313.3,66.7 310.0,65.8 315.0,60.0C320.0,54.2 315.8,55.0 322.5,50.0C329.2,45.0 325.8,45.8 335.0,45.0C344.2,44.2 346.7,41.7 350.0,47.5C353.3,53.3 348.3,53.3 345.0,62.5C341.7,71.7 345.0,68.3 340.0,75.0C335.0,81.7 335.8,78.3 330.0,82.5C324.2,86.7 328.3,83.3 322.5,87.5C316.7,91.7 316.7,87.5 312.5,95.0C308.3,102.5 309.2,102.5 310.0,110.0C310.8,117.5 315.8,110.8 315.0,117.5C314.2,124.2 308.3,121.7 307.5,130.0C306.7,138.3 310.0,131.7 312.5,142.5C315.0,153.3 290.0,155.8 315.0,162.5C340.0,169.2 363.3,218.3 387.5,162.5C411.7,106.7 406.7,50.8 387.5,-5.0C368.3,-60.8 352.5,-10.0 330.0,-5.0Z" fill="none" stroke="rgba(196,194,186,0.92)" stroke-width="19.1" stroke-linejoin="round"/>
<path d="M330.0,-5.0C307.5,0.0 327.5,0.8 320.0,10.0C312.5,19.2 315.8,15.0 307.5,22.5C299.2,30.0 300.0,24.2 295.0,32.5C290.0,40.8 291.7,37.5 292.5,47.5C293.3,57.5 292.5,55.8 297.5,62.5C302.5,69.2 301.7,68.3 307.5,67.5C313.3,66.7 310.0,65.8 315.0,60.0C320.0,54.2 315.8,55.0 322.5,50.0C329.2,45.0 325.8,45.8 335.0,45.0C344.2,44.2 346.7,41.7 350.0,47.5C353.3,53.3 348.3,53.3 345.0,62.5C341.7,71.7 345.0,68.3 340.0,75.0C335.0,81.7 335.8,78.3 330.0,82.5C324.2,86.7 328.3,83.3 322.5,87.5C316.7,91.7 316.7,87.5 312.5,95.0C308.3,102.5 309.2,102.5 310.0,110.0C310.8,117.5 315.8,110.8 315.0,117.5C314.2,124.2 308.3,121.7 307.5,130.0C306.7,138.3 310.0,131.7 312.5,142.5C315.0,153.3 290.0,155.8 315.0,162.5C340.0,169.2 363.3,218.3 387.5,162.5C411.7,106.7 406.7,50.8 387.5,-5.0C368.3,-60.8 352.5,-10.0 330.0,-5.0Z" fill="none" stroke="#0a82fc" stroke-width="17.5" stroke-linejoin="round"/>
<path d="M330.0,-5.0C307.5,0.0 327.5,0.8 320.0,10.0C312.5,19.2 315.8,15.0 307.5,22.5C299.2,30.0 300.0,24.2 295.0,32.5C290.0,40.8 291.7,37.5 292.5,47.5C293.3,57.5 292.5,55.8 297.5,62.5C302.5,69.2 301.7,68.3 307.5,67.5C313.3,66.7 310.0,65.8 315.0,60.0C320.0,54.2 315.8,55.0 322.5,50.0C329.2,45.0 325.8,45.8 335.0,45.0C344.2,44.2 346.7,41.7 350.0,47.5C353.3,53.3 348.3,53.3 345.0,62.5C341.7,71.7 345.0,68.3 340.0,75.0C335.0,81.7 335.8,78.3 330.0,82.5C324.2,86.7 328.3,83.3 322.5,87.5C316.7,91.7 316.7,87.5 312.5,95.0C308.3,102.5 309.2,102.5 310.0,110.0C310.8,117.5 315.8,110.8 315.0,117.5C314.2,124.2 308.3,121.7 307.5,130.0C306.7,138.3 310.0,131.7 312.5,142.5C315.0,153.3 290.0,155.8 315.0,162.5C340.0,169.2 363.3,218.3 387.5,162.5C411.7,106.7 406.7,50.8 387.5,-5.0C368.3,-60.8 352.5,-10.0 330.0,-5.0Z" fill="none" stroke="rgba(196,194,186,0.92)" stroke-width="15.6" stroke-linejoin="round"/>
<path d="M330.0,-5.0C307.5,0.0 327.5,0.8 320.0,10.0C312.5,19.2 315.8,15.0 307.5,22.5C299.2,30.0 300.0,24.2 295.0,32.5C290.0,40.8 291.7,37.5 292.5,47.5C293.3,57.5 292.5,55.8 297.5,62.5C302.5,69.2 301.7,68.3 307.5,67.5C313.3,66.7 310.0,65.8 315.0,60.0C320.0,54.2 315.8,55.0 322.5,50.0C329.2,45.0 325.8,45.8 335.0,45.0C344.2,44.2 346.7,41.7 350.0,47.5C353.3,53.3 348.3,53.3 345.0,62.5C341.7,71.7 345.0,68.3 340.0,75.0C335.0,81.7 335.8,78.3 330.0,82.5C324.2,86.7 328.3,83.3 322.5,87.5C316.7,91.7 316.7,87.5 312.5,95.0C308.3,102.5 309.2,102.5 310.0,110.0C310.8,117.5 315.8,110.8 315.0,117.5C314.2,124.2 308.3,121.7 307.5,130.0C306.7,138.3 310.0,131.7 312.5,142.5C315.0,153.3 290.0,155.8 315.0,162.5C340.0,169.2 363.3,218.3 387.5,162.5C411.7,106.7 406.7,50.8 387.5,-5.0C368.3,-60.8 352.5,-10.0 330.0,-5.0Z" fill="none" stroke="#0068d6" stroke-width="14.0" stroke-linejoin="round"/>
<path d="M330.0,-5.0C307.5,0.0 327.5,0.8 320.0,10.0C312.5,19.2 315.8,15.0 307.5,22.5C299.2,30.0 300.0,24.2 295.0,32.5C290.0,40.8 291.7,37.5 292.5,47.5C293.3,57.5 292.5,55.8 297.5,62.5C302.5,69.2 301.7,68.3 307.5,67.5C313.3,66.7 310.0,65.8 315.0,60.0C320.0,54.2 315.8,55.0 322.5,50.0C329.2,45.0 325.8,45.8 335.0,45.0C344.2,44.2 346.7,41.7 350.0,47.5C353.3,53.3 348.3,53.3 345.0,62.5C341.7,71.7 345.0,68.3 340.0,75.0C335.0,81.7 335.8,78.3 330.0,82.5C324.2,86.7 328.3,83.3 322.5,87.5C316.7,91.7 316.7,87.5 312.5,95.0C308.3,102.5 309.2,102.5 310.0,110.0C310.8,117.5 315.8,110.8 315.0,117.5C314.2,124.2 308.3,121.7 307.5,130.0C306.7,138.3 310.0,131.7 312.5,142.5C315.0,153.3 290.0,155.8 315.0,162.5C340.0,169.2 363.3,218.3 387.5,162.5C411.7,106.7 406.7,50.8 387.5,-5.0C368.3,-60.8 352.5,-10.0 330.0,-5.0Z" fill="none" stroke="rgba(196,194,186,0.92)" stroke-width="12.1" stroke-linejoin="round"/>
<path d="M330.0,-5.0C307.5,0.0 327.5,0.8 320.0,10.0C312.5,19.2 315.8,15.0 307.5,22.5C299.2,30.0 300.0,24.2 295.0,32.5C290.0,40.8 291.7,37.5 292.5,47.5C293.3,57.5 292.5,55.8 297.5,62.5C302.5,69.2 301.7,68.3 307.5,67.5C313.3,66.7 310.0,65.8 315.0,60.0C320.0,54.2 315.8,55.0 322.5,50.0C329.2,45.0 325.8,45.8 335.0,45.0C344.2,44.2 346.7,41.7 350.0,47.5C353.3,53.3 348.3,53.3 345.0,62.5C341.7,71.7 345.0,68.3 340.0,75.0C335.0,81.7 335.8,78.3 330.0,82.5C324.2,86.7 328.3,83.3 322.5,87.5C316.7,91.7 316.7,87.5 312.5,95.0C308.3,102.5 309.2,102.5 310.0,110.0C310.8,117.5 315.8,110.8 315.0,117.5C314.2,124.2 308.3,121.7 307.5,130.0C306.7,138.3 310.0,131.7 312.5,142.5C315.0,153.3 290.0,155.8 315.0,162.5C340.0,169.2 363.3,218.3 387.5,162.5C411.7,106.7 406.7,50.8 387.5,-5.0C368.3,-60.8 352.5,-10.0 330.0,-5.0Z" fill="none" stroke="#0068d6" stroke-width="10.5" stroke-linejoin="round"/>
<path d="M330.0,-5.0C307.5,0.0 327.5,0.8 320.0,10.0C312.5,19.2 315.8,15.0 307.5,22.5C299.2,30.0 300.0,24.2 295.0,32.5C290.0,40.8 291.7,37.5 292.5,47.5C293.3,57.5 292.5,55.8 297.5,62.5C302.5,69.2 301.7,68.3 307.5,67.5C313.3,66.7 310.0,65.8 315.0,60.0C320.0,54.2 315.8,55.0 322.5,50.0C329.2,45.0 325.8,45.8 335.0,45.0C344.2,44.2 346.7,41.7 350.0,47.5C353.3,53.3 348.3,53.3 345.0,62.5C341.7,71.7 345.0,68.3 340.0,75.0C335.0,81.7 335.8,78.3 330.0,82.5C324.2,86.7 328.3,83.3 322.5,87.5C316.7,91.7 316.7,87.5 312.5,95.0C308.3,102.5 309.2,102.5 310.0,110.0C310.8,117.5 315.8,110.8 315.0,117.5C314.2,124.2 308.3,121.7 307.5,130.0C306.7,138.3 310.0,131.7 312.5,142.5C315.0,153.3 290.0,155.8 315.0,162.5C340.0,169.2 363.3,218.3 387.5,162.5C411.7,106.7 406.7,50.8 387.5,-5.0C368.3,-60.8 352.5,-10.0 330.0,-5.0Z" fill="none" stroke="rgba(196,194,186,0.92)" stroke-width="8.6" stroke-linejoin="round"/>
<path d="M330.0,-5.0C307.5,0.0 327.5,0.8 320.0,10.0C312.5,19.2 315.8,15.0 307.5,22.5C299.2,30.0 300.0,24.2 295.0,32.5C290.0,40.8 291.7,37.5 292.5,47.5C293.3,57.5 292.5,55.8 297.5,62.5C302.5,69.2 301.7,68.3 307.5,67.5C313.3,66.7 310.0,65.8 315.0,60.0C320.0,54.2 315.8,55.0 322.5,50.0C329.2,45.0 325.8,45.8 335.0,45.0C344.2,44.2 346.7,41.7 350.0,47.5C353.3,53.3 348.3,53.3 345.0,62.5C341.7,71.7 345.0,68.3 340.0,75.0C335.0,81.7 335.8,78.3 330.0,82.5C324.2,86.7 328.3,83.3 322.5,87.5C316.7,91.7 316.7,87.5 312.5,95.0C308.3,102.5 309.2,102.5 310.0,110.0C310.8,117.5 315.8,110.8 315.0,117.5C314.2,124.2 308.3,121.7 307.5,130.0C306.7,138.3 310.0,131.7 312.5,142.5C315.0,153.3 290.0,155.8 315.0,162.5C340.0,169.2 363.3,218.3 387.5,162.5C411.7,106.7 406.7,50.8 387.5,-5.0C368.3,-60.8 352.5,-10.0 330.0,-5.0Z" fill="none" stroke="#0055a6" stroke-width="7.0" stroke-linejoin="round"/>
<path d="M330.0,-5.0C307.5,0.0 327.5,0.8 320.0,10.0C312.5,19.2 315.8,15.0 307.5,22.5C299.2,30.0 300.0,24.2 295.0,32.5C290.0,40.8 291.7,37.5 292.5,47.5C293.3,57.5 292.5,55.8 297.5,62.5C302.5,69.2 301.7,68.3 307.5,67.5C313.3,66.7 310.0,65.8 315.0,60.0C320.0,54.2 315.8,55.0 322.5,50.0C329.2,45.0 325.8,45.8 335.0,45.0C344.2,44.2 346.7,41.7 350.0,47.5C353.3,53.3 348.3,53.3 345.0,62.5C341.7,71.7 345.0,68.3 340.0,75.0C335.0,81.7 335.8,78.3 330.0,82.5C324.2,86.7 328.3,83.3 322.5,87.5C316.7,91.7 316.7,87.5 312.5,95.0C308.3,102.5 309.2,102.5 310.0,110.0C310.8,117.5 315.8,110.8 315.0,117.5C314.2,124.2 308.3,121.7 307.5,130.0C306.7,138.3 310.0,131.7 312.5,142.5C315.0,153.3 290.0,155.8 315.0,162.5C340.0,169.2 363.3,218.3 387.5,162.5C411.7,106.7 406.7,50.8 387.5,-5.0C368.3,-60.8 352.5,-10.0 330.0,-5.0Z" fill="none" stroke="rgba(196,194,186,0.92)" stroke-width="5.1" stroke-linejoin="round"/>
<path d="M330.0,-5.0C307.5,0.0 327.5,0.8 320.0,10.0C312.5,19.2 315.8,15.0 307.5,22.5C299.2,30.0 300.0,24.2 295.0,32.5C290.0,40.8 291.7,37.5 292.5,47.5C293.3,57.5 292.5,55.8 297.5,62.5C302.5,69.2 301.7,68.3 307.5,67.5C313.3,66.7 310.0,65.8 315.0,60.0C320.0,54.2 315.8,55.0 322.5,50.0C329.2,45.0 325.8,45.8 335.0,45.0C344.2,44.2 346.7,41.7 350.0,47.5C353.3,53.3 348.3,53.3 345.0,62.5C341.7,71.7 345.0,68.3 340.0,75.0C335.0,81.7 335.8,78.3 330.0,82.5C324.2,86.7 328.3,83.3 322.5,87.5C316.7,91.7 316.7,87.5 312.5,95.0C308.3,102.5 309.2,102.5 310.0,110.0C310.8,117.5 315.8,110.8 315.0,117.5C314.2,124.2 308.3,121.7 307.5,130.0C306.7,138.3 310.0,131.7 312.5,142.5C315.0,153.3 290.0,155.8 315.0,162.5C340.0,169.2 363.3,218.3 387.5,162.5C411.7,106.7 406.7,50.8 387.5,-5.0C368.3,-60.8 352.5,-10.0 330.0,-5.0Z" fill="none" stroke="#0055a6" stroke-width="3.5" stroke-linejoin="round"/>
<path d="M330.0,-5.0C307.5,0.0 327.5,0.8 320.0,10.0C312.5,19.2 315.8,15.0 307.5,22.5C299.2,30.0 300.0,24.2 295.0,32.5C290.0,40.8 291.7,37.5 292.5,47.5C293.3,57.5 292.5,55.8 297.5,62.5C302.5,69.2 301.7,68.3 307.5,67.5C313.3,66.7 310.0,65.8 315.0,60.0C320.0,54.2 315.8,55.0 322.5,50.0C329.2,45.0 325.8,45.8 335.0,45.0C344.2,44.2 346.7,41.7 350.0,47.5C353.3,53.3 348.3,53.3 345.0,62.5C341.7,71.7 345.0,68.3 340.0,75.0C335.0,81.7 335.8,78.3 330.0,82.5C324.2,86.7 328.3,83.3 322.5,87.5C316.7,91.7 316.7,87.5 312.5,95.0C308.3,102.5 309.2,102.5 310.0,110.0C310.8,117.5 315.8,110.8 315.0,117.5C314.2,124.2 308.3,121.7 307.5,130.0C306.7,138.3 310.0,131.7 312.5,142.5C315.0,153.3 290.0,155.8 315.0,162.5C340.0,169.2 363.3,218.3 387.5,162.5C411.7,106.7 406.7,50.8 387.5,-5.0C368.3,-60.8 352.5,-10.0 330.0,-5.0Z" fill="#012f82" stroke="rgba(196,194,186,0.92)" stroke-width="0.9"/>
<clipPath id="r14"><path d="M330.0,-5.0C307.5,0.0 327.5,0.8 320.0,10.0C312.5,19.2 315.8,15.0 307.5,22.5C299.2,30.0 300.0,24.2 295.0,32.5C290.0,40.8 291.7,37.5 292.5,47.5C293.3,57.5 292.5,55.8 297.5,62.5C302.5,69.2 301.7,68.3 307.5,67.5C313.3,66.7 310.0,65.8 315.0,60.0C320.0,54.2 315.8,55.0 322.5,50.0C329.2,45.0 325.8,45.8 335.0,45.0C344.2,44.2 346.7,41.7 350.0,47.5C353.3,53.3 348.3,53.3 345.0,62.5C341.7,71.7 345.0,68.3 340.0,75.0C335.0,81.7 335.8,78.3 330.0,82.5C324.2,86.7 328.3,83.3 322.5,87.5C316.7,91.7 316.7,87.5 312.5,95.0C308.3,102.5 309.2,102.5 310.0,110.0C310.8,117.5 315.8,110.8 315.0,117.5C314.2,124.2 308.3,121.7 307.5,130.0C306.7,138.3 310.0,131.7 312.5,142.5C315.0,153.3 290.0,155.8 315.0,162.5C340.0,169.2 363.3,218.3 387.5,162.5C411.7,106.7 406.7,50.8 387.5,-5.0C368.3,-60.8 352.5,-10.0 330.0,-5.0Z"/></clipPath><g clip-path="url(#r14)">
<path d="M330.0,-5.0C307.5,0.0 327.5,0.8 320.0,10.0C312.5,19.2 315.8,15.0 307.5,22.5C299.2,30.0 300.0,24.2 295.0,32.5C290.0,40.8 291.7,37.5 292.5,47.5C293.3,57.5 292.5,55.8 297.5,62.5C302.5,69.2 301.7,68.3 307.5,67.5C313.3,66.7 310.0,65.8 315.0,60.0C320.0,54.2 315.8,55.0 322.5,50.0C329.2,45.0 325.8,45.8 335.0,45.0C344.2,44.2 346.7,41.7 350.0,47.5C353.3,53.3 348.3,53.3 345.0,62.5C341.7,71.7 345.0,68.3 340.0,75.0C335.0,81.7 335.8,78.3 330.0,82.5C324.2,86.7 328.3,83.3 322.5,87.5C316.7,91.7 316.7,87.5 312.5,95.0C308.3,102.5 309.2,102.5 310.0,110.0C310.8,117.5 315.8,110.8 315.0,117.5C314.2,124.2 308.3,121.7 307.5,130.0C306.7,138.3 310.0,131.7 312.5,142.5C315.0,153.3 290.0,155.8 315.0,162.5C340.0,169.2 363.3,218.3 387.5,162.5C411.7,106.7 406.7,50.8 387.5,-5.0C368.3,-60.8 352.5,-10.0 330.0,-5.0Z" fill="none" stroke="rgba(196,194,186,0.92)" stroke-width="15.7" stroke-linejoin="round"/>
<path d="M330.0,-5.0C307.5,0.0 327.5,0.8 320.0,10.0C312.5,19.2 315.8,15.0 307.5,22.5C299.2,30.0 300.0,24.2 295.0,32.5C290.0,40.8 291.7,37.5 292.5,47.5C293.3,57.5 292.5,55.8 297.5,62.5C302.5,69.2 301.7,68.3 307.5,67.5C313.3,66.7 310.0,65.8 315.0,60.0C320.0,54.2 315.8,55.0 322.5,50.0C329.2,45.0 325.8,45.8 335.0,45.0C344.2,44.2 346.7,41.7 350.0,47.5C353.3,53.3 348.3,53.3 345.0,62.5C341.7,71.7 345.0,68.3 340.0,75.0C335.0,81.7 335.8,78.3 330.0,82.5C324.2,86.7 328.3,83.3 322.5,87.5C316.7,91.7 316.7,87.5 312.5,95.0C308.3,102.5 309.2,102.5 310.0,110.0C310.8,117.5 315.8,110.8 315.0,117.5C314.2,124.2 308.3,121.7 307.5,130.0C306.7,138.3 310.0,131.7 312.5,142.5C315.0,153.3 290.0,155.8 315.0,162.5C340.0,169.2 363.3,218.3 387.5,162.5C411.7,106.7 406.7,50.8 387.5,-5.0C368.3,-60.8 352.5,-10.0 330.0,-5.0Z" fill="none" stroke="#012f82" stroke-width="14.0" stroke-linejoin="round"/>
<path d="M330.0,-5.0C307.5,0.0 327.5,0.8 320.0,10.0C312.5,19.2 315.8,15.0 307.5,22.5C299.2,30.0 300.0,24.2 295.0,32.5C290.0,40.8 291.7,37.5 292.5,47.5C293.3,57.5 292.5,55.8 297.5,62.5C302.5,69.2 301.7,68.3 307.5,67.5C313.3,66.7 310.0,65.8 315.0,60.0C320.0,54.2 315.8,55.0 322.5,50.0C329.2,45.0 325.8,45.8 335.0,45.0C344.2,44.2 346.7,41.7 350.0,47.5C353.3,53.3 348.3,53.3 345.0,62.5C341.7,71.7 345.0,68.3 340.0,75.0C335.0,81.7 335.8,78.3 330.0,82.5C324.2,86.7 328.3,83.3 322.5,87.5C316.7,91.7 316.7,87.5 312.5,95.0C308.3,102.5 309.2,102.5 310.0,110.0C310.8,117.5 315.8,110.8 315.0,117.5C314.2,124.2 308.3,121.7 307.5,130.0C306.7,138.3 310.0,131.7 312.5,142.5C315.0,153.3 290.0,155.8 315.0,162.5C340.0,169.2 363.3,218.3 387.5,162.5C411.7,106.7 406.7,50.8 387.5,-5.0C368.3,-60.8 352.5,-10.0 330.0,-5.0Z" fill="none" stroke="rgba(196,194,186,0.92)" stroke-width="8.7" stroke-linejoin="round"/>
<path d="M330.0,-5.0C307.5,0.0 327.5,0.8 320.0,10.0C312.5,19.2 315.8,15.0 307.5,22.5C299.2,30.0 300.0,24.2 295.0,32.5C290.0,40.8 291.7,37.5 292.5,47.5C293.3,57.5 292.5,55.8 297.5,62.5C302.5,69.2 301.7,68.3 307.5,67.5C313.3,66.7 310.0,65.8 315.0,60.0C320.0,54.2 315.8,55.0 322.5,50.0C329.2,45.0 325.8,45.8 335.0,45.0C344.2,44.2 346.7,41.7 350.0,47.5C353.3,53.3 348.3,53.3 345.0,62.5C341.7,71.7 345.0,68.3 340.0,75.0C335.0,81.7 335.8,78.3 330.0,82.5C324.2,86.7 328.3,83.3 322.5,87.5C316.7,91.7 316.7,87.5 312.5,95.0C308.3,102.5 309.2,102.5 310.0,110.0C310.8,117.5 315.8,110.8 315.0,117.5C314.2,124.2 308.3,121.7 307.5,130.0C306.7,138.3 310.0,131.7 312.5,142.5C315.0,153.3 290.0,155.8 315.0,162.5C340.0,169.2 363.3,218.3 387.5,162.5C411.7,106.7 406.7,50.8 387.5,-5.0C368.3,-60.8 352.5,-10.0 330.0,-5.0Z" fill="none" stroke="#012f82" stroke-width="7.0" stroke-linejoin="round"/>
</g>
<path d="M320.0,53.8C328.3,50.0 332.1,49.6 340.0,51.2C347.9,52.9 344.6,52.1 343.8,58.8C342.9,65.4 342.5,64.2 337.5,71.2C332.5,78.3 335.4,76.7 328.8,80.0C322.1,83.3 322.9,83.3 317.5,81.2C312.1,79.2 313.3,80.0 312.5,73.8C311.7,67.5 312.5,69.2 315.0,62.5C317.5,55.8 311.7,57.5 320.0,53.8Z" fill="none" stroke="rgba(196,194,186,0.92)" stroke-width="6.6" stroke-linejoin="round"/>
<path d="M320.0,53.8C328.3,50.0 332.1,49.6 340.0,51.2C347.9,52.9 344.6,52.1 343.8,58.8C342.9,65.4 342.5,64.2 337.5,71.2C332.5,78.3 335.4,76.7 328.8,80.0C322.1,83.3 322.9,83.3 317.5,81.2C312.1,79.2 313.3,80.0 312.5,73.8C311.7,67.5 312.5,69.2 315.0,62.5C317.5,55.8 311.7,57.5 320.0,53.8Z" fill="none" stroke="#0055a6" stroke-width="5.0" stroke-linejoin="round"/>
<path d="M320.0,53.8C328.3,50.0 332.1,49.6 340.0,51.2C347.9,52.9 344.6,52.1 343.8,58.8C342.9,65.4 342.5,64.2 337.5,71.2C332.5,78.3 335.4,76.7 328.8,80.0C322.1,83.3 322.9,83.3 317.5,81.2C312.1,79.2 313.3,80.0 312.5,73.8C311.7,67.5 312.5,69.2 315.0,62.5C317.5,55.8 311.7,57.5 320.0,53.8Z" fill="#0068d6" stroke="rgba(196,194,186,0.92)" stroke-width="0.9"/>
<path d="M353.8,-5.0C343.3,1.7 354.8,1.7 356.2,15.0C357.7,28.3 359.2,24.2 358.0,35.0C356.8,45.8 355.6,39.2 352.5,47.5C349.4,55.8 352.1,51.7 348.8,60.0C345.4,68.3 347.5,65.0 342.5,72.5C337.5,80.0 337.9,76.7 333.8,82.5C329.6,88.3 328.8,84.2 330.0,90.0C331.2,95.8 334.2,93.3 337.5,100.0C340.8,106.7 341.2,103.3 340.0,110.0C338.8,116.7 338.8,114.2 333.8,120.0C328.8,125.8 329.6,122.5 325.0,127.5C320.4,132.5 321.2,127.5 320.0,135.0C318.8,142.5 319.6,140.8 321.2,150.0C322.9,159.2 302.9,158.3 325.0,162.5C347.1,166.7 366.7,218.3 387.5,162.5C408.3,106.7 398.8,50.8 387.5,-5.0C376.2,-60.8 364.2,-11.7 353.8,-5.0Z" fill="#4a0084" stroke="rgba(196,194,186,0.92)" stroke-width="0.9"/>
<clipPath id="r15"><path d="M353.8,-5.0C343.3,1.7 354.8,1.7 356.2,15.0C357.7,28.3 359.2,24.2 358.0,35.0C356.8,45.8 355.6,39.2 352.5,47.5C349.4,55.8 352.1,51.7 348.8,60.0C345.4,68.3 347.5,65.0 342.5,72.5C337.5,80.0 337.9,76.7 333.8,82.5C329.6,88.3 328.8,84.2 330.0,90.0C331.2,95.8 334.2,93.3 337.5,100.0C340.8,106.7 341.2,103.3 340.0,110.0C338.8,116.7 338.8,114.2 333.8,120.0C328.8,125.8 329.6,122.5 325.0,127.5C320.4,132.5 321.2,127.5 320.0,135.0C318.8,142.5 319.6,140.8 321.2,150.0C322.9,159.2 302.9,158.3 325.0,162.5C347.1,166.7 366.7,218.3 387.5,162.5C408.3,106.7 398.8,50.8 387.5,-5.0C376.2,-60.8 364.2,-11.7 353.8,-5.0Z"/></clipPath><g clip-path="url(#r15)">
<path d="M353.8,-5.0C343.3,1.7 354.8,1.7 356.2,15.0C357.7,28.3 359.2,24.2 358.0,35.0C356.8,45.8 355.6,39.2 352.5,47.5C349.4,55.8 352.1,51.7 348.8,60.0C345.4,68.3 347.5,65.0 342.5,72.5C337.5,80.0 337.9,76.7 333.8,82.5C329.6,88.3 328.8,84.2 330.0,90.0C331.2,95.8 334.2,93.3 337.5,100.0C340.8,106.7 341.2,103.3 340.0,110.0C338.8,116.7 338.8,114.2 333.8,120.0C328.8,125.8 329.6,122.5 325.0,127.5C320.4,132.5 321.2,127.5 320.0,135.0C318.8,142.5 319.6,140.8 321.2,150.0C322.9,159.2 302.9,158.3 325.0,162.5C347.1,166.7 366.7,218.3 387.5,162.5C408.3,106.7 398.8,50.8 387.5,-5.0C376.2,-60.8 364.2,-11.7 353.8,-5.0Z" fill="none" stroke="rgba(196,194,186,0.92)" stroke-width="18.7" stroke-linejoin="round"/>
<path d="M353.8,-5.0C343.3,1.7 354.8,1.7 356.2,15.0C357.7,28.3 359.2,24.2 358.0,35.0C356.8,45.8 355.6,39.2 352.5,47.5C349.4,55.8 352.1,51.7 348.8,60.0C345.4,68.3 347.5,65.0 342.5,72.5C337.5,80.0 337.9,76.7 333.8,82.5C329.6,88.3 328.8,84.2 330.0,90.0C331.2,95.8 334.2,93.3 337.5,100.0C340.8,106.7 341.2,103.3 340.0,110.0C338.8,116.7 338.8,114.2 333.8,120.0C328.8,125.8 329.6,122.5 325.0,127.5C320.4,132.5 321.2,127.5 320.0,135.0C318.8,142.5 319.6,140.8 321.2,150.0C322.9,159.2 302.9,158.3 325.0,162.5C347.1,166.7 366.7,218.3 387.5,162.5C408.3,106.7 398.8,50.8 387.5,-5.0C376.2,-60.8 364.2,-11.7 353.8,-5.0Z" fill="none" stroke="#4a0084" stroke-width="17.0" stroke-linejoin="round"/>
<path d="M353.8,-5.0C343.3,1.7 354.8,1.7 356.2,15.0C357.7,28.3 359.2,24.2 358.0,35.0C356.8,45.8 355.6,39.2 352.5,47.5C349.4,55.8 352.1,51.7 348.8,60.0C345.4,68.3 347.5,65.0 342.5,72.5C337.5,80.0 337.9,76.7 333.8,82.5C329.6,88.3 328.8,84.2 330.0,90.0C331.2,95.8 334.2,93.3 337.5,100.0C340.8,106.7 341.2,103.3 340.0,110.0C338.8,116.7 338.8,114.2 333.8,120.0C328.8,125.8 329.6,122.5 325.0,127.5C320.4,132.5 321.2,127.5 320.0,135.0C318.8,142.5 319.6,140.8 321.2,150.0C322.9,159.2 302.9,158.3 325.0,162.5C347.1,166.7 366.7,218.3 387.5,162.5C408.3,106.7 398.8,50.8 387.5,-5.0C376.2,-60.8 364.2,-11.7 353.8,-5.0Z" fill="none" stroke="rgba(196,194,186,0.92)" stroke-width="9.7" stroke-linejoin="round"/>
<path d="M353.8,-5.0C343.3,1.7 354.8,1.7 356.2,15.0C357.7,28.3 359.2,24.2 358.0,35.0C356.8,45.8 355.6,39.2 352.5,47.5C349.4,55.8 352.1,51.7 348.8,60.0C345.4,68.3 347.5,65.0 342.5,72.5C337.5,80.0 337.9,76.7 333.8,82.5C329.6,88.3 328.8,84.2 330.0,90.0C331.2,95.8 334.2,93.3 337.5,100.0C340.8,106.7 341.2,103.3 340.0,110.0C338.8,116.7 338.8,114.2 333.8,120.0C328.8,125.8 329.6,122.5 325.0,127.5C320.4,132.5 321.2,127.5 320.0,135.0C318.8,142.5 319.6,140.8 321.2,150.0C322.9,159.2 302.9,158.3 325.0,162.5C347.1,166.7 366.7,218.3 387.5,162.5C408.3,106.7 398.8,50.8 387.5,-5.0C376.2,-60.8 364.2,-11.7 353.8,-5.0Z" fill="none" stroke="#4a0084" stroke-width="8.0" stroke-linejoin="round"/>
</g>
<path d="M312.5,32.5C315.0,28.6 317.9,29.1 325.0,29.5C332.1,29.9 332.1,30.2 333.8,33.8C335.4,37.2 335.4,37.5 330.0,40.0C324.6,42.5 323.3,43.8 317.5,41.2C311.7,38.8 310.0,36.4 312.5,32.5Z" fill="#4a0084" stroke="rgba(196,194,186,0.92)" stroke-width="0.9"/>
<path d="M302.5,46.2C305.2,43.3 306.5,42.5 310.0,45.0C313.5,47.5 313.8,49.2 313.0,53.8C312.2,58.3 311.2,58.8 307.5,58.8C303.8,58.8 303.7,57.9 302.0,53.8C300.3,49.6 299.8,49.2 302.5,46.2Z" fill="#4a0084" stroke="rgba(196,194,186,0.92)" stroke-width="0.9"/>
<path d="M311.2,100.0C314.6,94.6 317.5,95.8 325.0,97.5C332.5,99.2 332.5,100.0 333.8,105.0C335.0,110.0 335.0,109.6 328.8,112.5C322.5,115.4 320.8,117.9 315.0,113.8C309.2,109.6 307.9,105.4 311.2,100.0Z" fill="#4a0084" stroke="rgba(196,194,186,0.92)" stroke-width="0.9"/>
<path d="M393.5,99.0C393.5,103.7 393.9,102.0 391.8,106.0C389.6,110.0 390.8,108.8 387.0,111.1C383.2,113.5 384.8,113.0 380.5,113.0C376.2,113.0 377.8,113.5 374.0,111.1C370.2,108.8 371.4,110.0 369.2,106.0C367.1,102.0 367.5,103.7 367.5,99.0C367.5,94.3 367.1,96.0 369.2,92.0C371.4,88.0 370.2,89.2 374.0,86.9C377.8,84.5 376.2,85.0 380.5,85.0C384.8,85.0 383.2,84.5 387.0,86.9C390.8,89.2 389.6,88.0 391.8,92.0C393.9,96.0 393.5,94.3 393.5,99.0Z" fill="#680084" stroke="rgba(196,194,186,0.92)" stroke-width="0.9"/>
<path d="M382.5,140.0C382.5,144.2 382.8,142.6 381.3,146.2C379.9,149.9 380.7,148.7 378.1,150.8C375.6,152.9 376.7,152.5 373.8,152.5C370.8,152.5 371.9,152.9 369.4,150.8C366.8,148.7 367.6,149.9 366.2,146.2C364.7,142.6 365.0,144.2 365.0,140.0C365.0,135.8 364.7,137.4 366.2,133.8C367.6,130.1 366.8,131.3 369.4,129.2C371.9,127.1 370.8,127.5 373.8,127.5C376.7,127.5 375.6,127.1 378.1,129.2C380.7,131.3 379.9,130.1 381.3,133.8C382.8,137.4 382.5,135.8 382.5,140.0Z" fill="#012f82" stroke="rgba(196,194,186,0.92)" stroke-width="0.9"/>
<path d="M379.5,140.0C379.5,142.5 379.6,141.6 378.9,143.8C378.1,145.9 378.5,145.2 377.2,146.5C376.0,147.7 376.5,147.5 375.0,147.5C373.5,147.5 374.0,147.7 372.8,146.5C371.5,145.2 371.9,145.9 371.1,143.8C370.4,141.6 370.5,142.5 370.5,140.0C370.5,137.5 370.4,138.4 371.1,136.2C371.9,134.1 371.5,134.8 372.8,133.5C374.0,132.3 373.5,132.5 375.0,132.5C376.5,132.5 376.0,132.3 377.2,133.5C378.5,134.8 378.1,134.1 378.9,136.2C379.6,138.4 379.5,137.5 379.5,140.0Z" fill="#0068d6" stroke="rgba(196,194,186,0.92)" stroke-width="0.9"/>
<path d="M312.5,130.0 L320.0,130.0 L320.0,162.5 L312.5,162.5Z" fill="#b4b4b4"/>
</g>
<g clip-path="url(#c11)">
<rect x="190" y="154" width="190" height="154" fill="#7abcfe"/>
<path d="M273.8,149.0C302.9,154.0 274.6,154.8 272.5,164.0C270.4,173.2 270.8,168.2 267.5,176.5C264.2,184.8 260.0,184.0 262.5,189.0C265.0,194.0 265.8,189.8 275.0,191.5C284.2,193.2 280.8,191.5 290.0,194.0C299.2,196.5 296.7,194.0 302.5,199.0C308.3,204.0 307.1,200.7 307.5,209.0C307.9,217.3 306.2,214.8 303.8,224.0C301.2,233.2 304.6,229.4 300.0,236.5C295.4,243.6 298.3,241.1 290.0,245.2C281.7,249.4 283.3,245.7 275.0,249.0C266.7,252.3 272.5,249.0 265.0,255.2C257.5,261.5 260.2,259.4 252.5,267.8C244.8,276.1 246.8,272.2 242.0,280.2C237.2,288.3 242.5,286.1 238.0,292.0C233.5,297.9 235.3,292.8 228.5,298.0C221.7,303.2 223.8,300.7 217.5,307.5C211.2,314.3 220.3,314.8 209.5,318.5C198.7,322.2 193.2,375.0 185.0,318.5C176.8,262.0 155.4,205.5 185.0,149.0C214.6,92.5 244.6,144.0 273.8,149.0Z" fill="#a9a9cb"/>
<path d="M215.0,157.8C220.4,154.0 225.4,154.0 232.5,156.5C239.6,159.0 237.9,160.7 236.2,165.2C234.6,169.8 234.2,169.4 227.5,170.2C220.8,171.1 220.4,171.9 216.2,167.8C212.1,163.6 209.6,161.5 215.0,157.8Z" fill="#7abcfe"/>
<path d="M185.0,149.0C191.7,90.3 199.0,144.0 205.0,149.0C211.0,154.0 200.3,155.2 203.0,164.0C205.7,172.8 204.8,170.5 213.0,175.2C221.2,180.0 219.3,173.9 227.5,178.2C235.7,182.6 230.0,183.2 237.5,188.2C245.0,193.3 240.8,191.2 250.0,193.5C259.2,195.8 257.1,192.2 265.0,195.2C272.9,198.3 266.7,199.8 273.8,202.8C280.8,205.7 279.2,200.7 286.2,204.0C293.3,207.3 291.7,205.7 295.0,212.8C298.3,219.8 297.9,217.2 296.2,225.2C294.6,233.3 297.1,232.0 290.0,237.0C282.9,242.0 283.3,237.5 275.0,240.2C266.7,243.0 271.0,240.8 265.0,245.2C259.0,249.8 264.0,246.8 257.0,253.8C250.0,260.7 251.0,258.2 244.0,266.0C237.0,273.8 239.7,269.5 236.0,277.0C232.3,284.5 238.2,282.5 233.0,288.5C227.8,294.5 228.3,289.8 220.5,295.0C212.7,300.2 215.8,297.8 209.5,304.0C203.2,310.2 207.8,306.8 201.5,313.8C195.2,320.8 196.0,321.2 190.5,325.0C185.0,328.8 186.8,383.7 185.0,325.0C183.2,266.3 178.3,207.7 185.0,149.0Z" fill="#dcdcf8"/>
<path d="M185.0,196.5C190.0,154.8 190.8,193.6 200.0,194.0C209.2,194.4 206.7,192.3 212.5,197.8C218.3,203.2 210.0,204.4 217.5,210.2C225.0,216.1 225.4,209.0 235.0,215.2C244.6,221.5 240.4,220.7 246.2,229.0C252.1,237.3 252.5,233.2 252.5,240.2C252.5,247.3 251.1,246.1 246.2,250.2C241.4,254.4 243.9,249.0 238.0,252.8C232.1,256.5 232.8,255.9 228.5,261.5C224.2,267.1 230.8,265.3 225.0,269.5C219.2,273.7 216.2,269.2 211.0,274.0C205.8,278.8 208.5,277.4 209.5,283.8C210.5,290.1 214.5,287.8 214.0,293.0C213.5,298.2 215.3,292.2 208.0,299.5C200.7,306.8 199.7,308.5 192.0,315.0C184.3,321.5 187.3,358.5 185.0,319.0C182.7,279.5 180.0,238.2 185.0,196.5Z" fill="#f6f6fa"/>
<path d="M310.0,149.0C283.3,154.0 305.8,155.7 307.5,164.0C309.2,172.3 313.3,166.5 315.0,174.0C316.7,181.5 313.8,178.2 312.5,186.5C311.2,194.8 308.8,191.5 311.2,199.0C313.8,206.5 316.2,202.3 320.0,209.0C323.8,215.7 324.2,212.3 322.5,219.0C320.8,225.7 320.0,222.3 315.0,229.0C310.0,235.7 312.5,230.7 307.5,239.0C302.5,247.3 305.8,245.7 300.0,254.0C294.2,262.3 297.5,258.8 290.0,264.0C282.5,269.2 286.2,266.2 277.5,269.5C268.8,272.8 271.1,270.4 263.8,274.0C256.4,277.6 260.3,275.7 255.5,280.2C250.7,284.8 254.8,281.5 249.2,287.8C243.7,294.0 245.3,292.2 238.8,299.0C232.2,305.8 234.1,302.2 229.5,308.0C224.9,313.8 198.2,313.7 225.0,316.5C251.8,319.3 281.7,318.7 310.0,316.5C338.3,314.3 301.7,315.5 310.0,310.0C318.3,304.5 322.5,306.7 335.0,300.0C347.5,293.3 336.7,296.7 347.5,290.0C358.3,283.3 354.2,284.5 367.5,280.0C380.8,275.5 380.8,320.2 387.5,276.5C394.2,232.8 413.3,191.5 387.5,149.0C361.7,106.5 336.7,144.0 310.0,149.0Z" fill="#3a9bfe" stroke="rgba(196,194,186,0.92)" stroke-width="0.9"/>
<path d="M330.0,149.0C310.0,154.8 325.0,156.5 327.5,166.5C330.0,176.5 335.8,169.8 337.5,179.0C339.2,188.2 334.6,184.0 332.5,194.0C330.4,204.0 329.6,200.7 331.2,209.0C332.9,217.3 337.1,210.7 337.5,219.0C337.9,227.3 336.7,224.8 332.5,234.0C328.3,243.2 330.8,239.0 325.0,246.5C319.2,254.0 322.5,250.2 315.0,256.5C307.5,262.8 310.8,260.4 302.5,265.2C294.2,270.1 296.8,268.1 290.0,271.0C283.2,273.9 287.8,270.9 282.0,274.0C276.2,277.1 278.6,275.7 272.5,280.2C266.4,284.8 271.2,281.5 263.8,287.8C256.2,294.0 258.3,292.2 250.0,299.0C241.7,305.8 244.2,302.2 238.8,308.0C233.3,313.8 215.0,313.7 233.8,316.5C252.5,319.3 272.9,318.2 295.0,316.5C317.1,314.8 293.3,315.7 300.0,311.5C306.7,307.3 303.3,309.0 315.0,304.0C326.7,299.0 323.3,301.5 335.0,296.5C346.7,291.5 340.8,294.8 350.0,289.0C359.2,283.2 356.2,289.0 362.5,279.0C368.8,269.0 365.8,271.5 368.8,259.0C371.7,246.5 365.0,248.2 371.2,241.5C377.5,234.8 382.1,269.8 387.5,239.0C392.9,208.2 406.7,179.0 387.5,149.0C368.3,119.0 350.0,143.2 330.0,149.0Z" fill="#0a82fc" stroke="rgba(196,194,186,0.92)" stroke-width="0.9"/>
<path d="M340.0,149.0C324.2,155.7 338.3,158.2 340.0,169.0C341.7,179.8 345.0,172.3 345.0,181.5C345.0,190.7 341.8,187.8 340.0,196.5C338.2,205.2 339.5,201.1 339.5,207.8C339.5,214.4 339.0,208.2 340.0,216.5C341.0,224.8 342.9,221.3 342.5,232.5C342.1,243.7 343.8,240.0 338.8,250.0C333.8,260.0 337.9,256.6 327.5,262.5C317.1,268.4 320.0,263.3 307.5,267.8C295.0,272.2 302.8,269.1 290.0,275.8C277.2,282.4 279.8,280.0 269.0,287.8C258.2,295.5 264.2,292.2 257.5,299.0C250.8,305.8 253.2,302.2 249.0,308.0C244.8,313.8 233.0,313.7 245.0,316.5C257.0,319.3 266.7,319.5 285.0,316.5C303.3,313.5 290.0,313.0 300.0,307.5C310.0,302.0 303.3,305.0 315.0,300.0C326.7,295.0 323.3,297.5 335.0,292.5C346.7,287.5 341.7,290.8 350.0,285.0C358.3,279.2 355.0,285.0 360.0,275.0C365.0,265.0 362.5,266.7 365.0,255.0C367.5,243.3 367.5,250.0 367.5,240.0C367.5,230.0 362.5,229.5 365.0,225.0C367.5,220.5 367.5,225.2 375.0,226.5C382.5,227.8 383.3,254.8 387.5,229.0C391.7,203.2 403.3,175.7 387.5,149.0C371.7,122.3 355.8,142.3 340.0,149.0Z" fill="#0068d6" stroke="rgba(196,194,186,0.92)" stroke-width="0.9"/>
<clipPath id="r16"><path d="M340.0,149.0C324.2,155.7 338.3,158.2 340.0,169.0C341.7,179.8 345.0,172.3 345.0,181.5C345.0,190.7 341.8,187.8 340.0,196.5C338.2,205.2 339.5,201.1 339.5,207.8C339.5,214.4 339.0,208.2 340.0,216.5C341.0,224.8 342.9,221.3 342.5,232.5C342.1,243.7 343.8,240.0 338.8,250.0C333.8,260.0 337.9,256.6 327.5,262.5C317.1,268.4 320.0,263.3 307.5,267.8C295.0,272.2 302.8,269.1 290.0,275.8C277.2,282.4 279.8,280.0 269.0,287.8C258.2,295.5 264.2,292.2 257.5,299.0C250.8,305.8 253.2,302.2 249.0,308.0C244.8,313.8 233.0,313.7 245.0,316.5C257.0,319.3 266.7,319.5 285.0,316.5C303.3,313.5 290.0,313.0 300.0,307.5C310.0,302.0 303.3,305.0 315.0,300.0C326.7,295.0 323.3,297.5 335.0,292.5C346.7,287.5 341.7,290.8 350.0,285.0C358.3,279.2 355.0,285.0 360.0,275.0C365.0,265.0 362.5,266.7 365.0,255.0C367.5,243.3 367.5,250.0 367.5,240.0C367.5,230.0 362.5,229.5 365.0,225.0C367.5,220.5 367.5,225.2 375.0,226.5C382.5,227.8 383.3,254.8 387.5,229.0C391.7,203.2 403.3,175.7 387.5,149.0C371.7,122.3 355.8,142.3 340.0,149.0Z"/></clipPath><g clip-path="url(#r16)">
<path d="M340.0,149.0C324.2,155.7 338.3,158.2 340.0,169.0C341.7,179.8 345.0,172.3 345.0,181.5C345.0,190.7 341.8,187.8 340.0,196.5C338.2,205.2 339.5,201.1 339.5,207.8C339.5,214.4 339.0,208.2 340.0,216.5C341.0,224.8 342.9,221.3 342.5,232.5C342.1,243.7 343.8,240.0 338.8,250.0C333.8,260.0 337.9,256.6 327.5,262.5C317.1,268.4 320.0,263.3 307.5,267.8C295.0,272.2 302.8,269.1 290.0,275.8C277.2,282.4 279.8,280.0 269.0,287.8C258.2,295.5 264.2,292.2 257.5,299.0C250.8,305.8 253.2,302.2 249.0,308.0C244.8,313.8 233.0,313.7 245.0,316.5C257.0,319.3 266.7,319.5 285.0,316.5C303.3,313.5 290.0,313.0 300.0,307.5C310.0,302.0 303.3,305.0 315.0,300.0C326.7,295.0 323.3,297.5 335.0,292.5C346.7,287.5 341.7,290.8 350.0,285.0C358.3,279.2 355.0,285.0 360.0,275.0C365.0,265.0 362.5,266.7 365.0,255.0C367.5,243.3 367.5,250.0 367.5,240.0C367.5,230.0 362.5,229.5 365.0,225.0C367.5,220.5 367.5,225.2 375.0,226.5C382.5,227.8 383.3,254.8 387.5,229.0C391.7,203.2 403.3,175.7 387.5,149.0C371.7,122.3 355.8,142.3 340.0,149.0Z" fill="none" stroke="rgba(196,194,186,0.92)" stroke-width="7.7" stroke-linejoin="round"/>
<path d="M340.0,149.0C324.2,155.7 338.3,158.2 340.0,169.0C341.7,179.8 345.0,172.3 345.0,181.5C345.0,190.7 341.8,187.8 340.0,196.5C338.2,205.2 339.5,201.1 339.5,207.8C339.5,214.4 339.0,208.2 340.0,216.5C341.0,224.8 342.9,221.3 342.5,232.5C342.1,243.7 343.8,240.0 338.8,250.0C333.8,260.0 337.9,256.6 327.5,262.5C317.1,268.4 320.0,263.3 307.5,267.8C295.0,272.2 302.8,269.1 290.0,275.8C277.2,282.4 279.8,280.0 269.0,287.8C258.2,295.5 264.2,292.2 257.5,299.0C250.8,305.8 253.2,302.2 249.0,308.0C244.8,313.8 233.0,313.7 245.0,316.5C257.0,319.3 266.7,319.5 285.0,316.5C303.3,313.5 290.0,313.0 300.0,307.5C310.0,302.0 303.3,305.0 315.0,300.0C326.7,295.0 323.3,297.5 335.0,292.5C346.7,287.5 341.7,290.8 350.0,285.0C358.3,279.2 355.0,285.0 360.0,275.0C365.0,265.0 362.5,266.7 365.0,255.0C367.5,243.3 367.5,250.0 367.5,240.0C367.5,230.0 362.5,229.5 365.0,225.0C367.5,220.5 367.5,225.2 375.0,226.5C382.5,227.8 383.3,254.8 387.5,229.0C391.7,203.2 403.3,175.7 387.5,149.0C371.7,122.3 355.8,142.3 340.0,149.0Z" fill="none" stroke="#0068d6" stroke-width="6.0" stroke-linejoin="round"/>
</g>
<path d="M350.0,149.0C337.5,155.7 348.3,157.3 350.0,169.0C351.7,180.7 355.0,174.0 355.0,184.0C355.0,194.0 354.2,191.1 350.0,199.0C345.8,206.9 345.4,201.1 342.5,207.8C339.6,214.4 337.9,213.6 341.2,219.0C344.6,224.4 344.6,222.3 352.5,224.0C360.4,225.7 353.3,223.2 365.0,224.0C376.7,224.8 380.0,251.5 387.5,226.5C395.0,201.5 400.0,174.8 387.5,149.0C375.0,123.2 362.5,142.3 350.0,149.0Z" fill="#0055a6" stroke="rgba(196,194,186,0.92)" stroke-width="0.9"/>
<clipPath id="r17"><path d="M350.0,149.0C337.5,155.7 348.3,157.3 350.0,169.0C351.7,180.7 355.0,174.0 355.0,184.0C355.0,194.0 354.2,191.1 350.0,199.0C345.8,206.9 345.4,201.1 342.5,207.8C339.6,214.4 337.9,213.6 341.2,219.0C344.6,224.4 344.6,222.3 352.5,224.0C360.4,225.7 353.3,223.2 365.0,224.0C376.7,224.8 380.0,251.5 387.5,226.5C395.0,201.5 400.0,174.8 387.5,149.0C375.0,123.2 362.5,142.3 350.0,149.0Z"/></clipPath><g clip-path="url(#r17)">
<path d="M350.0,149.0C337.5,155.7 348.3,157.3 350.0,169.0C351.7,180.7 355.0,174.0 355.0,184.0C355.0,194.0 354.2,191.1 350.0,199.0C345.8,206.9 345.4,201.1 342.5,207.8C339.6,214.4 337.9,213.6 341.2,219.0C344.6,224.4 344.6,222.3 352.5,224.0C360.4,225.7 353.3,223.2 365.0,224.0C376.7,224.8 380.0,251.5 387.5,226.5C395.0,201.5 400.0,174.8 387.5,149.0C375.0,123.2 362.5,142.3 350.0,149.0Z" fill="none" stroke="rgba(196,194,186,0.92)" stroke-width="7.7" stroke-linejoin="round"/>
<path d="M350.0,149.0C337.5,155.7 348.3,157.3 350.0,169.0C351.7,180.7 355.0,174.0 355.0,184.0C355.0,194.0 354.2,191.1 350.0,199.0C345.8,206.9 345.4,201.1 342.5,207.8C339.6,214.4 337.9,213.6 341.2,219.0C344.6,224.4 344.6,222.3 352.5,224.0C360.4,225.7 353.3,223.2 365.0,224.0C376.7,224.8 380.0,251.5 387.5,226.5C395.0,201.5 400.0,174.8 387.5,149.0C375.0,123.2 362.5,142.3 350.0,149.0Z" fill="none" stroke="#0055a6" stroke-width="6.0" stroke-linejoin="round"/>
</g>
<path d="M355.5,246.5C355.5,250.2 355.7,248.9 354.8,252.1C353.8,255.4 354.3,254.4 352.8,256.2C351.2,258.1 351.8,257.8 350.0,257.8C348.2,257.8 348.8,258.1 347.2,256.2C345.7,254.4 346.2,255.4 345.2,252.1C344.3,248.9 344.5,250.2 344.5,246.5C344.5,242.8 344.3,244.1 345.2,240.9C346.2,237.6 345.7,238.6 347.2,236.8C348.8,234.9 348.2,235.2 350.0,235.2C351.8,235.2 351.2,234.9 352.8,236.8C354.3,238.6 353.8,237.6 354.8,240.9C355.7,244.1 355.5,242.8 355.5,246.5Z" fill="#0055a6" stroke="rgba(196,194,186,0.92)" stroke-width="0.9"/>
<path d="M278.0,304.0C278.0,308.2 278.2,306.6 277.3,310.2C276.3,313.9 276.8,312.7 275.2,314.8C273.7,316.9 274.3,316.5 272.5,316.5C270.7,316.5 271.3,316.9 269.8,314.8C268.2,312.7 268.7,313.9 267.7,310.2C266.8,306.6 267.0,308.2 267.0,304.0C267.0,299.8 266.8,301.4 267.7,297.8C268.7,294.1 268.2,295.3 269.8,293.2C271.3,291.1 270.7,291.5 272.5,291.5C274.3,291.5 273.7,291.1 275.2,293.2C276.8,295.3 276.3,294.1 277.3,297.8C278.2,301.4 278.0,299.8 278.0,304.0Z" fill="#0055a6" stroke="rgba(196,194,186,0.92)" stroke-width="0.9"/>
<path d="M275.0,306.5C275.0,308.8 275.1,308.0 274.7,310.0C274.4,312.0 274.6,311.4 274.0,312.6C273.4,313.7 273.7,313.5 273.0,313.5C272.3,313.5 272.6,313.7 272.0,312.6C271.4,311.4 271.6,312.0 271.3,310.0C270.9,308.0 271.0,308.8 271.0,306.5C271.0,304.2 270.9,305.0 271.3,303.0C271.6,301.0 271.4,301.6 272.0,300.4C272.6,299.3 272.3,299.5 273.0,299.5C273.7,299.5 273.4,299.3 274.0,300.4C274.6,301.6 274.4,301.0 274.7,303.0C275.1,305.0 275.0,304.2 275.0,306.5Z" fill="#012f82" stroke="rgba(196,194,186,0.92)" stroke-width="0.9"/>
<path d="M352.5,149.0C341.2,154.0 350.4,154.8 353.8,164.0C357.1,173.2 357.1,169.0 362.5,176.5C367.9,184.0 361.7,182.3 370.0,186.5C378.3,190.7 381.7,201.5 387.5,189.0C393.3,176.5 399.2,162.3 387.5,149.0C375.8,135.7 363.8,144.0 352.5,149.0Z" fill="#012f82" stroke="rgba(196,194,186,0.92)" stroke-width="0.9"/>
<clipPath id="r18"><path d="M352.5,149.0C341.2,154.0 350.4,154.8 353.8,164.0C357.1,173.2 357.1,169.0 362.5,176.5C367.9,184.0 361.7,182.3 370.0,186.5C378.3,190.7 381.7,201.5 387.5,189.0C393.3,176.5 399.2,162.3 387.5,149.0C375.8,135.7 363.8,144.0 352.5,149.0Z"/></clipPath><g clip-path="url(#r18)">
<path d="M352.5,149.0C341.2,154.0 350.4,154.8 353.8,164.0C357.1,173.2 357.1,169.0 362.5,176.5C367.9,184.0 361.7,182.3 370.0,186.5C378.3,190.7 381.7,201.5 387.5,189.0C393.3,176.5 399.2,162.3 387.5,149.0C375.8,135.7 363.8,144.0 352.5,149.0Z" fill="none" stroke="rgba(196,194,186,0.92)" stroke-width="6.7" stroke-linejoin="round"/>
<path d="M352.5,149.0C341.2,154.0 350.4,154.8 353.8,164.0C357.1,173.2 357.1,169.0 362.5,176.5C367.9,184.0 361.7,182.3 370.0,186.5C378.3,190.7 381.7,201.5 387.5,189.0C393.3,176.5 399.2,162.3 387.5,149.0C375.8,135.7 363.8,144.0 352.5,149.0Z" fill="none" stroke="#012f82" stroke-width="5.0" stroke-linejoin="round"/>
</g>
<path d="M364.0,214.5C364.0,216.6 364.1,215.8 363.5,217.6C362.9,219.4 363.3,218.9 362.2,219.9C361.2,221.0 361.7,220.8 360.5,220.8C359.3,220.8 359.8,221.0 358.8,219.9C357.7,218.9 358.1,219.4 357.5,217.6C356.9,215.8 357.0,216.6 357.0,214.5C357.0,212.4 356.9,213.2 357.5,211.4C358.1,209.6 357.7,210.1 358.8,209.1C359.8,208.0 359.3,208.2 360.5,208.2C361.7,208.2 361.2,208.0 362.2,209.1C363.3,210.1 362.9,209.6 363.5,211.4C364.1,213.2 364.0,212.4 364.0,214.5Z" fill="#012f82" stroke="rgba(196,194,186,0.92)" stroke-width="0.9"/>
<path d="M346.2,149.0C333.8,153.2 345.4,154.0 350.0,161.5C354.6,169.0 352.5,166.9 360.0,171.5C367.5,176.1 363.3,174.4 372.5,175.2C381.7,176.1 382.5,182.8 387.5,174.0C392.5,165.2 401.2,157.3 387.5,149.0C373.8,140.7 358.8,144.8 346.2,149.0Z" fill="#4a0084" stroke="rgba(196,194,186,0.92)" stroke-width="0.9"/>
<path d="M382.5,298.5C382.5,301.5 382.7,300.4 381.5,303.0C380.2,305.6 380.9,304.8 378.8,306.3C376.6,307.8 377.5,307.5 375.0,307.5C372.5,307.5 373.4,307.8 371.2,306.3C369.1,304.8 369.8,305.6 368.5,303.0C367.3,300.4 367.5,301.5 367.5,298.5C367.5,295.5 367.3,296.6 368.5,294.0C369.8,291.4 369.1,292.2 371.2,290.7C373.4,289.2 372.5,289.5 375.0,289.5C377.5,289.5 376.6,289.2 378.8,290.7C380.9,292.2 380.2,291.4 381.5,294.0C382.7,296.6 382.5,295.5 382.5,298.5Z" fill="#a9a9cb"/>
<path d="M353.8,214.0C355.4,207.3 355.4,204.0 360.0,204.0C364.6,204.0 366.7,206.5 367.5,214.0C368.3,221.5 366.7,223.2 362.5,226.5C358.3,229.8 357.9,228.2 355.0,224.0C352.1,219.8 352.1,220.7 353.8,214.0Z" fill="none" stroke="rgba(196,194,186,0.92)" stroke-width="0.9"/>
</g>
<g clip-path="url(#c12)">
<rect x="190" y="308" width="190" height="154" fill="#7abcfe"/>
<path d="M387.5,370.5C384.2,340.5 382.5,373.0 377.5,380.5C372.5,388.0 376.7,385.5 372.5,393.0C368.3,400.5 371.7,398.0 365.0,403.0C358.3,408.0 360.0,409.7 352.5,408.0C345.0,406.3 347.1,399.7 342.5,398.0C337.9,396.3 337.9,398.0 338.8,403.0C339.6,408.0 341.2,405.5 345.0,413.0C348.8,420.5 349.2,417.2 350.0,425.5C350.8,433.8 350.8,430.5 347.5,438.0C344.2,445.5 345.8,442.2 340.0,448.0C334.2,453.8 336.7,451.3 330.0,455.5C323.3,459.7 326.7,455.5 320.0,460.5C313.3,465.5 287.5,467.2 310.0,470.5C332.5,473.8 361.7,503.8 387.5,470.5C413.3,437.2 390.8,400.5 387.5,370.5Z" fill="#a9a9cb"/>
<path d="M387.5,403.0C384.2,382.2 383.3,403.0 377.5,408.0C371.7,413.0 375.0,411.3 370.0,418.0C365.0,424.7 367.5,420.5 362.5,428.0C357.5,435.5 359.2,430.5 355.0,440.5C350.8,450.5 352.5,448.0 350.0,458.0C347.5,468.0 335.0,466.3 347.5,470.5C360.0,474.7 374.2,493.0 387.5,470.5C400.8,448.0 390.8,423.8 387.5,403.0Z" fill="#dcdcf8"/>
<path d="M387.5,425.5C383.3,412.2 381.2,425.5 375.0,430.5C368.8,435.5 370.4,433.0 368.8,440.5C367.1,448.0 371.2,443.0 370.0,453.0C368.8,463.0 359.2,464.7 365.0,470.5C370.8,476.3 380.0,485.5 387.5,470.5C395.0,455.5 391.7,438.8 387.5,425.5Z" fill="#f6f6fa"/>
<path d="M361.8,344.2C361.8,346.6 361.9,345.7 361.0,347.8C360.1,349.8 360.6,349.1 359.0,350.3C357.4,351.5 358.1,351.2 356.2,351.2C354.4,351.2 355.1,351.5 353.5,350.3C351.9,349.1 352.4,349.8 351.5,347.8C350.6,345.7 350.8,346.6 350.8,344.2C350.8,341.9 350.6,342.8 351.5,340.8C352.4,338.7 351.9,339.4 353.5,338.2C355.1,337.0 354.4,337.2 356.2,337.2C358.1,337.2 357.4,337.0 359.0,338.2C360.6,339.4 360.1,338.7 361.0,340.8C361.9,342.8 361.8,341.9 361.8,344.2Z" fill="#3a9bfe"/>
<path d="M310.0,303.0C332.1,307.2 310.8,308.8 307.5,315.5C304.2,322.2 307.5,318.0 300.0,323.0C292.5,328.0 294.2,324.7 285.0,330.5C275.8,336.3 280.0,332.6 272.5,340.5C265.0,348.4 262.5,348.0 262.5,354.2C262.5,360.5 263.3,358.8 272.5,359.2C281.7,359.7 280.0,357.2 290.0,355.5C300.0,353.8 294.6,352.2 302.5,354.2C310.4,356.3 309.6,355.5 313.8,361.8C317.9,368.0 317.1,367.6 315.0,373.0C312.9,378.4 312.5,374.7 307.5,378.0C302.5,381.3 303.3,378.0 300.0,383.0C296.7,388.0 300.8,386.3 297.5,393.0C294.2,399.7 293.3,394.7 290.0,403.0C286.7,411.3 287.5,408.0 287.5,418.0C287.5,428.0 290.8,424.7 290.0,433.0C289.2,441.3 290.0,438.0 285.0,443.0C280.0,448.0 281.7,444.7 275.0,448.0C268.3,451.3 269.2,448.0 265.0,453.0C260.8,458.0 263.8,457.2 262.5,463.0C261.2,468.8 287.1,468.0 261.2,470.5C235.4,473.0 210.4,510.5 185.0,470.5C159.6,430.5 181.9,392.2 185.0,350.5C188.1,308.8 185.6,350.5 194.2,345.5C202.9,340.5 200.5,341.3 211.0,335.5C221.5,329.7 217.3,334.7 225.8,328.0C234.2,321.3 231.1,323.9 236.2,315.5C241.4,307.1 216.7,306.9 241.2,302.8C265.8,298.6 287.9,298.8 310.0,303.0Z" fill="#3a9bfe" stroke="rgba(196,194,186,0.92)" stroke-width="0.9"/>
<path d="M185.0,303.0C196.0,293.8 209.2,300.1 218.0,303.0C226.8,305.9 217.2,305.9 211.2,311.8C205.2,317.6 208.8,314.2 200.0,320.5C191.2,326.8 190.0,336.3 185.0,330.5C180.0,324.7 174.0,312.2 185.0,303.0Z" fill="#a9a9cb"/>
<path d="M185.0,303.0C192.1,297.2 201.2,299.7 206.2,303.0C211.2,306.3 207.1,307.2 200.0,313.0C192.9,318.8 190.0,323.8 185.0,320.5C180.0,317.2 177.9,308.8 185.0,303.0Z" fill="#dcdcf8"/>
<path d="M185.0,303.0C189.2,297.6 195.2,299.0 197.5,303.0C199.8,307.0 196.2,309.6 192.0,315.0C187.8,320.4 187.3,323.2 185.0,319.2C182.7,315.2 180.8,308.4 185.0,303.0Z" fill="#f6f6fa"/>
<path d="M263.8,354.2C265.4,348.4 267.1,348.8 275.0,340.5C282.9,332.2 280.0,333.4 287.5,329.2C295.0,325.1 293.3,325.1 297.5,328.0C301.7,330.9 301.7,331.3 300.0,338.0C298.3,344.7 298.3,342.2 292.5,348.0C286.7,353.8 290.0,352.2 282.5,355.5C275.0,358.8 276.2,358.4 270.0,358.0C263.8,357.6 262.1,360.1 263.8,354.2Z" fill="#a9a9cb"/>
<path d="M293.2,338.5C293.2,339.2 293.3,338.9 292.9,339.5C292.5,340.1 292.7,339.9 292.0,340.2C291.3,340.6 291.6,340.5 290.8,340.5C289.9,340.5 290.2,340.6 289.5,340.2C288.8,339.9 289.0,340.1 288.6,339.5C288.2,338.9 288.2,339.2 288.2,338.5C288.2,337.8 288.2,338.1 288.6,337.5C289.0,336.9 288.8,337.1 289.5,336.8C290.2,336.4 289.9,336.5 290.8,336.5C291.6,336.5 291.3,336.4 292.0,336.8C292.7,337.1 292.5,336.9 292.9,337.5C293.3,338.1 293.2,337.8 293.2,338.5Z" fill="#dcdcf8"/>
<path d="M240.0,303.0C220.4,308.8 240.8,309.7 238.8,320.5C236.7,331.3 236.2,325.5 233.8,335.5C231.2,345.5 230.8,343.0 231.2,350.5C231.7,358.0 229.6,358.0 235.0,358.0C240.4,358.0 240.0,354.7 247.5,350.5C255.0,346.3 250.8,348.0 257.5,345.5C264.2,343.0 261.7,346.3 267.5,343.0C273.3,339.7 267.5,343.8 275.0,335.5C282.5,327.2 282.5,328.8 290.0,318.0C297.5,307.2 314.2,308.0 297.5,303.0C280.8,298.0 259.6,297.2 240.0,303.0Z" fill="#0a82fc" stroke="rgba(196,194,186,0.92)" stroke-width="0.9"/>
<path d="M185.0,393.0C190.0,367.6 190.0,395.1 200.0,394.2C210.0,393.4 205.8,394.2 215.0,390.5C224.2,386.8 219.2,387.2 227.5,383.0C235.8,378.8 230.8,380.9 240.0,378.0C249.2,375.1 245.0,377.2 255.0,374.2C265.0,371.3 261.7,370.5 270.0,369.2C278.3,368.0 274.6,368.4 280.0,370.5C285.4,372.6 284.6,371.3 286.2,375.5C287.9,379.7 287.9,378.0 285.0,383.0C282.1,388.0 281.7,384.7 277.5,390.5C273.3,396.3 275.0,393.0 272.5,400.5C270.0,408.0 270.8,403.8 270.0,413.0C269.2,422.2 268.3,419.7 270.0,428.0C271.7,436.3 276.7,432.2 275.0,438.0C273.3,443.8 271.7,442.2 265.0,445.5C258.3,448.8 260.8,444.7 255.0,448.0C249.2,451.3 251.7,448.0 247.5,455.5C243.3,463.0 263.3,465.5 242.5,470.5C221.7,475.5 204.2,496.3 185.0,470.5C165.8,444.7 180.0,418.4 185.0,393.0Z" fill="#0a82fc" stroke="rgba(196,194,186,0.92)" stroke-width="0.9"/>
<path d="M218.8,368.0C222.9,363.8 220.4,363.4 230.0,361.8C239.6,360.1 236.7,363.0 247.5,363.0C258.3,363.0 255.0,360.9 262.5,361.8C270.0,362.6 270.8,362.6 270.0,365.5C269.2,368.4 268.3,367.6 260.0,370.5C251.7,373.4 254.2,370.9 245.0,374.2C235.8,377.6 240.0,378.4 232.5,380.5C225.0,382.6 227.5,382.6 222.5,380.5C217.5,378.4 218.8,378.4 217.5,374.2C216.2,370.1 214.6,372.2 218.8,368.0Z" fill="#7abcfe" stroke="rgba(196,194,186,0.92)" stroke-width="0.9"/>
<path d="M185.0,401.8C191.7,378.4 192.5,403.4 205.0,400.5C217.5,397.6 210.8,398.8 222.5,393.0C234.2,387.2 228.3,388.4 240.0,383.0C251.7,377.6 247.5,380.1 257.5,376.8C267.5,373.4 264.2,372.6 270.0,373.0C275.8,373.4 274.2,373.8 275.0,378.0C275.8,382.2 275.0,379.7 272.5,385.5C270.0,391.3 270.0,388.0 267.5,395.5C265.0,403.0 265.8,398.8 265.0,408.0C264.2,417.2 265.8,414.7 265.0,423.0C264.2,431.3 266.7,428.0 262.5,433.0C258.3,438.0 259.2,434.7 252.5,438.0C245.8,441.3 247.5,438.0 242.5,443.0C237.5,448.0 239.6,443.8 237.5,453.0C235.4,462.2 253.8,464.7 236.2,470.5C218.8,476.3 202.1,493.4 185.0,470.5C167.9,447.6 178.3,425.1 185.0,401.8Z" fill="#0068d6" stroke="rgba(196,194,186,0.92)" stroke-width="0.9"/>
<clipPath id="r19"><path d="M185.0,401.8C191.7,378.4 192.5,403.4 205.0,400.5C217.5,397.6 210.8,398.8 222.5,393.0C234.2,387.2 228.3,388.4 240.0,383.0C251.7,377.6 247.5,380.1 257.5,376.8C267.5,373.4 264.2,372.6 270.0,373.0C275.8,373.4 274.2,373.8 275.0,378.0C275.8,382.2 275.0,379.7 272.5,385.5C270.0,391.3 270.0,388.0 267.5,395.5C265.0,403.0 265.8,398.8 265.0,408.0C264.2,417.2 265.8,414.7 265.0,423.0C264.2,431.3 266.7,428.0 262.5,433.0C258.3,438.0 259.2,434.7 252.5,438.0C245.8,441.3 247.5,438.0 242.5,443.0C237.5,448.0 239.6,443.8 237.5,453.0C235.4,462.2 253.8,464.7 236.2,470.5C218.8,476.3 202.1,493.4 185.0,470.5C167.9,447.6 178.3,425.1 185.0,401.8Z"/></clipPath><g clip-path="url(#r19)">
<path d="M185.0,401.8C191.7,378.4 192.5,403.4 205.0,400.5C217.5,397.6 210.8,398.8 222.5,393.0C234.2,387.2 228.3,388.4 240.0,383.0C251.7,377.6 247.5,380.1 257.5,376.8C267.5,373.4 264.2,372.6 270.0,373.0C275.8,373.4 274.2,373.8 275.0,378.0C275.8,382.2 275.0,379.7 272.5,385.5C270.0,391.3 270.0,388.0 267.5,395.5C265.0,403.0 265.8,398.8 265.0,408.0C264.2,417.2 265.8,414.7 265.0,423.0C264.2,431.3 266.7,428.0 262.5,433.0C258.3,438.0 259.2,434.7 252.5,438.0C245.8,441.3 247.5,438.0 242.5,443.0C237.5,448.0 239.6,443.8 237.5,453.0C235.4,462.2 253.8,464.7 236.2,470.5C218.8,476.3 202.1,493.4 185.0,470.5C167.9,447.6 178.3,425.1 185.0,401.8Z" fill="none" stroke="rgba(196,194,186,0.92)" stroke-width="8.7" stroke-linejoin="round"/>
<path d="M185.0,401.8C191.7,378.4 192.5,403.4 205.0,400.5C217.5,397.6 210.8,398.8 222.5,393.0C234.2,387.2 228.3,388.4 240.0,383.0C251.7,377.6 247.5,380.1 257.5,376.8C267.5,373.4 264.2,372.6 270.0,373.0C275.8,373.4 274.2,373.8 275.0,378.0C275.8,382.2 275.0,379.7 272.5,385.5C270.0,391.3 270.0,388.0 267.5,395.5C265.0,403.0 265.8,398.8 265.0,408.0C264.2,417.2 265.8,414.7 265.0,423.0C264.2,431.3 266.7,428.0 262.5,433.0C258.3,438.0 259.2,434.7 252.5,438.0C245.8,441.3 247.5,438.0 242.5,443.0C237.5,448.0 239.6,443.8 237.5,453.0C235.4,462.2 253.8,464.7 236.2,470.5C218.8,476.3 202.1,493.4 185.0,470.5C167.9,447.6 178.3,425.1 185.0,401.8Z" fill="none" stroke="#0068d6" stroke-width="7.0" stroke-linejoin="round"/>
</g>
<path d="M252.5,303.0C244.6,308.8 251.7,311.3 253.8,320.5C255.8,329.7 254.6,326.8 258.8,330.5C262.9,334.2 262.1,333.4 266.2,331.8C270.4,330.1 267.9,330.9 271.2,325.5C274.6,320.1 274.2,323.0 276.2,315.5C278.3,308.0 285.4,307.2 277.5,303.0C269.6,298.8 260.4,297.2 252.5,303.0Z" fill="#0068d6" stroke="rgba(196,194,186,0.92)" stroke-width="0.9"/>
<path d="M257.5,303.0C253.1,308.0 257.1,310.5 258.8,318.0C260.4,325.5 259.6,323.8 262.5,325.5C265.4,327.2 264.6,327.2 267.5,323.0C270.4,318.8 269.8,319.7 271.2,313.0C272.8,306.3 276.6,306.3 272.0,303.0C267.4,299.7 261.9,298.0 257.5,303.0Z" fill="#0055a6" stroke="rgba(196,194,186,0.92)" stroke-width="0.9"/>
<path d="M185.0,413.0C189.2,392.2 189.2,410.9 197.5,408.0C205.8,405.1 201.7,406.8 210.0,404.2C218.3,401.8 212.5,401.6 222.5,400.5C232.5,399.4 232.9,399.8 240.0,401.0C247.1,402.2 246.2,401.9 243.8,404.2C241.2,406.6 237.9,403.4 232.5,408.0C227.1,412.6 228.3,409.7 227.5,418.0C226.7,426.3 227.5,423.0 230.0,433.0C232.5,443.0 234.2,438.0 235.0,448.0C235.8,458.0 233.8,455.5 232.5,463.0C231.2,470.5 247.1,468.0 231.2,470.5C215.4,473.0 200.4,489.7 185.0,470.5C169.6,451.3 180.8,433.8 185.0,413.0Z" fill="#0055a6" stroke="rgba(196,194,186,0.92)" stroke-width="0.9"/>
<clipPath id="r20"><path d="M185.0,413.0C189.2,392.2 189.2,410.9 197.5,408.0C205.8,405.1 201.7,406.8 210.0,404.2C218.3,401.8 212.5,401.6 222.5,400.5C232.5,399.4 232.9,399.8 240.0,401.0C247.1,402.2 246.2,401.9 243.8,404.2C241.2,406.6 237.9,403.4 232.5,408.0C227.1,412.6 228.3,409.7 227.5,418.0C226.7,426.3 227.5,423.0 230.0,433.0C232.5,443.0 234.2,438.0 235.0,448.0C235.8,458.0 233.8,455.5 232.5,463.0C231.2,470.5 247.1,468.0 231.2,470.5C215.4,473.0 200.4,489.7 185.0,470.5C169.6,451.3 180.8,433.8 185.0,413.0Z"/></clipPath><g clip-path="url(#r20)">
<path d="M185.0,413.0C189.2,392.2 189.2,410.9 197.5,408.0C205.8,405.1 201.7,406.8 210.0,404.2C218.3,401.8 212.5,401.6 222.5,400.5C232.5,399.4 232.9,399.8 240.0,401.0C247.1,402.2 246.2,401.9 243.8,404.2C241.2,406.6 237.9,403.4 232.5,408.0C227.1,412.6 228.3,409.7 227.5,418.0C226.7,426.3 227.5,423.0 230.0,433.0C232.5,443.0 234.2,438.0 235.0,448.0C235.8,458.0 233.8,455.5 232.5,463.0C231.2,470.5 247.1,468.0 231.2,470.5C215.4,473.0 200.4,489.7 185.0,470.5C169.6,451.3 180.8,433.8 185.0,413.0Z" fill="none" stroke="rgba(196,194,186,0.92)" stroke-width="8.7" stroke-linejoin="round"/>
<path d="M185.0,413.0C189.2,392.2 189.2,410.9 197.5,408.0C205.8,405.1 201.7,406.8 210.0,404.2C218.3,401.8 212.5,401.6 222.5,400.5C232.5,399.4 232.9,399.8 240.0,401.0C247.1,402.2 246.2,401.9 243.8,404.2C241.2,406.6 237.9,403.4 232.5,408.0C227.1,412.6 228.3,409.7 227.5,418.0C226.7,426.3 227.5,423.0 230.0,433.0C232.5,443.0 234.2,438.0 235.0,448.0C235.8,458.0 233.8,455.5 232.5,463.0C231.2,470.5 247.1,468.0 231.2,470.5C215.4,473.0 200.4,489.7 185.0,470.5C169.6,451.3 180.8,433.8 185.0,413.0Z" fill="none" stroke="#0055a6" stroke-width="7.0" stroke-linejoin="round"/>
</g>
<path d="M185.0,428.0C189.2,415.5 190.0,428.0 197.5,433.0C205.0,438.0 200.8,436.3 207.5,443.0C214.2,449.7 211.7,446.3 217.5,453.0C223.3,459.7 221.7,457.2 225.0,463.0C228.3,468.8 240.8,468.0 227.5,470.5C214.2,473.0 199.2,484.7 185.0,470.5C170.8,456.3 180.8,440.5 185.0,428.0Z" fill="#012f82" stroke="rgba(196,194,186,0.92)" stroke-width="0.9"/>
<path d="M205.0,418.0C206.7,411.3 208.8,411.3 212.5,413.0C216.2,414.7 215.8,415.5 216.2,423.0C216.7,430.5 216.7,432.2 213.8,435.5C210.8,438.8 210.4,438.8 207.5,433.0C204.6,427.2 203.3,424.7 205.0,418.0Z" fill="none" stroke="rgba(196,194,186,0.92)" stroke-width="0.9"/>
</g>
<g clip-path="url(#c13)">
<rect x="190" y="462" width="190" height="154" fill="#7abcfe"/>
<path d="M262.5,457.0C221.7,462.0 260.8,463.2 265.0,472.0C269.2,480.8 267.5,477.4 275.0,483.2C282.5,489.1 281.7,484.1 287.5,489.5C293.3,494.9 290.8,492.0 292.5,499.5C294.2,507.0 293.3,503.7 292.5,512.0C291.7,520.3 292.1,516.2 290.0,524.5C287.9,532.8 287.9,527.8 286.2,537.0C284.6,546.2 286.7,543.7 285.0,552.0C283.3,560.3 283.3,554.5 281.2,562.0C279.2,569.5 278.3,566.2 278.8,574.5C279.2,582.8 280.4,577.8 282.5,587.0C284.6,596.2 285.4,592.8 285.0,602.0C284.6,611.2 283.3,607.0 281.2,614.5C279.2,622.0 243.3,621.2 278.8,624.5C314.2,627.8 351.2,680.3 387.5,624.5C423.8,568.7 429.2,512.8 387.5,457.0C345.8,401.2 303.3,452.0 262.5,457.0Z" fill="#a9a9cb"/>
<path d="M265.0,457.0C225.8,461.2 263.3,463.2 270.0,469.5C276.7,475.8 275.0,470.3 285.0,475.8C295.0,481.2 292.5,478.7 300.0,485.8C307.5,492.8 304.8,488.2 307.5,497.0C310.2,505.8 309.7,502.8 308.0,512.0C306.3,521.2 305.2,516.2 302.5,524.5C299.8,532.8 300.8,527.8 300.0,537.0C299.2,546.2 301.7,543.7 300.0,552.0C298.3,560.3 298.3,555.3 295.0,562.0C291.7,568.7 292.1,563.7 290.0,572.0C287.9,580.3 288.3,577.0 288.8,587.0C289.2,597.0 291.2,589.5 291.2,602.0C291.2,614.5 256.7,617.0 288.8,624.5C320.8,632.0 354.6,680.3 387.5,624.5C420.4,568.7 428.3,512.8 387.5,457.0C346.7,401.2 304.2,452.8 265.0,457.0Z" fill="#dcdcf8"/>
<path d="M330.0,457.0C310.0,463.7 327.5,465.3 327.5,477.0C327.5,488.7 332.5,482.8 330.0,492.0C327.5,501.2 325.8,495.3 320.0,504.5C314.2,513.7 316.7,510.3 312.5,519.5C308.3,528.7 309.6,521.2 307.5,532.0C305.4,542.8 308.8,540.3 306.2,552.0C303.8,563.7 303.8,557.8 300.0,567.0C296.2,576.2 295.8,570.3 295.0,579.5C294.2,588.7 295.8,583.7 297.5,594.5C299.2,605.3 300.0,602.0 300.0,612.0C300.0,622.0 268.3,620.3 297.5,624.5C326.7,628.7 357.5,680.3 387.5,624.5C417.5,568.7 406.7,512.8 387.5,457.0C368.3,401.2 350.0,450.3 330.0,457.0Z" fill="#f6f6fa"/>
<path d="M265.0,457.0C254.2,460.8 260.8,463.2 267.5,468.2C274.2,473.2 275.0,471.6 285.0,472.0C295.0,472.4 292.5,474.5 297.5,469.5C302.5,464.5 310.8,461.2 300.0,457.0C289.2,452.8 275.8,453.2 265.0,457.0Z" fill="#f6f6fa"/>
<path d="M250.0,457.0C272.5,462.8 248.3,464.9 252.5,474.5C256.7,484.1 255.8,479.5 262.5,485.8C269.2,492.0 267.5,487.8 272.5,493.2C277.5,498.7 275.4,495.8 277.5,502.0C279.6,508.2 279.2,504.5 278.8,512.0C278.3,519.5 278.3,517.0 276.2,524.5C274.2,532.0 275.4,526.6 272.5,534.5C269.6,542.4 271.7,546.6 267.5,548.2C263.3,549.9 265.0,544.1 260.0,539.5C255.0,534.9 259.2,537.0 252.5,534.5C245.8,532.0 249.2,533.7 240.0,532.0C230.8,530.3 236.7,529.5 225.0,529.5C213.3,529.5 215.0,528.7 205.0,532.0C195.0,535.3 201.7,535.3 195.0,539.5C188.3,543.7 188.3,572.0 185.0,544.5C181.7,517.0 163.3,486.2 185.0,457.0C206.7,427.8 227.5,451.2 250.0,457.0Z" fill="#3a9bfe" stroke="rgba(196,194,186,0.92)" stroke-width="0.9"/>
<path d="M185.0,552.0C189.2,528.7 190.0,551.2 197.5,554.5C205.0,557.8 202.5,555.3 207.5,562.0C212.5,568.7 208.3,567.8 212.5,574.5C216.7,581.2 212.5,581.2 220.0,582.0C227.5,582.8 225.8,580.3 235.0,577.0C244.2,573.7 238.3,574.5 247.5,572.0C256.7,569.5 254.2,568.7 262.5,569.5C270.8,570.3 268.3,568.7 272.5,574.5C276.7,580.3 275.0,577.8 275.0,587.0C275.0,596.2 274.2,589.5 272.5,602.0C270.8,614.5 299.2,617.0 270.0,624.5C240.8,632.0 213.3,648.7 185.0,624.5C156.7,600.3 180.8,575.3 185.0,552.0Z" fill="#3a9bfe" stroke="rgba(196,194,186,0.92)" stroke-width="0.9"/>
<path d="M202.5,537.0C205.8,532.0 205.0,532.0 215.0,532.0C225.0,532.0 220.8,534.5 232.5,537.0C244.2,539.5 242.5,536.2 250.0,539.5C257.5,542.8 256.7,542.0 255.0,547.0C253.3,552.0 251.7,548.7 245.0,554.5C238.3,560.3 240.8,557.8 235.0,564.5C229.2,571.2 233.3,570.3 227.5,574.5C221.7,578.7 222.5,579.5 217.5,577.0C212.5,574.5 214.2,575.3 212.5,567.0C210.8,558.7 215.0,558.7 212.5,552.0C210.0,545.3 208.3,552.0 205.0,547.0C201.7,542.0 199.2,542.0 202.5,537.0Z" fill="#a9a9cb"/>
<path d="M215.0,548.2C219.2,542.4 220.4,547.0 227.5,549.5C234.6,552.0 235.4,549.9 236.2,555.8C237.1,561.6 235.4,561.2 230.0,567.0C224.6,572.8 225.0,573.2 220.0,573.2C215.0,573.2 216.7,575.3 215.0,567.0C213.3,558.7 210.8,554.1 215.0,548.2Z" fill="#dcdcf8"/>
<path d="M215.0,553.2C217.1,549.9 219.6,552.0 222.5,555.8C225.4,559.5 225.8,561.2 223.8,564.5C221.7,567.8 219.2,569.5 216.2,565.8C213.3,562.0 212.9,556.6 215.0,553.2Z" fill="#f6f6fa"/>
<path d="M246.2,457.0C267.1,463.7 243.8,466.6 247.5,477.0C251.2,487.4 250.8,481.6 257.5,488.2C264.2,494.9 262.5,489.9 267.5,497.0C272.5,504.1 271.0,501.2 272.5,509.5C274.0,517.8 273.7,514.5 272.0,522.0C270.3,529.5 269.8,525.3 267.5,532.0C265.2,538.7 268.3,542.0 265.0,542.0C261.7,542.0 263.3,537.0 257.5,532.0C251.7,527.0 255.0,529.5 247.5,527.0C240.0,524.5 245.8,525.3 235.0,524.5C224.2,523.7 226.7,522.8 215.0,524.5C203.3,526.2 210.0,525.3 200.0,529.5C190.0,533.7 190.0,561.2 185.0,537.0C180.0,512.8 164.6,483.7 185.0,457.0C205.4,430.3 225.4,450.3 246.2,457.0Z" fill="#0a82fc" stroke="rgba(196,194,186,0.92)" stroke-width="0.9"/>
<path d="M185.0,557.0C189.2,535.8 190.8,556.6 197.5,560.8C204.2,564.9 200.8,562.4 205.0,569.5C209.2,576.6 204.2,576.2 210.0,582.0C215.8,587.8 212.5,587.0 222.5,587.0C232.5,587.0 229.2,584.5 240.0,582.0C250.8,579.5 246.7,579.5 255.0,579.5C263.3,579.5 260.8,576.2 265.0,582.0C269.2,587.8 267.5,587.0 267.5,597.0C267.5,607.0 266.2,602.8 265.0,612.0C263.8,621.2 290.4,620.3 263.8,624.5C237.1,628.7 211.2,647.0 185.0,624.5C158.8,602.0 180.8,578.2 185.0,557.0Z" fill="#0a82fc" stroke="rgba(196,194,186,0.92)" stroke-width="0.9"/>
<path d="M247.0,457.0C267.7,462.8 247.5,464.9 247.0,474.5C246.5,484.1 243.8,477.4 245.5,485.8C247.2,494.1 250.5,490.3 252.0,499.5C253.5,508.7 255.2,505.8 250.0,513.2C244.8,520.8 247.9,519.8 236.2,522.0C224.6,524.2 227.1,519.0 215.0,520.0C202.9,521.0 210.0,520.6 200.0,525.0C190.0,529.4 190.0,555.9 185.0,533.2C180.0,510.6 164.3,482.4 185.0,457.0C205.7,431.6 226.3,451.2 247.0,457.0Z" fill="#0068d6" stroke="rgba(196,194,186,0.92)" stroke-width="0.9"/>
<path d="M185.0,562.0C188.8,542.4 190.4,560.8 196.2,565.8C202.1,570.8 198.8,568.2 202.5,577.0C206.2,585.8 201.7,585.3 207.5,592.0C213.3,598.7 210.8,597.0 220.0,597.0C229.2,597.0 225.0,594.5 235.0,592.0C245.0,589.5 242.5,587.8 250.0,589.5C257.5,591.2 255.4,589.5 257.5,597.0C259.6,604.5 257.1,602.8 256.2,612.0C255.4,621.2 278.8,620.3 255.0,624.5C231.2,628.7 208.3,645.3 185.0,624.5C161.7,603.7 181.2,581.6 185.0,562.0Z" fill="#0068d6" stroke="rgba(196,194,186,0.92)" stroke-width="0.9"/>
<path d="M243.8,457.0C263.3,462.0 244.6,463.2 243.8,472.0C242.9,480.8 240.0,474.5 241.2,483.2C242.5,492.0 246.4,488.7 247.5,498.2C248.6,507.8 250.3,505.1 244.5,512.0C238.7,518.9 239.8,518.2 230.0,519.0C220.2,519.8 224.2,514.5 215.0,514.5C205.8,514.5 212.5,514.2 202.5,519.0C192.5,523.8 190.8,549.7 185.0,529.0C179.2,508.3 165.4,481.0 185.0,457.0C204.6,433.0 224.2,452.0 243.8,457.0Z" fill="#0055a6" stroke="rgba(196,194,186,0.92)" stroke-width="0.9"/>
<clipPath id="r21"><path d="M243.8,457.0C263.3,462.0 244.6,463.2 243.8,472.0C242.9,480.8 240.0,474.5 241.2,483.2C242.5,492.0 246.4,488.7 247.5,498.2C248.6,507.8 250.3,505.1 244.5,512.0C238.7,518.9 239.8,518.2 230.0,519.0C220.2,519.8 224.2,514.5 215.0,514.5C205.8,514.5 212.5,514.2 202.5,519.0C192.5,523.8 190.8,549.7 185.0,529.0C179.2,508.3 165.4,481.0 185.0,457.0C204.6,433.0 224.2,452.0 243.8,457.0Z"/></clipPath><g clip-path="url(#r21)">
<path d="M243.8,457.0C263.3,462.0 244.6,463.2 243.8,472.0C242.9,480.8 240.0,474.5 241.2,483.2C242.5,492.0 246.4,488.7 247.5,498.2C248.6,507.8 250.3,505.1 244.5,512.0C238.7,518.9 239.8,518.2 230.0,519.0C220.2,519.8 224.2,514.5 215.0,514.5C205.8,514.5 212.5,514.2 202.5,519.0C192.5,523.8 190.8,549.7 185.0,529.0C179.2,508.3 165.4,481.0 185.0,457.0C204.6,433.0 224.2,452.0 243.8,457.0Z" fill="none" stroke="rgba(196,194,186,0.92)" stroke-width="15.7" stroke-linejoin="round"/>
<path d="M243.8,457.0C263.3,462.0 244.6,463.2 243.8,472.0C242.9,480.8 240.0,474.5 241.2,483.2C242.5,492.0 246.4,488.7 247.5,498.2C248.6,507.8 250.3,505.1 244.5,512.0C238.7,518.9 239.8,518.2 230.0,519.0C220.2,519.8 224.2,514.5 215.0,514.5C205.8,514.5 212.5,514.2 202.5,519.0C192.5,523.8 190.8,549.7 185.0,529.0C179.2,508.3 165.4,481.0 185.0,457.0C204.6,433.0 224.2,452.0 243.8,457.0Z" fill="none" stroke="#0055a6" stroke-width="14.0" stroke-linejoin="round"/>
<path d="M243.8,457.0C263.3,462.0 244.6,463.2 243.8,472.0C242.9,480.8 240.0,474.5 241.2,483.2C242.5,492.0 246.4,488.7 247.5,498.2C248.6,507.8 250.3,505.1 244.5,512.0C238.7,518.9 239.8,518.2 230.0,519.0C220.2,519.8 224.2,514.5 215.0,514.5C205.8,514.5 212.5,514.2 202.5,519.0C192.5,523.8 190.8,549.7 185.0,529.0C179.2,508.3 165.4,481.0 185.0,457.0C204.6,433.0 224.2,452.0 243.8,457.0Z" fill="none" stroke="rgba(196,194,186,0.92)" stroke-width="8.7" stroke-linejoin="round"/>
<path d="M243.8,457.0C263.3,462.0 244.6,463.2 243.8,472.0C242.9,480.8 240.0,474.5 241.2,483.2C242.5,492.0 246.4,488.7 247.5,498.2C248.6,507.8 250.3,505.1 244.5,512.0C238.7,518.9 239.8,518.2 230.0,519.0C220.2,519.8 224.2,514.5 215.0,514.5C205.8,514.5 212.5,514.2 202.5,519.0C192.5,523.8 190.8,549.7 185.0,529.0C179.2,508.3 165.4,481.0 185.0,457.0C204.6,433.0 224.2,452.0 243.8,457.0Z" fill="none" stroke="#0055a6" stroke-width="7.0" stroke-linejoin="round"/>
</g>
<path d="M185.0,567.0C188.3,549.1 190.0,564.9 195.0,570.8C200.0,576.6 196.7,574.1 200.0,584.5C203.3,594.9 197.5,594.5 205.0,602.0C212.5,609.5 210.8,607.0 222.5,607.0C234.2,607.0 231.7,601.2 240.0,602.0C248.3,602.8 245.0,602.0 247.5,609.5C250.0,617.0 268.3,619.5 247.5,624.5C226.7,629.5 205.8,643.7 185.0,624.5C164.2,605.3 181.7,584.9 185.0,567.0Z" fill="#0055a6" stroke="rgba(196,194,186,0.92)" stroke-width="0.9"/>
<path d="M217.5,457.0C227.9,462.0 215.4,462.0 216.2,472.0C217.1,482.0 217.9,477.0 220.0,487.0C222.1,497.0 224.2,493.7 222.5,502.0C220.8,510.3 221.7,507.4 215.0,512.0C208.3,516.6 212.5,512.4 202.5,515.8C192.5,519.1 190.8,541.6 185.0,522.0C179.2,502.4 174.2,478.7 185.0,457.0C195.8,435.3 207.1,452.0 217.5,457.0Z" fill="#012f82" stroke="rgba(196,194,186,0.92)" stroke-width="0.9"/>
<clipPath id="r22"><path d="M217.5,457.0C227.9,462.0 215.4,462.0 216.2,472.0C217.1,482.0 217.9,477.0 220.0,487.0C222.1,497.0 224.2,493.7 222.5,502.0C220.8,510.3 221.7,507.4 215.0,512.0C208.3,516.6 212.5,512.4 202.5,515.8C192.5,519.1 190.8,541.6 185.0,522.0C179.2,502.4 174.2,478.7 185.0,457.0C195.8,435.3 207.1,452.0 217.5,457.0Z"/></clipPath><g clip-path="url(#r22)">
<path d="M217.5,457.0C227.9,462.0 215.4,462.0 216.2,472.0C217.1,482.0 217.9,477.0 220.0,487.0C222.1,497.0 224.2,493.7 222.5,502.0C220.8,510.3 221.7,507.4 215.0,512.0C208.3,516.6 212.5,512.4 202.5,515.8C192.5,519.1 190.8,541.6 185.0,522.0C179.2,502.4 174.2,478.7 185.0,457.0C195.8,435.3 207.1,452.0 217.5,457.0Z" fill="none" stroke="rgba(196,194,186,0.92)" stroke-width="15.7" stroke-linejoin="round"/>
<path d="M217.5,457.0C227.9,462.0 215.4,462.0 216.2,472.0C217.1,482.0 217.9,477.0 220.0,487.0C222.1,497.0 224.2,493.7 222.5,502.0C220.8,510.3 221.7,507.4 215.0,512.0C208.3,516.6 212.5,512.4 202.5,515.8C192.5,519.1 190.8,541.6 185.0,522.0C179.2,502.4 174.2,478.7 185.0,457.0C195.8,435.3 207.1,452.0 217.5,457.0Z" fill="none" stroke="#012f82" stroke-width="14.0" stroke-linejoin="round"/>
<path d="M217.5,457.0C227.9,462.0 215.4,462.0 216.2,472.0C217.1,482.0 217.9,477.0 220.0,487.0C222.1,497.0 224.2,493.7 222.5,502.0C220.8,510.3 221.7,507.4 215.0,512.0C208.3,516.6 212.5,512.4 202.5,515.8C192.5,519.1 190.8,541.6 185.0,522.0C179.2,502.4 174.2,478.7 185.0,457.0C195.8,435.3 207.1,452.0 217.5,457.0Z" fill="none" stroke="rgba(196,194,186,0.92)" stroke-width="8.7" stroke-linejoin="round"/>
<path d="M217.5,457.0C227.9,462.0 215.4,462.0 216.2,472.0C217.1,482.0 217.9,477.0 220.0,487.0C222.1,497.0 224.2,493.7 222.5,502.0C220.8,510.3 221.7,507.4 215.0,512.0C208.3,516.6 212.5,512.4 202.5,515.8C192.5,519.1 190.8,541.6 185.0,522.0C179.2,502.4 174.2,478.7 185.0,457.0C195.8,435.3 207.1,452.0 217.5,457.0Z" fill="none" stroke="#012f82" stroke-width="7.0" stroke-linejoin="round"/>
</g>
<path d="M185.0,574.5C187.9,559.5 189.6,572.0 193.8,579.5C197.9,587.0 194.6,585.3 197.5,597.0C200.4,608.7 200.0,605.3 202.5,614.5C205.0,623.7 210.8,621.2 205.0,624.5C199.2,627.8 191.7,641.2 185.0,624.5C178.3,607.8 182.1,589.5 185.0,574.5Z" fill="#012f82" stroke="rgba(196,194,186,0.92)" stroke-width="0.9"/>
<clipPath id="r23"><path d="M185.0,574.5C187.9,559.5 189.6,572.0 193.8,579.5C197.9,587.0 194.6,585.3 197.5,597.0C200.4,608.7 200.0,605.3 202.5,614.5C205.0,623.7 210.8,621.2 205.0,624.5C199.2,627.8 191.7,641.2 185.0,624.5C178.3,607.8 182.1,589.5 185.0,574.5Z"/></clipPath><g clip-path="url(#r23)">
<path d="M185.0,574.5C187.9,559.5 189.6,572.0 193.8,579.5C197.9,587.0 194.6,585.3 197.5,597.0C200.4,608.7 200.0,605.3 202.5,614.5C205.0,623.7 210.8,621.2 205.0,624.5C199.2,627.8 191.7,641.2 185.0,624.5C178.3,607.8 182.1,589.5 185.0,574.5Z" fill="none" stroke="rgba(196,194,186,0.92)" stroke-width="7.7" stroke-linejoin="round"/>
<path d="M185.0,574.5C187.9,559.5 189.6,572.0 193.8,579.5C197.9,587.0 194.6,585.3 197.5,597.0C200.4,608.7 200.0,605.3 202.5,614.5C205.0,623.7 210.8,621.2 205.0,624.5C199.2,627.8 191.7,641.2 185.0,624.5C178.3,607.8 182.1,589.5 185.0,574.5Z" fill="none" stroke="#012f82" stroke-width="6.0" stroke-linejoin="round"/>
</g>
<path d="M195.8,509.5C195.8,510.3 195.8,510.0 195.5,510.8C195.1,511.5 195.3,511.2 194.8,511.7C194.2,512.1 194.4,512.0 193.8,512.0C193.1,512.0 193.3,512.1 192.8,511.7C192.2,511.2 192.4,511.5 192.0,510.8C191.7,510.0 191.8,510.3 191.8,509.5C191.8,508.7 191.7,509.0 192.0,508.2C192.4,507.5 192.2,507.8 192.8,507.3C193.3,506.9 193.1,507.0 193.8,507.0C194.4,507.0 194.2,506.9 194.8,507.3C195.3,507.8 195.1,507.5 195.5,508.2C195.8,509.0 195.8,508.7 195.8,509.5Z" fill="#4a0084" stroke="rgba(196,194,186,0.92)" stroke-width="0.9"/>
</g>
<g clip-path="url(#c20)">
<rect x="380" y="0" width="190" height="154" fill="#012f82"/>
<path d="M405.0,10.0C409.6,5.8 408.3,5.8 417.5,7.5C426.7,9.2 427.1,8.3 432.5,15.0C437.9,21.7 437.1,21.2 433.8,27.5C430.4,33.8 430.4,32.9 422.5,33.8C414.6,34.6 416.2,34.6 410.0,30.0C403.8,25.4 405.4,26.7 403.8,20.0C402.1,13.3 400.4,14.2 405.0,10.0Z" fill="#0055a6" stroke="rgba(196,194,186,0.92)" stroke-width="0.9"/>
<path d="M465.0,-5.0C448.3,1.7 462.5,4.2 467.5,15.0C472.5,25.8 470.8,20.8 480.0,27.5C489.2,34.2 485.0,33.3 495.0,35.0C505.0,36.7 501.7,36.7 510.0,32.5C518.3,28.3 517.5,35.0 520.0,22.5C522.5,10.0 535.8,4.2 517.5,-5.0C499.2,-14.2 481.7,-11.7 465.0,-5.0Z" fill="#0055a6" stroke="rgba(196,194,186,0.92)" stroke-width="0.9"/>
<clipPath id="r24"><path d="M465.0,-5.0C448.3,1.7 462.5,4.2 467.5,15.0C472.5,25.8 470.8,20.8 480.0,27.5C489.2,34.2 485.0,33.3 495.0,35.0C505.0,36.7 501.7,36.7 510.0,32.5C518.3,28.3 517.5,35.0 520.0,22.5C522.5,10.0 535.8,4.2 517.5,-5.0C499.2,-14.2 481.7,-11.7 465.0,-5.0Z"/></clipPath><g clip-path="url(#r24)">
<path d="M465.0,-5.0C448.3,1.7 462.5,4.2 467.5,15.0C472.5,25.8 470.8,20.8 480.0,27.5C489.2,34.2 485.0,33.3 495.0,35.0C505.0,36.7 501.7,36.7 510.0,32.5C518.3,28.3 517.5,35.0 520.0,22.5C522.5,10.0 535.8,4.2 517.5,-5.0C499.2,-14.2 481.7,-11.7 465.0,-5.0Z" fill="none" stroke="rgba(196,194,186,0.92)" stroke-width="8.7" stroke-linejoin="round"/>
<path d="M465.0,-5.0C448.3,1.7 462.5,4.2 467.5,15.0C472.5,25.8 470.8,20.8 480.0,27.5C489.2,34.2 485.0,33.3 495.0,35.0C505.0,36.7 501.7,36.7 510.0,32.5C518.3,28.3 517.5,35.0 520.0,22.5C522.5,10.0 535.8,4.2 517.5,-5.0C499.2,-14.2 481.7,-11.7 465.0,-5.0Z" fill="none" stroke="#0055a6" stroke-width="7.0" stroke-linejoin="round"/>
</g>
<path d="M515.0,-5.0C495.8,0.0 515.0,1.7 520.0,10.0C525.0,18.3 521.7,15.4 530.0,20.0C538.3,24.6 535.0,22.9 545.0,23.8C555.0,24.6 549.2,22.1 560.0,22.5C570.8,22.9 571.7,34.2 577.5,25.0C583.3,15.8 598.3,5.0 577.5,-5.0C556.7,-15.0 534.2,-10.0 515.0,-5.0Z" fill="#0055a6" stroke="rgba(196,194,186,0.92)" stroke-width="0.9"/>
<clipPath id="r25"><path d="M515.0,-5.0C495.8,0.0 515.0,1.7 520.0,10.0C525.0,18.3 521.7,15.4 530.0,20.0C538.3,24.6 535.0,22.9 545.0,23.8C555.0,24.6 549.2,22.1 560.0,22.5C570.8,22.9 571.7,34.2 577.5,25.0C583.3,15.8 598.3,5.0 577.5,-5.0C556.7,-15.0 534.2,-10.0 515.0,-5.0Z"/></clipPath><g clip-path="url(#r25)">
<path d="M515.0,-5.0C495.8,0.0 515.0,1.7 520.0,10.0C525.0,18.3 521.7,15.4 530.0,20.0C538.3,24.6 535.0,22.9 545.0,23.8C555.0,24.6 549.2,22.1 560.0,22.5C570.8,22.9 571.7,34.2 577.5,25.0C583.3,15.8 598.3,5.0 577.5,-5.0C556.7,-15.0 534.2,-10.0 515.0,-5.0Z" fill="none" stroke="rgba(196,194,186,0.92)" stroke-width="7.7" stroke-linejoin="round"/>
<path d="M515.0,-5.0C495.8,0.0 515.0,1.7 520.0,10.0C525.0,18.3 521.7,15.4 530.0,20.0C538.3,24.6 535.0,22.9 545.0,23.8C555.0,24.6 549.2,22.1 560.0,22.5C570.8,22.9 571.7,34.2 577.5,25.0C583.3,15.8 598.3,5.0 577.5,-5.0C556.7,-15.0 534.2,-10.0 515.0,-5.0Z" fill="none" stroke="#0055a6" stroke-width="6.0" stroke-linejoin="round"/>
</g>
<path d="M530.0,-5.0C515.8,0.0 528.3,2.9 535.0,10.0C541.7,17.1 540.0,14.6 550.0,16.2C560.0,17.9 555.8,14.6 565.0,15.0C574.2,15.4 573.3,24.2 577.5,17.5C581.7,10.8 593.3,2.5 577.5,-5.0C561.7,-12.5 544.2,-10.0 530.0,-5.0Z" fill="#0068d6" stroke="rgba(196,194,186,0.92)" stroke-width="0.9"/>
<path d="M552.5,-5.0C545.8,-0.8 549.2,2.1 557.5,7.5C565.8,12.9 570.8,15.4 577.5,11.2C584.2,7.1 585.8,0.4 577.5,-5.0C569.2,-10.4 559.2,-9.2 552.5,-5.0Z" fill="#0a82fc" stroke="rgba(196,194,186,0.92)" stroke-width="0.9"/>
<path d="M527.5,62.5C530.8,50.0 529.2,55.0 540.0,50.0C550.8,45.0 550.0,45.0 560.0,47.5C570.0,50.0 567.5,45.8 570.0,57.5C572.5,69.2 572.5,68.3 567.5,82.5C562.5,96.7 564.2,94.2 555.0,100.0C545.8,105.8 548.3,104.2 540.0,100.0C531.7,95.8 534.2,100.0 530.0,87.5C525.8,75.0 524.2,75.0 527.5,62.5Z" fill="#0055a6" stroke="rgba(196,194,186,0.92)" stroke-width="0.9"/>
<clipPath id="r26"><path d="M527.5,62.5C530.8,50.0 529.2,55.0 540.0,50.0C550.8,45.0 550.0,45.0 560.0,47.5C570.0,50.0 567.5,45.8 570.0,57.5C572.5,69.2 572.5,68.3 567.5,82.5C562.5,96.7 564.2,94.2 555.0,100.0C545.8,105.8 548.3,104.2 540.0,100.0C531.7,95.8 534.2,100.0 530.0,87.5C525.8,75.0 524.2,75.0 527.5,62.5Z"/></clipPath><g clip-path="url(#r26)">
<path d="M527.5,62.5C530.8,50.0 529.2,55.0 540.0,50.0C550.8,45.0 550.0,45.0 560.0,47.5C570.0,50.0 567.5,45.8 570.0,57.5C572.5,69.2 572.5,68.3 567.5,82.5C562.5,96.7 564.2,94.2 555.0,100.0C545.8,105.8 548.3,104.2 540.0,100.0C531.7,95.8 534.2,100.0 530.0,87.5C525.8,75.0 524.2,75.0 527.5,62.5Z" fill="none" stroke="rgba(196,194,186,0.92)" stroke-width="13.7" stroke-linejoin="round"/>
<path d="M527.5,62.5C530.8,50.0 529.2,55.0 540.0,50.0C550.8,45.0 550.0,45.0 560.0,47.5C570.0,50.0 567.5,45.8 570.0,57.5C572.5,69.2 572.5,68.3 567.5,82.5C562.5,96.7 564.2,94.2 555.0,100.0C545.8,105.8 548.3,104.2 540.0,100.0C531.7,95.8 534.2,100.0 530.0,87.5C525.8,75.0 524.2,75.0 527.5,62.5Z" fill="none" stroke="#0055a6" stroke-width="12.0" stroke-linejoin="round"/>
<path d="M527.5,62.5C530.8,50.0 529.2,55.0 540.0,50.0C550.8,45.0 550.0,45.0 560.0,47.5C570.0,50.0 567.5,45.8 570.0,57.5C572.5,69.2 572.5,68.3 567.5,82.5C562.5,96.7 564.2,94.2 555.0,100.0C545.8,105.8 548.3,104.2 540.0,100.0C531.7,95.8 534.2,100.0 530.0,87.5C525.8,75.0 524.2,75.0 527.5,62.5Z" fill="none" stroke="rgba(196,194,186,0.92)" stroke-width="7.7" stroke-linejoin="round"/>
<path d="M527.5,62.5C530.8,50.0 529.2,55.0 540.0,50.0C550.8,45.0 550.0,45.0 560.0,47.5C570.0,50.0 567.5,45.8 570.0,57.5C572.5,69.2 572.5,68.3 567.5,82.5C562.5,96.7 564.2,94.2 555.0,100.0C545.8,105.8 548.3,104.2 540.0,100.0C531.7,95.8 534.2,100.0 530.0,87.5C525.8,75.0 524.2,75.0 527.5,62.5Z" fill="none" stroke="#0055a6" stroke-width="6.0" stroke-linejoin="round"/>
</g>
<path d="M540.0,70.0C541.7,61.2 541.2,63.3 547.5,60.0C553.8,56.7 554.4,55.0 558.8,60.0C563.1,65.0 562.6,66.2 560.5,75.0C558.4,83.8 558.5,82.5 552.5,86.2C546.5,90.0 546.7,91.7 542.5,86.2C538.3,80.8 538.3,78.8 540.0,70.0Z" fill="#0068d6" stroke="rgba(196,194,186,0.92)" stroke-width="0.9"/>
<path d="M515.0,162.5C495.8,155.8 515.0,152.9 520.0,142.5C525.0,132.1 523.3,137.5 530.0,131.2C536.7,125.0 532.5,127.5 540.0,123.8C547.5,120.0 545.0,119.6 552.5,120.0C560.0,120.4 554.2,121.7 562.5,125.0C570.8,128.3 572.5,117.5 577.5,130.0C582.5,142.5 598.3,151.7 577.5,162.5C556.7,173.3 534.2,169.2 515.0,162.5Z" fill="#0055a6" stroke="rgba(196,194,186,0.92)" stroke-width="0.9"/>
<clipPath id="r27"><path d="M515.0,162.5C495.8,155.8 515.0,152.9 520.0,142.5C525.0,132.1 523.3,137.5 530.0,131.2C536.7,125.0 532.5,127.5 540.0,123.8C547.5,120.0 545.0,119.6 552.5,120.0C560.0,120.4 554.2,121.7 562.5,125.0C570.8,128.3 572.5,117.5 577.5,130.0C582.5,142.5 598.3,151.7 577.5,162.5C556.7,173.3 534.2,169.2 515.0,162.5Z"/></clipPath><g clip-path="url(#r27)">
<path d="M515.0,162.5C495.8,155.8 515.0,152.9 520.0,142.5C525.0,132.1 523.3,137.5 530.0,131.2C536.7,125.0 532.5,127.5 540.0,123.8C547.5,120.0 545.0,119.6 552.5,120.0C560.0,120.4 554.2,121.7 562.5,125.0C570.8,128.3 572.5,117.5 577.5,130.0C582.5,142.5 598.3,151.7 577.5,162.5C556.7,173.3 534.2,169.2 515.0,162.5Z" fill="none" stroke="rgba(196,194,186,0.92)" stroke-width="7.7" stroke-linejoin="round"/>
<path d="M515.0,162.5C495.8,155.8 515.0,152.9 520.0,142.5C525.0,132.1 523.3,137.5 530.0,131.2C536.7,125.0 532.5,127.5 540.0,123.8C547.5,120.0 545.0,119.6 552.5,120.0C560.0,120.4 554.2,121.7 562.5,125.0C570.8,128.3 572.5,117.5 577.5,130.0C582.5,142.5 598.3,151.7 577.5,162.5C556.7,173.3 534.2,169.2 515.0,162.5Z" fill="none" stroke="#0055a6" stroke-width="6.0" stroke-linejoin="round"/>
</g>
<path d="M521.2,162.5C518.2,155.8 520.0,153.2 523.8,142.5C527.5,131.8 527.1,133.8 532.5,130.5C537.9,127.2 538.2,127.7 540.0,132.5C541.8,137.3 540.3,135.0 538.0,145.0C535.7,155.0 538.6,156.7 533.0,162.5C527.4,168.3 524.3,169.2 521.2,162.5Z" fill="none" stroke="rgba(196,194,186,0.92)" stroke-width="7.6" stroke-linejoin="round"/>
<path d="M521.2,162.5C518.2,155.8 520.0,153.2 523.8,142.5C527.5,131.8 527.1,133.8 532.5,130.5C537.9,127.2 538.2,127.7 540.0,132.5C541.8,137.3 540.3,135.0 538.0,145.0C535.7,155.0 538.6,156.7 533.0,162.5C527.4,168.3 524.3,169.2 521.2,162.5Z" fill="none" stroke="#0068d6" stroke-width="6.0" stroke-linejoin="round"/>
<path d="M521.2,162.5C518.2,155.8 520.0,153.2 523.8,142.5C527.5,131.8 527.1,133.8 532.5,130.5C537.9,127.2 538.2,127.7 540.0,132.5C541.8,137.3 540.3,135.0 538.0,145.0C535.7,155.0 538.6,156.7 533.0,162.5C527.4,168.3 524.3,169.2 521.2,162.5Z" fill="none" stroke="rgba(196,194,186,0.92)" stroke-width="4.6" stroke-linejoin="round"/>
<path d="M521.2,162.5C518.2,155.8 520.0,153.2 523.8,142.5C527.5,131.8 527.1,133.8 532.5,130.5C537.9,127.2 538.2,127.7 540.0,132.5C541.8,137.3 540.3,135.0 538.0,145.0C535.7,155.0 538.6,156.7 533.0,162.5C527.4,168.3 524.3,169.2 521.2,162.5Z" fill="none" stroke="#0068d6" stroke-width="3.0" stroke-linejoin="round"/>
<path d="M521.2,162.5C518.2,155.8 520.0,153.2 523.8,142.5C527.5,131.8 527.1,133.8 532.5,130.5C537.9,127.2 538.2,127.7 540.0,132.5C541.8,137.3 540.3,135.0 538.0,145.0C535.7,155.0 538.6,156.7 533.0,162.5C527.4,168.3 524.3,169.2 521.2,162.5Z" fill="#0a82fc" stroke="rgba(196,194,186,0.92)" stroke-width="0.9"/>
<path d="M375.0,125.0C379.2,113.3 380.8,122.5 387.5,127.5C394.2,132.5 393.3,128.3 395.0,140.0C396.7,151.7 399.2,155.0 392.5,162.5C385.8,170.0 380.8,175.0 375.0,162.5C369.2,150.0 370.8,136.7 375.0,125.0Z" fill="#0055a6" stroke="rgba(196,194,186,0.92)" stroke-width="0.9"/>
<path d="M375.0,132.5C378.3,123.3 380.4,130.8 385.0,135.0C389.6,139.2 387.9,135.8 388.8,145.0C389.6,154.2 392.1,156.7 387.5,162.5C382.9,168.3 379.2,172.5 375.0,162.5C370.8,152.5 371.7,141.7 375.0,132.5Z" fill="#0068d6" stroke="rgba(196,194,186,0.92)" stroke-width="0.9"/>
<path d="M456.2,141.2C459.2,133.3 461.1,135.8 465.0,138.8C468.9,141.7 468.0,142.1 468.0,150.0C468.0,157.9 468.9,158.3 465.0,162.5C461.1,166.7 459.2,169.6 456.2,162.5C453.3,155.4 453.3,149.2 456.2,141.2Z" fill="none" stroke="rgba(196,194,186,0.92)" stroke-width="6.6" stroke-linejoin="round"/>
<path d="M456.2,141.2C459.2,133.3 461.1,135.8 465.0,138.8C468.9,141.7 468.0,142.1 468.0,150.0C468.0,157.9 468.9,158.3 465.0,162.5C461.1,166.7 459.2,169.6 456.2,162.5C453.3,155.4 453.3,149.2 456.2,141.2Z" fill="none" stroke="#0055a6" stroke-width="5.0" stroke-linejoin="round"/>
<path d="M456.2,141.2C459.2,133.3 461.1,135.8 465.0,138.8C468.9,141.7 468.0,142.1 468.0,150.0C468.0,157.9 468.9,158.3 465.0,162.5C461.1,166.7 459.2,169.6 456.2,162.5C453.3,155.4 453.3,149.2 456.2,141.2Z" fill="#0068d6" stroke="rgba(196,194,186,0.92)" stroke-width="0.9"/>
<path d="M375.0,-5.0C381.7,-60.8 385.8,-11.7 395.0,-5.0C404.2,1.7 401.2,4.2 402.5,15.0C403.8,25.8 398.8,19.2 398.8,27.5C398.8,35.8 397.9,34.2 402.5,40.0C407.1,45.8 405.0,45.8 412.5,45.0C420.0,44.2 416.7,39.2 425.0,37.5C433.3,35.8 430.8,35.8 437.5,40.0C444.2,44.2 438.3,47.5 445.0,50.0C451.7,52.5 449.2,44.2 457.5,47.5C465.8,50.8 468.3,52.5 470.0,60.0C471.7,67.5 464.2,61.7 462.5,70.0C460.8,78.3 459.2,79.2 465.0,85.0C470.8,90.8 473.3,91.7 480.0,87.5C486.7,83.3 481.7,81.7 485.0,72.5C488.3,63.3 485.0,66.2 490.0,60.0C495.0,53.8 495.0,52.1 500.0,53.8C505.0,55.4 502.9,56.2 505.0,65.0C507.1,73.8 502.1,72.5 506.2,80.0C510.4,87.5 512.9,80.8 517.5,87.5C522.1,94.2 515.8,92.5 520.0,100.0C524.2,107.5 525.0,103.3 530.0,110.0C535.0,116.7 535.0,113.3 535.0,120.0C535.0,126.7 536.7,125.0 530.0,130.0C523.3,135.0 525.8,132.9 515.0,135.0C504.2,137.1 507.5,136.2 497.5,136.2C487.5,136.2 492.5,135.8 485.0,135.0C477.5,134.2 480.4,138.8 475.0,133.8C469.6,128.8 472.9,120.4 468.8,120.0C464.6,119.6 467.9,129.2 462.5,132.5C457.1,135.8 459.2,129.2 452.5,130.0C445.8,130.8 450.0,132.5 442.5,135.0C435.0,137.5 438.3,135.0 430.0,137.5C421.7,140.0 425.0,138.3 417.5,142.5C410.0,146.7 415.0,143.3 407.5,150.0C400.0,156.7 405.8,158.3 395.0,162.5C384.2,166.7 381.7,218.3 375.0,162.5C368.3,106.7 368.3,50.8 375.0,-5.0Z" fill="#4a0084" stroke="rgba(196,194,186,0.92)" stroke-width="0.9"/>
<clipPath id="r28"><path d="M375.0,-5.0C381.7,-60.8 385.8,-11.7 395.0,-5.0C404.2,1.7 401.2,4.2 402.5,15.0C403.8,25.8 398.8,19.2 398.8,27.5C398.8,35.8 397.9,34.2 402.5,40.0C407.1,45.8 405.0,45.8 412.5,45.0C420.0,44.2 416.7,39.2 425.0,37.5C433.3,35.8 430.8,35.8 437.5,40.0C444.2,44.2 438.3,47.5 445.0,50.0C451.7,52.5 449.2,44.2 457.5,47.5C465.8,50.8 468.3,52.5 470.0,60.0C471.7,67.5 464.2,61.7 462.5,70.0C460.8,78.3 459.2,79.2 465.0,85.0C470.8,90.8 473.3,91.7 480.0,87.5C486.7,83.3 481.7,81.7 485.0,72.5C488.3,63.3 485.0,66.2 490.0,60.0C495.0,53.8 495.0,52.1 500.0,53.8C505.0,55.4 502.9,56.2 505.0,65.0C507.1,73.8 502.1,72.5 506.2,80.0C510.4,87.5 512.9,80.8 517.5,87.5C522.1,94.2 515.8,92.5 520.0,100.0C524.2,107.5 525.0,103.3 530.0,110.0C535.0,116.7 535.0,113.3 535.0,120.0C535.0,126.7 536.7,125.0 530.0,130.0C523.3,135.0 525.8,132.9 515.0,135.0C504.2,137.1 507.5,136.2 497.5,136.2C487.5,136.2 492.5,135.8 485.0,135.0C477.5,134.2 480.4,138.8 475.0,133.8C469.6,128.8 472.9,120.4 468.8,120.0C464.6,119.6 467.9,129.2 462.5,132.5C457.1,135.8 459.2,129.2 452.5,130.0C445.8,130.8 450.0,132.5 442.5,135.0C435.0,137.5 438.3,135.0 430.0,137.5C421.7,140.0 425.0,138.3 417.5,142.5C410.0,146.7 415.0,143.3 407.5,150.0C400.0,156.7 405.8,158.3 395.0,162.5C384.2,166.7 381.7,218.3 375.0,162.5C368.3,106.7 368.3,50.8 375.0,-5.0Z"/></clipPath><g clip-path="url(#r28)">
<path d="M375.0,-5.0C381.7,-60.8 385.8,-11.7 395.0,-5.0C404.2,1.7 401.2,4.2 402.5,15.0C403.8,25.8 398.8,19.2 398.8,27.5C398.8,35.8 397.9,34.2 402.5,40.0C407.1,45.8 405.0,45.8 412.5,45.0C420.0,44.2 416.7,39.2 425.0,37.5C433.3,35.8 430.8,35.8 437.5,40.0C444.2,44.2 438.3,47.5 445.0,50.0C451.7,52.5 449.2,44.2 457.5,47.5C465.8,50.8 468.3,52.5 470.0,60.0C471.7,67.5 464.2,61.7 462.5,70.0C460.8,78.3 459.2,79.2 465.0,85.0C470.8,90.8 473.3,91.7 480.0,87.5C486.7,83.3 481.7,81.7 485.0,72.5C488.3,63.3 485.0,66.2 490.0,60.0C495.0,53.8 495.0,52.1 500.0,53.8C505.0,55.4 502.9,56.2 505.0,65.0C507.1,73.8 502.1,72.5 506.2,80.0C510.4,87.5 512.9,80.8 517.5,87.5C522.1,94.2 515.8,92.5 520.0,100.0C524.2,107.5 525.0,103.3 530.0,110.0C535.0,116.7 535.0,113.3 535.0,120.0C535.0,126.7 536.7,125.0 530.0,130.0C523.3,135.0 525.8,132.9 515.0,135.0C504.2,137.1 507.5,136.2 497.5,136.2C487.5,136.2 492.5,135.8 485.0,135.0C477.5,134.2 480.4,138.8 475.0,133.8C469.6,128.8 472.9,120.4 468.8,120.0C464.6,119.6 467.9,129.2 462.5,132.5C457.1,135.8 459.2,129.2 452.5,130.0C445.8,130.8 450.0,132.5 442.5,135.0C435.0,137.5 438.3,135.0 430.0,137.5C421.7,140.0 425.0,138.3 417.5,142.5C410.0,146.7 415.0,143.3 407.5,150.0C400.0,156.7 405.8,158.3 395.0,162.5C384.2,166.7 381.7,218.3 375.0,162.5C368.3,106.7 368.3,50.8 375.0,-5.0Z" fill="none" stroke="rgba(196,194,186,0.92)" stroke-width="27.7" stroke-linejoin="round"/>
<path d="M375.0,-5.0C381.7,-60.8 385.8,-11.7 395.0,-5.0C404.2,1.7 401.2,4.2 402.5,15.0C403.8,25.8 398.8,19.2 398.8,27.5C398.8,35.8 397.9,34.2 402.5,40.0C407.1,45.8 405.0,45.8 412.5,45.0C420.0,44.2 416.7,39.2 425.0,37.5C433.3,35.8 430.8,35.8 437.5,40.0C444.2,44.2 438.3,47.5 445.0,50.0C451.7,52.5 449.2,44.2 457.5,47.5C465.8,50.8 468.3,52.5 470.0,60.0C471.7,67.5 464.2,61.7 462.5,70.0C460.8,78.3 459.2,79.2 465.0,85.0C470.8,90.8 473.3,91.7 480.0,87.5C486.7,83.3 481.7,81.7 485.0,72.5C488.3,63.3 485.0,66.2 490.0,60.0C495.0,53.8 495.0,52.1 500.0,53.8C505.0,55.4 502.9,56.2 505.0,65.0C507.1,73.8 502.1,72.5 506.2,80.0C510.4,87.5 512.9,80.8 517.5,87.5C522.1,94.2 515.8,92.5 520.0,100.0C524.2,107.5 525.0,103.3 530.0,110.0C535.0,116.7 535.0,113.3 535.0,120.0C535.0,126.7 536.7,125.0 530.0,130.0C523.3,135.0 525.8,132.9 515.0,135.0C504.2,137.1 507.5,136.2 497.5,136.2C487.5,136.2 492.5,135.8 485.0,135.0C477.5,134.2 480.4,138.8 475.0,133.8C469.6,128.8 472.9,120.4 468.8,120.0C464.6,119.6 467.9,129.2 462.5,132.5C457.1,135.8 459.2,129.2 452.5,130.0C445.8,130.8 450.0,132.5 442.5,135.0C435.0,137.5 438.3,135.0 430.0,137.5C421.7,140.0 425.0,138.3 417.5,142.5C410.0,146.7 415.0,143.3 407.5,150.0C400.0,156.7 405.8,158.3 395.0,162.5C384.2,166.7 381.7,218.3 375.0,162.5C368.3,106.7 368.3,50.8 375.0,-5.0Z" fill="none" stroke="#4a0084" stroke-width="26.0" stroke-linejoin="round"/>
<path d="M375.0,-5.0C381.7,-60.8 385.8,-11.7 395.0,-5.0C404.2,1.7 401.2,4.2 402.5,15.0C403.8,25.8 398.8,19.2 398.8,27.5C398.8,35.8 397.9,34.2 402.5,40.0C407.1,45.8 405.0,45.8 412.5,45.0C420.0,44.2 416.7,39.2 425.0,37.5C433.3,35.8 430.8,35.8 437.5,40.0C444.2,44.2 438.3,47.5 445.0,50.0C451.7,52.5 449.2,44.2 457.5,47.5C465.8,50.8 468.3,52.5 470.0,60.0C471.7,67.5 464.2,61.7 462.5,70.0C460.8,78.3 459.2,79.2 465.0,85.0C470.8,90.8 473.3,91.7 480.0,87.5C486.7,83.3 481.7,81.7 485.0,72.5C488.3,63.3 485.0,66.2 490.0,60.0C495.0,53.8 495.0,52.1 500.0,53.8C505.0,55.4 502.9,56.2 505.0,65.0C507.1,73.8 502.1,72.5 506.2,80.0C510.4,87.5 512.9,80.8 517.5,87.5C522.1,94.2 515.8,92.5 520.0,100.0C524.2,107.5 525.0,103.3 530.0,110.0C535.0,116.7 535.0,113.3 535.0,120.0C535.0,126.7 536.7,125.0 530.0,130.0C523.3,135.0 525.8,132.9 515.0,135.0C504.2,137.1 507.5,136.2 497.5,136.2C487.5,136.2 492.5,135.8 485.0,135.0C477.5,134.2 480.4,138.8 475.0,133.8C469.6,128.8 472.9,120.4 468.8,120.0C464.6,119.6 467.9,129.2 462.5,132.5C457.1,135.8 459.2,129.2 452.5,130.0C445.8,130.8 450.0,132.5 442.5,135.0C435.0,137.5 438.3,135.0 430.0,137.5C421.7,140.0 425.0,138.3 417.5,142.5C410.0,146.7 415.0,143.3 407.5,150.0C400.0,156.7 405.8,158.3 395.0,162.5C384.2,166.7 381.7,218.3 375.0,162.5C368.3,106.7 368.3,50.8 375.0,-5.0Z" fill="none" stroke="rgba(196,194,186,0.92)" stroke-width="18.7" stroke-linejoin="round"/>
<path d="M375.0,-5.0C381.7,-60.8 385.8,-11.7 395.0,-5.0C404.2,1.7 401.2,4.2 402.5,15.0C403.8,25.8 398.8,19.2 398.8,27.5C398.8,35.8 397.9,34.2 402.5,40.0C407.1,45.8 405.0,45.8 412.5,45.0C420.0,44.2 416.7,39.2 425.0,37.5C433.3,35.8 430.8,35.8 437.5,40.0C444.2,44.2 438.3,47.5 445.0,50.0C451.7,52.5 449.2,44.2 457.5,47.5C465.8,50.8 468.3,52.5 470.0,60.0C471.7,67.5 464.2,61.7 462.5,70.0C460.8,78.3 459.2,79.2 465.0,85.0C470.8,90.8 473.3,91.7 480.0,87.5C486.7,83.3 481.7,81.7 485.0,72.5C488.3,63.3 485.0,66.2 490.0,60.0C495.0,53.8 495.0,52.1 500.0,53.8C505.0,55.4 502.9,56.2 505.0,65.0C507.1,73.8 502.1,72.5 506.2,80.0C510.4,87.5 512.9,80.8 517.5,87.5C522.1,94.2 515.8,92.5 520.0,100.0C524.2,107.5 525.0,103.3 530.0,110.0C535.0,116.7 535.0,113.3 535.0,120.0C535.0,126.7 536.7,125.0 530.0,130.0C523.3,135.0 525.8,132.9 515.0,135.0C504.2,137.1 507.5,136.2 497.5,136.2C487.5,136.2 492.5,135.8 485.0,135.0C477.5,134.2 480.4,138.8 475.0,133.8C469.6,128.8 472.9,120.4 468.8,120.0C464.6,119.6 467.9,129.2 462.5,132.5C457.1,135.8 459.2,129.2 452.5,130.0C445.8,130.8 450.0,132.5 442.5,135.0C435.0,137.5 438.3,135.0 430.0,137.5C421.7,140.0 425.0,138.3 417.5,142.5C410.0,146.7 415.0,143.3 407.5,150.0C400.0,156.7 405.8,158.3 395.0,162.5C384.2,166.7 381.7,218.3 375.0,162.5C368.3,106.7 368.3,50.8 375.0,-5.0Z" fill="none" stroke="#4a0084" stroke-width="17.0" stroke-linejoin="round"/>
<path d="M375.0,-5.0C381.7,-60.8 385.8,-11.7 395.0,-5.0C404.2,1.7 401.2,4.2 402.5,15.0C403.8,25.8 398.8,19.2 398.8,27.5C398.8,35.8 397.9,34.2 402.5,40.0C407.1,45.8 405.0,45.8 412.5,45.0C420.0,44.2 416.7,39.2 425.0,37.5C433.3,35.8 430.8,35.8 437.5,40.0C444.2,44.2 438.3,47.5 445.0,50.0C451.7,52.5 449.2,44.2 457.5,47.5C465.8,50.8 468.3,52.5 470.0,60.0C471.7,67.5 464.2,61.7 462.5,70.0C460.8,78.3 459.2,79.2 465.0,85.0C470.8,90.8 473.3,91.7 480.0,87.5C486.7,83.3 481.7,81.7 485.0,72.5C488.3,63.3 485.0,66.2 490.0,60.0C495.0,53.8 495.0,52.1 500.0,53.8C505.0,55.4 502.9,56.2 505.0,65.0C507.1,73.8 502.1,72.5 506.2,80.0C510.4,87.5 512.9,80.8 517.5,87.5C522.1,94.2 515.8,92.5 520.0,100.0C524.2,107.5 525.0,103.3 530.0,110.0C535.0,116.7 535.0,113.3 535.0,120.0C535.0,126.7 536.7,125.0 530.0,130.0C523.3,135.0 525.8,132.9 515.0,135.0C504.2,137.1 507.5,136.2 497.5,136.2C487.5,136.2 492.5,135.8 485.0,135.0C477.5,134.2 480.4,138.8 475.0,133.8C469.6,128.8 472.9,120.4 468.8,120.0C464.6,119.6 467.9,129.2 462.5,132.5C457.1,135.8 459.2,129.2 452.5,130.0C445.8,130.8 450.0,132.5 442.5,135.0C435.0,137.5 438.3,135.0 430.0,137.5C421.7,140.0 425.0,138.3 417.5,142.5C410.0,146.7 415.0,143.3 407.5,150.0C400.0,156.7 405.8,158.3 395.0,162.5C384.2,166.7 381.7,218.3 375.0,162.5C368.3,106.7 368.3,50.8 375.0,-5.0Z" fill="none" stroke="rgba(196,194,186,0.92)" stroke-width="9.7" stroke-linejoin="round"/>
<path d="M375.0,-5.0C381.7,-60.8 385.8,-11.7 395.0,-5.0C404.2,1.7 401.2,4.2 402.5,15.0C403.8,25.8 398.8,19.2 398.8,27.5C398.8,35.8 397.9,34.2 402.5,40.0C407.1,45.8 405.0,45.8 412.5,45.0C420.0,44.2 416.7,39.2 425.0,37.5C433.3,35.8 430.8,35.8 437.5,40.0C444.2,44.2 438.3,47.5 445.0,50.0C451.7,52.5 449.2,44.2 457.5,47.5C465.8,50.8 468.3,52.5 470.0,60.0C471.7,67.5 464.2,61.7 462.5,70.0C460.8,78.3 459.2,79.2 465.0,85.0C470.8,90.8 473.3,91.7 480.0,87.5C486.7,83.3 481.7,81.7 485.0,72.5C488.3,63.3 485.0,66.2 490.0,60.0C495.0,53.8 495.0,52.1 500.0,53.8C505.0,55.4 502.9,56.2 505.0,65.0C507.1,73.8 502.1,72.5 506.2,80.0C510.4,87.5 512.9,80.8 517.5,87.5C522.1,94.2 515.8,92.5 520.0,100.0C524.2,107.5 525.0,103.3 530.0,110.0C535.0,116.7 535.0,113.3 535.0,120.0C535.0,126.7 536.7,125.0 530.0,130.0C523.3,135.0 525.8,132.9 515.0,135.0C504.2,137.1 507.5,136.2 497.5,136.2C487.5,136.2 492.5,135.8 485.0,135.0C477.5,134.2 480.4,138.8 475.0,133.8C469.6,128.8 472.9,120.4 468.8,120.0C464.6,119.6 467.9,129.2 462.5,132.5C457.1,135.8 459.2,129.2 452.5,130.0C445.8,130.8 450.0,132.5 442.5,135.0C435.0,137.5 438.3,135.0 430.0,137.5C421.7,140.0 425.0,138.3 417.5,142.5C410.0,146.7 415.0,143.3 407.5,150.0C400.0,156.7 405.8,158.3 395.0,162.5C384.2,166.7 381.7,218.3 375.0,162.5C368.3,106.7 368.3,50.8 375.0,-5.0Z" fill="none" stroke="#4a0084" stroke-width="8.0" stroke-linejoin="round"/>
</g>
<path d="M400.0,72.5C400.0,74.3 400.2,73.7 399.2,75.2C398.1,76.8 398.7,76.3 396.9,77.3C395.1,78.2 395.8,78.0 393.8,78.0C391.7,78.0 392.4,78.2 390.6,77.3C388.8,76.3 389.4,76.8 388.3,75.2C387.3,73.7 387.5,74.3 387.5,72.5C387.5,70.7 387.3,71.3 388.3,69.8C389.4,68.2 388.8,68.7 390.6,67.7C392.4,66.8 391.7,67.0 393.8,67.0C395.8,67.0 395.1,66.8 396.9,67.7C398.7,68.7 398.1,68.2 399.2,69.8C400.2,71.3 400.0,70.7 400.0,72.5Z" fill="#012f82" stroke="rgba(196,194,186,0.92)" stroke-width="0.9"/>
<path d="M412.5,55.0C415.0,47.5 414.2,50.4 420.0,50.0C425.8,49.6 423.3,48.8 430.0,53.8C436.7,58.8 432.5,65.0 440.0,65.0C447.5,65.0 447.5,51.2 452.5,53.8C457.5,56.2 452.5,62.1 455.0,72.5C457.5,82.9 457.5,75.8 460.0,85.0C462.5,94.2 463.3,90.0 462.5,100.0C461.7,110.0 461.7,109.2 457.5,115.0C453.3,120.8 455.0,120.8 450.0,117.5C445.0,114.2 449.2,110.8 442.5,105.0C435.8,99.2 437.5,99.2 430.0,100.0C422.5,100.8 425.0,100.8 420.0,107.5C415.0,114.2 419.2,116.7 415.0,120.0C410.8,123.3 409.2,124.2 407.5,117.5C405.8,110.8 406.7,110.8 410.0,100.0C413.3,89.2 416.7,94.2 417.5,85.0C418.3,75.8 414.2,82.5 412.5,72.5C410.8,62.5 410.0,62.5 412.5,55.0Z" fill="#680084" stroke="rgba(196,194,186,0.92)" stroke-width="0.9"/>
<clipPath id="r29"><path d="M412.5,55.0C415.0,47.5 414.2,50.4 420.0,50.0C425.8,49.6 423.3,48.8 430.0,53.8C436.7,58.8 432.5,65.0 440.0,65.0C447.5,65.0 447.5,51.2 452.5,53.8C457.5,56.2 452.5,62.1 455.0,72.5C457.5,82.9 457.5,75.8 460.0,85.0C462.5,94.2 463.3,90.0 462.5,100.0C461.7,110.0 461.7,109.2 457.5,115.0C453.3,120.8 455.0,120.8 450.0,117.5C445.0,114.2 449.2,110.8 442.5,105.0C435.8,99.2 437.5,99.2 430.0,100.0C422.5,100.8 425.0,100.8 420.0,107.5C415.0,114.2 419.2,116.7 415.0,120.0C410.8,123.3 409.2,124.2 407.5,117.5C405.8,110.8 406.7,110.8 410.0,100.0C413.3,89.2 416.7,94.2 417.5,85.0C418.3,75.8 414.2,82.5 412.5,72.5C410.8,62.5 410.0,62.5 412.5,55.0Z"/></clipPath><g clip-path="url(#r29)">
<path d="M412.5,55.0C415.0,47.5 414.2,50.4 420.0,50.0C425.8,49.6 423.3,48.8 430.0,53.8C436.7,58.8 432.5,65.0 440.0,65.0C447.5,65.0 447.5,51.2 452.5,53.8C457.5,56.2 452.5,62.1 455.0,72.5C457.5,82.9 457.5,75.8 460.0,85.0C462.5,94.2 463.3,90.0 462.5,100.0C461.7,110.0 461.7,109.2 457.5,115.0C453.3,120.8 455.0,120.8 450.0,117.5C445.0,114.2 449.2,110.8 442.5,105.0C435.8,99.2 437.5,99.2 430.0,100.0C422.5,100.8 425.0,100.8 420.0,107.5C415.0,114.2 419.2,116.7 415.0,120.0C410.8,123.3 409.2,124.2 407.5,117.5C405.8,110.8 406.7,110.8 410.0,100.0C413.3,89.2 416.7,94.2 417.5,85.0C418.3,75.8 414.2,82.5 412.5,72.5C410.8,62.5 410.0,62.5 412.5,55.0Z" fill="none" stroke="rgba(196,194,186,0.92)" stroke-width="8.7" stroke-linejoin="round"/>
<path d="M412.5,55.0C415.0,47.5 414.2,50.4 420.0,50.0C425.8,49.6 423.3,48.8 430.0,53.8C436.7,58.8 432.5,65.0 440.0,65.0C447.5,65.0 447.5,51.2 452.5,53.8C457.5,56.2 452.5,62.1 455.0,72.5C457.5,82.9 457.5,75.8 460.0,85.0C462.5,94.2 463.3,90.0 462.5,100.0C461.7,110.0 461.7,109.2 457.5,115.0C453.3,120.8 455.0,120.8 450.0,117.5C445.0,114.2 449.2,110.8 442.5,105.0C435.8,99.2 437.5,99.2 430.0,100.0C422.5,100.8 425.0,100.8 420.0,107.5C415.0,114.2 419.2,116.7 415.0,120.0C410.8,123.3 409.2,124.2 407.5,117.5C405.8,110.8 406.7,110.8 410.0,100.0C413.3,89.2 416.7,94.2 417.5,85.0C418.3,75.8 414.2,82.5 412.5,72.5C410.8,62.5 410.0,62.5 412.5,55.0Z" fill="none" stroke="#680084" stroke-width="7.0" stroke-linejoin="round"/>
</g>
<path d="M427.5,61.2C427.5,63.3 427.7,62.6 426.8,64.4C426.0,66.2 426.4,65.6 425.0,66.7C423.6,67.7 424.2,67.5 422.5,67.5C420.8,67.5 421.4,67.7 420.0,66.7C418.6,65.6 419.0,66.2 418.2,64.4C417.3,62.6 417.5,63.3 417.5,61.2C417.5,59.2 417.3,59.9 418.2,58.1C419.0,56.3 418.6,56.9 420.0,55.8C421.4,54.8 420.8,55.0 422.5,55.0C424.2,55.0 423.6,54.8 425.0,55.8C426.4,56.9 426.0,56.3 426.8,58.1C427.7,59.9 427.5,59.2 427.5,61.2Z" fill="#9200be" stroke="rgba(196,194,186,0.92)" stroke-width="0.9"/>
<path d="M393.0,99.0C393.0,103.6 393.4,101.9 391.3,105.9C389.2,109.8 390.4,108.6 386.8,110.9C383.1,113.2 384.7,112.8 380.5,112.8C376.3,112.8 377.9,113.2 374.2,110.9C370.6,108.6 371.8,109.8 369.7,105.9C367.6,101.9 368.0,103.6 368.0,99.0C368.0,94.4 367.6,96.1 369.7,92.1C371.8,88.2 370.6,89.4 374.2,87.1C377.9,84.8 376.3,85.2 380.5,85.2C384.7,85.2 383.1,84.8 386.8,87.1C390.4,89.4 389.2,88.2 391.3,92.1C393.4,96.1 393.0,94.4 393.0,99.0Z" fill="#680084" stroke="rgba(196,194,186,0.92)" stroke-width="0.9"/>
<path d="M437.5,7.5C442.1,3.3 442.9,3.3 450.0,5.0C457.1,6.7 457.1,6.2 458.8,12.5C460.4,18.8 460.4,19.6 455.0,23.8C449.6,27.9 448.8,27.1 442.5,25.0C436.2,22.9 437.9,23.3 436.2,17.5C434.6,11.7 432.9,11.7 437.5,7.5Z" fill="#4a0084" stroke="rgba(196,194,186,0.92)" stroke-width="0.9"/>
<path d="M533.8,31.2C535.8,27.8 535.4,29.1 542.5,27.0C549.6,24.9 543.3,26.1 555.0,25.0C566.7,23.9 570.0,18.8 577.5,23.8C585.0,28.8 585.0,35.4 577.5,40.0C570.0,44.6 568.8,38.3 555.0,37.5C541.2,36.7 543.3,39.6 536.2,37.5C529.2,35.4 531.7,34.8 533.8,31.2Z" fill="#4a0084" stroke="rgba(196,194,186,0.92)" stroke-width="0.9"/>
<path d="M567.5,111.2C567.5,115.0 567.7,113.6 566.7,116.9C565.6,120.1 566.2,119.1 564.4,121.0C562.6,122.9 563.3,122.5 561.2,122.5C559.2,122.5 559.9,122.9 558.1,121.0C556.3,119.1 556.9,120.1 555.8,116.9C554.8,113.6 555.0,115.0 555.0,111.2C555.0,107.5 554.8,108.9 555.8,105.6C556.9,102.4 556.3,103.4 558.1,101.5C559.9,99.6 559.2,100.0 561.2,100.0C563.3,100.0 562.6,99.6 564.4,101.5C566.2,103.4 565.6,102.4 566.7,105.6C567.7,108.9 567.5,107.5 567.5,111.2Z" fill="#4a0084" stroke="rgba(196,194,186,0.92)" stroke-width="0.9"/>
<path d="M538.8,162.5C531.2,158.3 537.1,155.4 541.2,150.0C545.4,144.6 544.6,145.8 551.2,146.2C557.9,146.7 557.1,145.8 561.2,151.2C565.4,156.7 571.2,158.8 563.8,162.5C556.2,166.2 546.2,166.7 538.8,162.5Z" fill="#4a0084" stroke="rgba(196,194,186,0.92)" stroke-width="0.9"/>
<path d="M510.0,29.5C510.0,30.2 510.1,29.9 509.7,30.5C509.2,31.1 509.5,30.9 508.8,31.2C508.0,31.6 508.3,31.5 507.5,31.5C506.7,31.5 507.0,31.6 506.2,31.2C505.5,30.9 505.8,31.1 505.3,30.5C504.9,29.9 505.0,30.2 505.0,29.5C505.0,28.8 504.9,29.1 505.3,28.5C505.8,27.9 505.5,28.1 506.2,27.8C507.0,27.4 506.7,27.5 507.5,27.5C508.3,27.5 508.0,27.4 508.8,27.8C509.5,28.1 509.2,27.9 509.7,28.5C510.1,29.1 510.0,28.8 510.0,29.5Z" fill="#4a0084" stroke="rgba(196,194,186,0.92)" stroke-width="0.9"/>
<path d="M480.0,75.0C480.0,77.5 480.3,76.6 478.8,78.8C477.4,80.9 478.2,80.2 475.6,81.5C473.1,82.7 474.2,82.5 471.2,82.5C468.3,82.5 469.4,82.7 466.9,81.5C464.3,80.2 465.1,80.9 463.7,78.8C462.2,76.6 462.5,77.5 462.5,75.0C462.5,72.5 462.2,73.4 463.7,71.2C465.1,69.1 464.3,69.8 466.9,68.5C469.4,67.3 468.3,67.5 471.2,67.5C474.2,67.5 473.1,67.3 475.6,68.5C478.2,69.8 477.4,69.1 478.8,71.2C480.3,73.4 480.0,72.5 480.0,75.0Z" fill="#0055a6" stroke="rgba(196,194,186,0.92)" stroke-width="0.9"/>
<path d="M492.5,120.0C492.5,115.0 494.2,112.5 498.0,112.5C501.8,112.5 503.8,115.0 503.8,120.0C503.8,125.0 501.8,127.5 498.0,127.5C494.2,127.5 492.5,125.0 492.5,120.0Z" fill="none" stroke="rgba(196,194,186,0.92)" stroke-width="0.9"/>
</g>
<g clip-path="url(#c21)">
<rect x="380" y="154" width="190" height="154" fill="#7abcfe"/>
<path d="M405.0,241.5C409.2,238.2 409.2,244.4 417.5,244.0C425.8,243.6 420.8,239.8 430.0,240.2C439.2,240.7 434.2,245.7 445.0,245.2C455.8,244.8 450.8,240.7 462.5,239.0C474.2,237.3 470.8,241.9 480.0,240.2C489.2,238.6 480.0,238.6 490.0,234.0C500.0,229.4 498.3,231.9 510.0,226.5C521.7,221.1 515.0,221.9 525.0,217.8C535.0,213.6 531.7,216.5 540.0,214.0C548.3,211.5 545.8,205.2 550.0,210.2C554.2,215.2 550.8,217.8 552.5,229.0C554.2,240.2 551.7,236.9 555.0,244.0C558.3,251.1 555.0,247.8 562.5,250.2C570.0,252.8 572.5,229.4 577.5,251.5C582.5,273.6 634.2,294.8 577.5,316.5C520.8,338.2 462.5,321.5 407.5,316.5C352.5,311.5 410.0,310.7 412.5,301.5C415.0,292.3 412.5,296.5 415.0,289.0C417.5,281.5 421.7,284.8 420.0,279.0C418.3,273.2 415.0,279.8 410.0,271.5C405.0,263.2 406.7,264.0 405.0,254.0C403.3,244.0 400.8,244.8 405.0,241.5Z" fill="#a9a9cb"/>
<path d="M430.0,276.5C433.8,269.8 435.0,275.7 445.0,274.0C455.0,272.3 450.8,274.8 460.0,271.5C469.2,268.2 464.2,269.8 472.5,264.0C480.8,258.2 475.8,259.0 485.0,254.0C494.2,249.0 494.2,247.3 500.0,249.0C505.8,250.7 499.2,261.5 502.5,259.0C505.8,256.5 504.2,248.6 510.0,241.5C515.8,234.4 511.7,236.9 520.0,237.8C528.3,238.6 527.5,238.6 535.0,244.0C542.5,249.4 535.8,249.0 542.5,254.0C549.2,259.0 545.8,253.2 555.0,259.0C564.2,264.8 562.5,266.5 570.0,271.5C577.5,276.5 575.0,259.0 577.5,274.0C580.0,289.0 624.2,302.3 577.5,316.5C530.8,330.7 485.4,324.0 437.5,316.5C389.6,309.0 436.2,307.3 433.8,294.0C431.2,280.7 426.2,283.2 430.0,276.5Z" fill="#dcdcf8"/>
<path d="M442.5,316.5C397.9,310.2 439.6,307.3 443.8,297.8C447.9,288.2 447.1,285.7 455.0,287.8C462.9,289.8 459.2,303.2 467.5,304.0C475.8,304.8 470.8,294.8 480.0,290.2C489.2,285.7 486.7,284.7 495.0,290.2C503.3,295.8 494.2,298.4 505.0,307.0C515.8,315.6 515.0,319.9 527.5,316.0C540.0,312.1 531.7,306.3 542.5,295.2C553.3,284.2 550.8,288.7 560.0,282.8C569.2,276.8 564.2,280.0 570.0,277.5C575.8,275.0 575.0,262.2 577.5,275.2C580.0,288.2 622.5,302.8 577.5,316.5C532.5,330.2 487.1,322.8 442.5,316.5Z" fill="#f6f6fa"/>
<path d="M423.8,253.5C423.8,254.0 423.8,253.8 423.4,254.2C423.0,254.7 423.2,254.5 422.5,254.8C421.8,255.0 422.1,255.0 421.2,255.0C420.4,255.0 420.7,255.0 420.0,254.8C419.3,254.5 419.5,254.7 419.1,254.2C418.7,253.8 418.8,254.0 418.8,253.5C418.8,253.0 418.7,253.2 419.1,252.8C419.5,252.3 419.3,252.5 420.0,252.2C420.7,252.0 420.4,252.0 421.2,252.0C422.1,252.0 421.8,252.0 422.5,252.2C423.2,252.5 423.0,252.3 423.4,252.8C423.8,253.2 423.8,253.0 423.8,253.5Z" fill="#f6f6fa"/>
<path d="M375.0,240.2C381.7,269.8 384.2,238.2 395.0,237.8C405.8,237.3 398.3,239.4 407.5,239.0C416.7,238.6 412.5,236.1 422.5,236.5C432.5,236.9 427.5,238.6 437.5,240.2C447.5,241.9 443.3,243.6 452.5,241.5C461.7,239.4 455.8,236.1 465.0,234.0C474.2,231.9 470.8,236.9 480.0,235.2C489.2,233.6 484.2,236.1 492.5,229.0C500.8,221.9 497.5,222.3 505.0,214.0C512.5,205.7 506.7,208.6 515.0,204.0C523.3,199.4 520.0,201.9 530.0,200.2C540.0,198.6 535.8,201.1 545.0,199.0C554.2,196.9 549.2,193.2 557.5,194.0C565.8,194.8 563.3,198.2 570.0,201.5C576.7,204.8 575.0,221.5 577.5,204.0C580.0,186.5 645.0,167.3 577.5,149.0C510.0,130.7 442.5,118.6 375.0,149.0C307.5,179.4 368.3,210.7 375.0,240.2Z" fill="#3a9bfe" stroke="rgba(196,194,186,0.92)" stroke-width="0.9"/>
<path d="M402.2,302.5C402.2,304.2 402.3,303.6 401.8,305.0C401.3,306.4 401.6,306.0 400.8,306.8C399.9,307.7 400.2,307.5 399.2,307.5C398.2,307.5 398.6,307.7 397.8,306.8C396.9,306.0 397.2,306.4 396.7,305.0C396.2,303.6 396.2,304.2 396.2,302.5C396.2,300.8 396.2,301.4 396.7,300.0C397.2,298.6 396.9,299.0 397.8,298.2C398.6,297.3 398.2,297.5 399.2,297.5C400.2,297.5 399.9,297.3 400.8,298.2C401.6,299.0 401.3,298.6 401.8,300.0C402.3,301.4 402.2,300.8 402.2,302.5Z" fill="#a9a9cb"/>
<path d="M375.0,236.5C382.5,264.8 385.0,234.4 397.5,234.0C410.0,233.6 405.0,238.6 412.5,235.2C420.0,231.9 414.2,224.4 420.0,224.0C425.8,223.6 421.7,229.8 430.0,234.0C438.3,238.2 436.7,239.0 445.0,236.5C453.3,234.0 450.8,234.0 455.0,226.5C459.2,219.0 453.3,212.3 457.5,214.0C461.7,215.7 460.0,225.7 467.5,231.5C475.0,237.3 472.5,233.2 480.0,231.5C487.5,229.8 484.2,233.2 490.0,226.5C495.8,219.8 491.7,219.8 497.5,211.5C503.3,203.2 500.0,206.5 507.5,201.5C515.0,196.5 510.8,199.0 520.0,196.5C529.2,194.0 525.0,195.7 535.0,194.0C545.0,192.3 541.7,194.8 550.0,191.5C558.3,188.2 553.3,184.0 560.0,184.0C566.7,184.0 564.2,188.2 570.0,191.5C575.8,194.8 575.0,208.2 577.5,194.0C580.0,179.8 645.0,164.0 577.5,149.0C510.0,134.0 442.5,119.8 375.0,149.0C307.5,178.2 367.5,208.2 375.0,236.5Z" fill="#0a82fc" stroke="rgba(196,194,186,0.92)" stroke-width="0.9"/>
<path d="M375.0,229.0C381.7,255.7 384.2,229.8 395.0,229.0C405.8,228.2 400.8,231.5 407.5,226.5C414.2,221.5 409.2,214.8 415.0,214.0C420.8,213.2 417.5,219.8 425.0,224.0C432.5,228.2 430.0,228.2 437.5,226.5C445.0,224.8 442.5,225.7 447.5,219.0C452.5,212.3 447.5,215.7 452.5,206.5C457.5,197.3 455.0,198.2 462.5,191.5C470.0,184.8 467.5,186.5 475.0,186.5C482.5,186.5 478.3,187.3 485.0,191.5C491.7,195.7 488.3,199.0 495.0,199.0C501.7,199.0 496.7,196.5 505.0,191.5C513.3,186.5 510.8,185.7 520.0,184.0C529.2,182.3 525.8,188.2 532.5,186.5C539.2,184.8 532.5,182.3 540.0,179.0C547.5,175.7 545.8,175.7 555.0,176.5C564.2,177.3 560.0,179.8 567.5,181.5C575.0,183.2 574.2,192.3 577.5,181.5C580.8,170.7 645.0,159.8 577.5,149.0C510.0,138.2 442.5,122.3 375.0,149.0C307.5,175.7 368.3,202.3 375.0,229.0Z" fill="#0068d6" stroke="rgba(196,194,186,0.92)" stroke-width="0.9"/>
<clipPath id="r30"><path d="M375.0,229.0C381.7,255.7 384.2,229.8 395.0,229.0C405.8,228.2 400.8,231.5 407.5,226.5C414.2,221.5 409.2,214.8 415.0,214.0C420.8,213.2 417.5,219.8 425.0,224.0C432.5,228.2 430.0,228.2 437.5,226.5C445.0,224.8 442.5,225.7 447.5,219.0C452.5,212.3 447.5,215.7 452.5,206.5C457.5,197.3 455.0,198.2 462.5,191.5C470.0,184.8 467.5,186.5 475.0,186.5C482.5,186.5 478.3,187.3 485.0,191.5C491.7,195.7 488.3,199.0 495.0,199.0C501.7,199.0 496.7,196.5 505.0,191.5C513.3,186.5 510.8,185.7 520.0,184.0C529.2,182.3 525.8,188.2 532.5,186.5C539.2,184.8 532.5,182.3 540.0,179.0C547.5,175.7 545.8,175.7 555.0,176.5C564.2,177.3 560.0,179.8 567.5,181.5C575.0,183.2 574.2,192.3 577.5,181.5C580.8,170.7 645.0,159.8 577.5,149.0C510.0,138.2 442.5,122.3 375.0,149.0C307.5,175.7 368.3,202.3 375.0,229.0Z"/></clipPath><g clip-path="url(#r30)">
<path d="M375.0,229.0C381.7,255.7 384.2,229.8 395.0,229.0C405.8,228.2 400.8,231.5 407.5,226.5C414.2,221.5 409.2,214.8 415.0,214.0C420.8,213.2 417.5,219.8 425.0,224.0C432.5,228.2 430.0,228.2 437.5,226.5C445.0,224.8 442.5,225.7 447.5,219.0C452.5,212.3 447.5,215.7 452.5,206.5C457.5,197.3 455.0,198.2 462.5,191.5C470.0,184.8 467.5,186.5 475.0,186.5C482.5,186.5 478.3,187.3 485.0,191.5C491.7,195.7 488.3,199.0 495.0,199.0C501.7,199.0 496.7,196.5 505.0,191.5C513.3,186.5 510.8,185.7 520.0,184.0C529.2,182.3 525.8,188.2 532.5,186.5C539.2,184.8 532.5,182.3 540.0,179.0C547.5,175.7 545.8,175.7 555.0,176.5C564.2,177.3 560.0,179.8 567.5,181.5C575.0,183.2 574.2,192.3 577.5,181.5C580.8,170.7 645.0,159.8 577.5,149.0C510.0,138.2 442.5,122.3 375.0,149.0C307.5,175.7 368.3,202.3 375.0,229.0Z" fill="none" stroke="rgba(196,194,186,0.92)" stroke-width="6.7" stroke-linejoin="round"/>
<path d="M375.0,229.0C381.7,255.7 384.2,229.8 395.0,229.0C405.8,228.2 400.8,231.5 407.5,226.5C414.2,221.5 409.2,214.8 415.0,214.0C420.8,213.2 417.5,219.8 425.0,224.0C432.5,228.2 430.0,228.2 437.5,226.5C445.0,224.8 442.5,225.7 447.5,219.0C452.5,212.3 447.5,215.7 452.5,206.5C457.5,197.3 455.0,198.2 462.5,191.5C470.0,184.8 467.5,186.5 475.0,186.5C482.5,186.5 478.3,187.3 485.0,191.5C491.7,195.7 488.3,199.0 495.0,199.0C501.7,199.0 496.7,196.5 505.0,191.5C513.3,186.5 510.8,185.7 520.0,184.0C529.2,182.3 525.8,188.2 532.5,186.5C539.2,184.8 532.5,182.3 540.0,179.0C547.5,175.7 545.8,175.7 555.0,176.5C564.2,177.3 560.0,179.8 567.5,181.5C575.0,183.2 574.2,192.3 577.5,181.5C580.8,170.7 645.0,159.8 577.5,149.0C510.0,138.2 442.5,122.3 375.0,149.0C307.5,175.7 368.3,202.3 375.0,229.0Z" fill="none" stroke="#0068d6" stroke-width="5.0" stroke-linejoin="round"/>
</g>
<path d="M375.0,224.0C380.8,249.4 382.5,226.9 392.5,225.2C402.5,223.6 399.2,226.1 405.0,219.0C410.8,211.9 404.2,204.8 410.0,204.0C415.8,203.2 414.2,211.5 422.5,216.5C430.8,221.5 427.5,221.5 435.0,219.0C442.5,216.5 440.0,217.3 445.0,209.0C450.0,200.7 444.2,203.2 450.0,194.0C455.8,184.8 453.3,186.5 462.5,181.5C471.7,176.5 468.3,178.2 477.5,179.0C486.7,179.8 483.3,185.7 490.0,184.0C496.7,182.3 490.8,179.0 497.5,174.0C504.2,169.0 500.8,172.3 510.0,169.0C519.2,165.7 516.7,164.0 525.0,164.0C533.3,164.0 529.2,165.7 535.0,169.0C540.8,172.3 534.2,172.8 542.5,174.0C550.8,175.2 550.8,174.4 560.0,172.8C569.2,171.1 564.2,171.1 570.0,169.0C575.8,166.9 575.0,173.2 577.5,166.5C580.0,159.8 645.0,154.8 577.5,149.0C510.0,143.2 442.5,124.0 375.0,149.0C307.5,174.0 369.2,198.6 375.0,224.0Z" fill="#0055a6" stroke="rgba(196,194,186,0.92)" stroke-width="0.9"/>
<clipPath id="r31"><path d="M375.0,224.0C380.8,249.4 382.5,226.9 392.5,225.2C402.5,223.6 399.2,226.1 405.0,219.0C410.8,211.9 404.2,204.8 410.0,204.0C415.8,203.2 414.2,211.5 422.5,216.5C430.8,221.5 427.5,221.5 435.0,219.0C442.5,216.5 440.0,217.3 445.0,209.0C450.0,200.7 444.2,203.2 450.0,194.0C455.8,184.8 453.3,186.5 462.5,181.5C471.7,176.5 468.3,178.2 477.5,179.0C486.7,179.8 483.3,185.7 490.0,184.0C496.7,182.3 490.8,179.0 497.5,174.0C504.2,169.0 500.8,172.3 510.0,169.0C519.2,165.7 516.7,164.0 525.0,164.0C533.3,164.0 529.2,165.7 535.0,169.0C540.8,172.3 534.2,172.8 542.5,174.0C550.8,175.2 550.8,174.4 560.0,172.8C569.2,171.1 564.2,171.1 570.0,169.0C575.8,166.9 575.0,173.2 577.5,166.5C580.0,159.8 645.0,154.8 577.5,149.0C510.0,143.2 442.5,124.0 375.0,149.0C307.5,174.0 369.2,198.6 375.0,224.0Z"/></clipPath><g clip-path="url(#r31)">
<path d="M375.0,224.0C380.8,249.4 382.5,226.9 392.5,225.2C402.5,223.6 399.2,226.1 405.0,219.0C410.8,211.9 404.2,204.8 410.0,204.0C415.8,203.2 414.2,211.5 422.5,216.5C430.8,221.5 427.5,221.5 435.0,219.0C442.5,216.5 440.0,217.3 445.0,209.0C450.0,200.7 444.2,203.2 450.0,194.0C455.8,184.8 453.3,186.5 462.5,181.5C471.7,176.5 468.3,178.2 477.5,179.0C486.7,179.8 483.3,185.7 490.0,184.0C496.7,182.3 490.8,179.0 497.5,174.0C504.2,169.0 500.8,172.3 510.0,169.0C519.2,165.7 516.7,164.0 525.0,164.0C533.3,164.0 529.2,165.7 535.0,169.0C540.8,172.3 534.2,172.8 542.5,174.0C550.8,175.2 550.8,174.4 560.0,172.8C569.2,171.1 564.2,171.1 570.0,169.0C575.8,166.9 575.0,173.2 577.5,166.5C580.0,159.8 645.0,154.8 577.5,149.0C510.0,143.2 442.5,124.0 375.0,149.0C307.5,174.0 369.2,198.6 375.0,224.0Z" fill="none" stroke="rgba(196,194,186,0.92)" stroke-width="7.7" stroke-linejoin="round"/>
<path d="M375.0,224.0C380.8,249.4 382.5,226.9 392.5,225.2C402.5,223.6 399.2,226.1 405.0,219.0C410.8,211.9 404.2,204.8 410.0,204.0C415.8,203.2 414.2,211.5 422.5,216.5C430.8,221.5 427.5,221.5 435.0,219.0C442.5,216.5 440.0,217.3 445.0,209.0C450.0,200.7 444.2,203.2 450.0,194.0C455.8,184.8 453.3,186.5 462.5,181.5C471.7,176.5 468.3,178.2 477.5,179.0C486.7,179.8 483.3,185.7 490.0,184.0C496.7,182.3 490.8,179.0 497.5,174.0C504.2,169.0 500.8,172.3 510.0,169.0C519.2,165.7 516.7,164.0 525.0,164.0C533.3,164.0 529.2,165.7 535.0,169.0C540.8,172.3 534.2,172.8 542.5,174.0C550.8,175.2 550.8,174.4 560.0,172.8C569.2,171.1 564.2,171.1 570.0,169.0C575.8,166.9 575.0,173.2 577.5,166.5C580.0,159.8 645.0,154.8 577.5,149.0C510.0,143.2 442.5,124.0 375.0,149.0C307.5,174.0 369.2,198.6 375.0,224.0Z" fill="none" stroke="#0055a6" stroke-width="6.0" stroke-linejoin="round"/>
</g>
<path d="M375.0,204.0C380.0,224.8 381.7,211.5 390.0,211.5C398.3,211.5 394.2,211.5 400.0,204.0C405.8,196.5 401.7,191.5 407.5,189.0C413.3,186.5 410.0,191.5 417.5,196.5C425.0,201.5 422.5,204.0 430.0,204.0C437.5,204.0 435.0,204.0 440.0,196.5C445.0,189.0 439.2,189.8 445.0,181.5C450.8,173.2 448.3,175.7 457.5,171.5C466.7,167.3 465.0,173.2 472.5,169.0C480.0,164.8 475.8,165.7 480.0,159.0C484.2,152.3 520.0,152.3 485.0,149.0C450.0,145.7 411.7,130.7 375.0,149.0C338.3,167.3 370.0,183.2 375.0,204.0Z" fill="#012f82" stroke="rgba(196,194,186,0.92)" stroke-width="0.9"/>
<clipPath id="r32"><path d="M375.0,204.0C380.0,224.8 381.7,211.5 390.0,211.5C398.3,211.5 394.2,211.5 400.0,204.0C405.8,196.5 401.7,191.5 407.5,189.0C413.3,186.5 410.0,191.5 417.5,196.5C425.0,201.5 422.5,204.0 430.0,204.0C437.5,204.0 435.0,204.0 440.0,196.5C445.0,189.0 439.2,189.8 445.0,181.5C450.8,173.2 448.3,175.7 457.5,171.5C466.7,167.3 465.0,173.2 472.5,169.0C480.0,164.8 475.8,165.7 480.0,159.0C484.2,152.3 520.0,152.3 485.0,149.0C450.0,145.7 411.7,130.7 375.0,149.0C338.3,167.3 370.0,183.2 375.0,204.0Z"/></clipPath><g clip-path="url(#r32)">
<path d="M375.0,204.0C380.0,224.8 381.7,211.5 390.0,211.5C398.3,211.5 394.2,211.5 400.0,204.0C405.8,196.5 401.7,191.5 407.5,189.0C413.3,186.5 410.0,191.5 417.5,196.5C425.0,201.5 422.5,204.0 430.0,204.0C437.5,204.0 435.0,204.0 440.0,196.5C445.0,189.0 439.2,189.8 445.0,181.5C450.8,173.2 448.3,175.7 457.5,171.5C466.7,167.3 465.0,173.2 472.5,169.0C480.0,164.8 475.8,165.7 480.0,159.0C484.2,152.3 520.0,152.3 485.0,149.0C450.0,145.7 411.7,130.7 375.0,149.0C338.3,167.3 370.0,183.2 375.0,204.0Z" fill="none" stroke="rgba(196,194,186,0.92)" stroke-width="15.7" stroke-linejoin="round"/>
<path d="M375.0,204.0C380.0,224.8 381.7,211.5 390.0,211.5C398.3,211.5 394.2,211.5 400.0,204.0C405.8,196.5 401.7,191.5 407.5,189.0C413.3,186.5 410.0,191.5 417.5,196.5C425.0,201.5 422.5,204.0 430.0,204.0C437.5,204.0 435.0,204.0 440.0,196.5C445.0,189.0 439.2,189.8 445.0,181.5C450.8,173.2 448.3,175.7 457.5,171.5C466.7,167.3 465.0,173.2 472.5,169.0C480.0,164.8 475.8,165.7 480.0,159.0C484.2,152.3 520.0,152.3 485.0,149.0C450.0,145.7 411.7,130.7 375.0,149.0C338.3,167.3 370.0,183.2 375.0,204.0Z" fill="none" stroke="#012f82" stroke-width="14.0" stroke-linejoin="round"/>
<path d="M375.0,204.0C380.0,224.8 381.7,211.5 390.0,211.5C398.3,211.5 394.2,211.5 400.0,204.0C405.8,196.5 401.7,191.5 407.5,189.0C413.3,186.5 410.0,191.5 417.5,196.5C425.0,201.5 422.5,204.0 430.0,204.0C437.5,204.0 435.0,204.0 440.0,196.5C445.0,189.0 439.2,189.8 445.0,181.5C450.8,173.2 448.3,175.7 457.5,171.5C466.7,167.3 465.0,173.2 472.5,169.0C480.0,164.8 475.8,165.7 480.0,159.0C484.2,152.3 520.0,152.3 485.0,149.0C450.0,145.7 411.7,130.7 375.0,149.0C338.3,167.3 370.0,183.2 375.0,204.0Z" fill="none" stroke="rgba(196,194,186,0.92)" stroke-width="8.7" stroke-linejoin="round"/>
<path d="M375.0,204.0C380.0,224.8 381.7,211.5 390.0,211.5C398.3,211.5 394.2,211.5 400.0,204.0C405.8,196.5 401.7,191.5 407.5,189.0C413.3,186.5 410.0,191.5 417.5,196.5C425.0,201.5 422.5,204.0 430.0,204.0C437.5,204.0 435.0,204.0 440.0,196.5C445.0,189.0 439.2,189.8 445.0,181.5C450.8,173.2 448.3,175.7 457.5,171.5C466.7,167.3 465.0,173.2 472.5,169.0C480.0,164.8 475.8,165.7 480.0,159.0C484.2,152.3 520.0,152.3 485.0,149.0C450.0,145.7 411.7,130.7 375.0,149.0C338.3,167.3 370.0,183.2 375.0,204.0Z" fill="none" stroke="#012f82" stroke-width="7.0" stroke-linejoin="round"/>
</g>
<path d="M530.0,149.0C518.3,153.2 530.0,154.0 535.0,161.5C540.0,169.0 537.5,168.6 545.0,171.5C552.5,174.4 550.8,173.6 557.5,170.2C564.2,166.9 560.8,168.6 565.0,161.5C569.2,154.4 581.7,153.2 570.0,149.0C558.3,144.8 541.7,144.8 530.0,149.0Z" fill="#012f82" stroke="rgba(196,194,186,0.92)" stroke-width="0.9"/>
<path d="M410.0,164.0C415.8,159.0 421.7,159.0 430.0,161.5C438.3,164.0 436.7,165.7 435.0,171.5C433.3,177.3 432.5,177.3 425.0,179.0C417.5,180.7 417.5,181.5 412.5,176.5C407.5,171.5 404.2,169.0 410.0,164.0Z" fill="#0055a6" stroke="rgba(196,194,186,0.92)" stroke-width="0.9"/>
<path d="M375.0,149.0C385.8,139.8 397.1,144.0 407.5,149.0C417.9,154.0 409.6,155.2 406.2,164.0C402.9,172.8 404.6,170.7 397.5,175.2C390.4,179.8 392.5,177.3 385.0,177.8C377.5,178.2 378.3,186.1 375.0,176.5C371.7,166.9 364.2,158.2 375.0,149.0Z" fill="#4a0084" stroke="rgba(196,194,186,0.92)" stroke-width="0.9"/>
<path d="M540.0,149.0C535.8,152.3 538.3,152.3 542.5,159.0C546.7,165.7 546.7,166.5 552.5,169.0C558.3,171.5 559.2,173.2 560.0,166.5C560.8,159.8 561.7,154.8 555.0,149.0C548.3,143.2 544.2,145.7 540.0,149.0Z" fill="#4a0084" stroke="rgba(196,194,186,0.92)" stroke-width="0.9"/>
<path d="M468.8,199.0C469.6,194.8 470.8,194.8 476.2,197.8C481.7,200.7 481.2,201.9 485.0,207.8C488.8,213.6 488.8,212.3 487.5,215.2C486.2,218.2 485.8,218.2 481.2,216.5C476.7,214.8 477.9,216.1 473.8,210.2C469.6,204.4 467.9,203.2 468.8,199.0Z" fill="none" stroke="rgba(196,194,186,0.92)" stroke-width="21.6" stroke-linejoin="round"/>
<path d="M468.8,199.0C469.6,194.8 470.8,194.8 476.2,197.8C481.7,200.7 481.2,201.9 485.0,207.8C488.8,213.6 488.8,212.3 487.5,215.2C486.2,218.2 485.8,218.2 481.2,216.5C476.7,214.8 477.9,216.1 473.8,210.2C469.6,204.4 467.9,203.2 468.8,199.0Z" fill="none" stroke="#3a9bfe" stroke-width="20.0" stroke-linejoin="round"/>
<path d="M468.8,199.0C469.6,194.8 470.8,194.8 476.2,197.8C481.7,200.7 481.2,201.9 485.0,207.8C488.8,213.6 488.8,212.3 487.5,215.2C486.2,218.2 485.8,218.2 481.2,216.5C476.7,214.8 477.9,216.1 473.8,210.2C469.6,204.4 467.9,203.2 468.8,199.0Z" fill="none" stroke="rgba(196,194,186,0.92)" stroke-width="17.6" stroke-linejoin="round"/>
<path d="M468.8,199.0C469.6,194.8 470.8,194.8 476.2,197.8C481.7,200.7 481.2,201.9 485.0,207.8C488.8,213.6 488.8,212.3 487.5,215.2C486.2,218.2 485.8,218.2 481.2,216.5C476.7,214.8 477.9,216.1 473.8,210.2C469.6,204.4 467.9,203.2 468.8,199.0Z" fill="none" stroke="#0a82fc" stroke-width="16.0" stroke-linejoin="round"/>
<path d="M468.8,199.0C469.6,194.8 470.8,194.8 476.2,197.8C481.7,200.7 481.2,201.9 485.0,207.8C488.8,213.6 488.8,212.3 487.5,215.2C486.2,218.2 485.8,218.2 481.2,216.5C476.7,214.8 477.9,216.1 473.8,210.2C469.6,204.4 467.9,203.2 468.8,199.0Z" fill="none" stroke="rgba(196,194,186,0.92)" stroke-width="13.6" stroke-linejoin="round"/>
<path d="M468.8,199.0C469.6,194.8 470.8,194.8 476.2,197.8C481.7,200.7 481.2,201.9 485.0,207.8C488.8,213.6 488.8,212.3 487.5,215.2C486.2,218.2 485.8,218.2 481.2,216.5C476.7,214.8 477.9,216.1 473.8,210.2C469.6,204.4 467.9,203.2 468.8,199.0Z" fill="none" stroke="#0068d6" stroke-width="12.0" stroke-linejoin="round"/>
<path d="M468.8,199.0C469.6,194.8 470.8,194.8 476.2,197.8C481.7,200.7 481.2,201.9 485.0,207.8C488.8,213.6 488.8,212.3 487.5,215.2C486.2,218.2 485.8,218.2 481.2,216.5C476.7,214.8 477.9,216.1 473.8,210.2C469.6,204.4 467.9,203.2 468.8,199.0Z" fill="none" stroke="rgba(196,194,186,0.92)" stroke-width="9.6" stroke-linejoin="round"/>
<path d="M468.8,199.0C469.6,194.8 470.8,194.8 476.2,197.8C481.7,200.7 481.2,201.9 485.0,207.8C488.8,213.6 488.8,212.3 487.5,215.2C486.2,218.2 485.8,218.2 481.2,216.5C476.7,214.8 477.9,216.1 473.8,210.2C469.6,204.4 467.9,203.2 468.8,199.0Z" fill="none" stroke="#0055a6" stroke-width="8.0" stroke-linejoin="round"/>
<path d="M468.8,199.0C469.6,194.8 470.8,194.8 476.2,197.8C481.7,200.7 481.2,201.9 485.0,207.8C488.8,213.6 488.8,212.3 487.5,215.2C486.2,218.2 485.8,218.2 481.2,216.5C476.7,214.8 477.9,216.1 473.8,210.2C469.6,204.4 467.9,203.2 468.8,199.0Z" fill="none" stroke="rgba(196,194,186,0.92)" stroke-width="5.6" stroke-linejoin="round"/>
<path d="M468.8,199.0C469.6,194.8 470.8,194.8 476.2,197.8C481.7,200.7 481.2,201.9 485.0,207.8C488.8,213.6 488.8,212.3 487.5,215.2C486.2,218.2 485.8,218.2 481.2,216.5C476.7,214.8 477.9,216.1 473.8,210.2C469.6,204.4 467.9,203.2 468.8,199.0Z" fill="none" stroke="#012f82" stroke-width="4.0" stroke-linejoin="round"/>
<path d="M468.8,199.0C469.6,194.8 470.8,194.8 476.2,197.8C481.7,200.7 481.2,201.9 485.0,207.8C488.8,213.6 488.8,212.3 487.5,215.2C486.2,218.2 485.8,218.2 481.2,216.5C476.7,214.8 477.9,216.1 473.8,210.2C469.6,204.4 467.9,203.2 468.8,199.0Z" fill="#4a0084" stroke="rgba(196,194,186,0.92)" stroke-width="0.9"/>
</g>
<g clip-path="url(#c22)">
<rect x="380" y="308" width="190" height="154" fill="#f6f6fa"/>
<path d="M375.0,303.0C397.5,265.5 420.8,296.3 442.5,303.0C464.2,309.7 441.2,308.8 440.0,323.0C438.8,337.2 440.4,333.8 438.8,345.5C437.1,357.2 440.4,351.3 435.0,358.0C429.6,364.7 430.0,360.5 422.5,365.5C415.0,370.5 418.3,365.5 412.5,373.0C406.7,380.5 410.8,378.8 405.0,388.0C399.2,397.2 400.8,393.8 395.0,400.5C389.2,407.2 394.2,403.0 387.5,408.0C380.8,413.0 379.2,450.5 375.0,415.5C370.8,380.5 352.5,340.5 375.0,303.0Z" fill="#dcdcf8"/>
<path d="M517.5,303.0 L529.5,314.2 L536.2,303.0Z" fill="#dcdcf8"/>
<path d="M375.0,425.5C377.5,421.3 379.2,426.3 382.5,430.5C385.8,434.7 387.5,433.8 385.0,438.0C382.5,442.2 378.3,447.2 375.0,443.0C371.7,438.8 372.5,429.7 375.0,425.5Z" fill="#dcdcf8"/>
<path d="M375.0,303.0C392.5,275.5 410.4,296.3 427.5,303.0C444.6,309.7 426.2,311.3 426.2,323.0C426.2,334.7 425.8,328.8 427.5,338.0C429.2,347.2 431.2,344.2 431.2,350.5C431.2,356.8 432.1,356.3 427.5,356.8C422.9,357.2 423.3,351.3 417.5,351.8C411.7,352.2 414.2,351.8 410.0,358.0C405.8,364.2 409.2,363.0 405.0,370.5C400.8,378.0 403.3,375.5 397.5,380.5C391.7,385.5 395.0,383.8 387.5,385.5C380.0,387.2 379.2,413.0 375.0,385.5C370.8,358.0 357.5,330.5 375.0,303.0Z" fill="#a9a9cb"/>
<path d="M375.0,303.0C389.6,279.7 404.6,298.0 418.8,303.0C432.9,308.0 418.8,308.8 417.5,318.0C416.2,327.2 418.3,324.7 415.0,330.5C411.7,336.3 413.3,330.5 407.5,335.5C401.7,340.5 403.3,338.0 397.5,345.5C391.7,353.0 394.2,349.7 390.0,358.0C385.8,366.3 390.0,365.5 385.0,370.5C380.0,375.5 378.3,395.5 375.0,373.0C371.7,350.5 360.4,326.3 375.0,303.0Z" fill="#7abcfe"/>
</g>
<g clip-path="url(#c23)">
<rect x="380" y="462" width="190" height="154" fill="#f6f6fa"/>
</g>
<g clip-path="url(#c30)">
<rect x="570" y="0" width="190" height="154" fill="#4a0084"/>
<path d="M565.0,-5.0C584.6,-15.0 607.1,-9.2 623.8,-5.0C640.4,-0.8 622.1,0.8 615.0,7.5C607.9,14.2 610.8,10.2 602.5,15.0C594.2,19.8 602.5,18.7 590.0,22.0C577.5,25.3 573.3,34.0 565.0,25.0C556.7,16.0 545.4,5.0 565.0,-5.0Z" fill="#012f82" stroke="rgba(196,194,186,0.92)" stroke-width="0.9"/>
<clipPath id="r33"><path d="M565.0,-5.0C584.6,-15.0 607.1,-9.2 623.8,-5.0C640.4,-0.8 622.1,0.8 615.0,7.5C607.9,14.2 610.8,10.2 602.5,15.0C594.2,19.8 602.5,18.7 590.0,22.0C577.5,25.3 573.3,34.0 565.0,25.0C556.7,16.0 545.4,5.0 565.0,-5.0Z"/></clipPath><g clip-path="url(#r33)">
<path d="M565.0,-5.0C584.6,-15.0 607.1,-9.2 623.8,-5.0C640.4,-0.8 622.1,0.8 615.0,7.5C607.9,14.2 610.8,10.2 602.5,15.0C594.2,19.8 602.5,18.7 590.0,22.0C577.5,25.3 573.3,34.0 565.0,25.0C556.7,16.0 545.4,5.0 565.0,-5.0Z" fill="none" stroke="rgba(196,194,186,0.92)" stroke-width="7.7" stroke-linejoin="round"/>
<path d="M565.0,-5.0C584.6,-15.0 607.1,-9.2 623.8,-5.0C640.4,-0.8 622.1,0.8 615.0,7.5C607.9,14.2 610.8,10.2 602.5,15.0C594.2,19.8 602.5,18.7 590.0,22.0C577.5,25.3 573.3,34.0 565.0,25.0C556.7,16.0 545.4,5.0 565.0,-5.0Z" fill="none" stroke="#012f82" stroke-width="6.0" stroke-linejoin="round"/>
</g>
<path d="M565.0,-5.0C577.5,-12.7 592.1,-9.6 602.5,-5.0C612.9,-0.4 602.1,2.1 596.2,8.8C590.4,15.4 595.4,11.9 585.0,15.0C574.6,18.1 571.7,24.7 565.0,18.0C558.3,11.3 552.5,2.7 565.0,-5.0Z" fill="#0055a6" stroke="rgba(196,194,186,0.92)" stroke-width="0.9"/>
<path d="M565.0,-5.0C573.3,-10.8 582.9,-9.2 590.0,-5.0C597.1,-0.8 594.6,1.7 586.2,7.5C577.9,13.3 572.1,16.7 565.0,12.5C557.9,8.3 556.7,0.8 565.0,-5.0Z" fill="#0068d6" stroke="rgba(196,194,186,0.92)" stroke-width="0.9"/>
<path d="M565.0,-5.0C570.4,-9.6 576.7,-8.5 581.2,-5.0C585.8,-1.5 584.2,0.9 578.8,5.5C573.3,10.1 569.6,12.2 565.0,8.8C560.4,5.2 559.6,-0.4 565.0,-5.0Z" fill="#0a82fc" stroke="rgba(196,194,186,0.92)" stroke-width="0.9"/>
<path d="M676.2,-5.0C675.6,0.8 676.3,2.5 678.0,12.5C679.7,22.5 677.7,18.8 681.2,25.0C684.8,31.2 682.5,29.8 688.8,31.2C695.0,32.8 692.9,31.6 700.0,29.5C707.1,27.4 704.2,24.4 710.0,25.0C715.8,25.6 714.3,22.9 717.5,31.2C720.7,39.6 718.7,36.7 719.5,50.0C720.3,63.3 716.5,63.6 720.0,71.2C723.5,78.9 722.5,74.1 730.0,73.0C737.5,71.9 734.6,68.2 742.5,68.0C750.4,67.8 745.4,71.8 753.8,72.5C762.1,73.2 762.9,83.3 767.5,70.0C772.1,56.7 771.7,46.7 767.5,32.5C763.3,18.3 763.3,31.0 755.0,27.5C746.7,24.0 750.8,22.8 742.5,22.0C734.2,21.2 737.5,23.3 730.0,25.0C722.5,26.7 727.9,27.4 720.0,27.0C712.1,26.6 714.2,28.2 706.2,23.8C698.3,19.3 704.2,17.5 696.2,13.8C688.3,10.0 687.9,18.8 682.5,12.5C677.1,6.2 682.1,0.8 680.0,-5.0C677.9,-10.8 676.9,-10.8 676.2,-5.0Z" fill="#012f82" stroke="rgba(196,194,186,0.92)" stroke-width="0.9"/>
<clipPath id="r34"><path d="M676.2,-5.0C675.6,0.8 676.3,2.5 678.0,12.5C679.7,22.5 677.7,18.8 681.2,25.0C684.8,31.2 682.5,29.8 688.8,31.2C695.0,32.8 692.9,31.6 700.0,29.5C707.1,27.4 704.2,24.4 710.0,25.0C715.8,25.6 714.3,22.9 717.5,31.2C720.7,39.6 718.7,36.7 719.5,50.0C720.3,63.3 716.5,63.6 720.0,71.2C723.5,78.9 722.5,74.1 730.0,73.0C737.5,71.9 734.6,68.2 742.5,68.0C750.4,67.8 745.4,71.8 753.8,72.5C762.1,73.2 762.9,83.3 767.5,70.0C772.1,56.7 771.7,46.7 767.5,32.5C763.3,18.3 763.3,31.0 755.0,27.5C746.7,24.0 750.8,22.8 742.5,22.0C734.2,21.2 737.5,23.3 730.0,25.0C722.5,26.7 727.9,27.4 720.0,27.0C712.1,26.6 714.2,28.2 706.2,23.8C698.3,19.3 704.2,17.5 696.2,13.8C688.3,10.0 687.9,18.8 682.5,12.5C677.1,6.2 682.1,0.8 680.0,-5.0C677.9,-10.8 676.9,-10.8 676.2,-5.0Z"/></clipPath><g clip-path="url(#r34)">
<path d="M676.2,-5.0C675.6,0.8 676.3,2.5 678.0,12.5C679.7,22.5 677.7,18.8 681.2,25.0C684.8,31.2 682.5,29.8 688.8,31.2C695.0,32.8 692.9,31.6 700.0,29.5C707.1,27.4 704.2,24.4 710.0,25.0C715.8,25.6 714.3,22.9 717.5,31.2C720.7,39.6 718.7,36.7 719.5,50.0C720.3,63.3 716.5,63.6 720.0,71.2C723.5,78.9 722.5,74.1 730.0,73.0C737.5,71.9 734.6,68.2 742.5,68.0C750.4,67.8 745.4,71.8 753.8,72.5C762.1,73.2 762.9,83.3 767.5,70.0C772.1,56.7 771.7,46.7 767.5,32.5C763.3,18.3 763.3,31.0 755.0,27.5C746.7,24.0 750.8,22.8 742.5,22.0C734.2,21.2 737.5,23.3 730.0,25.0C722.5,26.7 727.9,27.4 720.0,27.0C712.1,26.6 714.2,28.2 706.2,23.8C698.3,19.3 704.2,17.5 696.2,13.8C688.3,10.0 687.9,18.8 682.5,12.5C677.1,6.2 682.1,0.8 680.0,-5.0C677.9,-10.8 676.9,-10.8 676.2,-5.0Z" fill="none" stroke="rgba(196,194,186,0.92)" stroke-width="8.7" stroke-linejoin="round"/>
<path d="M676.2,-5.0C675.6,0.8 676.3,2.5 678.0,12.5C679.7,22.5 677.7,18.8 681.2,25.0C684.8,31.2 682.5,29.8 688.8,31.2C695.0,32.8 692.9,31.6 700.0,29.5C707.1,27.4 704.2,24.4 710.0,25.0C715.8,25.6 714.3,22.9 717.5,31.2C720.7,39.6 718.7,36.7 719.5,50.0C720.3,63.3 716.5,63.6 720.0,71.2C723.5,78.9 722.5,74.1 730.0,73.0C737.5,71.9 734.6,68.2 742.5,68.0C750.4,67.8 745.4,71.8 753.8,72.5C762.1,73.2 762.9,83.3 767.5,70.0C772.1,56.7 771.7,46.7 767.5,32.5C763.3,18.3 763.3,31.0 755.0,27.5C746.7,24.0 750.8,22.8 742.5,22.0C734.2,21.2 737.5,23.3 730.0,25.0C722.5,26.7 727.9,27.4 720.0,27.0C712.1,26.6 714.2,28.2 706.2,23.8C698.3,19.3 704.2,17.5 696.2,13.8C688.3,10.0 687.9,18.8 682.5,12.5C677.1,6.2 682.1,0.8 680.0,-5.0C677.9,-10.8 676.9,-10.8 676.2,-5.0Z" fill="none" stroke="#012f82" stroke-width="7.0" stroke-linejoin="round"/>
</g>
<path d="M597.5,58.8C600.0,55.0 595.8,57.1 607.5,53.8C619.2,50.4 617.5,51.2 632.5,48.8C647.5,46.2 644.2,42.9 652.5,46.2C660.8,49.6 651.7,52.5 657.5,58.8C663.3,65.0 662.5,65.0 670.0,65.0C677.5,65.0 672.5,58.8 680.0,58.8C687.5,58.8 685.8,57.9 692.5,65.0C699.2,72.1 694.2,72.5 700.0,80.0C705.8,87.5 701.7,86.7 710.0,87.5C718.3,88.3 715.0,81.7 725.0,82.5C735.0,83.3 730.0,82.5 740.0,90.0C750.0,97.5 745.8,98.3 755.0,105.0C764.2,111.7 763.3,90.8 767.5,110.0C771.7,129.2 781.7,145.0 767.5,162.5C753.3,180.0 741.7,166.7 725.0,162.5C708.3,158.3 724.2,157.5 717.5,150.0C710.8,142.5 714.2,145.0 705.0,140.0C695.8,135.0 698.3,140.0 690.0,135.0C681.7,130.0 688.3,126.7 680.0,125.0C671.7,123.3 674.2,128.3 665.0,130.0C655.8,131.7 658.3,134.2 652.5,130.0C646.7,125.8 650.8,125.8 647.5,117.5C644.2,109.2 647.5,111.7 642.5,105.0C637.5,98.3 639.2,100.0 632.5,97.5C625.8,95.0 628.3,101.7 622.5,97.5C616.7,93.3 620.0,93.3 615.0,85.0C610.0,76.7 612.5,79.2 607.5,72.5C602.5,65.8 603.3,69.6 600.0,65.0C596.7,60.4 595.0,62.5 597.5,58.8Z" fill="#680084" stroke="rgba(196,194,186,0.92)" stroke-width="0.9"/>
<clipPath id="r35"><path d="M597.5,58.8C600.0,55.0 595.8,57.1 607.5,53.8C619.2,50.4 617.5,51.2 632.5,48.8C647.5,46.2 644.2,42.9 652.5,46.2C660.8,49.6 651.7,52.5 657.5,58.8C663.3,65.0 662.5,65.0 670.0,65.0C677.5,65.0 672.5,58.8 680.0,58.8C687.5,58.8 685.8,57.9 692.5,65.0C699.2,72.1 694.2,72.5 700.0,80.0C705.8,87.5 701.7,86.7 710.0,87.5C718.3,88.3 715.0,81.7 725.0,82.5C735.0,83.3 730.0,82.5 740.0,90.0C750.0,97.5 745.8,98.3 755.0,105.0C764.2,111.7 763.3,90.8 767.5,110.0C771.7,129.2 781.7,145.0 767.5,162.5C753.3,180.0 741.7,166.7 725.0,162.5C708.3,158.3 724.2,157.5 717.5,150.0C710.8,142.5 714.2,145.0 705.0,140.0C695.8,135.0 698.3,140.0 690.0,135.0C681.7,130.0 688.3,126.7 680.0,125.0C671.7,123.3 674.2,128.3 665.0,130.0C655.8,131.7 658.3,134.2 652.5,130.0C646.7,125.8 650.8,125.8 647.5,117.5C644.2,109.2 647.5,111.7 642.5,105.0C637.5,98.3 639.2,100.0 632.5,97.5C625.8,95.0 628.3,101.7 622.5,97.5C616.7,93.3 620.0,93.3 615.0,85.0C610.0,76.7 612.5,79.2 607.5,72.5C602.5,65.8 603.3,69.6 600.0,65.0C596.7,60.4 595.0,62.5 597.5,58.8Z"/></clipPath><g clip-path="url(#r35)">
<path d="M597.5,58.8C600.0,55.0 595.8,57.1 607.5,53.8C619.2,50.4 617.5,51.2 632.5,48.8C647.5,46.2 644.2,42.9 652.5,46.2C660.8,49.6 651.7,52.5 657.5,58.8C663.3,65.0 662.5,65.0 670.0,65.0C677.5,65.0 672.5,58.8 680.0,58.8C687.5,58.8 685.8,57.9 692.5,65.0C699.2,72.1 694.2,72.5 700.0,80.0C705.8,87.5 701.7,86.7 710.0,87.5C718.3,88.3 715.0,81.7 725.0,82.5C735.0,83.3 730.0,82.5 740.0,90.0C750.0,97.5 745.8,98.3 755.0,105.0C764.2,111.7 763.3,90.8 767.5,110.0C771.7,129.2 781.7,145.0 767.5,162.5C753.3,180.0 741.7,166.7 725.0,162.5C708.3,158.3 724.2,157.5 717.5,150.0C710.8,142.5 714.2,145.0 705.0,140.0C695.8,135.0 698.3,140.0 690.0,135.0C681.7,130.0 688.3,126.7 680.0,125.0C671.7,123.3 674.2,128.3 665.0,130.0C655.8,131.7 658.3,134.2 652.5,130.0C646.7,125.8 650.8,125.8 647.5,117.5C644.2,109.2 647.5,111.7 642.5,105.0C637.5,98.3 639.2,100.0 632.5,97.5C625.8,95.0 628.3,101.7 622.5,97.5C616.7,93.3 620.0,93.3 615.0,85.0C610.0,76.7 612.5,79.2 607.5,72.5C602.5,65.8 603.3,69.6 600.0,65.0C596.7,60.4 595.0,62.5 597.5,58.8Z" fill="none" stroke="rgba(196,194,186,0.92)" stroke-width="9.7" stroke-linejoin="round"/>
<path d="M597.5,58.8C600.0,55.0 595.8,57.1 607.5,53.8C619.2,50.4 617.5,51.2 632.5,48.8C647.5,46.2 644.2,42.9 652.5,46.2C660.8,49.6 651.7,52.5 657.5,58.8C663.3,65.0 662.5,65.0 670.0,65.0C677.5,65.0 672.5,58.8 680.0,58.8C687.5,58.8 685.8,57.9 692.5,65.0C699.2,72.1 694.2,72.5 700.0,80.0C705.8,87.5 701.7,86.7 710.0,87.5C718.3,88.3 715.0,81.7 725.0,82.5C735.0,83.3 730.0,82.5 740.0,90.0C750.0,97.5 745.8,98.3 755.0,105.0C764.2,111.7 763.3,90.8 767.5,110.0C771.7,129.2 781.7,145.0 767.5,162.5C753.3,180.0 741.7,166.7 725.0,162.5C708.3,158.3 724.2,157.5 717.5,150.0C710.8,142.5 714.2,145.0 705.0,140.0C695.8,135.0 698.3,140.0 690.0,135.0C681.7,130.0 688.3,126.7 680.0,125.0C671.7,123.3 674.2,128.3 665.0,130.0C655.8,131.7 658.3,134.2 652.5,130.0C646.7,125.8 650.8,125.8 647.5,117.5C644.2,109.2 647.5,111.7 642.5,105.0C637.5,98.3 639.2,100.0 632.5,97.5C625.8,95.0 628.3,101.7 622.5,97.5C616.7,93.3 620.0,93.3 615.0,85.0C610.0,76.7 612.5,79.2 607.5,72.5C602.5,65.8 603.3,69.6 600.0,65.0C596.7,60.4 595.0,62.5 597.5,58.8Z" fill="none" stroke="#680084" stroke-width="8.0" stroke-linejoin="round"/>
</g>
<path d="M610.0,62.5C615.0,55.8 618.3,55.4 630.0,52.5C641.7,49.6 637.5,47.9 645.0,53.8C652.5,59.6 646.7,61.2 652.5,70.0C658.3,78.8 656.7,75.8 662.5,80.0C668.3,84.2 662.5,84.2 670.0,82.5C677.5,80.8 676.7,74.2 685.0,75.0C693.3,75.8 688.3,77.5 695.0,85.0C701.7,92.5 696.7,94.2 705.0,97.5C713.3,100.8 710.0,94.2 720.0,95.0C730.0,95.8 725.0,94.2 735.0,100.0C745.0,105.8 742.5,104.2 750.0,112.5C757.5,120.8 755.4,112.5 757.5,125.0C759.6,137.5 760.4,142.5 756.2,150.0C752.1,157.5 752.9,152.5 745.0,147.5C737.1,142.5 740.8,142.5 732.5,135.0C724.2,127.5 730.8,129.2 720.0,125.0C709.2,120.8 710.8,125.0 700.0,122.5C689.2,120.0 694.2,121.7 687.5,117.5C680.8,113.3 685.8,109.2 680.0,110.0C674.2,110.8 678.3,115.8 670.0,120.0C661.7,124.2 661.7,125.8 655.0,122.5C648.3,119.2 653.3,119.2 650.0,110.0C646.7,100.8 650.0,103.3 645.0,95.0C640.0,86.7 641.7,85.0 635.0,85.0C628.3,85.0 630.0,95.0 625.0,95.0C620.0,95.0 623.3,92.5 620.0,85.0C616.7,77.5 618.3,80.0 615.0,72.5C611.7,65.0 605.0,69.2 610.0,62.5Z" fill="#9200be" stroke="rgba(196,194,186,0.92)" stroke-width="0.9"/>
<clipPath id="r36"><path d="M610.0,62.5C615.0,55.8 618.3,55.4 630.0,52.5C641.7,49.6 637.5,47.9 645.0,53.8C652.5,59.6 646.7,61.2 652.5,70.0C658.3,78.8 656.7,75.8 662.5,80.0C668.3,84.2 662.5,84.2 670.0,82.5C677.5,80.8 676.7,74.2 685.0,75.0C693.3,75.8 688.3,77.5 695.0,85.0C701.7,92.5 696.7,94.2 705.0,97.5C713.3,100.8 710.0,94.2 720.0,95.0C730.0,95.8 725.0,94.2 735.0,100.0C745.0,105.8 742.5,104.2 750.0,112.5C757.5,120.8 755.4,112.5 757.5,125.0C759.6,137.5 760.4,142.5 756.2,150.0C752.1,157.5 752.9,152.5 745.0,147.5C737.1,142.5 740.8,142.5 732.5,135.0C724.2,127.5 730.8,129.2 720.0,125.0C709.2,120.8 710.8,125.0 700.0,122.5C689.2,120.0 694.2,121.7 687.5,117.5C680.8,113.3 685.8,109.2 680.0,110.0C674.2,110.8 678.3,115.8 670.0,120.0C661.7,124.2 661.7,125.8 655.0,122.5C648.3,119.2 653.3,119.2 650.0,110.0C646.7,100.8 650.0,103.3 645.0,95.0C640.0,86.7 641.7,85.0 635.0,85.0C628.3,85.0 630.0,95.0 625.0,95.0C620.0,95.0 623.3,92.5 620.0,85.0C616.7,77.5 618.3,80.0 615.0,72.5C611.7,65.0 605.0,69.2 610.0,62.5Z"/></clipPath><g clip-path="url(#r36)">
<path d="M610.0,62.5C615.0,55.8 618.3,55.4 630.0,52.5C641.7,49.6 637.5,47.9 645.0,53.8C652.5,59.6 646.7,61.2 652.5,70.0C658.3,78.8 656.7,75.8 662.5,80.0C668.3,84.2 662.5,84.2 670.0,82.5C677.5,80.8 676.7,74.2 685.0,75.0C693.3,75.8 688.3,77.5 695.0,85.0C701.7,92.5 696.7,94.2 705.0,97.5C713.3,100.8 710.0,94.2 720.0,95.0C730.0,95.8 725.0,94.2 735.0,100.0C745.0,105.8 742.5,104.2 750.0,112.5C757.5,120.8 755.4,112.5 757.5,125.0C759.6,137.5 760.4,142.5 756.2,150.0C752.1,157.5 752.9,152.5 745.0,147.5C737.1,142.5 740.8,142.5 732.5,135.0C724.2,127.5 730.8,129.2 720.0,125.0C709.2,120.8 710.8,125.0 700.0,122.5C689.2,120.0 694.2,121.7 687.5,117.5C680.8,113.3 685.8,109.2 680.0,110.0C674.2,110.8 678.3,115.8 670.0,120.0C661.7,124.2 661.7,125.8 655.0,122.5C648.3,119.2 653.3,119.2 650.0,110.0C646.7,100.8 650.0,103.3 645.0,95.0C640.0,86.7 641.7,85.0 635.0,85.0C628.3,85.0 630.0,95.0 625.0,95.0C620.0,95.0 623.3,92.5 620.0,85.0C616.7,77.5 618.3,80.0 615.0,72.5C611.7,65.0 605.0,69.2 610.0,62.5Z" fill="none" stroke="rgba(196,194,186,0.92)" stroke-width="10.7" stroke-linejoin="round"/>
<path d="M610.0,62.5C615.0,55.8 618.3,55.4 630.0,52.5C641.7,49.6 637.5,47.9 645.0,53.8C652.5,59.6 646.7,61.2 652.5,70.0C658.3,78.8 656.7,75.8 662.5,80.0C668.3,84.2 662.5,84.2 670.0,82.5C677.5,80.8 676.7,74.2 685.0,75.0C693.3,75.8 688.3,77.5 695.0,85.0C701.7,92.5 696.7,94.2 705.0,97.5C713.3,100.8 710.0,94.2 720.0,95.0C730.0,95.8 725.0,94.2 735.0,100.0C745.0,105.8 742.5,104.2 750.0,112.5C757.5,120.8 755.4,112.5 757.5,125.0C759.6,137.5 760.4,142.5 756.2,150.0C752.1,157.5 752.9,152.5 745.0,147.5C737.1,142.5 740.8,142.5 732.5,135.0C724.2,127.5 730.8,129.2 720.0,125.0C709.2,120.8 710.8,125.0 700.0,122.5C689.2,120.0 694.2,121.7 687.5,117.5C680.8,113.3 685.8,109.2 680.0,110.0C674.2,110.8 678.3,115.8 670.0,120.0C661.7,124.2 661.7,125.8 655.0,122.5C648.3,119.2 653.3,119.2 650.0,110.0C646.7,100.8 650.0,103.3 645.0,95.0C640.0,86.7 641.7,85.0 635.0,85.0C628.3,85.0 630.0,95.0 625.0,95.0C620.0,95.0 623.3,92.5 620.0,85.0C616.7,77.5 618.3,80.0 615.0,72.5C611.7,65.0 605.0,69.2 610.0,62.5Z" fill="none" stroke="#9200be" stroke-width="9.0" stroke-linejoin="round"/>
</g>
<path d="M636.0,67.5C636.0,70.2 636.1,69.2 635.7,71.5C635.3,73.8 635.5,73.1 634.9,74.4C634.2,75.8 634.5,75.5 633.8,75.5C633.0,75.5 633.3,75.8 632.6,74.4C632.0,73.1 632.2,73.8 631.8,71.5C631.4,69.2 631.5,70.2 631.5,67.5C631.5,64.8 631.4,65.8 631.8,63.5C632.2,61.2 632.0,61.9 632.6,60.6C633.3,59.2 633.0,59.5 633.8,59.5C634.5,59.5 634.2,59.2 634.9,60.6C635.5,61.9 635.3,61.2 635.7,63.5C636.1,65.8 636.0,64.8 636.0,67.5Z" fill="#bc00f2" stroke="rgba(196,194,186,0.92)" stroke-width="0.9"/>
<path d="M565.0,51.2C571.7,13.8 574.3,48.8 585.0,51.2C595.7,53.8 591.3,51.7 597.0,58.8C602.7,65.8 600.8,62.9 602.0,72.5C603.2,82.1 599.7,78.3 600.5,87.5C601.3,96.7 600.5,93.2 604.5,100.0C608.5,106.8 604.8,106.2 612.5,108.0C620.2,109.8 617.7,107.2 627.5,105.5C637.3,103.8 636.3,100.5 642.0,103.0C647.7,105.5 642.0,103.8 644.5,113.0C647.0,122.2 641.2,123.0 649.5,130.5C657.8,138.0 658.7,132.2 669.5,135.5C680.3,138.8 672.0,135.5 682.0,140.5C692.0,145.5 687.0,142.8 699.5,150.5C712.0,158.2 764.3,159.3 719.5,163.8C674.7,168.2 616.5,201.2 565.0,163.8C513.5,126.2 558.3,88.8 565.0,51.2Z" fill="#012f82" stroke="rgba(196,194,186,0.92)" stroke-width="0.9"/>
<clipPath id="r37"><path d="M565.0,51.2C571.7,13.8 574.3,48.8 585.0,51.2C595.7,53.8 591.3,51.7 597.0,58.8C602.7,65.8 600.8,62.9 602.0,72.5C603.2,82.1 599.7,78.3 600.5,87.5C601.3,96.7 600.5,93.2 604.5,100.0C608.5,106.8 604.8,106.2 612.5,108.0C620.2,109.8 617.7,107.2 627.5,105.5C637.3,103.8 636.3,100.5 642.0,103.0C647.7,105.5 642.0,103.8 644.5,113.0C647.0,122.2 641.2,123.0 649.5,130.5C657.8,138.0 658.7,132.2 669.5,135.5C680.3,138.8 672.0,135.5 682.0,140.5C692.0,145.5 687.0,142.8 699.5,150.5C712.0,158.2 764.3,159.3 719.5,163.8C674.7,168.2 616.5,201.2 565.0,163.8C513.5,126.2 558.3,88.8 565.0,51.2Z"/></clipPath><g clip-path="url(#r37)">
<path d="M565.0,51.2C571.7,13.8 574.3,48.8 585.0,51.2C595.7,53.8 591.3,51.7 597.0,58.8C602.7,65.8 600.8,62.9 602.0,72.5C603.2,82.1 599.7,78.3 600.5,87.5C601.3,96.7 600.5,93.2 604.5,100.0C608.5,106.8 604.8,106.2 612.5,108.0C620.2,109.8 617.7,107.2 627.5,105.5C637.3,103.8 636.3,100.5 642.0,103.0C647.7,105.5 642.0,103.8 644.5,113.0C647.0,122.2 641.2,123.0 649.5,130.5C657.8,138.0 658.7,132.2 669.5,135.5C680.3,138.8 672.0,135.5 682.0,140.5C692.0,145.5 687.0,142.8 699.5,150.5C712.0,158.2 764.3,159.3 719.5,163.8C674.7,168.2 616.5,201.2 565.0,163.8C513.5,126.2 558.3,88.8 565.0,51.2Z" fill="none" stroke="rgba(196,194,186,0.92)" stroke-width="13.7" stroke-linejoin="round"/>
<path d="M565.0,51.2C571.7,13.8 574.3,48.8 585.0,51.2C595.7,53.8 591.3,51.7 597.0,58.8C602.7,65.8 600.8,62.9 602.0,72.5C603.2,82.1 599.7,78.3 600.5,87.5C601.3,96.7 600.5,93.2 604.5,100.0C608.5,106.8 604.8,106.2 612.5,108.0C620.2,109.8 617.7,107.2 627.5,105.5C637.3,103.8 636.3,100.5 642.0,103.0C647.7,105.5 642.0,103.8 644.5,113.0C647.0,122.2 641.2,123.0 649.5,130.5C657.8,138.0 658.7,132.2 669.5,135.5C680.3,138.8 672.0,135.5 682.0,140.5C692.0,145.5 687.0,142.8 699.5,150.5C712.0,158.2 764.3,159.3 719.5,163.8C674.7,168.2 616.5,201.2 565.0,163.8C513.5,126.2 558.3,88.8 565.0,51.2Z" fill="none" stroke="#012f82" stroke-width="12.0" stroke-linejoin="round"/>
<path d="M565.0,51.2C571.7,13.8 574.3,48.8 585.0,51.2C595.7,53.8 591.3,51.7 597.0,58.8C602.7,65.8 600.8,62.9 602.0,72.5C603.2,82.1 599.7,78.3 600.5,87.5C601.3,96.7 600.5,93.2 604.5,100.0C608.5,106.8 604.8,106.2 612.5,108.0C620.2,109.8 617.7,107.2 627.5,105.5C637.3,103.8 636.3,100.5 642.0,103.0C647.7,105.5 642.0,103.8 644.5,113.0C647.0,122.2 641.2,123.0 649.5,130.5C657.8,138.0 658.7,132.2 669.5,135.5C680.3,138.8 672.0,135.5 682.0,140.5C692.0,145.5 687.0,142.8 699.5,150.5C712.0,158.2 764.3,159.3 719.5,163.8C674.7,168.2 616.5,201.2 565.0,163.8C513.5,126.2 558.3,88.8 565.0,51.2Z" fill="none" stroke="rgba(196,194,186,0.92)" stroke-width="7.7" stroke-linejoin="round"/>
<path d="M565.0,51.2C571.7,13.8 574.3,48.8 585.0,51.2C595.7,53.8 591.3,51.7 597.0,58.8C602.7,65.8 600.8,62.9 602.0,72.5C603.2,82.1 599.7,78.3 600.5,87.5C601.3,96.7 600.5,93.2 604.5,100.0C608.5,106.8 604.8,106.2 612.5,108.0C620.2,109.8 617.7,107.2 627.5,105.5C637.3,103.8 636.3,100.5 642.0,103.0C647.7,105.5 642.0,103.8 644.5,113.0C647.0,122.2 641.2,123.0 649.5,130.5C657.8,138.0 658.7,132.2 669.5,135.5C680.3,138.8 672.0,135.5 682.0,140.5C692.0,145.5 687.0,142.8 699.5,150.5C712.0,158.2 764.3,159.3 719.5,163.8C674.7,168.2 616.5,201.2 565.0,163.8C513.5,126.2 558.3,88.8 565.0,51.2Z" fill="none" stroke="#012f82" stroke-width="6.0" stroke-linejoin="round"/>
</g>
<path d="M565.0,95.0C571.7,73.8 573.3,95.8 585.0,100.0C596.7,104.2 590.0,101.7 600.0,107.5C610.0,113.3 604.2,114.2 615.0,117.5C625.8,120.8 622.5,115.0 632.5,117.5C642.5,120.0 634.2,117.5 645.0,125.0C655.8,132.5 652.5,131.7 665.0,140.0C677.5,148.3 670.8,142.1 682.5,150.0C694.2,157.9 739.2,159.2 700.0,163.8C660.8,168.3 610.0,186.7 565.0,163.8C520.0,140.8 558.3,116.2 565.0,95.0Z" fill="#0055a6" stroke="rgba(196,194,186,0.92)" stroke-width="0.9"/>
<path d="M565.0,100.0C571.2,80.0 572.9,99.6 583.8,103.8C594.6,107.9 587.9,106.2 597.5,112.5C607.1,118.8 600.4,118.8 612.5,122.5C624.6,126.2 621.7,120.4 633.8,123.8C645.8,127.1 637.5,125.0 648.8,132.5C660.0,140.0 656.7,138.3 667.5,146.2C678.3,154.2 673.8,150.4 681.2,156.2C688.8,162.1 728.8,161.2 690.0,163.8C651.2,166.2 606.7,185.0 565.0,163.8C523.3,142.5 558.8,120.0 565.0,100.0Z" fill="#0068d6" stroke="rgba(196,194,186,0.92)" stroke-width="0.9"/>
<path d="M585.0,163.8C554.2,159.2 583.3,159.6 587.5,150.0C591.7,140.4 590.0,141.7 597.5,135.0C605.0,128.3 597.5,130.8 610.0,130.0C622.5,129.2 620.8,128.8 635.0,132.5C649.2,136.2 640.8,134.4 652.5,141.2C664.2,148.1 660.8,145.5 670.0,153.0C679.2,160.5 708.3,160.2 680.0,163.8C651.7,167.3 615.8,168.3 585.0,163.8Z" fill="#0a82fc" stroke="rgba(196,194,186,0.92)" stroke-width="0.9"/>
<path d="M602.5,163.8C583.3,156.7 601.7,151.7 605.0,142.5C608.3,133.3 602.5,137.5 612.5,136.2C622.5,135.0 622.5,135.4 635.0,138.8C647.5,142.1 640.8,137.9 650.0,146.2C659.2,154.6 678.3,157.9 662.5,163.8C646.7,169.6 621.7,170.8 602.5,163.8Z" fill="#3a9bfe" stroke="rgba(196,194,186,0.92)" stroke-width="0.9"/>
<path d="M613.8,140.5C620.8,133.2 622.1,139.0 632.5,142.0C642.9,145.0 637.9,142.2 645.0,149.5C652.1,156.8 665.0,159.0 653.8,163.8C642.5,168.5 624.6,171.5 611.2,163.8C597.9,156.0 606.7,147.8 613.8,140.5Z" fill="#7abcfe" stroke="rgba(196,194,186,0.92)" stroke-width="0.9"/>
<path d="M682.5,22.5C683.8,18.8 683.8,16.7 687.5,16.2C691.2,15.8 692.9,17.1 693.8,21.2C694.6,25.4 693.3,26.7 690.0,28.8C686.7,30.8 686.2,29.6 683.8,27.5C681.2,25.4 681.2,26.2 682.5,22.5Z" fill="none" stroke="rgba(196,194,186,0.92)" stroke-width="0.9"/>
<path d="M710.0,107.5C709.8,101.2 710.7,98.8 712.5,98.8C714.3,98.8 715.3,101.2 715.5,107.5C715.7,113.8 714.8,117.5 713.0,117.5C711.2,117.5 710.2,113.8 710.0,107.5Z" fill="none" stroke="rgba(196,194,186,0.92)" stroke-width="0.9"/>
</g>
<g clip-path="url(#c31)">
<rect x="570" y="154" width="190" height="154" fill="#7abcfe"/>
<path d="M623.8,149.0C612.5,155.7 621.2,157.3 621.2,169.0C621.2,180.7 625.8,176.5 623.8,184.0C621.7,191.5 620.4,184.8 615.0,191.5C609.6,198.2 612.5,194.8 607.5,204.0C602.5,213.2 605.0,210.7 600.0,219.0C595.0,227.3 597.5,222.3 592.5,229.0C587.5,235.7 590.8,234.0 585.0,239.0C579.2,244.0 581.7,241.9 575.0,244.0C568.3,246.1 568.3,221.1 565.0,245.2C561.7,269.4 497.5,292.8 565.0,316.5C632.5,340.2 700.0,330.7 767.5,316.5C835.0,302.3 771.7,289.0 767.5,274.0C763.3,259.0 763.3,271.5 755.0,271.5C746.7,271.5 750.8,274.0 742.5,274.0C734.2,274.0 737.5,275.7 730.0,271.5C722.5,267.3 726.7,269.0 720.0,261.5C713.3,254.0 715.0,257.3 710.0,249.0C705.0,240.7 708.3,244.0 705.0,236.5C701.7,229.0 704.2,233.2 700.0,226.5C695.8,219.8 696.7,223.2 692.5,216.5C688.3,209.8 691.7,211.5 687.5,206.5C683.3,201.5 685.8,201.1 680.0,201.5C674.2,201.9 675.8,207.8 670.0,207.8C664.2,207.8 665.8,209.4 662.5,201.5C659.2,193.6 661.7,194.8 660.0,184.0C658.3,173.2 659.2,180.7 657.5,169.0C655.8,157.3 666.2,155.7 655.0,149.0C643.8,142.3 635.0,142.3 623.8,149.0Z" fill="#a9a9cb"/>
<path d="M623.8,196.5C626.7,190.7 626.2,189.8 632.5,191.5C638.8,193.2 635.8,199.0 642.5,201.5C649.2,204.0 646.7,198.2 652.5,199.0C658.3,199.8 655.8,199.0 660.0,204.0C664.2,209.0 658.3,211.1 665.0,214.0C671.7,216.9 671.7,211.5 680.0,212.8C688.3,214.0 684.2,212.3 690.0,217.8C695.8,223.2 692.5,221.1 697.5,229.0C702.5,236.9 700.8,233.2 705.0,241.5C709.2,249.8 705.8,245.7 710.0,254.0C714.2,262.3 715.8,258.2 717.5,266.5C719.2,274.8 717.5,271.5 715.0,279.0C712.5,286.5 713.3,282.3 710.0,289.0C706.7,295.7 705.0,292.7 705.0,299.0C705.0,305.3 705.0,302.2 710.0,308.0C715.0,313.8 768.3,313.7 720.0,316.5C671.7,319.3 616.7,335.7 565.0,316.5C513.3,297.3 560.8,279.8 565.0,259.0C569.2,238.2 570.0,259.0 577.5,254.0C585.0,249.0 580.8,250.7 587.5,244.0C594.2,237.3 590.8,241.5 597.5,234.0C604.2,226.5 600.8,226.5 607.5,221.5C614.2,216.5 612.1,223.2 617.5,219.0C622.9,214.8 621.7,216.5 623.8,209.0C625.8,201.5 620.8,202.3 623.8,196.5Z" fill="#dcdcf8"/>
<path d="M632.5,216.5C637.5,213.2 637.5,212.3 645.0,214.0C652.5,215.7 648.3,220.7 655.0,221.5C661.7,222.3 655.8,218.6 665.0,216.5C674.2,214.4 672.5,212.8 682.5,215.2C692.5,217.8 688.3,217.8 695.0,224.0C701.7,230.2 700.8,227.3 702.5,234.0C704.2,240.7 704.2,239.0 700.0,244.0C695.8,249.0 696.7,244.0 690.0,249.0C683.3,254.0 686.7,254.8 680.0,259.0C673.3,263.2 674.6,257.3 670.0,261.5C665.4,265.7 666.9,264.0 666.2,271.5C665.6,279.0 667.1,276.5 668.0,284.0C668.9,291.5 669.3,287.3 669.0,294.0C668.7,300.7 668.3,296.5 667.0,304.0C665.7,311.5 699.0,312.3 665.0,316.5C631.0,320.7 598.3,330.7 565.0,316.5C531.7,302.3 560.0,289.0 565.0,274.0C570.0,259.0 570.8,276.5 580.0,271.5C589.2,266.5 585.0,268.2 592.5,259.0C600.0,249.8 595.0,252.3 602.5,244.0C610.0,235.7 607.5,238.2 615.0,234.0C622.5,229.8 620.0,234.8 625.0,231.5C630.0,228.2 627.5,229.0 630.0,224.0C632.5,219.0 627.5,219.8 632.5,216.5Z" fill="#f6f6fa"/>
<path d="M654.0,162.0C654.0,162.7 654.1,162.4 653.5,163.0C652.9,163.6 653.3,163.4 652.2,163.7C651.2,164.1 651.7,164.0 650.5,164.0C649.3,164.0 649.8,164.1 648.8,163.7C647.7,163.4 648.1,163.6 647.5,163.0C646.9,162.4 647.0,162.7 647.0,162.0C647.0,161.3 646.9,161.6 647.5,161.0C648.1,160.4 647.7,160.6 648.8,160.3C649.8,159.9 649.3,160.0 650.5,160.0C651.7,160.0 651.2,159.9 652.2,160.3C653.3,160.6 652.9,160.4 653.5,161.0C654.1,161.6 654.0,161.3 654.0,162.0Z" fill="#f6f6fa"/>
<path d="M642.5,269.0C646.2,265.2 646.2,266.1 655.0,266.5C663.8,266.9 664.6,266.1 668.8,270.2C672.9,274.4 672.9,275.7 667.5,279.0C662.1,282.3 660.4,280.7 652.5,280.2C644.6,279.8 647.1,281.5 643.8,277.8C640.4,274.0 638.8,272.8 642.5,269.0Z" fill="#dcdcf8"/>
<path d="M713.5,269.0C713.5,270.5 713.6,270.0 713.0,271.2C712.4,272.5 712.8,272.1 711.8,272.9C710.7,273.6 711.2,273.5 710.0,273.5C708.8,273.5 709.3,273.6 708.2,272.9C707.2,272.1 707.6,272.5 707.0,271.2C706.4,270.0 706.5,270.5 706.5,269.0C706.5,267.5 706.4,268.0 707.0,266.8C707.6,265.5 707.2,265.9 708.2,265.1C709.3,264.4 708.8,264.5 710.0,264.5C711.2,264.5 710.7,264.4 711.8,265.1C712.8,265.9 712.4,265.5 713.0,266.8C713.6,268.0 713.5,267.5 713.5,269.0Z" fill="#f6f6fa"/>
<path d="M565.0,149.0C582.9,134.0 601.2,143.2 618.8,149.0C636.2,154.8 620.0,156.5 617.5,166.5C615.0,176.5 617.9,173.6 611.2,179.0C604.6,184.4 606.2,179.4 597.5,182.8C588.8,186.1 595.8,185.2 585.0,189.0C574.2,192.8 571.7,207.3 565.0,194.0C558.3,180.7 547.1,164.0 565.0,149.0Z" fill="#3a9bfe" stroke="rgba(196,194,186,0.92)" stroke-width="0.9"/>
<path d="M565.0,149.0C579.2,138.2 594.2,144.0 607.5,149.0C620.8,154.0 609.2,155.7 605.0,164.0C600.8,172.3 603.3,169.8 595.0,174.0C586.7,178.2 590.0,174.0 580.0,176.5C570.0,179.0 570.0,190.7 565.0,181.5C560.0,172.3 550.8,159.8 565.0,149.0Z" fill="#0a82fc" stroke="rgba(196,194,186,0.92)" stroke-width="0.9"/>
<path d="M670.0,149.0C636.7,154.0 665.8,154.8 667.5,164.0C669.2,173.2 668.3,170.7 675.0,176.5C681.7,182.3 685.8,176.5 687.5,181.5C689.2,186.5 679.2,185.7 680.0,191.5C680.8,197.3 683.3,194.0 690.0,199.0C696.7,204.0 693.3,201.9 700.0,206.5C706.7,211.1 703.3,211.5 710.0,212.8C716.7,214.0 718.3,207.3 720.0,210.2C721.7,213.2 717.5,212.8 715.0,221.5C712.5,230.2 711.7,225.7 712.5,236.5C713.3,247.3 711.7,244.0 717.5,254.0C723.3,264.0 720.8,260.7 730.0,266.5C739.2,272.3 732.5,269.8 745.0,271.5C757.5,273.2 760.0,312.3 767.5,271.5C775.0,230.7 800.0,189.8 767.5,149.0C735.0,108.2 703.3,144.0 670.0,149.0Z" fill="#3a9bfe" stroke="rgba(196,194,186,0.92)" stroke-width="0.9"/>
<path d="M741.2,207.8C741.2,209.6 741.5,208.9 740.1,210.5C738.6,212.1 739.4,211.6 736.9,212.5C734.3,213.4 735.4,213.2 732.5,213.2C729.6,213.2 730.7,213.4 728.1,212.5C725.6,211.6 726.4,212.1 724.9,210.5C723.5,208.9 723.8,209.6 723.8,207.8C723.8,205.9 723.5,206.6 724.9,205.0C726.4,203.4 725.6,203.9 728.1,203.0C730.7,202.1 729.6,202.2 732.5,202.2C735.4,202.2 734.3,202.1 736.9,203.0C739.4,203.9 738.6,203.4 740.1,205.0C741.5,206.6 741.2,205.9 741.2,207.8Z" fill="#7abcfe"/>
<path d="M696.2,149.0C675.8,154.0 698.8,154.7 706.2,164.0C713.8,173.3 710.4,169.3 718.8,177.0C727.1,184.7 722.1,180.5 731.2,187.0C740.4,193.5 734.2,191.8 746.2,196.5C758.3,201.2 760.4,216.8 767.5,201.0C774.6,185.2 791.2,166.3 767.5,149.0C743.8,131.7 716.7,144.0 696.2,149.0Z" fill="none" stroke="rgba(196,194,186,0.92)" stroke-width="27.6" stroke-linejoin="round"/>
<path d="M696.2,149.0C675.8,154.0 698.8,154.7 706.2,164.0C713.8,173.3 710.4,169.3 718.8,177.0C727.1,184.7 722.1,180.5 731.2,187.0C740.4,193.5 734.2,191.8 746.2,196.5C758.3,201.2 760.4,216.8 767.5,201.0C774.6,185.2 791.2,166.3 767.5,149.0C743.8,131.7 716.7,144.0 696.2,149.0Z" fill="none" stroke="#0a82fc" stroke-width="26.0" stroke-linejoin="round"/>
<path d="M696.2,149.0C675.8,154.0 698.8,154.7 706.2,164.0C713.8,173.3 710.4,169.3 718.8,177.0C727.1,184.7 722.1,180.5 731.2,187.0C740.4,193.5 734.2,191.8 746.2,196.5C758.3,201.2 760.4,216.8 767.5,201.0C774.6,185.2 791.2,166.3 767.5,149.0C743.8,131.7 716.7,144.0 696.2,149.0Z" fill="none" stroke="rgba(196,194,186,0.92)" stroke-width="24.1" stroke-linejoin="round"/>
<path d="M696.2,149.0C675.8,154.0 698.8,154.7 706.2,164.0C713.8,173.3 710.4,169.3 718.8,177.0C727.1,184.7 722.1,180.5 731.2,187.0C740.4,193.5 734.2,191.8 746.2,196.5C758.3,201.2 760.4,216.8 767.5,201.0C774.6,185.2 791.2,166.3 767.5,149.0C743.8,131.7 716.7,144.0 696.2,149.0Z" fill="none" stroke="#0a82fc" stroke-width="22.5" stroke-linejoin="round"/>
<path d="M696.2,149.0C675.8,154.0 698.8,154.7 706.2,164.0C713.8,173.3 710.4,169.3 718.8,177.0C727.1,184.7 722.1,180.5 731.2,187.0C740.4,193.5 734.2,191.8 746.2,196.5C758.3,201.2 760.4,216.8 767.5,201.0C774.6,185.2 791.2,166.3 767.5,149.0C743.8,131.7 716.7,144.0 696.2,149.0Z" fill="none" stroke="rgba(196,194,186,0.92)" stroke-width="20.6" stroke-linejoin="round"/>
<path d="M696.2,149.0C675.8,154.0 698.8,154.7 706.2,164.0C713.8,173.3 710.4,169.3 718.8,177.0C727.1,184.7 722.1,180.5 731.2,187.0C740.4,193.5 734.2,191.8 746.2,196.5C758.3,201.2 760.4,216.8 767.5,201.0C774.6,185.2 791.2,166.3 767.5,149.0C743.8,131.7 716.7,144.0 696.2,149.0Z" fill="none" stroke="#0068d6" stroke-width="19.0" stroke-linejoin="round"/>
<path d="M696.2,149.0C675.8,154.0 698.8,154.7 706.2,164.0C713.8,173.3 710.4,169.3 718.8,177.0C727.1,184.7 722.1,180.5 731.2,187.0C740.4,193.5 734.2,191.8 746.2,196.5C758.3,201.2 760.4,216.8 767.5,201.0C774.6,185.2 791.2,166.3 767.5,149.0C743.8,131.7 716.7,144.0 696.2,149.0Z" fill="none" stroke="rgba(196,194,186,0.92)" stroke-width="17.6" stroke-linejoin="round"/>
<path d="M696.2,149.0C675.8,154.0 698.8,154.7 706.2,164.0C713.8,173.3 710.4,169.3 718.8,177.0C727.1,184.7 722.1,180.5 731.2,187.0C740.4,193.5 734.2,191.8 746.2,196.5C758.3,201.2 760.4,216.8 767.5,201.0C774.6,185.2 791.2,166.3 767.5,149.0C743.8,131.7 716.7,144.0 696.2,149.0Z" fill="none" stroke="#0068d6" stroke-width="16.0" stroke-linejoin="round"/>
<path d="M696.2,149.0C675.8,154.0 698.8,154.7 706.2,164.0C713.8,173.3 710.4,169.3 718.8,177.0C727.1,184.7 722.1,180.5 731.2,187.0C740.4,193.5 734.2,191.8 746.2,196.5C758.3,201.2 760.4,216.8 767.5,201.0C774.6,185.2 791.2,166.3 767.5,149.0C743.8,131.7 716.7,144.0 696.2,149.0Z" fill="none" stroke="rgba(196,194,186,0.92)" stroke-width="14.6" stroke-linejoin="round"/>
<path d="M696.2,149.0C675.8,154.0 698.8,154.7 706.2,164.0C713.8,173.3 710.4,169.3 718.8,177.0C727.1,184.7 722.1,180.5 731.2,187.0C740.4,193.5 734.2,191.8 746.2,196.5C758.3,201.2 760.4,216.8 767.5,201.0C774.6,185.2 791.2,166.3 767.5,149.0C743.8,131.7 716.7,144.0 696.2,149.0Z" fill="none" stroke="#0055a6" stroke-width="13.0" stroke-linejoin="round"/>
<path d="M696.2,149.0C675.8,154.0 698.8,154.7 706.2,164.0C713.8,173.3 710.4,169.3 718.8,177.0C727.1,184.7 722.1,180.5 731.2,187.0C740.4,193.5 734.2,191.8 746.2,196.5C758.3,201.2 760.4,216.8 767.5,201.0C774.6,185.2 791.2,166.3 767.5,149.0C743.8,131.7 716.7,144.0 696.2,149.0Z" fill="none" stroke="rgba(196,194,186,0.92)" stroke-width="11.6" stroke-linejoin="round"/>
<path d="M696.2,149.0C675.8,154.0 698.8,154.7 706.2,164.0C713.8,173.3 710.4,169.3 718.8,177.0C727.1,184.7 722.1,180.5 731.2,187.0C740.4,193.5 734.2,191.8 746.2,196.5C758.3,201.2 760.4,216.8 767.5,201.0C774.6,185.2 791.2,166.3 767.5,149.0C743.8,131.7 716.7,144.0 696.2,149.0Z" fill="none" stroke="#0055a6" stroke-width="10.0" stroke-linejoin="round"/>
<path d="M696.2,149.0C675.8,154.0 698.8,154.7 706.2,164.0C713.8,173.3 710.4,169.3 718.8,177.0C727.1,184.7 722.1,180.5 731.2,187.0C740.4,193.5 734.2,191.8 746.2,196.5C758.3,201.2 760.4,216.8 767.5,201.0C774.6,185.2 791.2,166.3 767.5,149.0C743.8,131.7 716.7,144.0 696.2,149.0Z" fill="none" stroke="rgba(196,194,186,0.92)" stroke-width="8.6" stroke-linejoin="round"/>
<path d="M696.2,149.0C675.8,154.0 698.8,154.7 706.2,164.0C713.8,173.3 710.4,169.3 718.8,177.0C727.1,184.7 722.1,180.5 731.2,187.0C740.4,193.5 734.2,191.8 746.2,196.5C758.3,201.2 760.4,216.8 767.5,201.0C774.6,185.2 791.2,166.3 767.5,149.0C743.8,131.7 716.7,144.0 696.2,149.0Z" fill="none" stroke="#012f82" stroke-width="7.0" stroke-linejoin="round"/>
<path d="M696.2,149.0C675.8,154.0 698.8,154.7 706.2,164.0C713.8,173.3 710.4,169.3 718.8,177.0C727.1,184.7 722.1,180.5 731.2,187.0C740.4,193.5 734.2,191.8 746.2,196.5C758.3,201.2 760.4,216.8 767.5,201.0C774.6,185.2 791.2,166.3 767.5,149.0C743.8,131.7 716.7,144.0 696.2,149.0Z" fill="none" stroke="rgba(196,194,186,0.92)" stroke-width="5.1" stroke-linejoin="round"/>
<path d="M696.2,149.0C675.8,154.0 698.8,154.7 706.2,164.0C713.8,173.3 710.4,169.3 718.8,177.0C727.1,184.7 722.1,180.5 731.2,187.0C740.4,193.5 734.2,191.8 746.2,196.5C758.3,201.2 760.4,216.8 767.5,201.0C774.6,185.2 791.2,166.3 767.5,149.0C743.8,131.7 716.7,144.0 696.2,149.0Z" fill="none" stroke="#012f82" stroke-width="3.5" stroke-linejoin="round"/>
<path d="M696.2,149.0C675.8,154.0 698.8,154.7 706.2,164.0C713.8,173.3 710.4,169.3 718.8,177.0C727.1,184.7 722.1,180.5 731.2,187.0C740.4,193.5 734.2,191.8 746.2,196.5C758.3,201.2 760.4,216.8 767.5,201.0C774.6,185.2 791.2,166.3 767.5,149.0C743.8,131.7 716.7,144.0 696.2,149.0Z" fill="#4a0084" stroke="rgba(196,194,186,0.92)" stroke-width="0.9"/>
<path d="M720.0,149.0C705.8,154.0 720.0,154.8 725.0,164.0C730.0,173.2 726.7,169.8 735.0,176.5C743.3,183.2 739.2,180.7 750.0,184.0C760.8,187.3 761.7,198.2 767.5,186.5C773.3,174.8 783.3,161.5 767.5,149.0C751.7,136.5 734.2,144.0 720.0,149.0Z" fill="#680084" stroke="rgba(196,194,186,0.92)" stroke-width="0.9"/>
<clipPath id="r38"><path d="M720.0,149.0C705.8,154.0 720.0,154.8 725.0,164.0C730.0,173.2 726.7,169.8 735.0,176.5C743.3,183.2 739.2,180.7 750.0,184.0C760.8,187.3 761.7,198.2 767.5,186.5C773.3,174.8 783.3,161.5 767.5,149.0C751.7,136.5 734.2,144.0 720.0,149.0Z"/></clipPath><g clip-path="url(#r38)">
<path d="M720.0,149.0C705.8,154.0 720.0,154.8 725.0,164.0C730.0,173.2 726.7,169.8 735.0,176.5C743.3,183.2 739.2,180.7 750.0,184.0C760.8,187.3 761.7,198.2 767.5,186.5C773.3,174.8 783.3,161.5 767.5,149.0C751.7,136.5 734.2,144.0 720.0,149.0Z" fill="none" stroke="rgba(196,194,186,0.92)" stroke-width="7.7" stroke-linejoin="round"/>
<path d="M720.0,149.0C705.8,154.0 720.0,154.8 725.0,164.0C730.0,173.2 726.7,169.8 735.0,176.5C743.3,183.2 739.2,180.7 750.0,184.0C760.8,187.3 761.7,198.2 767.5,186.5C773.3,174.8 783.3,161.5 767.5,149.0C751.7,136.5 734.2,144.0 720.0,149.0Z" fill="none" stroke="#680084" stroke-width="6.0" stroke-linejoin="round"/>
</g>
<path d="M732.5,149.0C722.5,154.0 731.7,155.7 737.5,164.0C743.3,172.3 740.0,170.2 750.0,174.0C760.0,177.8 761.7,183.6 767.5,175.2C773.3,166.9 779.2,157.8 767.5,149.0C755.8,140.2 742.5,144.0 732.5,149.0Z" fill="#9200be" stroke="rgba(196,194,186,0.92)" stroke-width="0.9"/>
<path d="M753.8,154.0C753.8,155.0 753.9,154.6 753.1,155.5C752.2,156.4 752.7,156.1 751.2,156.6C749.8,157.1 750.4,157.0 748.8,157.0C747.1,157.0 747.7,157.1 746.2,156.6C744.8,156.1 745.3,156.4 744.4,155.5C743.6,154.6 743.8,155.0 743.8,154.0C743.8,153.0 743.6,153.4 744.4,152.5C745.3,151.6 744.8,151.9 746.2,151.4C747.7,150.9 747.1,151.0 748.8,151.0C750.4,151.0 749.8,150.9 751.2,151.4C752.7,151.9 752.2,151.6 753.1,152.5C753.9,153.4 753.8,153.0 753.8,154.0Z" fill="#bc00f2" stroke="rgba(196,194,186,0.92)" stroke-width="0.9"/>
<path d="M727.5,230.2C727.5,231.8 727.6,231.2 727.0,232.5C726.4,233.8 726.7,233.4 725.6,234.1C724.5,234.9 725.0,234.8 723.8,234.8C722.5,234.8 723.0,234.9 721.9,234.1C720.8,233.4 721.1,233.8 720.5,232.5C719.9,231.2 720.0,231.8 720.0,230.2C720.0,228.8 719.9,229.3 720.5,228.0C721.1,226.7 720.8,227.1 721.9,226.4C723.0,225.6 722.5,225.8 723.8,225.8C725.0,225.8 724.5,225.6 725.6,226.4C726.7,227.1 726.4,226.7 727.0,228.0C727.6,229.3 727.5,228.8 727.5,230.2Z" fill="none" stroke="rgba(196,194,186,0.92)" stroke-width="23.6" stroke-linejoin="round"/>
<path d="M727.5,230.2C727.5,231.8 727.6,231.2 727.0,232.5C726.4,233.8 726.7,233.4 725.6,234.1C724.5,234.9 725.0,234.8 723.8,234.8C722.5,234.8 723.0,234.9 721.9,234.1C720.8,233.4 721.1,233.8 720.5,232.5C719.9,231.2 720.0,231.8 720.0,230.2C720.0,228.8 719.9,229.3 720.5,228.0C721.1,226.7 720.8,227.1 721.9,226.4C723.0,225.6 722.5,225.8 723.8,225.8C725.0,225.8 724.5,225.6 725.6,226.4C726.7,227.1 726.4,226.7 727.0,228.0C727.6,229.3 727.5,228.8 727.5,230.2Z" fill="none" stroke="#3a9bfe" stroke-width="22.0" stroke-linejoin="round"/>
<path d="M727.5,230.2C727.5,231.8 727.6,231.2 727.0,232.5C726.4,233.8 726.7,233.4 725.6,234.1C724.5,234.9 725.0,234.8 723.8,234.8C722.5,234.8 723.0,234.9 721.9,234.1C720.8,233.4 721.1,233.8 720.5,232.5C719.9,231.2 720.0,231.8 720.0,230.2C720.0,228.8 719.9,229.3 720.5,228.0C721.1,226.7 720.8,227.1 721.9,226.4C723.0,225.6 722.5,225.8 723.8,225.8C725.0,225.8 724.5,225.6 725.6,226.4C726.7,227.1 726.4,226.7 727.0,228.0C727.6,229.3 727.5,228.8 727.5,230.2Z" fill="none" stroke="rgba(196,194,186,0.92)" stroke-width="20.1" stroke-linejoin="round"/>
<path d="M727.5,230.2C727.5,231.8 727.6,231.2 727.0,232.5C726.4,233.8 726.7,233.4 725.6,234.1C724.5,234.9 725.0,234.8 723.8,234.8C722.5,234.8 723.0,234.9 721.9,234.1C720.8,233.4 721.1,233.8 720.5,232.5C719.9,231.2 720.0,231.8 720.0,230.2C720.0,228.8 719.9,229.3 720.5,228.0C721.1,226.7 720.8,227.1 721.9,226.4C723.0,225.6 722.5,225.8 723.8,225.8C725.0,225.8 724.5,225.6 725.6,226.4C726.7,227.1 726.4,226.7 727.0,228.0C727.6,229.3 727.5,228.8 727.5,230.2Z" fill="none" stroke="#3a9bfe" stroke-width="18.5" stroke-linejoin="round"/>
<path d="M727.5,230.2C727.5,231.8 727.6,231.2 727.0,232.5C726.4,233.8 726.7,233.4 725.6,234.1C724.5,234.9 725.0,234.8 723.8,234.8C722.5,234.8 723.0,234.9 721.9,234.1C720.8,233.4 721.1,233.8 720.5,232.5C719.9,231.2 720.0,231.8 720.0,230.2C720.0,228.8 719.9,229.3 720.5,228.0C721.1,226.7 720.8,227.1 721.9,226.4C723.0,225.6 722.5,225.8 723.8,225.8C725.0,225.8 724.5,225.6 725.6,226.4C726.7,227.1 726.4,226.7 727.0,228.0C727.6,229.3 727.5,228.8 727.5,230.2Z" fill="none" stroke="rgba(196,194,186,0.92)" stroke-width="16.6" stroke-linejoin="round"/>
<path d="M727.5,230.2C727.5,231.8 727.6,231.2 727.0,232.5C726.4,233.8 726.7,233.4 725.6,234.1C724.5,234.9 725.0,234.8 723.8,234.8C722.5,234.8 723.0,234.9 721.9,234.1C720.8,233.4 721.1,233.8 720.5,232.5C719.9,231.2 720.0,231.8 720.0,230.2C720.0,228.8 719.9,229.3 720.5,228.0C721.1,226.7 720.8,227.1 721.9,226.4C723.0,225.6 722.5,225.8 723.8,225.8C725.0,225.8 724.5,225.6 725.6,226.4C726.7,227.1 726.4,226.7 727.0,228.0C727.6,229.3 727.5,228.8 727.5,230.2Z" fill="none" stroke="#0a82fc" stroke-width="15.0" stroke-linejoin="round"/>
<path d="M727.5,230.2C727.5,231.8 727.6,231.2 727.0,232.5C726.4,233.8 726.7,233.4 725.6,234.1C724.5,234.9 725.0,234.8 723.8,234.8C722.5,234.8 723.0,234.9 721.9,234.1C720.8,233.4 721.1,233.8 720.5,232.5C719.9,231.2 720.0,231.8 720.0,230.2C720.0,228.8 719.9,229.3 720.5,228.0C721.1,226.7 720.8,227.1 721.9,226.4C723.0,225.6 722.5,225.8 723.8,225.8C725.0,225.8 724.5,225.6 725.6,226.4C726.7,227.1 726.4,226.7 727.0,228.0C727.6,229.3 727.5,228.8 727.5,230.2Z" fill="none" stroke="rgba(196,194,186,0.92)" stroke-width="13.6" stroke-linejoin="round"/>
<path d="M727.5,230.2C727.5,231.8 727.6,231.2 727.0,232.5C726.4,233.8 726.7,233.4 725.6,234.1C724.5,234.9 725.0,234.8 723.8,234.8C722.5,234.8 723.0,234.9 721.9,234.1C720.8,233.4 721.1,233.8 720.5,232.5C719.9,231.2 720.0,231.8 720.0,230.2C720.0,228.8 719.9,229.3 720.5,228.0C721.1,226.7 720.8,227.1 721.9,226.4C723.0,225.6 722.5,225.8 723.8,225.8C725.0,225.8 724.5,225.6 725.6,226.4C726.7,227.1 726.4,226.7 727.0,228.0C727.6,229.3 727.5,228.8 727.5,230.2Z" fill="none" stroke="#0a82fc" stroke-width="12.0" stroke-linejoin="round"/>
<path d="M727.5,230.2C727.5,231.8 727.6,231.2 727.0,232.5C726.4,233.8 726.7,233.4 725.6,234.1C724.5,234.9 725.0,234.8 723.8,234.8C722.5,234.8 723.0,234.9 721.9,234.1C720.8,233.4 721.1,233.8 720.5,232.5C719.9,231.2 720.0,231.8 720.0,230.2C720.0,228.8 719.9,229.3 720.5,228.0C721.1,226.7 720.8,227.1 721.9,226.4C723.0,225.6 722.5,225.8 723.8,225.8C725.0,225.8 724.5,225.6 725.6,226.4C726.7,227.1 726.4,226.7 727.0,228.0C727.6,229.3 727.5,228.8 727.5,230.2Z" fill="none" stroke="rgba(196,194,186,0.92)" stroke-width="10.6" stroke-linejoin="round"/>
<path d="M727.5,230.2C727.5,231.8 727.6,231.2 727.0,232.5C726.4,233.8 726.7,233.4 725.6,234.1C724.5,234.9 725.0,234.8 723.8,234.8C722.5,234.8 723.0,234.9 721.9,234.1C720.8,233.4 721.1,233.8 720.5,232.5C719.9,231.2 720.0,231.8 720.0,230.2C720.0,228.8 719.9,229.3 720.5,228.0C721.1,226.7 720.8,227.1 721.9,226.4C723.0,225.6 722.5,225.8 723.8,225.8C725.0,225.8 724.5,225.6 725.6,226.4C726.7,227.1 726.4,226.7 727.0,228.0C727.6,229.3 727.5,228.8 727.5,230.2Z" fill="none" stroke="#0068d6" stroke-width="9.0" stroke-linejoin="round"/>
<path d="M727.5,230.2C727.5,231.8 727.6,231.2 727.0,232.5C726.4,233.8 726.7,233.4 725.6,234.1C724.5,234.9 725.0,234.8 723.8,234.8C722.5,234.8 723.0,234.9 721.9,234.1C720.8,233.4 721.1,233.8 720.5,232.5C719.9,231.2 720.0,231.8 720.0,230.2C720.0,228.8 719.9,229.3 720.5,228.0C721.1,226.7 720.8,227.1 721.9,226.4C723.0,225.6 722.5,225.8 723.8,225.8C725.0,225.8 724.5,225.6 725.6,226.4C726.7,227.1 726.4,226.7 727.0,228.0C727.6,229.3 727.5,228.8 727.5,230.2Z" fill="none" stroke="rgba(196,194,186,0.92)" stroke-width="5.6" stroke-linejoin="round"/>
<path d="M727.5,230.2C727.5,231.8 727.6,231.2 727.0,232.5C726.4,233.8 726.7,233.4 725.6,234.1C724.5,234.9 725.0,234.8 723.8,234.8C722.5,234.8 723.0,234.9 721.9,234.1C720.8,233.4 721.1,233.8 720.5,232.5C719.9,231.2 720.0,231.8 720.0,230.2C720.0,228.8 719.9,229.3 720.5,228.0C721.1,226.7 720.8,227.1 721.9,226.4C723.0,225.6 722.5,225.8 723.8,225.8C725.0,225.8 724.5,225.6 725.6,226.4C726.7,227.1 726.4,226.7 727.0,228.0C727.6,229.3 727.5,228.8 727.5,230.2Z" fill="none" stroke="#0055a6" stroke-width="4.0" stroke-linejoin="round"/>
<path d="M727.5,230.2C727.5,231.8 727.6,231.2 727.0,232.5C726.4,233.8 726.7,233.4 725.6,234.1C724.5,234.9 725.0,234.8 723.8,234.8C722.5,234.8 723.0,234.9 721.9,234.1C720.8,233.4 721.1,233.8 720.5,232.5C719.9,231.2 720.0,231.8 720.0,230.2C720.0,228.8 719.9,229.3 720.5,228.0C721.1,226.7 720.8,227.1 721.9,226.4C723.0,225.6 722.5,225.8 723.8,225.8C725.0,225.8 724.5,225.6 725.6,226.4C726.7,227.1 726.4,226.7 727.0,228.0C727.6,229.3 727.5,228.8 727.5,230.2Z" fill="#012f82" stroke="rgba(196,194,186,0.92)" stroke-width="0.9"/>
<path d="M746.2,262.0C746.2,263.0 746.5,262.6 745.4,263.5C744.4,264.4 744.9,264.1 743.1,264.6C741.3,265.1 742.1,265.0 740.0,265.0C737.9,265.0 738.7,265.1 736.9,264.6C735.1,264.1 735.6,264.4 734.6,263.5C733.5,262.6 733.8,263.0 733.8,262.0C733.8,261.0 733.5,261.4 734.6,260.5C735.6,259.6 735.1,259.9 736.9,259.4C738.7,258.9 737.9,259.0 740.0,259.0C742.1,259.0 741.3,258.9 743.1,259.4C744.9,259.9 744.4,259.6 745.4,260.5C746.5,261.4 746.2,261.0 746.2,262.0Z" fill="none" stroke="rgba(196,194,186,0.92)" stroke-width="18.6" stroke-linejoin="round"/>
<path d="M746.2,262.0C746.2,263.0 746.5,262.6 745.4,263.5C744.4,264.4 744.9,264.1 743.1,264.6C741.3,265.1 742.1,265.0 740.0,265.0C737.9,265.0 738.7,265.1 736.9,264.6C735.1,264.1 735.6,264.4 734.6,263.5C733.5,262.6 733.8,263.0 733.8,262.0C733.8,261.0 733.5,261.4 734.6,260.5C735.6,259.6 735.1,259.9 736.9,259.4C738.7,258.9 737.9,259.0 740.0,259.0C742.1,259.0 741.3,258.9 743.1,259.4C744.9,259.9 744.4,259.6 745.4,260.5C746.5,261.4 746.2,261.0 746.2,262.0Z" fill="none" stroke="#3a9bfe" stroke-width="17.0" stroke-linejoin="round"/>
<path d="M746.2,262.0C746.2,263.0 746.5,262.6 745.4,263.5C744.4,264.4 744.9,264.1 743.1,264.6C741.3,265.1 742.1,265.0 740.0,265.0C737.9,265.0 738.7,265.1 736.9,264.6C735.1,264.1 735.6,264.4 734.6,263.5C733.5,262.6 733.8,263.0 733.8,262.0C733.8,261.0 733.5,261.4 734.6,260.5C735.6,259.6 735.1,259.9 736.9,259.4C738.7,258.9 737.9,259.0 740.0,259.0C742.1,259.0 741.3,258.9 743.1,259.4C744.9,259.9 744.4,259.6 745.4,260.5C746.5,261.4 746.2,261.0 746.2,262.0Z" fill="none" stroke="rgba(196,194,186,0.92)" stroke-width="15.6" stroke-linejoin="round"/>
<path d="M746.2,262.0C746.2,263.0 746.5,262.6 745.4,263.5C744.4,264.4 744.9,264.1 743.1,264.6C741.3,265.1 742.1,265.0 740.0,265.0C737.9,265.0 738.7,265.1 736.9,264.6C735.1,264.1 735.6,264.4 734.6,263.5C733.5,262.6 733.8,263.0 733.8,262.0C733.8,261.0 733.5,261.4 734.6,260.5C735.6,259.6 735.1,259.9 736.9,259.4C738.7,258.9 737.9,259.0 740.0,259.0C742.1,259.0 741.3,258.9 743.1,259.4C744.9,259.9 744.4,259.6 745.4,260.5C746.5,261.4 746.2,261.0 746.2,262.0Z" fill="none" stroke="#3a9bfe" stroke-width="14.0" stroke-linejoin="round"/>
<path d="M746.2,262.0C746.2,263.0 746.5,262.6 745.4,263.5C744.4,264.4 744.9,264.1 743.1,264.6C741.3,265.1 742.1,265.0 740.0,265.0C737.9,265.0 738.7,265.1 736.9,264.6C735.1,264.1 735.6,264.4 734.6,263.5C733.5,262.6 733.8,263.0 733.8,262.0C733.8,261.0 733.5,261.4 734.6,260.5C735.6,259.6 735.1,259.9 736.9,259.4C738.7,258.9 737.9,259.0 740.0,259.0C742.1,259.0 741.3,258.9 743.1,259.4C744.9,259.9 744.4,259.6 745.4,260.5C746.5,261.4 746.2,261.0 746.2,262.0Z" fill="none" stroke="rgba(196,194,186,0.92)" stroke-width="12.6" stroke-linejoin="round"/>
<path d="M746.2,262.0C746.2,263.0 746.5,262.6 745.4,263.5C744.4,264.4 744.9,264.1 743.1,264.6C741.3,265.1 742.1,265.0 740.0,265.0C737.9,265.0 738.7,265.1 736.9,264.6C735.1,264.1 735.6,264.4 734.6,263.5C733.5,262.6 733.8,263.0 733.8,262.0C733.8,261.0 733.5,261.4 734.6,260.5C735.6,259.6 735.1,259.9 736.9,259.4C738.7,258.9 737.9,259.0 740.0,259.0C742.1,259.0 741.3,258.9 743.1,259.4C744.9,259.9 744.4,259.6 745.4,260.5C746.5,261.4 746.2,261.0 746.2,262.0Z" fill="none" stroke="#0a82fc" stroke-width="11.0" stroke-linejoin="round"/>
<path d="M746.2,262.0C746.2,263.0 746.5,262.6 745.4,263.5C744.4,264.4 744.9,264.1 743.1,264.6C741.3,265.1 742.1,265.0 740.0,265.0C737.9,265.0 738.7,265.1 736.9,264.6C735.1,264.1 735.6,264.4 734.6,263.5C733.5,262.6 733.8,263.0 733.8,262.0C733.8,261.0 733.5,261.4 734.6,260.5C735.6,259.6 735.1,259.9 736.9,259.4C738.7,258.9 737.9,259.0 740.0,259.0C742.1,259.0 741.3,258.9 743.1,259.4C744.9,259.9 744.4,259.6 745.4,260.5C746.5,261.4 746.2,261.0 746.2,262.0Z" fill="none" stroke="rgba(196,194,186,0.92)" stroke-width="9.6" stroke-linejoin="round"/>
<path d="M746.2,262.0C746.2,263.0 746.5,262.6 745.4,263.5C744.4,264.4 744.9,264.1 743.1,264.6C741.3,265.1 742.1,265.0 740.0,265.0C737.9,265.0 738.7,265.1 736.9,264.6C735.1,264.1 735.6,264.4 734.6,263.5C733.5,262.6 733.8,263.0 733.8,262.0C733.8,261.0 733.5,261.4 734.6,260.5C735.6,259.6 735.1,259.9 736.9,259.4C738.7,258.9 737.9,259.0 740.0,259.0C742.1,259.0 741.3,258.9 743.1,259.4C744.9,259.9 744.4,259.6 745.4,260.5C746.5,261.4 746.2,261.0 746.2,262.0Z" fill="none" stroke="#0a82fc" stroke-width="8.0" stroke-linejoin="round"/>
<path d="M746.2,262.0C746.2,263.0 746.5,262.6 745.4,263.5C744.4,264.4 744.9,264.1 743.1,264.6C741.3,265.1 742.1,265.0 740.0,265.0C737.9,265.0 738.7,265.1 736.9,264.6C735.1,264.1 735.6,264.4 734.6,263.5C733.5,262.6 733.8,263.0 733.8,262.0C733.8,261.0 733.5,261.4 734.6,260.5C735.6,259.6 735.1,259.9 736.9,259.4C738.7,258.9 737.9,259.0 740.0,259.0C742.1,259.0 741.3,258.9 743.1,259.4C744.9,259.9 744.4,259.6 745.4,260.5C746.5,261.4 746.2,261.0 746.2,262.0Z" fill="none" stroke="rgba(196,194,186,0.92)" stroke-width="6.6" stroke-linejoin="round"/>
<path d="M746.2,262.0C746.2,263.0 746.5,262.6 745.4,263.5C744.4,264.4 744.9,264.1 743.1,264.6C741.3,265.1 742.1,265.0 740.0,265.0C737.9,265.0 738.7,265.1 736.9,264.6C735.1,264.1 735.6,264.4 734.6,263.5C733.5,262.6 733.8,263.0 733.8,262.0C733.8,261.0 733.5,261.4 734.6,260.5C735.6,259.6 735.1,259.9 736.9,259.4C738.7,258.9 737.9,259.0 740.0,259.0C742.1,259.0 741.3,258.9 743.1,259.4C744.9,259.9 744.4,259.6 745.4,260.5C746.5,261.4 746.2,261.0 746.2,262.0Z" fill="none" stroke="#0068d6" stroke-width="5.0" stroke-linejoin="round"/>
<path d="M746.2,262.0C746.2,263.0 746.5,262.6 745.4,263.5C744.4,264.4 744.9,264.1 743.1,264.6C741.3,265.1 742.1,265.0 740.0,265.0C737.9,265.0 738.7,265.1 736.9,264.6C735.1,264.1 735.6,264.4 734.6,263.5C733.5,262.6 733.8,263.0 733.8,262.0C733.8,261.0 733.5,261.4 734.6,260.5C735.6,259.6 735.1,259.9 736.9,259.4C738.7,258.9 737.9,259.0 740.0,259.0C742.1,259.0 741.3,258.9 743.1,259.4C744.9,259.9 744.4,259.6 745.4,260.5C746.5,261.4 746.2,261.0 746.2,262.0Z" fill="#0055a6" stroke="rgba(196,194,186,0.92)" stroke-width="0.9"/>
<path d="M737.5,316.5C728.3,310.7 736.7,307.8 740.0,299.0C743.3,290.2 738.3,293.6 747.5,290.2C756.7,286.9 760.8,280.2 767.5,289.0C774.2,297.8 777.5,307.3 767.5,316.5C757.5,325.7 746.7,322.3 737.5,316.5Z" fill="#7abcfe"/>
<path d="M745.0,316.5C738.3,311.5 743.3,308.2 747.5,301.5C751.7,294.8 750.8,298.2 757.5,296.5C764.2,294.8 764.2,289.8 767.5,296.5C770.8,303.2 775.0,309.8 767.5,316.5C760.0,323.2 751.7,321.5 745.0,316.5Z" fill="#3a9bfe"/>
</g>
<g clip-path="url(#c32)">
<rect x="570" y="308" width="190" height="154" fill="#f6f6fa"/>
<path d="M665.0,303.0C630.4,309.7 667.9,312.6 663.8,323.0C659.6,333.4 657.8,326.8 652.5,334.2C647.2,341.8 648.4,337.6 648.0,345.5C647.6,353.4 643.9,352.8 651.2,358.0C658.6,363.2 659.2,358.3 670.0,361.0C680.8,363.7 677.1,361.2 683.8,366.0C690.4,370.8 687.9,368.2 690.0,375.5C692.1,382.8 686.7,381.3 690.0,388.0C693.3,394.7 692.5,393.8 700.0,395.5C707.5,397.2 705.8,396.3 712.5,393.0C719.2,389.7 713.3,387.6 720.0,385.5C726.7,383.4 725.0,384.2 732.5,386.8C740.0,389.2 736.7,394.2 742.5,393.0C748.3,391.8 744.2,387.2 750.0,383.0C755.8,378.8 754.2,381.3 760.0,380.5C765.8,379.7 765.0,406.3 767.5,380.5C770.0,354.7 801.7,328.8 767.5,303.0C733.3,277.2 699.6,296.3 665.0,303.0Z" fill="#dcdcf8"/>
<path d="M740.0,330.5C743.8,328.8 744.6,330.5 750.0,335.5C755.4,340.5 755.4,339.7 756.2,345.5C757.1,351.3 756.2,352.2 752.5,353.0C748.8,353.8 749.6,352.2 745.0,348.0C740.4,343.8 740.4,346.3 738.8,340.5C737.1,334.7 736.2,332.2 740.0,330.5Z" fill="#f6f6fa"/>
<path d="M633.8,360.5C636.2,348.4 636.2,355.1 642.5,356.8C648.8,358.4 645.8,358.4 652.5,365.5C659.2,372.6 658.8,369.7 662.5,378.0C666.2,386.3 666.2,383.4 663.8,390.5C661.2,397.6 662.1,395.9 655.0,399.2C647.9,402.6 649.2,402.6 642.5,400.5C635.8,398.4 637.9,406.3 635.0,393.0C632.1,379.7 631.2,372.6 633.8,360.5Z" fill="#dcdcf8"/>
<path d="M635.0,408.0C638.8,402.6 633.3,404.2 645.0,401.8C656.7,399.2 656.7,401.8 670.0,400.5C683.3,399.2 679.2,395.5 685.0,398.0C690.8,400.5 687.1,399.7 687.5,408.0C687.9,416.3 688.8,415.1 686.2,423.0C683.8,430.9 691.2,429.2 680.0,431.8C668.8,434.2 665.8,431.8 652.5,430.5C639.2,429.2 646.2,432.2 640.0,428.0C633.8,423.8 635.4,424.7 633.8,418.0C632.1,411.3 631.2,413.4 635.0,408.0Z" fill="#dcdcf8"/>
<path d="M711.2,431.8C711.2,435.9 711.5,434.4 710.1,438.0C708.6,441.6 709.4,440.5 706.9,442.6C704.3,444.7 705.4,444.2 702.5,444.2C699.6,444.2 700.7,444.7 698.1,442.6C695.6,440.5 696.4,441.6 694.9,438.0C693.5,434.4 693.8,435.9 693.8,431.8C693.8,427.6 693.5,429.1 694.9,425.5C696.4,421.9 695.6,423.0 698.1,420.9C700.7,418.8 699.6,419.2 702.5,419.2C705.4,419.2 704.3,418.8 706.9,420.9C709.4,423.0 708.6,421.9 710.1,425.5C711.5,429.1 711.2,427.6 711.2,431.8Z" fill="#dcdcf8"/>
<path d="M658.8,448.0 L668.8,448.0 L663.8,455.5Z" fill="#dcdcf8"/>
<path d="M740.0,401.8C740.0,406.8 740.4,404.9 738.2,409.2C735.9,413.6 737.1,412.2 733.1,414.7C729.2,417.2 730.8,416.8 726.2,416.8C721.7,416.8 723.3,417.2 719.4,414.7C715.4,412.2 716.6,413.6 714.3,409.2C712.1,404.9 712.5,406.8 712.5,401.8C712.5,396.8 712.1,398.6 714.3,394.2C716.6,389.9 715.4,391.3 719.4,388.8C723.3,386.3 721.7,386.8 726.2,386.8C730.8,386.8 729.2,386.3 733.1,388.8C737.1,391.3 735.9,389.9 738.2,394.2C740.4,398.6 740.0,396.8 740.0,401.8Z" fill="#dcdcf8"/>
<path d="M676.0,336.0C676.0,338.3 676.1,337.5 675.6,339.5C675.1,341.5 675.4,340.9 674.5,342.1C673.6,343.2 674.0,343.0 673.0,343.0C672.0,343.0 672.4,343.2 671.5,342.1C670.6,340.9 670.9,341.5 670.4,339.5C669.9,337.5 670.0,338.3 670.0,336.0C670.0,333.7 669.9,334.5 670.4,332.5C670.9,330.5 670.6,331.1 671.5,329.9C672.4,328.8 672.0,329.0 673.0,329.0C674.0,329.0 673.6,328.8 674.5,329.9C675.4,331.1 675.1,330.5 675.6,332.5C676.1,334.5 676.0,333.7 676.0,336.0Z" fill="#a9a9cb"/>
<path d="M636.2,365.5C638.5,355.1 638.3,358.4 643.8,359.2C649.2,360.1 646.7,361.3 652.5,368.0C658.3,374.7 658.3,371.8 661.2,379.2C664.2,386.8 663.8,384.2 661.2,390.5C658.8,396.8 660.0,395.5 653.8,398.0C647.5,400.5 648.1,400.5 642.5,398.0C636.9,395.5 639.1,401.3 637.0,390.5C634.9,379.7 634.0,375.9 636.2,365.5Z" fill="#a9a9cb"/>
<path d="M638.8,409.2C642.2,404.7 637.1,406.3 647.5,404.2C657.9,402.2 657.9,403.0 670.0,403.0C682.1,403.0 678.9,398.4 683.8,404.2C688.6,410.1 686.6,412.6 684.5,420.5C682.4,428.4 688.2,425.5 677.5,428.0C666.8,430.5 664.6,428.8 652.5,428.0C640.4,427.2 646.4,428.8 641.2,425.5C636.1,422.2 637.8,423.4 637.0,418.0C636.2,412.6 635.2,413.8 638.8,409.2Z" fill="#a9a9cb"/>
<path d="M709.2,384.2C709.2,388.0 709.5,386.6 708.3,389.9C707.2,393.1 707.8,392.1 705.9,394.0C703.9,395.9 704.8,395.5 702.5,395.5C700.2,395.5 701.1,395.9 699.1,394.0C697.2,392.1 697.8,393.1 696.7,389.9C695.5,386.6 695.8,388.0 695.8,384.2C695.8,380.5 695.5,381.9 696.7,378.6C697.8,375.4 697.2,376.4 699.1,374.5C701.1,372.6 700.2,373.0 702.5,373.0C704.8,373.0 703.9,372.6 705.9,374.5C707.8,376.4 707.2,375.4 708.3,378.6C709.5,381.9 709.2,380.5 709.2,384.2Z" fill="#a9a9cb"/>
<path d="M708.0,431.8C708.0,434.9 708.2,433.8 707.3,436.5C706.3,439.2 706.8,438.4 705.2,440.0C703.7,441.6 704.3,441.2 702.5,441.2C700.7,441.2 701.3,441.6 699.8,440.0C698.2,438.4 698.7,439.2 697.7,436.5C696.8,433.8 697.0,434.9 697.0,431.8C697.0,428.6 696.8,429.7 697.7,427.0C698.7,424.3 698.2,425.1 699.8,423.5C701.3,421.9 700.7,422.2 702.5,422.2C704.3,422.2 703.7,421.9 705.2,423.5C706.8,425.1 706.3,424.3 707.3,427.0C708.2,429.7 708.0,428.6 708.0,431.8Z" fill="#a9a9cb"/>
<path d="M737.5,400.5C737.5,403.4 737.8,402.3 736.2,404.9C734.5,407.4 735.4,406.6 732.5,408.1C729.6,409.5 730.8,409.2 727.5,409.2C724.2,409.2 725.4,409.5 722.5,408.1C719.6,406.6 720.5,407.4 718.8,404.9C717.2,402.3 717.5,403.4 717.5,400.5C717.5,397.6 717.2,398.7 718.8,396.1C720.5,393.6 719.6,394.4 722.5,392.9C725.4,391.5 724.2,391.8 727.5,391.8C730.8,391.8 729.6,391.5 732.5,392.9C735.4,394.4 734.5,393.6 736.2,396.1C737.8,398.7 737.5,397.6 737.5,400.5Z" fill="#a9a9cb"/>
<path d="M735.0,303.0C729.2,306.3 734.2,309.2 740.0,313.0C745.8,316.8 746.7,317.6 752.5,314.2C758.3,310.9 763.3,306.8 757.5,303.0C751.7,299.2 740.8,299.7 735.0,303.0Z" fill="#a9a9cb"/>
<path d="M638.8,370.5C641.1,364.2 640.4,363.4 645.0,364.2C649.6,365.1 647.9,366.8 652.5,373.0C657.1,379.2 657.1,376.8 658.8,383.0C660.4,389.2 660.4,387.6 657.5,391.8C654.6,395.9 655.4,395.1 650.0,395.5C644.6,395.9 645.2,397.2 641.2,393.0C637.2,388.8 638.8,390.5 638.0,383.0C637.2,375.5 636.4,376.8 638.8,370.5Z" fill="#7abcfe"/>
<path d="M705.5,385.0C705.5,387.1 705.6,386.3 705.1,388.1C704.6,389.9 704.9,389.4 704.0,390.4C703.1,391.5 703.5,391.2 702.5,391.2C701.5,391.2 701.9,391.5 701.0,390.4C700.1,389.4 700.4,389.9 699.9,388.1C699.4,386.3 699.5,387.1 699.5,385.0C699.5,382.9 699.4,383.7 699.9,381.9C700.4,380.1 700.1,380.6 701.0,379.6C701.9,378.5 701.5,378.8 702.5,378.8C703.5,378.8 703.1,378.5 704.0,379.6C704.9,380.6 704.6,380.1 705.1,381.9C705.6,383.7 705.5,382.9 705.5,385.0Z" fill="#7abcfe"/>
<path d="M704.5,431.8C704.5,433.2 704.6,432.7 704.2,434.0C703.9,435.3 704.1,434.9 703.5,435.6C702.9,436.4 703.2,436.2 702.5,436.2C701.8,436.2 702.1,436.4 701.5,435.6C700.9,434.9 701.1,435.3 700.8,434.0C700.4,432.7 700.5,433.2 700.5,431.8C700.5,430.2 700.4,430.8 700.8,429.5C701.1,428.2 700.9,428.6 701.5,427.9C702.1,427.1 701.8,427.2 702.5,427.2C703.2,427.2 702.9,427.1 703.5,427.9C704.1,428.6 703.9,428.2 704.2,429.5C704.6,430.8 704.5,430.2 704.5,431.8Z" fill="#7abcfe"/>
<path d="M642.5,413.0C645.0,408.0 643.3,409.2 652.5,406.8C661.7,404.2 660.4,405.1 670.0,405.5C679.6,405.9 677.2,403.4 681.2,408.0C685.2,412.6 684.1,413.4 682.0,419.2C679.9,425.1 684.0,423.4 675.0,425.5C666.0,427.6 665.0,426.8 655.0,425.5C645.0,424.2 649.2,425.9 645.0,421.8C640.8,417.6 640.0,418.0 642.5,413.0Z" fill="#7abcfe"/>
<path d="M653.1,378.3C654.4,381.8 654.1,380.4 654.2,383.9C654.3,387.3 654.5,386.1 653.4,388.5C652.3,390.9 652.9,390.3 650.8,391.1C648.8,391.8 649.7,391.9 647.3,390.8C644.9,389.6 645.8,390.4 643.6,387.7C641.5,385.0 642.2,386.2 640.9,382.7C639.6,379.2 639.9,380.6 639.8,377.1C639.7,373.7 639.5,374.9 640.6,372.5C641.7,370.1 641.1,370.7 643.2,369.9C645.2,369.2 644.3,369.1 646.7,370.2C649.1,371.4 648.2,370.6 650.4,373.3C652.5,376.0 651.8,374.8 653.1,378.3Z" fill="#3a9bfe" stroke="rgba(196,194,186,0.92)" stroke-width="0.9"/>
<path d="M650.0,414.2C650.0,409.2 650.8,410.2 657.5,408.0C664.2,405.8 662.7,406.7 670.0,407.5C677.3,408.3 676.2,406.6 679.5,410.5C682.8,414.4 682.3,414.9 680.0,419.2C677.7,423.6 680.0,422.2 672.5,423.5C665.0,424.8 665.0,426.1 657.5,423.0C650.0,419.9 650.0,419.2 650.0,414.2Z" fill="#3a9bfe" stroke="rgba(196,194,186,0.92)" stroke-width="0.9"/>
<path d="M653.0,381.5C653.8,383.7 653.6,382.8 653.6,385.0C653.6,387.1 653.8,386.4 652.9,387.9C652.1,389.5 652.6,389.1 651.1,389.6C649.7,390.1 650.3,390.1 648.7,389.5C647.1,388.8 647.7,389.3 646.3,387.6C644.9,386.0 645.3,386.7 644.5,384.5C643.7,382.3 643.9,383.2 643.9,381.0C643.9,378.9 643.7,379.6 644.6,378.1C645.4,376.5 644.9,376.9 646.4,376.4C647.8,375.9 647.2,375.9 648.8,376.5C650.4,377.2 649.8,376.7 651.2,378.4C652.6,380.0 652.2,379.3 653.0,381.5Z" fill="#0a82fc" stroke="rgba(196,194,186,0.92)" stroke-width="0.9"/>
<path d="M678.2,415.5C678.2,417.6 678.6,416.8 676.6,418.6C674.6,420.4 675.7,419.9 672.2,420.9C668.8,422.0 670.2,421.8 666.2,421.8C662.2,421.8 663.7,422.0 660.2,420.9C656.8,419.9 657.9,420.4 655.9,418.6C653.9,416.8 654.2,417.6 654.2,415.5C654.2,413.4 653.9,414.2 655.9,412.4C657.9,410.6 656.8,411.1 660.2,410.1C663.7,409.0 662.2,409.2 666.2,409.2C670.2,409.2 668.8,409.0 672.2,410.1C675.7,411.1 674.6,410.6 676.6,412.4C678.6,414.2 678.2,413.4 678.2,415.5Z" fill="#0a82fc" stroke="rgba(196,194,186,0.92)" stroke-width="0.9"/>
<path d="M652.8,384.2C652.8,385.5 652.8,385.0 652.4,386.1C651.9,387.2 652.2,386.9 651.4,387.5C650.6,388.1 650.9,388.0 650.0,388.0C649.1,388.0 649.4,388.1 648.6,387.5C647.8,386.9 648.1,387.2 647.6,386.1C647.2,385.0 647.2,385.5 647.2,384.2C647.2,383.0 647.2,383.5 647.6,382.4C648.1,381.3 647.8,381.6 648.6,381.0C649.4,380.4 649.1,380.5 650.0,380.5C650.9,380.5 650.6,380.4 651.4,381.0C652.2,381.6 651.9,381.3 652.4,382.4C652.8,383.5 652.8,383.0 652.8,384.2Z" fill="#0068d6" stroke="rgba(196,194,186,0.92)" stroke-width="0.9"/>
<path d="M676.2,416.0C676.2,417.4 676.5,416.9 675.1,418.1C673.6,419.4 674.4,419.0 671.9,419.7C669.3,420.4 670.4,420.2 667.5,420.2C664.6,420.2 665.7,420.4 663.1,419.7C660.6,419.0 661.4,419.4 659.9,418.1C658.5,416.9 658.8,417.4 658.8,416.0C658.8,414.6 658.5,415.1 659.9,413.9C661.4,412.6 660.6,413.0 663.1,412.3C665.7,411.6 664.6,411.8 667.5,411.8C670.4,411.8 669.3,411.6 671.9,412.3C674.4,413.0 673.6,412.6 675.1,413.9C676.5,415.1 676.2,414.6 676.2,416.0Z" fill="#0068d6" stroke="rgba(196,194,186,0.92)" stroke-width="0.9"/>
<path d="M673.5,416.5C673.5,417.3 673.7,417.0 672.8,417.8C671.8,418.5 672.3,418.2 670.8,418.7C669.2,419.1 669.8,419.0 668.0,419.0C666.2,419.0 666.8,419.1 665.2,418.7C663.7,418.2 664.2,418.5 663.2,417.8C662.3,417.0 662.5,417.3 662.5,416.5C662.5,415.7 662.3,416.0 663.2,415.2C664.2,414.5 663.7,414.8 665.2,414.3C666.8,413.9 666.2,414.0 668.0,414.0C669.8,414.0 669.2,413.9 670.8,414.3C672.3,414.8 671.8,414.5 672.8,415.2C673.7,416.0 673.5,415.7 673.5,416.5Z" fill="#0055a6" stroke="rgba(196,194,186,0.92)" stroke-width="0.9"/>
</g>
<g clip-path="url(#c33)">
<rect x="570" y="462" width="190" height="154" fill="#f6f6fa"/>
<path d="M725.0,492.0C728.3,486.6 732.5,486.2 740.0,487.0C747.5,487.8 747.5,489.5 747.5,494.5C747.5,499.5 745.8,499.1 740.0,502.0C734.2,504.9 735.0,506.6 730.0,503.2C725.0,499.9 721.7,497.4 725.0,492.0Z" fill="#dcdcf8"/>
<path d="M641.2,519.5C642.5,514.1 644.8,514.1 647.5,518.2C650.2,522.4 650.8,526.6 649.5,532.0C648.2,537.4 646.5,538.7 643.8,534.5C641.0,530.3 640.0,524.9 641.2,519.5Z" fill="#dcdcf8"/>
<path d="M687.5,519.5C690.0,510.3 691.7,509.5 697.5,507.0C703.3,504.5 704.2,503.7 705.0,512.0C705.8,520.3 705.0,524.5 700.0,532.0C695.0,539.5 694.2,538.7 690.0,534.5C685.8,530.3 685.0,528.7 687.5,519.5Z" fill="#dcdcf8"/>
<path d="M626.2,547.0C629.6,542.0 627.9,546.2 635.0,542.0C642.1,537.8 640.8,539.3 647.5,534.5C654.2,529.7 647.5,530.2 655.0,527.5C662.5,524.8 661.7,524.2 670.0,526.5C678.3,528.8 674.2,528.5 680.0,534.5C685.8,540.5 683.3,538.7 687.5,544.5C691.7,550.3 692.5,546.2 692.5,552.0C692.5,557.8 691.7,557.0 687.5,562.0C683.3,567.0 682.1,561.2 680.0,567.0C677.9,572.8 683.8,572.0 681.2,579.5C678.8,587.0 679.6,585.3 672.5,589.5C665.4,593.7 666.7,587.8 660.0,592.0C653.3,596.2 658.3,597.0 652.5,602.0C646.7,607.0 647.5,599.5 642.5,607.0C637.5,614.5 650.0,618.7 637.5,624.5C625.0,630.3 615.0,632.0 605.0,624.5C595.0,617.0 603.3,613.7 607.5,602.0C611.7,590.3 610.8,594.5 617.5,589.5C624.2,584.5 625.0,592.0 627.5,587.0C630.0,582.0 625.8,584.5 625.0,574.5C624.2,564.5 624.6,566.2 625.0,557.0C625.4,547.8 622.9,552.0 626.2,547.0Z" fill="#a9a9cb"/>
<path d="M628.8,549.5C631.9,543.7 630.4,548.7 637.5,544.5C644.6,540.3 643.8,541.6 650.0,537.0C656.2,532.4 649.6,533.2 656.2,530.8C662.9,528.2 662.9,527.4 670.0,529.5C677.1,531.6 672.9,531.6 677.5,537.0C682.1,542.4 681.2,539.1 683.8,545.8C686.2,552.4 687.1,550.8 685.0,557.0C682.9,563.2 680.0,557.8 677.5,564.5C675.0,571.2 680.0,569.9 677.5,577.0C675.0,584.1 676.7,582.0 670.0,585.8C663.3,589.5 664.2,584.1 657.5,588.2C650.8,592.4 655.8,592.8 650.0,598.2C644.2,603.7 645.0,595.8 640.0,604.5C635.0,613.2 640.0,617.8 635.0,624.5C630.0,631.2 627.5,632.0 625.0,624.5C622.5,617.0 625.0,613.7 627.5,602.0C630.0,590.3 631.7,597.0 632.5,589.5C633.3,582.0 631.5,588.7 630.0,579.5C628.5,570.3 628.4,572.0 628.0,562.0C627.6,552.0 625.6,555.3 628.8,549.5Z" fill="#7abcfe"/>
<path d="M632.5,552.0C636.2,546.6 635.4,550.3 642.5,545.8C649.6,541.2 645.0,542.4 653.8,538.2C662.5,534.1 661.7,532.8 668.8,533.2C675.8,533.7 671.2,534.5 675.0,539.5C678.8,544.5 678.3,542.0 680.0,548.2C681.7,554.5 682.1,552.8 680.0,558.2C677.9,563.7 676.2,559.1 673.8,564.5C671.2,569.9 675.4,568.7 672.5,574.5C669.6,580.3 670.8,578.7 665.0,582.0C659.2,585.3 660.8,581.2 655.0,584.5C649.2,587.8 652.5,587.8 647.5,592.0C642.5,596.2 643.8,598.7 640.0,597.0C636.2,595.3 638.8,594.5 636.2,587.0C633.8,579.5 634.2,582.8 632.5,574.5C630.8,566.2 631.2,569.5 631.2,562.0C631.2,554.5 628.8,557.4 632.5,552.0Z" fill="#3a9bfe" stroke="rgba(196,194,186,0.92)" stroke-width="0.9"/>
<path d="M635.5,555.8C637.6,547.0 638.1,552.4 645.0,548.2C651.9,544.1 648.8,546.2 656.2,543.2C663.8,540.3 661.2,538.7 667.5,539.5C673.8,540.3 671.5,540.8 675.0,545.8C678.5,550.8 678.8,549.1 678.0,554.5C677.2,559.9 676.8,557.4 672.5,562.0C668.2,566.6 670.4,564.1 665.0,568.2C659.6,572.4 662.9,570.8 656.2,574.5C649.6,578.2 650.8,579.5 645.0,579.5C639.2,579.5 641.9,582.4 638.8,574.5C635.6,566.6 633.4,564.5 635.5,555.8Z" fill="#0068d6" stroke="rgba(196,194,186,0.92)" stroke-width="0.9"/>
<path d="M638.8,558.2C640.8,552.0 641.2,555.8 647.5,552.0C653.8,548.2 650.8,549.9 657.5,547.0C664.2,544.1 662.3,542.8 667.5,543.2C672.7,543.7 670.5,544.3 673.0,548.2C675.5,552.2 676.0,550.8 675.0,555.0C674.0,559.2 674.2,557.2 670.0,560.8C665.8,564.3 667.5,562.4 662.5,565.8C657.5,569.1 660.4,567.8 655.0,570.8C649.6,573.7 650.8,574.5 646.2,574.5C641.7,574.5 643.8,576.2 641.2,570.8C638.8,565.3 636.7,564.5 638.8,558.2Z" fill="#012f82" stroke="rgba(196,194,186,0.92)" stroke-width="0.9"/>
<path d="M674.5,557.0C674.5,560.5 674.8,559.2 673.2,562.2C671.6,565.3 672.5,564.3 669.8,566.1C667.0,567.8 668.2,567.5 665.0,567.5C661.8,567.5 663.0,567.8 660.2,566.1C657.5,564.3 658.4,565.3 656.8,562.2C655.2,559.2 655.5,560.5 655.5,557.0C655.5,553.5 655.2,554.8 656.8,551.8C658.4,548.7 657.5,549.7 660.2,547.9C663.0,546.2 661.8,546.5 665.0,546.5C668.2,546.5 667.0,546.2 669.8,547.9C672.5,549.7 671.6,548.7 673.2,551.8C674.8,554.8 674.5,553.5 674.5,557.0Z" fill="#4a0084" stroke="rgba(196,194,186,0.92)" stroke-width="0.9"/>
<path d="M670.8,557.0C670.8,559.3 671.0,558.5 669.9,560.5C668.9,562.5 669.4,561.9 667.6,563.1C665.8,564.2 666.6,564.0 664.5,564.0C662.4,564.0 663.2,564.2 661.4,563.1C659.6,561.9 660.1,562.5 659.1,560.5C658.0,558.5 658.2,559.3 658.2,557.0C658.2,554.7 658.0,555.5 659.1,553.5C660.1,551.5 659.6,552.1 661.4,550.9C663.2,549.8 662.4,550.0 664.5,550.0C666.6,550.0 665.8,549.8 667.6,550.9C669.4,552.1 668.9,551.5 669.9,553.5C671.0,555.5 670.8,554.7 670.8,557.0Z" fill="#680084" stroke="rgba(196,194,186,0.92)" stroke-width="0.9"/>
<path d="M666.8,557.0C666.8,558.1 666.8,557.7 666.3,558.6C665.8,559.6 666.1,559.3 665.2,559.8C664.4,560.4 664.8,560.2 663.8,560.2C662.8,560.2 663.1,560.4 662.2,559.8C661.4,559.3 661.7,559.6 661.2,558.6C660.7,557.7 660.8,558.1 660.8,557.0C660.8,555.9 660.7,556.3 661.2,555.4C661.7,554.4 661.4,554.7 662.2,554.2C663.1,553.6 662.8,553.8 663.8,553.8C664.8,553.8 664.4,553.6 665.2,554.2C666.1,554.7 665.8,554.4 666.3,555.4C666.8,556.3 666.8,555.9 666.8,557.0Z" fill="#9200be" stroke="rgba(196,194,186,0.92)" stroke-width="0.9"/>
<path d="M640.5,569.5C640.5,572.8 640.7,571.6 639.8,574.5C639.0,577.4 639.4,576.5 638.0,578.2C636.6,579.8 637.2,579.5 635.5,579.5C633.8,579.5 634.4,579.8 633.0,578.2C631.6,576.5 632.0,577.4 631.2,574.5C630.3,571.6 630.5,572.8 630.5,569.5C630.5,566.2 630.3,567.4 631.2,564.5C632.0,561.6 631.6,562.5 633.0,560.8C634.4,559.2 633.8,559.5 635.5,559.5C637.2,559.5 636.6,559.2 638.0,560.8C639.4,562.5 639.0,561.6 639.8,564.5C640.7,567.4 640.5,566.2 640.5,569.5Z" fill="#4a0084" stroke="rgba(196,194,186,0.92)" stroke-width="0.9"/>
<path d="M614.5,572.0C614.5,577.2 614.8,575.3 613.2,579.8C611.6,584.2 612.5,582.8 609.8,585.4C607.0,588.0 608.2,587.5 605.0,587.5C601.8,587.5 603.0,588.0 600.2,585.4C597.5,582.8 598.4,584.2 596.8,579.8C595.2,575.3 595.5,577.2 595.5,572.0C595.5,566.8 595.2,568.7 596.8,564.2C598.4,559.8 597.5,561.2 600.2,558.6C603.0,556.0 601.8,556.5 605.0,556.5C608.2,556.5 607.0,556.0 609.8,558.6C612.5,561.2 611.6,559.8 613.2,564.2C614.8,568.7 614.5,566.8 614.5,572.0Z" fill="#a9a9cb"/>
<path d="M612.0,572.0C612.0,576.0 612.2,574.5 611.1,578.0C609.9,581.5 610.5,580.4 608.5,582.4C606.5,584.4 607.3,584.0 605.0,584.0C602.7,584.0 603.5,584.4 601.5,582.4C599.5,580.4 600.1,581.5 598.9,578.0C597.8,574.5 598.0,576.0 598.0,572.0C598.0,568.0 597.8,569.5 598.9,566.0C600.1,562.5 599.5,563.6 601.5,561.6C603.5,559.6 602.7,560.0 605.0,560.0C607.3,560.0 606.5,559.6 608.5,561.6C610.5,563.6 609.9,562.5 611.1,566.0C612.2,569.5 612.0,568.0 612.0,572.0Z" fill="#7abcfe"/>
<path d="M609.2,572.0C609.2,574.5 609.4,573.6 608.7,575.8C608.1,577.9 608.5,577.2 607.4,578.5C606.3,579.7 606.8,579.5 605.5,579.5C604.2,579.5 604.7,579.7 603.6,578.5C602.5,577.2 602.9,577.9 602.3,575.8C601.6,573.6 601.8,574.5 601.8,572.0C601.8,569.5 601.6,570.4 602.3,568.2C602.9,566.1 602.5,566.8 603.6,565.5C604.7,564.3 604.2,564.5 605.5,564.5C606.8,564.5 606.3,564.3 607.4,565.5C608.5,566.8 608.1,566.1 608.7,568.2C609.4,570.4 609.2,569.5 609.2,572.0Z" fill="#3a9bfe" stroke="rgba(196,194,186,0.92)" stroke-width="0.9"/>
<path d="M626.8,598.2C626.8,601.8 627.1,600.5 625.3,603.5C623.6,606.5 624.5,605.6 621.5,607.3C618.5,609.1 619.8,608.8 616.2,608.8C612.8,608.8 614.0,609.1 611.0,607.3C608.0,605.6 608.9,606.5 607.2,603.5C605.4,600.5 605.8,601.8 605.8,598.2C605.8,594.8 605.4,596.0 607.2,593.0C608.9,590.0 608.0,590.9 611.0,589.2C614.0,587.4 612.8,587.8 616.2,587.8C619.8,587.8 618.5,587.4 621.5,589.2C624.5,590.9 623.6,590.0 625.3,593.0C627.1,596.0 626.8,594.8 626.8,598.2Z" fill="#a9a9cb"/>
<path d="M624.2,598.2C624.2,600.9 624.5,599.9 623.2,602.2C621.8,604.6 622.6,603.8 620.2,605.2C617.9,606.5 618.9,606.2 616.2,606.2C613.6,606.2 614.6,606.5 612.2,605.2C609.9,603.8 610.7,604.6 609.3,602.2C608.0,599.9 608.2,600.9 608.2,598.2C608.2,595.6 608.0,596.6 609.3,594.2C610.7,591.9 609.9,592.7 612.2,591.3C614.6,590.0 613.6,590.2 616.2,590.2C618.9,590.2 617.9,590.0 620.2,591.3C622.6,592.7 621.8,591.9 623.2,594.2C624.5,596.6 624.2,595.6 624.2,598.2Z" fill="#7abcfe"/>
<path d="M620.8,598.2C620.8,599.9 620.9,599.3 620.1,600.8C619.4,602.2 619.8,601.7 618.5,602.6C617.2,603.4 617.8,603.2 616.2,603.2C614.8,603.2 615.3,603.4 614.0,602.6C612.7,601.7 613.1,602.2 612.4,600.8C611.6,599.3 611.8,599.9 611.8,598.2C611.8,596.6 611.6,597.2 612.4,595.8C613.1,594.3 612.7,594.8 614.0,593.9C615.3,593.1 614.8,593.2 616.2,593.2C617.8,593.2 617.2,593.1 618.5,593.9C619.8,594.8 619.4,594.3 620.1,595.8C620.9,597.2 620.8,596.6 620.8,598.2Z" fill="#3a9bfe" stroke="rgba(196,194,186,0.92)" stroke-width="0.9"/>
<path d="M695.0,534.5C695.4,527.8 694.6,532.0 697.5,527.0C700.4,522.0 701.2,527.0 703.8,519.5C706.2,512.0 702.9,512.0 705.0,504.5C707.1,497.0 705.8,499.1 710.0,497.0C714.2,494.9 713.3,494.1 717.5,498.2C721.7,502.4 718.3,503.2 722.5,509.5C726.7,515.8 722.5,516.2 730.0,517.0C737.5,517.8 732.5,514.1 745.0,512.0C757.5,509.9 760.0,487.4 767.5,510.8C775.0,534.1 771.7,557.4 767.5,582.0C763.3,606.6 762.5,585.3 755.0,584.5C747.5,583.7 750.0,584.5 745.0,579.5C740.0,574.5 745.0,572.0 740.0,569.5C735.0,567.0 737.5,572.0 730.0,572.0C722.5,572.0 725.8,573.7 717.5,569.5C709.2,565.3 712.1,567.0 705.0,559.5C697.9,552.0 699.6,555.3 696.2,547.0C692.9,538.7 694.6,541.2 695.0,534.5Z" fill="#a9a9cb"/>
<path d="M697.5,535.8C697.9,530.2 697.1,533.2 700.0,529.0C702.9,524.8 703.9,530.6 706.2,523.2C708.6,515.9 705.3,514.5 707.0,507.0C708.7,499.5 707.9,502.4 711.2,500.8C714.6,499.1 713.9,498.2 717.0,502.0C720.1,505.8 716.2,506.0 720.5,512.0C724.8,518.0 721.8,519.0 730.0,520.0C738.2,521.0 732.5,517.0 745.0,515.0C757.5,513.0 760.0,494.2 767.5,514.0C775.0,533.8 771.7,552.7 767.5,574.5C763.3,596.3 761.7,580.3 755.0,579.5C748.3,578.7 751.7,576.6 747.5,572.0C743.3,567.4 748.3,567.0 742.5,565.8C736.7,564.5 737.9,568.2 730.0,568.2C722.1,568.2 726.2,569.7 718.8,565.8C711.2,561.8 714.2,563.2 707.5,556.5C700.8,549.8 702.1,552.7 698.8,545.8C695.4,538.8 697.1,541.3 697.5,535.8Z" fill="#7abcfe"/>
<path d="M716.5,508.2C716.5,510.2 716.6,509.5 716.0,511.2C715.3,513.0 715.7,512.4 714.5,513.4C713.3,514.4 713.8,514.2 712.5,514.2C711.2,514.2 711.7,514.4 710.5,513.4C709.3,512.4 709.7,513.0 709.0,511.2C708.4,509.5 708.5,510.2 708.5,508.2C708.5,506.2 708.4,507.0 709.0,505.2C709.7,503.5 709.3,504.1 710.5,503.1C711.7,502.1 711.2,502.2 712.5,502.2C713.8,502.2 713.3,502.1 714.5,503.1C715.7,504.1 715.3,503.5 716.0,505.2C716.6,507.0 716.5,506.2 716.5,508.2Z" fill="#3a9bfe" stroke="rgba(196,194,186,0.92)" stroke-width="0.9"/>
<path d="M700.0,537.0C700.8,532.0 698.3,533.7 705.0,529.5C711.7,525.3 710.8,527.2 720.0,524.5C729.2,521.8 722.5,523.6 732.5,521.5C742.5,519.4 738.3,519.3 750.0,518.2C761.7,517.2 761.7,502.0 767.5,518.2C773.3,534.5 771.7,549.1 767.5,567.0C763.3,584.9 762.5,572.8 755.0,572.0C747.5,571.2 753.3,567.0 745.0,564.5C736.7,562.0 738.3,565.3 730.0,564.5C721.7,563.7 726.7,566.2 720.0,562.0C713.3,557.8 715.8,557.8 710.0,552.0C704.2,546.2 705.8,549.5 702.5,544.5C699.2,539.5 699.2,542.0 700.0,537.0Z" fill="#3a9bfe" stroke="rgba(196,194,186,0.92)" stroke-width="0.9"/>
<path d="M703.0,535.8C703.0,530.5 703.5,533.3 710.0,530.0C716.5,526.7 713.8,528.2 722.5,525.8C731.2,523.2 726.2,524.6 736.2,522.5C746.2,520.4 742.1,520.5 752.5,519.5C762.9,518.5 762.5,509.9 767.5,519.5C772.5,529.1 771.7,538.7 767.5,548.2C763.3,557.8 763.3,549.1 755.0,548.2C746.7,547.4 750.0,547.4 742.5,545.8C735.0,544.1 739.6,542.4 732.5,543.2C725.4,544.1 728.8,547.4 721.2,548.2C713.8,549.1 716.1,549.9 710.0,545.8C703.9,541.6 703.0,541.0 703.0,535.8Z" fill="#0068d6" stroke="rgba(196,194,186,0.92)" stroke-width="0.9"/>
<path d="M705.0,534.5C705.8,530.3 705.8,532.2 712.5,529.5C719.2,526.8 715.8,528.6 725.0,526.5C734.2,524.4 730.0,525.2 740.0,523.2C750.0,521.3 745.8,521.6 755.0,520.8C764.2,519.9 763.3,512.8 767.5,520.8C771.7,528.7 771.7,536.6 767.5,544.5C763.3,552.4 763.3,545.3 755.0,544.5C746.7,543.7 750.0,543.7 742.5,542.0C735.0,540.3 740.0,538.7 732.5,539.5C725.0,540.3 727.5,543.7 720.0,544.5C712.5,545.3 715.0,545.3 710.0,542.0C705.0,538.7 704.2,538.7 705.0,534.5Z" fill="#012f82" stroke="rgba(196,194,186,0.92)" stroke-width="0.9"/>
<path d="M737.5,553.2C737.5,557.0 737.8,555.6 736.2,558.9C734.5,562.1 735.4,561.1 732.5,563.0C729.6,564.9 730.8,564.5 727.5,564.5C724.2,564.5 725.4,564.9 722.5,563.0C719.6,561.1 720.5,562.1 718.8,558.9C717.2,555.6 717.5,557.0 717.5,553.2C717.5,549.5 717.2,550.9 718.8,547.6C720.5,544.4 719.6,545.4 722.5,543.5C725.4,541.6 724.2,542.0 727.5,542.0C730.8,542.0 729.6,541.6 732.5,543.5C735.4,545.4 734.5,544.4 736.2,547.6C737.8,550.9 737.5,549.5 737.5,553.2Z" fill="#4a0084" stroke="rgba(196,194,186,0.92)" stroke-width="0.9"/>
<path d="M733.5,554.0C733.5,556.2 733.7,555.4 732.8,557.2C731.8,559.1 732.3,558.5 730.8,559.6C729.2,560.7 729.8,560.5 728.0,560.5C726.2,560.5 726.8,560.7 725.2,559.6C723.7,558.5 724.2,559.1 723.2,557.2C722.3,555.4 722.5,556.2 722.5,554.0C722.5,551.8 722.3,552.6 723.2,550.8C724.2,548.9 723.7,549.5 725.2,548.4C726.8,547.3 726.2,547.5 728.0,547.5C729.8,547.5 729.2,547.3 730.8,548.4C732.3,549.5 731.8,548.9 732.8,550.8C733.7,552.6 733.5,551.8 733.5,554.0Z" fill="#680084" stroke="rgba(196,194,186,0.92)" stroke-width="0.9"/>
<path d="M757.0,552.0C757.0,555.5 757.2,554.2 756.3,557.2C755.5,560.3 755.9,559.3 754.5,561.1C753.1,562.8 753.7,562.5 752.0,562.5C750.3,562.5 750.9,562.8 749.5,561.1C748.1,559.3 748.5,560.3 747.7,557.2C746.8,554.2 747.0,555.5 747.0,552.0C747.0,548.5 746.8,549.8 747.7,546.8C748.5,543.7 748.1,544.7 749.5,542.9C750.9,541.2 750.3,541.5 752.0,541.5C753.7,541.5 753.1,541.2 754.5,542.9C755.9,544.7 755.5,543.7 756.3,546.8C757.2,549.8 757.0,548.5 757.0,552.0Z" fill="#4a0084" stroke="rgba(196,194,186,0.92)" stroke-width="0.9"/>
</g>
<defs><filter id="halo" x="-20%" y="-50%" width="140%" height="200%"><feGaussianBlur stdDeviation="1.1"/></filter></defs>
<g clip-path="url(#mapclip)">
<path d="M2.5,22.5C4.6,22.1 10.4,21.2 15.0,20.0C19.6,18.8 25.8,15.0 30.0,15.0C34.2,15.0 36.7,20.0 40.0,20.0C43.3,20.0 46.2,17.1 50.0,15.0C53.8,12.9 59.6,10.0 62.5,7.5C65.4,5.0 66.7,1.2 67.5,0.0" fill="none" stroke="#000" stroke-opacity="0.62" stroke-width="1.6" stroke-linejoin="round"/>
<path d="M40.0,20.0C40.4,22.9 40.8,31.7 42.5,37.5C44.2,43.3 46.2,50.0 50.0,55.0C53.8,60.0 59.6,64.2 65.0,67.5C70.4,70.8 77.9,73.3 82.5,75.0C87.1,76.7 91.2,75.0 92.5,77.5C93.8,80.0 90.0,86.5 90.0,90.0C90.0,93.5 92.1,97.3 92.5,98.8" fill="none" stroke="#000" stroke-opacity="0.62" stroke-width="1.6" stroke-linejoin="round"/>
<path d="M23.8,141.2C24.8,142.3 27.7,145.8 30.0,147.5C32.3,149.2 35.6,150.0 37.5,151.2C39.4,152.5 40.6,154.4 41.2,155.0" fill="none" stroke="#000" stroke-opacity="0.62" stroke-width="1.6" stroke-linejoin="round"/>
<path d="M208.8,32.5C209.8,35.4 214.2,45.0 215.0,50.0C215.8,55.0 212.5,57.5 213.8,62.5C215.0,67.5 219.4,75.4 222.5,80.0C225.6,84.6 229.2,87.5 232.5,90.0C235.8,92.5 239.6,92.3 242.5,95.0C245.4,97.7 248.8,104.4 250.0,106.2" fill="none" stroke="#000" stroke-opacity="0.62" stroke-width="1.6" stroke-linejoin="round"/>
<path d="M272.5,12.5C272.9,14.6 272.5,20.8 275.0,25.0C277.5,29.2 285.0,33.3 287.5,37.5C290.0,41.7 290.4,45.8 290.0,50.0C289.6,54.2 285.4,58.3 285.0,62.5C284.6,66.7 287.1,72.9 287.5,75.0" fill="none" stroke="#000" stroke-opacity="0.62" stroke-width="1.6" stroke-linejoin="round"/>
<path d="M235.0,115.0C236.2,117.1 239.2,125.0 242.5,127.5C245.8,130.0 251.2,127.9 255.0,130.0C258.8,132.1 260.8,139.2 265.0,140.0C269.2,140.8 275.8,137.5 280.0,135.0C284.2,132.5 286.2,124.2 290.0,125.0C293.8,125.8 299.6,135.8 302.5,140.0C305.4,144.2 304.6,148.8 307.5,150.0C310.4,151.2 316.2,150.0 320.0,147.5C323.8,145.0 326.7,139.6 330.0,135.0C333.3,130.4 339.2,125.0 340.0,120.0C340.8,115.0 337.5,109.2 335.0,105.0C332.5,100.8 328.3,96.7 325.0,95.0C321.7,93.3 316.7,95.0 315.0,95.0" fill="none" stroke="#000" stroke-opacity="0.62" stroke-width="1.6" stroke-linejoin="round"/>
<path d="M265.0,140.0C266.2,141.7 271.7,146.7 272.5,150.0C273.3,153.3 270.4,158.3 270.0,160.0" fill="none" stroke="#000" stroke-opacity="0.62" stroke-width="1.6" stroke-linejoin="round"/>
<path d="M227.5,135.0C228.3,136.7 230.8,141.7 232.5,145.0C234.2,148.3 236.7,153.3 237.5,155.0" fill="none" stroke="#000" stroke-opacity="0.62" stroke-width="1.6" stroke-linejoin="round"/>
<path d="M380.0,100.0C382.5,100.0 390.0,100.2 395.0,100.0C400.0,99.8 404.2,98.8 410.0,98.8C415.8,98.8 424.2,99.4 430.0,100.0C435.8,100.6 440.4,101.7 445.0,102.5C449.6,103.3 454.6,106.2 457.5,105.0C460.4,103.8 459.6,97.5 462.5,95.0C465.4,92.5 470.4,90.4 475.0,90.0C479.6,89.6 485.0,91.7 490.0,92.5C495.0,93.3 500.0,93.8 505.0,95.0C510.0,96.2 515.8,98.3 520.0,100.0C524.2,101.7 525.8,103.3 530.0,105.0C534.2,106.7 540.0,109.6 545.0,110.0C550.0,110.4 557.5,107.9 560.0,107.5" fill="none" stroke="#000" stroke-opacity="0.62" stroke-width="1.6" stroke-linejoin="round"/>
<path d="M457.5,105.0C457.1,107.5 454.2,115.4 455.0,120.0C455.8,124.6 460.8,128.3 462.5,132.5C464.2,136.7 464.8,141.2 465.0,145.0C465.2,148.8 464.0,153.3 463.8,155.0" fill="none" stroke="#000" stroke-opacity="0.62" stroke-width="1.6" stroke-linejoin="round"/>
<path d="M662.5,87.5C662.9,89.2 662.9,94.2 665.0,97.5C667.1,100.8 671.2,105.0 675.0,107.5C678.8,110.0 683.3,110.8 687.5,112.5C691.7,114.2 695.4,115.8 700.0,117.5C704.6,119.2 710.8,120.8 715.0,122.5C719.2,124.2 721.7,125.4 725.0,127.5C728.3,129.6 731.7,132.1 735.0,135.0C738.3,137.9 742.5,141.7 745.0,145.0C747.5,148.3 749.2,153.3 750.0,155.0" fill="none" stroke="#000" stroke-opacity="0.62" stroke-width="1.6" stroke-linejoin="round"/>
<path d="M717.5,122.5C717.9,118.8 719.6,105.8 720.0,100.0C720.4,94.2 718.3,91.2 720.0,87.5C721.7,83.8 725.8,79.6 730.0,77.5C734.2,75.4 740.4,75.8 745.0,75.0C749.6,74.2 755.4,72.9 757.5,72.5" fill="none" stroke="#000" stroke-opacity="0.62" stroke-width="1.6" stroke-linejoin="round"/>
<path d="M138.8,174.0C139.0,176.5 138.5,185.2 140.0,189.0C141.5,192.8 144.2,195.5 147.5,196.5C150.8,197.5 156.2,195.7 160.0,195.2C163.8,194.8 168.8,195.9 170.0,194.0C171.2,192.1 168.3,187.1 167.5,184.0C166.7,180.9 167.9,177.1 165.0,175.2C162.1,173.4 154.4,173.0 150.0,172.8C145.6,172.5 140.6,173.8 138.8,174.0" fill="none" stroke="#000" stroke-opacity="0.62" stroke-width="1.6" stroke-linejoin="round"/>
<path d="M150.0,226.5C152.1,225.2 158.3,221.1 162.5,219.0C166.7,216.9 170.4,215.7 175.0,214.0C179.6,212.3 187.5,209.8 190.0,209.0" fill="none" stroke="#000" stroke-opacity="0.62" stroke-width="1.6" stroke-linejoin="round"/>
<path d="M7.5,184.0C9.6,185.2 15.8,190.7 20.0,191.5C24.2,192.3 28.8,190.7 32.5,189.0C36.2,187.3 41.2,184.8 42.5,181.5C43.8,178.2 40.8,173.6 40.0,169.0C39.2,164.4 37.9,156.5 37.5,154.0" fill="none" stroke="#000" stroke-opacity="0.62" stroke-width="1.6" stroke-linejoin="round"/>
<path d="M0.0,246.5C2.5,246.9 10.8,248.8 15.0,249.0C19.2,249.2 21.2,248.6 25.0,247.8C28.8,246.9 33.3,245.0 37.5,244.0C41.7,243.0 45.4,242.8 50.0,241.5C54.6,240.2 60.8,236.9 65.0,236.5C69.2,236.1 71.2,238.2 75.0,239.0C78.8,239.8 83.3,240.7 87.5,241.5C91.7,242.3 96.2,241.9 100.0,244.0C103.8,246.1 107.5,250.7 110.0,254.0C112.5,257.3 112.5,261.1 115.0,264.0C117.5,266.9 122.1,269.8 125.0,271.5C127.9,273.2 131.2,273.6 132.5,274.0" fill="none" stroke="#000" stroke-opacity="0.62" stroke-width="1.6" stroke-linejoin="round"/>
<path d="M150.0,226.5C149.6,229.0 147.5,236.9 147.5,241.5C147.5,246.1 149.2,250.2 150.0,254.0C150.8,257.8 152.5,260.7 152.5,264.0C152.5,267.3 150.4,272.3 150.0,274.0" fill="none" stroke="#000" stroke-opacity="0.62" stroke-width="1.6" stroke-linejoin="round"/>
<path d="M227.5,154.0C228.3,155.7 230.4,160.7 232.5,164.0C234.6,167.3 238.3,170.7 240.0,174.0C241.7,177.3 242.5,181.1 242.5,184.0C242.5,186.9 241.7,189.4 240.0,191.5C238.3,193.6 234.6,194.8 232.5,196.5C230.4,198.2 228.8,199.4 227.5,201.5C226.2,203.6 225.4,207.8 225.0,209.0" fill="none" stroke="#000" stroke-opacity="0.62" stroke-width="1.6" stroke-linejoin="round"/>
<path d="M277.5,154.0C277.1,156.1 276.2,162.3 275.0,166.5C273.8,170.7 271.7,174.8 270.0,179.0C268.3,183.2 265.4,188.2 265.0,191.5C264.6,194.8 266.2,196.1 267.5,199.0C268.8,201.9 272.1,204.8 272.5,209.0C272.9,213.2 271.2,219.8 270.0,224.0C268.8,228.2 266.7,230.9 265.0,234.0C263.3,237.1 260.8,241.3 260.0,242.8" fill="none" stroke="#000" stroke-opacity="0.62" stroke-width="1.6" stroke-linejoin="round"/>
<path d="M392.5,236.5C393.3,238.2 395.4,244.4 397.5,246.5C399.6,248.6 402.9,246.9 405.0,249.0C407.1,251.1 407.5,255.2 410.0,259.0C412.5,262.8 416.7,268.2 420.0,271.5C423.3,274.8 427.1,275.2 430.0,279.0C432.9,282.8 435.8,289.0 437.5,294.0C439.2,299.0 439.6,306.5 440.0,309.0" fill="none" stroke="#000" stroke-opacity="0.62" stroke-width="1.6" stroke-linejoin="round"/>
<path d="M465.0,366.8C465.8,366.3 468.8,365.1 470.0,364.2C471.2,363.4 472.1,362.2 472.5,361.8" fill="none" stroke="#000" stroke-opacity="0.62" stroke-width="1.6" stroke-linejoin="round"/>
<path d="M437.5,308.0C438.8,309.2 444.2,313.0 445.0,315.5C445.8,318.0 442.1,320.1 442.5,323.0C442.9,325.9 446.2,330.1 447.5,333.0C448.8,335.9 449.6,339.2 450.0,340.5" fill="none" stroke="#000" stroke-opacity="0.62" stroke-width="1.6" stroke-linejoin="round"/>
<path d="M550.0,380.5C551.7,380.7 556.7,382.0 560.0,381.8C563.3,381.5 568.3,379.7 570.0,379.2" fill="none" stroke="#000" stroke-opacity="0.62" stroke-width="1.6" stroke-linejoin="round"/>
<path d="M292.5,572.0C293.8,573.2 297.5,577.0 300.0,579.5C302.5,582.0 305.8,586.6 307.5,587.0C309.2,587.4 308.3,583.2 310.0,582.0C311.7,580.8 315.0,580.8 317.5,579.5C320.0,578.2 322.5,574.1 325.0,574.5C327.5,574.9 330.0,579.5 332.5,582.0C335.0,584.5 338.8,588.2 340.0,589.5" fill="none" stroke="#000" stroke-opacity="0.62" stroke-width="1.6" stroke-linejoin="round"/>
<path d="M307.5,587.0C308.3,588.7 312.1,593.7 312.5,597.0C312.9,600.3 309.2,604.5 310.0,607.0C310.8,609.5 315.0,611.6 317.5,612.0C320.0,612.4 323.8,609.9 325.0,609.5" fill="none" stroke="#000" stroke-opacity="0.62" stroke-width="1.6" stroke-linejoin="round"/>
<path d="M387.5,598.2C390.0,597.8 397.5,596.0 402.5,595.8C407.5,595.5 414.2,595.5 417.5,597.0C420.8,598.5 421.7,603.2 422.5,604.5" fill="none" stroke="#000" stroke-opacity="0.62" stroke-width="1.6" stroke-linejoin="round"/>
<path d="M462.5,592.0C463.1,589.5 465.0,579.9 466.2,577.0C467.5,574.1 468.5,573.2 470.0,574.5C471.5,575.8 472.5,581.6 475.0,584.5C477.5,587.4 482.1,589.9 485.0,592.0C487.9,594.1 491.2,596.2 492.5,597.0" fill="none" stroke="#000" stroke-opacity="0.62" stroke-width="1.6" stroke-linejoin="round"/>
<path d="M340.0,270.0C340.2,272.9 339.6,282.9 341.2,287.5C342.9,292.1 347.9,294.2 350.0,297.5C352.1,300.8 353.5,303.8 353.8,307.5C354.0,311.2 351.2,316.2 351.2,320.0C351.2,323.8 352.7,327.9 353.8,330.0C354.8,332.1 357.1,329.6 357.5,332.5C357.9,335.4 356.9,343.8 356.2,347.5C355.6,351.2 353.5,352.1 353.8,355.0C354.0,357.9 356.5,361.7 357.5,365.0C358.5,368.3 360.6,371.7 360.0,375.0C359.4,378.3 355.0,380.0 353.8,385.0C352.5,390.0 352.9,399.2 352.5,405.0C352.1,410.8 351.5,417.5 351.2,420.0" fill="none" stroke="#000" stroke-opacity="0.62" stroke-width="1.6" stroke-linejoin="round"/>
<path d="M357.5,332.5C359.2,332.1 364.6,331.2 367.5,330.0C370.4,328.8 372.7,326.5 375.0,325.0C377.3,323.5 379.2,320.6 381.2,321.2C383.3,321.9 386.9,326.7 387.5,328.8C388.1,330.8 383.8,333.8 385.0,333.8C386.2,333.8 392.3,330.4 395.0,328.8C397.7,327.1 399.2,324.6 401.2,323.8C403.3,322.9 405.8,322.3 407.5,323.8C409.2,325.2 410.0,329.8 411.2,332.5C412.5,335.2 414.4,338.8 415.0,340.0" fill="none" stroke="#000" stroke-opacity="0.62" stroke-width="1.6" stroke-linejoin="round"/>
<path d="M315.0,363.8C316.7,363.1 322.1,360.4 325.0,360.0C327.9,359.6 330.0,361.9 332.5,361.2C335.0,360.6 337.5,357.5 340.0,356.2C342.5,355.0 345.2,354.0 347.5,353.8C349.8,353.5 352.7,354.8 353.8,355.0" fill="none" stroke="#000" stroke-opacity="0.62" stroke-width="1.6" stroke-linejoin="round"/>
<path d="M611.2,262.5C612.3,264.6 615.2,271.5 617.5,275.0C619.8,278.5 622.1,281.9 625.0,283.8C627.9,285.6 632.1,284.4 635.0,286.2C637.9,288.1 641.9,291.9 642.5,295.0C643.1,298.1 640.0,301.7 638.8,305.0C637.5,308.3 634.4,311.2 635.0,315.0C635.6,318.8 639.8,324.6 642.5,327.5C645.2,330.4 650.0,330.0 651.2,332.5C652.5,335.0 649.2,339.6 650.0,342.5C650.8,345.4 655.8,346.7 656.2,350.0C656.7,353.3 653.8,359.2 652.5,362.5C651.2,365.8 648.8,366.7 648.8,370.0C648.8,373.3 652.3,378.8 652.5,382.5C652.7,386.2 650.6,388.8 650.0,392.5C649.4,396.2 648.8,400.4 648.8,405.0C648.8,409.6 649.8,417.5 650.0,420.0" fill="none" stroke="#000" stroke-opacity="0.62" stroke-width="1.6" stroke-linejoin="round"/>
<path d="M642.5,295.0C643.8,294.0 647.1,290.2 650.0,288.8C652.9,287.3 656.7,285.8 660.0,286.2C663.3,286.7 666.7,290.6 670.0,291.2C673.3,291.9 677.9,291.2 680.0,290.0C682.1,288.8 683.8,285.0 682.5,283.8C681.2,282.5 674.4,283.5 672.5,282.5C670.6,281.5 670.4,279.2 671.2,277.5C672.1,275.8 675.2,275.2 677.5,272.5C679.8,269.8 682.1,263.8 685.0,261.2C687.9,258.8 692.9,259.8 695.0,257.5C697.1,255.2 697.7,250.2 697.5,247.5C697.3,244.8 692.9,242.5 693.8,241.2C694.6,240.0 701.0,240.2 702.5,240.0" fill="none" stroke="#000" stroke-opacity="0.62" stroke-width="1.6" stroke-linejoin="round"/>
<path d="M682.5,283.8C684.6,284.4 691.2,286.2 695.0,287.5C698.8,288.8 700.8,290.8 705.0,291.2C709.2,291.7 715.4,289.2 720.0,290.0C724.6,290.8 729.2,295.8 732.5,296.2C735.8,296.7 738.8,293.1 740.0,292.5" fill="none" stroke="#000" stroke-opacity="0.62" stroke-width="1.6" stroke-linejoin="round"/>
<path d="M651.2,332.5C653.1,333.3 659.8,335.4 662.5,337.5C665.2,339.6 665.0,342.5 667.5,345.0C670.0,347.5 674.2,351.7 677.5,352.5C680.8,353.3 685.0,351.7 687.5,350.0C690.0,348.3 689.6,344.2 692.5,342.5C695.4,340.8 702.1,342.1 705.0,340.0C707.9,337.9 708.8,333.3 710.0,330.0C711.2,326.7 710.0,323.3 712.5,320.0C715.0,316.7 721.2,312.9 725.0,310.0C728.8,307.1 732.5,305.4 735.0,302.5C737.5,299.6 739.2,294.2 740.0,292.5" fill="none" stroke="#000" stroke-opacity="0.62" stroke-width="1.6" stroke-linejoin="round"/>
<path d="M740.0,292.5C741.7,292.1 746.7,292.1 750.0,290.0C753.3,287.9 758.3,281.7 760.0,280.0" fill="none" stroke="#000" stroke-opacity="0.62" stroke-width="1.6" stroke-linejoin="round"/>
<path d="M745.0,300.0C745.4,302.1 745.8,309.2 747.5,312.5C749.2,315.8 752.7,318.3 755.0,320.0C757.3,321.7 760.2,322.1 761.2,322.5" fill="none" stroke="#000" stroke-opacity="0.62" stroke-width="1.6" stroke-linejoin="round"/>
<path d="M570.0,380.0C572.5,379.8 580.8,377.9 585.0,378.8C589.2,379.6 591.2,383.1 595.0,385.0C598.8,386.9 604.6,387.1 607.5,390.0C610.4,392.9 609.2,399.2 612.5,402.5C615.8,405.8 622.5,407.9 627.5,410.0C632.5,412.1 638.8,414.0 642.5,415.0C646.2,416.0 648.8,416.0 650.0,416.2" fill="none" stroke="#000" stroke-opacity="0.62" stroke-width="1.6" stroke-linejoin="round"/>
<path d="M652.5,392.5C654.6,393.1 660.8,394.6 665.0,396.2C669.2,397.9 673.8,401.0 677.5,402.5C681.2,404.0 683.3,406.2 687.5,405.0C691.7,403.8 698.3,395.4 702.5,395.0C706.7,394.6 709.6,400.0 712.5,402.5C715.4,405.0 716.7,409.6 720.0,410.0C723.3,410.4 727.5,405.6 732.5,405.0C737.5,404.4 745.2,406.7 750.0,406.2C754.8,405.8 759.4,403.1 761.2,402.5" fill="none" stroke="#000" stroke-opacity="0.62" stroke-width="1.6" stroke-linejoin="round"/>
<path d="M756.2,380.0C756.0,382.1 754.8,388.3 755.0,392.5C755.2,396.7 757.3,400.4 757.5,405.0C757.7,409.6 756.5,417.5 756.2,420.0" fill="none" stroke="#000" stroke-opacity="0.62" stroke-width="1.6" stroke-linejoin="round"/>
<path d="M495.6,437.5C498.4,440.0 505.9,448.4 512.5,452.5C519.1,456.6 527.8,461.2 535.0,461.9C542.2,462.5 549.4,455.3 555.6,456.2C561.9,457.2 565.3,465.3 572.5,467.5C579.7,469.7 590.3,470.3 598.7,469.4C607.2,468.4 618.4,461.2 623.1,461.9C627.8,462.5 625.3,470.0 626.9,473.1C628.4,476.2 631.9,476.2 632.5,480.6C633.1,485.0 629.4,494.7 630.6,499.4C631.9,504.0 637.2,504.7 640.0,508.7C642.8,512.8 646.5,518.7 647.5,523.7C648.4,528.7 647.5,533.7 645.6,538.7C643.7,543.7 638.7,547.5 636.2,553.7C633.7,560.0 632.5,569.4 630.6,576.2C628.7,583.1 627.2,589.4 625.0,595.0C622.8,600.6 618.7,607.5 617.5,610.0" fill="none" stroke="#000" stroke-opacity="0.62" stroke-width="1.6" stroke-linejoin="round"/>
<path d="M553.7,542.5C554.1,539.4 553.1,528.4 555.6,523.7C558.1,519.0 563.4,515.0 568.7,514.4C574.1,513.7 580.9,520.0 587.5,520.0C594.0,520.0 600.9,517.5 608.1,514.4C615.3,511.2 626.9,503.4 630.6,501.2" fill="none" stroke="#000" stroke-opacity="0.62" stroke-width="1.6" stroke-linejoin="round"/>
<path d="M623.1,461.9C624.0,457.8 625.9,442.8 628.7,437.5C631.5,432.2 636.9,433.1 640.0,430.0C643.1,426.9 646.5,423.7 647.5,418.7C648.4,413.7 645.9,403.1 645.6,400.0" fill="none" stroke="#000" stroke-opacity="0.62" stroke-width="1.6" stroke-linejoin="round"/>
<path d="M677.5,433.7C678.4,436.9 680.6,447.5 683.1,452.5C685.6,457.5 689.7,458.1 692.5,463.7C695.3,469.4 697.5,480.0 700.0,486.2C702.5,492.5 704.3,496.9 707.5,501.2C710.6,505.6 717.5,508.1 718.7,512.5C720.0,516.9 717.5,523.7 715.0,527.5C712.5,531.2 707.5,531.9 703.7,535.0C700.0,538.1 695.6,541.2 692.5,546.2C689.3,551.2 686.2,561.9 685.0,565.0" fill="none" stroke="#000" stroke-opacity="0.62" stroke-width="1.6" stroke-linejoin="round"/>
<path d="M718.7,512.5C720.6,509.4 727.5,500.6 730.0,493.7C732.5,486.9 731.2,476.9 733.7,471.2C736.2,465.6 740.6,462.5 745.0,460.0C749.3,457.5 757.5,456.9 760.0,456.2" fill="none" stroke="#000" stroke-opacity="0.62" stroke-width="1.6" stroke-linejoin="round"/>
<path d="M553.7,542.5C553.4,545.6 551.6,555.6 551.9,561.2C552.2,566.9 555.9,570.6 555.6,576.2C555.3,581.9 550.3,590.0 550.0,595.0C549.7,600.0 553.1,604.3 553.7,606.2" fill="none" stroke="#000" stroke-opacity="0.62" stroke-width="1.6" stroke-linejoin="round"/>
<path d="M718.7,512.5C721.2,514.4 730.6,518.1 733.7,523.7C736.8,529.4 737.5,539.4 737.5,546.2C737.5,553.1 733.7,558.1 733.7,565.0C733.7,571.9 737.5,580.0 737.5,587.5C737.5,595.0 734.3,606.2 733.7,610.0" fill="none" stroke="#000" stroke-opacity="0.62" stroke-width="1.6" stroke-linejoin="round"/>
<path d="M0.0,133.8C2.5,134.8 11.0,138.8 15.0,140.0C19.0,141.2 22.1,142.9 23.8,141.2C25.4,139.6 23.5,133.5 25.0,130.0C26.5,126.5 29.8,122.3 32.5,120.0C35.2,117.7 39.2,119.6 41.2,116.2C43.3,112.9 44.2,104.6 45.0,100.0C45.8,95.4 44.2,90.4 46.2,88.8C48.3,87.1 55.4,89.0 57.5,90.0C59.6,91.0 57.1,94.6 58.8,95.0C60.4,95.4 64.8,92.7 67.5,92.5C70.2,92.3 72.5,92.9 75.0,93.8C77.5,94.6 79.2,96.0 82.5,97.5C85.8,99.0 90.8,101.0 95.0,102.5C99.2,104.0 103.8,105.0 107.5,106.2C111.2,107.5 113.8,107.7 117.5,110.0C121.2,112.3 124.6,117.9 130.0,120.0C135.4,122.1 145.0,123.3 150.0,122.5C155.0,121.7 156.2,116.2 160.0,115.0C163.8,113.8 169.6,113.8 172.5,115.0C175.4,116.2 174.6,120.9 177.5,122.5C180.4,124.1 187.9,124.2 190.0,124.5" fill="none" stroke="#0a0a0a" stroke-width="2.3" stroke-linejoin="round" stroke-linecap="round"/>
<path d="M190.0,124.5C190.9,125.6 194.0,128.5 195.5,131.2C197.0,134.0 198.6,138.1 198.8,141.2C198.9,144.4 197.3,147.7 196.2,150.0C195.2,152.3 193.1,154.2 192.5,155.0" fill="none" stroke="#0a0a0a" stroke-width="2.3" stroke-linejoin="round" stroke-linecap="round"/>
<path d="M198.8,141.2C199.4,138.5 201.0,129.8 202.5,125.0C204.0,120.2 205.4,115.4 207.5,112.5C209.6,109.6 211.7,108.3 215.0,107.5C218.3,106.7 223.3,106.9 227.5,107.5C231.7,108.1 236.2,111.2 240.0,111.2C243.8,111.2 246.2,109.0 250.0,107.5C253.8,106.0 258.8,105.0 262.5,102.5C266.2,100.0 269.2,95.2 272.5,92.5C275.8,89.8 279.6,89.2 282.5,86.2C285.4,83.3 288.1,78.3 290.0,75.0C291.9,71.7 292.1,69.4 293.8,66.2C295.4,63.1 297.3,59.4 300.0,56.2C302.7,53.1 306.9,50.8 310.0,47.5C313.1,44.2 315.4,39.2 318.8,36.2C322.1,33.2 326.5,31.0 330.0,29.5C333.5,28.0 337.2,27.7 340.0,27.0C342.8,26.3 345.8,27.2 346.8,25.2C347.7,23.2 346.0,18.2 345.5,15.0C345.0,11.8 344.7,8.8 343.8,6.2C342.8,3.8 340.6,1.0 340.0,0.0" fill="none" stroke="#0a0a0a" stroke-width="2.3" stroke-linejoin="round" stroke-linecap="round"/>
<path d="M346.8,25.2C348.3,25.6 354.5,25.0 356.2,27.5C358.0,30.0 356.5,37.8 357.5,40.0C358.5,42.2 359.5,42.4 362.5,41.0C365.5,39.6 371.4,34.8 375.2,31.5C379.1,28.2 384.0,22.8 385.8,21.0" fill="none" stroke="#0a0a0a" stroke-width="2.3" stroke-linejoin="round" stroke-linecap="round"/>
<path d="M375.0,31.5C376.8,29.8 382.2,24.0 385.8,21.0C389.2,18.0 392.8,12.7 396.0,13.8C399.2,14.8 402.6,23.5 404.8,27.5C406.9,31.5 406.2,35.6 409.0,38.0C411.8,40.4 418.9,39.2 421.5,42.0C424.1,44.8 423.8,51.4 424.8,54.8C425.7,58.1 425.5,59.9 427.0,62.0C428.5,64.1 431.4,67.4 433.8,67.5C436.1,67.6 439.0,64.8 441.2,62.5C443.5,60.2 444.8,55.6 447.5,53.8C450.2,51.9 455.0,53.1 457.5,51.2C460.0,49.4 460.0,44.4 462.5,42.5C465.0,40.6 469.2,40.0 472.5,40.0C475.8,40.0 479.6,42.3 482.5,42.5C485.4,42.7 487.5,40.4 490.0,41.2C492.5,42.1 495.0,45.6 497.5,47.5C500.0,49.4 502.5,52.1 505.0,52.5C507.5,52.9 510.0,51.7 512.5,50.0C515.0,48.3 517.1,44.6 520.0,42.5C522.9,40.4 527.1,39.0 530.0,37.5C532.9,36.0 535.0,34.0 537.5,33.8C540.0,33.5 542.1,35.6 545.0,36.2C547.9,36.9 550.8,37.1 555.0,37.5C559.2,37.9 567.5,38.5 570.0,38.8" fill="none" stroke="#0a0a0a" stroke-width="2.3" stroke-linejoin="round" stroke-linecap="round"/>
<path d="M465.0,155.0C466.9,153.8 472.5,149.4 476.2,147.5C480.0,145.6 483.5,144.6 487.5,143.8C491.5,142.9 496.2,142.3 500.0,142.5C503.8,142.7 506.7,144.2 510.0,145.0C513.3,145.8 516.7,146.7 520.0,147.5C523.3,148.3 526.7,150.0 530.0,150.0C533.3,150.0 536.2,148.4 540.0,147.5C543.8,146.6 549.2,144.1 552.5,144.5C555.8,144.9 557.9,148.2 560.0,150.0C562.1,151.8 564.2,154.2 565.0,155.0" fill="none" stroke="#0a0a0a" stroke-width="2.3" stroke-linejoin="round" stroke-linecap="round"/>
<path d="M570.0,38.8C571.9,39.8 577.1,42.5 581.2,45.0C585.4,47.5 592.1,50.6 595.0,53.8C597.9,56.9 596.2,61.2 598.8,63.8C601.2,66.2 606.5,66.9 610.0,68.8C613.5,70.6 616.5,73.5 620.0,75.0C623.5,76.5 628.3,76.7 631.2,77.5C634.2,78.3 635.2,79.4 637.5,80.0C639.8,80.6 642.1,80.6 645.0,81.2C647.9,81.9 652.1,82.7 655.0,83.8C657.9,84.8 661.2,86.9 662.5,87.5" fill="none" stroke="#0a0a0a" stroke-width="2.3" stroke-linejoin="round" stroke-linecap="round"/>
<path d="M648.8,68.8C648.5,67.7 647.1,65.6 647.5,62.5C647.9,59.4 650.0,53.3 651.2,50.0C652.5,46.7 655.4,45.4 655.0,42.5C654.6,39.6 650.2,35.8 648.8,32.5C647.3,29.2 646.0,25.8 646.2,22.5C646.5,19.2 648.1,15.6 650.0,12.5C651.9,9.4 655.8,5.8 657.5,3.8C659.2,1.7 659.6,0.6 660.0,0.0" fill="none" stroke="#0a0a0a" stroke-width="2.3" stroke-linejoin="round" stroke-linecap="round"/>
<path d="M648.8,68.8C649.8,69.8 652.7,71.9 655.0,75.0C657.3,78.1 661.2,85.4 662.5,87.5" fill="none" stroke="#0a0a0a" stroke-width="2.3" stroke-linejoin="round" stroke-linecap="round"/>
<path d="M637.5,80.0C636.9,81.7 635.2,86.7 633.8,90.0C632.3,93.3 630.2,96.2 628.8,100.0C627.3,103.8 626.0,108.3 625.0,112.5C624.0,116.7 623.3,121.2 622.5,125.0C621.7,128.8 621.9,132.7 620.0,135.0C618.1,137.3 613.3,136.7 611.2,138.8C609.2,140.8 608.3,144.8 607.5,147.5C606.7,150.2 606.5,153.8 606.2,155.0" fill="none" stroke="#0a0a0a" stroke-width="2.3" stroke-linejoin="round" stroke-linecap="round"/>
<path d="M192.0,250.0C189.2,249.2 180.3,245.0 175.0,245.0C169.7,245.0 163.0,248.0 160.0,250.0C157.0,252.0 155.3,254.5 157.0,257.0C158.7,259.5 166.7,262.5 170.0,265.0C173.3,267.5 176.2,268.3 177.0,272.0C177.8,275.7 177.0,283.2 175.0,287.0C173.0,290.8 167.5,291.2 165.0,295.0C162.5,298.8 160.8,307.5 160.0,310.0" fill="none" stroke="#0a0a0a" stroke-width="2.3" stroke-linejoin="round" stroke-linecap="round"/>
<path d="M192.5,149.0C192.7,152.3 192.5,164.0 193.8,169.0C195.0,174.0 197.7,175.2 200.0,179.0C202.3,182.8 205.8,187.3 207.5,191.5C209.2,195.7 208.8,200.7 210.0,204.0C211.2,207.3 211.7,209.8 215.0,211.5C218.3,213.2 225.8,212.3 230.0,214.0C234.2,215.7 237.1,218.6 240.0,221.5C242.9,224.4 245.0,228.6 247.5,231.5C250.0,234.4 252.7,236.9 255.0,239.0C257.3,241.1 257.5,243.2 261.2,244.0C265.0,244.8 271.9,243.7 277.5,243.5C283.1,243.3 289.6,243.1 295.0,242.8C300.4,242.4 305.0,241.6 310.0,241.5C315.0,241.4 320.4,242.2 325.0,242.0C329.6,241.8 334.2,241.6 337.5,240.2C340.8,238.9 344.6,236.3 345.0,234.0C345.4,231.7 340.6,229.4 340.0,226.5C339.4,223.6 339.6,219.6 341.2,216.5C342.9,213.4 346.0,209.6 350.0,207.8C354.0,205.9 360.0,205.9 365.0,205.2C370.0,204.6 377.5,204.2 380.0,204.0" fill="none" stroke="#0a0a0a" stroke-width="2.3" stroke-linejoin="round" stroke-linecap="round"/>
<path d="M215.0,211.5C214.4,212.8 212.2,216.1 211.2,219.0C210.3,221.9 210.8,226.5 209.5,229.0C208.2,231.5 203.9,232.1 203.8,234.0C203.6,235.9 207.8,237.5 208.8,240.2C209.7,243.0 211.8,248.5 209.5,250.2C207.2,252.0 198.2,251.1 195.0,251.0C191.8,250.9 190.8,249.8 190.0,249.5" fill="none" stroke="#0a0a0a" stroke-width="2.3" stroke-linejoin="round" stroke-linecap="round"/>
<path d="M380.0,204.0C381.7,203.6 385.8,203.0 390.0,201.5C394.2,200.0 400.4,197.8 405.0,195.2C409.6,192.8 413.3,187.8 417.5,186.5C421.7,185.2 425.4,188.0 430.0,187.8C434.6,187.5 440.4,186.3 445.0,185.2C449.6,184.2 454.2,183.0 457.5,181.5C460.8,180.0 462.9,179.0 465.0,176.5C467.1,174.0 468.3,170.2 470.0,166.5C471.7,162.8 474.2,156.1 475.0,154.0" fill="none" stroke="#0a0a0a" stroke-width="2.3" stroke-linejoin="round" stroke-linecap="round"/>
<path d="M565.0,155.0 L570.0,162.5" fill="none" stroke="#0a0a0a" stroke-width="2.3" stroke-linejoin="round" stroke-linecap="round"/>
<path d="M565.0,154.0C565.8,156.3 567.5,164.8 570.0,167.8C572.5,170.7 575.8,171.7 580.0,171.5C584.2,171.3 590.4,168.2 595.0,166.5C599.6,164.8 604.2,161.9 607.5,161.5C610.8,161.1 613.3,161.9 615.0,164.0C616.7,166.1 615.8,171.5 617.5,174.0C619.2,176.5 622.5,177.3 625.0,179.0C627.5,180.7 630.0,181.9 632.5,184.0C635.0,186.1 637.9,188.8 640.0,191.5C642.1,194.2 642.5,198.8 645.0,200.2C647.5,201.7 652.5,199.0 655.0,200.2C657.5,201.5 658.5,205.0 660.0,207.8C661.5,210.5 662.1,215.5 663.8,216.5C665.4,217.5 667.7,214.6 670.0,214.0C672.3,213.4 675.4,214.4 677.5,212.8C679.6,211.1 680.8,206.1 682.5,204.0C684.2,201.9 685.4,199.8 687.5,200.2C689.6,200.7 692.5,204.2 695.0,206.5C697.5,208.8 699.6,212.5 702.5,214.0C705.4,215.5 709.6,215.5 712.5,215.2C715.4,215.0 717.1,213.0 720.0,212.8C722.9,212.5 726.7,212.8 730.0,214.0C733.3,215.2 736.7,219.4 740.0,220.2C743.3,221.1 746.7,219.1 750.0,219.0C753.3,218.9 758.3,219.4 760.0,219.5" fill="none" stroke="#0a0a0a" stroke-width="2.3" stroke-linejoin="round" stroke-linecap="round"/>
<path d="M604.8,163.8C604.9,162.1 605.2,156.9 605.5,154.0C605.8,151.1 606.3,147.8 606.5,146.5" fill="none" stroke="#0a0a0a" stroke-width="2.3" stroke-linejoin="round" stroke-linecap="round"/>
<path d="M663.8,216.5C662.7,218.2 659.8,223.6 657.5,226.5C655.2,229.4 652.5,231.5 650.0,234.0C647.5,236.5 645.8,239.8 642.5,241.5C639.2,243.2 633.8,243.2 630.0,244.0C626.2,244.8 622.7,244.8 620.0,246.5C617.3,248.2 615.8,251.1 613.8,254.0C611.7,256.9 610.2,260.7 607.5,264.0C604.8,267.3 599.6,270.7 597.5,274.0C595.4,277.3 596.2,280.2 595.0,284.0C593.8,287.8 591.7,292.5 590.0,296.5C588.3,300.5 586.7,304.4 585.0,308.0C583.3,311.6 581.7,315.1 580.0,318.0C578.3,320.9 576.9,323.0 575.0,325.5C573.1,328.0 569.8,331.8 568.8,333.0" fill="none" stroke="#0a0a0a" stroke-width="2.3" stroke-linejoin="round" stroke-linecap="round"/>
<path d="M0.0,406.8C2.1,407.8 9.2,413.4 12.5,413.0C15.8,412.6 16.9,407.4 20.0,404.2C23.1,401.1 28.8,397.4 31.2,394.2C33.8,391.1 31.5,387.6 35.0,385.5C38.5,383.4 45.8,382.5 52.5,381.8C59.2,381.0 67.9,382.2 75.0,381.0C82.1,379.8 89.2,375.5 95.0,374.2C100.8,373.0 105.0,373.1 110.0,373.5C115.0,373.9 122.1,377.7 125.0,376.8C127.9,375.8 127.9,370.9 127.5,368.0C127.1,365.1 121.7,361.5 122.5,359.2C123.3,357.0 128.8,355.3 132.5,354.2C136.2,353.2 141.9,352.4 145.0,353.0C148.1,353.6 150.0,355.5 151.2,358.0C152.5,360.5 151.5,364.2 152.5,368.0C153.5,371.8 155.4,376.8 157.5,380.5C159.6,384.2 162.1,387.0 165.0,390.5C167.9,394.0 171.7,398.0 175.0,401.8C178.3,405.5 182.5,410.9 185.0,413.0C187.5,415.1 189.2,414.0 190.0,414.2" fill="none" stroke="#0a0a0a" stroke-width="2.3" stroke-linejoin="round" stroke-linecap="round"/>
<path d="M160.0,308.0C160.4,310.1 162.5,316.8 162.5,320.5C162.5,324.2 159.8,328.0 160.0,330.5C160.2,333.0 165.4,334.5 163.8,335.5C162.1,336.5 153.8,335.7 150.0,336.8C146.2,337.8 144.0,339.7 141.2,341.8C138.5,343.8 136.2,346.8 133.8,349.2C131.2,351.8 127.5,355.5 126.2,356.8" fill="none" stroke="#0a0a0a" stroke-width="2.3" stroke-linejoin="round" stroke-linecap="round"/>
<path d="M156.2,391.8C154.8,392.4 149.2,393.2 147.5,395.5C145.8,397.8 146.7,402.4 146.2,405.5C145.8,408.6 146.7,412.6 145.0,414.2C143.3,415.9 138.8,414.0 136.2,415.5C133.8,417.0 133.1,420.7 130.0,423.0C126.9,425.3 121.2,428.0 117.5,429.2C113.8,430.5 110.6,429.7 107.5,430.5C104.4,431.3 100.8,432.2 98.8,434.2C96.7,436.3 95.4,439.9 95.0,443.0C94.6,446.1 95.4,449.8 96.2,453.0C97.1,456.2 99.4,460.5 100.0,462.0" fill="none" stroke="#0a0a0a" stroke-width="2.3" stroke-linejoin="round" stroke-linecap="round"/>
<path d="M190.0,414.2C190.8,416.1 192.9,421.5 195.0,425.5C197.1,429.5 199.6,434.7 202.5,438.0C205.4,441.3 209.6,443.0 212.5,445.5C215.4,448.0 217.5,450.1 220.0,453.0C222.5,455.9 226.2,461.3 227.5,463.0" fill="none" stroke="#0a0a0a" stroke-width="2.3" stroke-linejoin="round" stroke-linecap="round"/>
<path d="M570.0,331.8C569.2,333.2 566.2,337.4 565.0,340.5C563.8,343.6 563.8,347.6 562.5,350.5C561.2,353.4 558.8,354.7 557.5,358.0C556.2,361.3 556.2,367.2 555.0,370.5C553.8,373.8 552.1,375.9 550.0,378.0C547.9,380.1 544.2,380.5 542.5,383.0C540.8,385.5 540.8,389.7 540.0,393.0C539.2,396.3 537.7,400.1 537.5,403.0C537.3,405.9 539.6,408.0 538.8,410.5C537.9,413.0 534.0,415.5 532.5,418.0C531.0,420.5 531.7,423.4 530.0,425.5C528.3,427.6 525.0,429.5 522.5,430.5C520.0,431.5 517.9,432.0 515.0,431.8C512.1,431.5 507.9,429.0 505.0,429.2C502.1,429.5 499.2,431.1 497.5,433.0C495.8,434.9 496.7,438.6 495.0,440.5C493.3,442.4 490.0,443.8 487.5,444.2C485.0,444.7 482.1,443.6 480.0,443.0C477.9,442.4 477.1,440.3 475.0,440.5C472.9,440.7 470.0,443.4 467.5,444.2C465.0,445.1 461.2,445.3 460.0,445.5" fill="none" stroke="#0a0a0a" stroke-width="2.3" stroke-linejoin="round" stroke-linecap="round"/>
<path d="M460.0,445.5C458.8,445.3 455.0,444.7 452.5,444.2C450.0,443.8 447.9,443.0 445.0,443.0C442.1,443.0 438.3,443.8 435.0,444.2C431.7,444.7 427.9,445.9 425.0,445.5C422.1,445.1 420.0,442.6 417.5,441.8C415.0,440.9 412.5,440.1 410.0,440.5C407.5,440.9 404.6,442.6 402.5,444.2C400.4,445.9 399.6,448.2 397.5,450.5C395.4,452.8 392.5,455.9 390.0,458.0C387.5,460.1 383.8,462.2 382.5,463.0" fill="none" stroke="#0a0a0a" stroke-width="2.3" stroke-linejoin="round" stroke-linecap="round"/>
<path d="M460.0,445.5C460.4,446.8 461.8,450.1 462.5,453.0C463.2,455.9 464.2,461.3 464.5,463.0" fill="none" stroke="#0a0a0a" stroke-width="2.3" stroke-linejoin="round" stroke-linecap="round"/>
<path d="M0.0,514.5C1.2,513.7 5.2,511.2 7.5,509.5C9.8,507.8 12.1,503.7 13.8,504.5C15.4,505.3 15.6,511.6 17.5,514.5C19.4,517.4 22.5,519.7 25.0,522.0C27.5,524.3 30.0,528.0 32.5,528.2C35.0,528.5 37.1,523.7 40.0,523.2C42.9,522.8 46.2,524.3 50.0,525.8C53.8,527.2 58.3,531.4 62.5,532.0C66.7,532.6 72.9,531.6 75.0,529.5C77.1,527.4 75.8,523.2 75.0,519.5C74.2,515.8 71.2,510.8 70.0,507.0C68.8,503.2 66.7,499.5 67.5,497.0C68.3,494.5 71.7,493.7 75.0,492.0C78.3,490.3 83.3,488.7 87.5,487.0C91.7,485.3 97.7,484.5 100.0,482.0C102.3,479.5 101.2,475.3 101.2,472.0C101.2,468.7 100.2,463.7 100.0,462.0" fill="none" stroke="#0a0a0a" stroke-width="2.3" stroke-linejoin="round" stroke-linecap="round"/>
<path d="M103.8,617.0C104.0,614.5 104.4,607.0 105.0,602.0C105.6,597.0 106.9,592.4 107.5,587.0C108.1,581.6 107.9,573.9 108.8,569.5C109.6,565.1 109.8,562.4 112.5,560.8C115.2,559.1 122.1,558.9 125.0,559.5C127.9,560.1 128.1,562.4 130.0,564.5C131.9,566.6 134.2,569.1 136.2,572.0C138.3,574.9 140.2,579.5 142.5,582.0C144.8,584.5 148.3,588.2 150.0,587.0C151.7,585.8 150.8,578.7 152.5,574.5C154.2,570.3 156.2,564.5 160.0,562.0C163.8,559.5 170.0,559.5 175.0,559.5C180.0,559.5 187.5,561.6 190.0,562.0" fill="none" stroke="#0a0a0a" stroke-width="2.3" stroke-linejoin="round" stroke-linecap="round"/>
<path d="M225.0,460.8C226.2,461.8 229.2,465.5 232.5,467.0C235.8,468.5 240.8,468.2 245.0,469.5C249.2,470.8 254.2,472.4 257.5,474.5C260.8,476.6 262.5,479.5 265.0,482.0C267.5,484.5 269.2,488.7 272.5,489.5C275.8,490.3 280.8,487.2 285.0,487.0C289.2,486.8 293.3,487.2 297.5,488.2C301.7,489.3 306.2,493.5 310.0,493.2C313.8,493.0 316.7,489.5 320.0,487.0C323.3,484.5 325.8,481.2 330.0,478.2C334.2,475.3 341.7,470.3 345.0,469.5C348.3,468.7 349.4,470.8 350.0,473.2C350.6,475.8 347.9,480.1 348.8,484.5C349.6,488.9 354.4,494.9 355.0,499.5C355.6,504.1 351.2,508.2 352.5,512.0C353.8,515.8 360.6,518.2 362.5,522.0C364.4,525.8 363.8,531.2 363.8,534.5C363.8,537.8 361.5,539.9 362.5,542.0C363.5,544.1 367.1,545.3 370.0,547.0C372.9,548.7 378.3,551.2 380.0,552.0" fill="none" stroke="#0a0a0a" stroke-width="2.3" stroke-linejoin="round" stroke-linecap="round"/>
<path d="M347.0,470.8C348.3,469.7 352.0,466.3 355.0,464.5C358.0,462.7 362.1,460.6 365.0,460.0C367.9,459.4 369.8,460.2 372.5,460.8C375.2,461.3 379.8,462.8 381.2,463.2" fill="none" stroke="#0a0a0a" stroke-width="2.3" stroke-linejoin="round" stroke-linecap="round"/>
<path d="M190.0,552.0C191.2,551.8 195.4,549.9 197.5,550.8C199.6,551.6 200.0,555.1 202.5,557.0C205.0,558.9 208.8,560.3 212.5,562.0C216.2,563.7 220.8,565.8 225.0,567.0C229.2,568.2 234.6,569.3 237.5,569.5C240.4,569.7 240.0,569.1 242.5,568.2C245.0,567.4 249.2,564.3 252.5,564.5C255.8,564.7 259.2,567.4 262.5,569.5C265.8,571.6 269.6,577.0 272.5,577.0C275.4,577.0 277.1,571.4 280.0,569.5C282.9,567.6 286.7,566.2 290.0,565.8C293.3,565.3 296.7,566.0 300.0,567.0C303.3,568.0 306.7,569.9 310.0,572.0C313.3,574.1 316.7,577.0 320.0,579.5C323.3,582.0 326.7,584.5 330.0,587.0C333.3,589.5 337.5,592.0 340.0,594.5C342.5,597.0 341.7,600.8 345.0,602.0C348.3,603.2 355.8,602.8 360.0,602.0C364.2,601.2 366.7,597.6 370.0,597.0C373.3,596.4 378.3,598.0 380.0,598.2" fill="none" stroke="#0a0a0a" stroke-width="2.3" stroke-linejoin="round" stroke-linecap="round"/>
<path d="M465.0,462.0C466.7,463.2 471.7,466.6 475.0,469.5C478.3,472.4 482.1,476.2 485.0,479.5C487.9,482.8 490.0,487.4 492.5,489.5C495.0,491.6 499.0,489.5 500.0,492.0C501.0,494.5 498.8,500.3 498.8,504.5C498.8,508.7 499.4,513.2 500.0,517.0C500.6,520.8 500.8,524.1 502.5,527.0C504.2,529.9 507.1,531.6 510.0,534.5C512.9,537.4 516.7,541.6 520.0,544.5C523.3,547.4 526.7,549.9 530.0,552.0C533.3,554.1 536.2,555.3 540.0,557.0C543.8,558.7 550.0,559.5 552.5,562.0C555.0,564.5 555.4,568.7 555.0,572.0C554.6,575.3 551.5,579.5 550.0,582.0C548.5,584.5 545.8,584.9 546.2,587.0C546.7,589.1 550.6,592.4 552.5,594.5C554.4,596.6 557.1,597.6 557.5,599.5C557.9,601.4 555.4,604.7 555.0,605.8" fill="none" stroke="#0a0a0a" stroke-width="2.3" stroke-linejoin="round" stroke-linecap="round"/>
<path d="M380.0,549.5C381.2,549.9 385.4,550.3 387.5,552.0C389.6,553.7 392.1,557.4 392.5,559.5C392.9,561.6 392.1,563.5 390.0,564.5C387.9,565.5 383.2,565.7 380.0,565.8C376.8,565.8 373.5,564.2 371.0,565.0C368.5,565.8 365.3,567.7 364.8,570.5C364.2,573.3 366.7,578.8 367.5,582.0C368.3,585.2 370.0,586.7 369.5,589.5C369.0,592.3 364.5,596.9 364.8,599.0C365.0,601.1 370.0,601.5 371.0,602.0" fill="none" stroke="#0a0a0a" stroke-width="2.3" stroke-linejoin="round" stroke-linecap="round"/>
<path d="M380.0,598.2C380.8,598.9 383.8,600.5 385.0,602.0C386.2,603.5 387.1,606.2 387.5,607.0" fill="none" stroke="#0a0a0a" stroke-width="2.3" stroke-linejoin="round" stroke-linecap="round"/>
<path d="M11.2,558.2C11.9,558.9 13.8,559.7 15.0,562.0C16.2,564.3 17.1,568.7 18.8,572.0C20.4,575.3 23.8,579.1 25.0,582.0C26.2,584.9 27.1,587.8 26.2,589.5C25.4,591.2 22.1,592.2 20.0,592.0C17.9,591.8 15.6,590.3 13.8,588.2C11.9,586.2 9.8,582.6 8.8,579.5C7.7,576.4 7.5,572.4 7.5,569.5C7.5,566.6 8.1,563.9 8.8,562.0C9.4,560.1 10.8,558.9 11.2,558.2" fill="#f2f2f2" stroke="#111" stroke-width="1.6" stroke-linejoin="round"/>
<path d="M8.2,589.0C8.8,589.2 10.7,589.3 11.2,590.0C11.8,590.7 12.2,592.6 11.8,593.2C11.3,593.9 9.5,594.3 8.8,594.0C8.0,593.7 7.6,592.3 7.5,591.5C7.4,590.7 8.1,589.4 8.2,589.0" fill="#f2f2f2" stroke="#111" stroke-width="1.6" stroke-linejoin="round"/>
<path d="M27.5,597.0C28.3,596.9 31.5,596.0 32.5,596.5C33.5,597.0 34.2,599.2 33.8,600.0C33.2,600.8 30.6,601.6 29.5,601.5C28.4,601.4 27.3,600.2 27.0,599.5C26.7,598.8 27.4,597.4 27.5,597.0" fill="#f2f2f2" stroke="#111" stroke-width="1.6" stroke-linejoin="round"/>
<path d="M24.5,602.0C25.1,602.1 27.4,601.8 28.0,602.5C28.6,603.2 28.5,605.8 28.0,606.5C27.5,607.2 25.7,607.3 25.0,607.0C24.3,606.7 23.8,605.3 23.8,604.5C23.7,603.7 24.4,602.4 24.5,602.0" fill="#f2f2f2" stroke="#111" stroke-width="1.6" stroke-linejoin="round"/>
<path d="M30.5,604.5C31.1,604.6 33.5,604.2 34.0,605.0C34.5,605.8 34.0,608.8 33.5,609.5C33.0,610.2 31.5,610.3 31.0,609.5C30.5,608.7 30.6,605.3 30.5,604.5" fill="#f2f2f2" stroke="#111" stroke-width="1.6" stroke-linejoin="round"/>
<path d="M1.2,597.0C2.3,597.8 5.8,599.5 7.5,602.0C9.2,604.5 10.8,609.1 11.2,612.0C11.7,614.9 11.9,618.2 10.0,619.5C8.1,620.8 1.7,619.5 0.0,619.5" fill="#f2f2f2" stroke="#111" stroke-width="1.6" stroke-linejoin="round"/>
<text transform="translate(242.0,35.3) scale(0.62,1)" text-anchor="middle" font-size="15" fill="#000">1</text>
<text transform="translate(301.0,69.3) scale(0.62,1)" text-anchor="middle" font-size="15" fill="#000">8</text>
<text transform="translate(331.0,64.3) scale(0.62,1)" text-anchor="middle" font-size="15" fill="#000">4</text>
<text transform="translate(312.0,127.3) scale(0.62,1)" text-anchor="middle" font-size="15" fill="#000">2</text>
<text transform="translate(18.0,115.3) scale(0.62,1)" text-anchor="middle" font-size="15" fill="#000">4</text>
<text transform="translate(151.8,167.3) scale(0.62,1)" text-anchor="middle" font-size="15" fill="#000">0</text>
<text transform="translate(160.4,167.3) scale(0.62,1)" text-anchor="middle" font-size="15" fill="#000">5</text>
<rect x="155.4" y="165.8" width="1.4" height="1.6" fill="#000"/>
<text transform="translate(28.0,183.3) scale(0.62,1)" text-anchor="middle" font-size="15" fill="#000">5</text>
<text transform="translate(38.0,181.3) scale(0.62,1)" text-anchor="middle" font-size="15" fill="#000">6</text>
<text transform="translate(48.0,186.3) scale(0.62,1)" text-anchor="middle" font-size="15" fill="#000">4</text>
<text transform="translate(58.0,189.3) scale(0.62,1)" text-anchor="middle" font-size="15" fill="#000">2</text>
<text transform="translate(67.0,197.3) scale(0.62,1)" text-anchor="middle" font-size="15" fill="#000">3</text>
<text transform="translate(97.0,207.3) scale(0.62,1)" text-anchor="middle" font-size="15" fill="#000">2</text>
<text transform="translate(106.0,207.3) scale(0.62,1)" text-anchor="middle" font-size="15" fill="#000">1</text>
<text transform="translate(87.0,221.3) scale(0.62,1)" text-anchor="middle" font-size="15" fill="#000">7</text>
<text transform="translate(267.8,214.3) scale(0.62,1)" text-anchor="middle" font-size="15" fill="#000">0</text>
<text transform="translate(276.4,214.3) scale(0.62,1)" text-anchor="middle" font-size="15" fill="#000">5</text>
<rect x="271.4" y="212.8" width="1.4" height="1.6" fill="#000"/>
<text transform="translate(341.0,189.3) scale(0.62,1)" text-anchor="middle" font-size="15" fill="#000">3</text>
<text transform="translate(351.0,181.3) scale(0.62,1)" text-anchor="middle" font-size="15" fill="#000">8</text>
<text transform="translate(20.0,237.3) scale(0.62,1)" text-anchor="middle" font-size="15" fill="#000">9</text>
<text transform="translate(116.0,253.3) scale(0.62,1)" text-anchor="middle" font-size="15" fill="#000">6</text>
<text transform="translate(272.0,280.3) scale(0.62,1)" text-anchor="middle" font-size="15" fill="#000">2</text>
<text transform="translate(77.0,311.3) scale(0.62,1)" text-anchor="middle" font-size="15" fill="#000">8</text>
<text transform="translate(86.0,314.3) scale(0.62,1)" text-anchor="middle" font-size="15" fill="#000">9</text>
<text transform="translate(96.0,320.3) scale(0.62,1)" text-anchor="middle" font-size="15" fill="#000">5</text>
<text transform="translate(126.0,345.3) scale(0.62,1)" text-anchor="middle" font-size="15" fill="#000">7</text>
<text transform="translate(175.0,352.3) scale(0.62,1)" text-anchor="middle" font-size="15" fill="#000">1</text>
<text transform="translate(234.0,361.3) scale(0.62,1)" text-anchor="middle" font-size="15" fill="#000">3</text>
<text transform="translate(272.0,367.3) scale(0.62,1)" text-anchor="middle" font-size="15" fill="#000">2</text>
<text transform="translate(87.0,376.3) scale(0.62,1)" text-anchor="middle" font-size="15" fill="#000">20</text>
<text transform="translate(135.0,376.3) scale(0.62,1)" text-anchor="middle" font-size="15" fill="#000">5</text>
<text transform="translate(507.0,26.3) scale(0.62,1)" text-anchor="middle" font-size="15" fill="#000">8</text>
<text transform="translate(585.0,26.3) scale(0.62,1)" text-anchor="middle" font-size="15" fill="#000">10</text>
<text transform="translate(486.0,57.3) scale(0.62,1)" text-anchor="middle" font-size="15" fill="#000">9</text>
<text transform="translate(497.0,102.3) scale(0.62,1)" text-anchor="middle" font-size="15" fill="#000">10</text>
<text transform="translate(634.0,96.3) scale(0.62,1)" text-anchor="middle" font-size="15" fill="#000">15</text>
<text transform="translate(409.0,142.3) scale(0.62,1)" text-anchor="middle" font-size="15" fill="#000">15</text>
<text transform="translate(381.0,57.3) scale(0.62,1)" text-anchor="middle" font-size="15" fill="#000">10</text>
<text transform="translate(633.0,143.3) scale(0.62,1)" text-anchor="middle" font-size="15" fill="#000">2</text>
<text transform="translate(653.0,150.3) scale(0.62,1)" text-anchor="middle" font-size="15" fill="#000">5</text>
<text transform="translate(595.0,159.3) scale(0.62,1)" text-anchor="middle" font-size="15" fill="#000">4</text>
<text transform="translate(477.0,166.3) scale(0.62,1)" text-anchor="middle" font-size="15" fill="#000">9</text>
<text transform="translate(516.0,160.3) scale(0.62,1)" text-anchor="middle" font-size="15" fill="#000">8</text>
<text transform="translate(526.0,165.3) scale(0.62,1)" text-anchor="middle" font-size="15" fill="#000">6</text>
<text transform="translate(496.0,172.3) scale(0.62,1)" text-anchor="middle" font-size="15" fill="#000">5</text>
<text transform="translate(516.0,197.3) scale(0.62,1)" text-anchor="middle" font-size="15" fill="#000">3</text>
<text transform="translate(545.0,211.3) scale(0.62,1)" text-anchor="middle" font-size="15" fill="#000">1</text>
<text transform="translate(419.0,221.3) scale(0.62,1)" text-anchor="middle" font-size="15" fill="#000">6</text>
<text transform="translate(419.0,243.3) scale(0.62,1)" text-anchor="middle" font-size="15" fill="#000">4</text>
<text transform="translate(667.8,206.3) scale(0.62,1)" text-anchor="middle" font-size="15" fill="#000">0</text>
<text transform="translate(676.4,206.3) scale(0.62,1)" text-anchor="middle" font-size="15" fill="#000">5</text>
<rect x="671.4" y="204.8" width="1.4" height="1.6" fill="#000"/>
<text transform="translate(723.0,236.3) scale(0.62,1)" text-anchor="middle" font-size="15" fill="#000">2</text>
<text transform="translate(400.0,342.3) scale(0.62,1)" text-anchor="middle" font-size="15" fill="#000">1</text>
<text transform="translate(48.0,431.3) scale(0.62,1)" text-anchor="middle" font-size="15" fill="#000">15</text>
<text transform="translate(156.0,423.3) scale(0.62,1)" text-anchor="middle" font-size="15" fill="#000">4</text>
<text transform="translate(165.0,437.3) scale(0.62,1)" text-anchor="middle" font-size="15" fill="#000">6</text>
<text transform="translate(185.0,455.3) scale(0.62,1)" text-anchor="middle" font-size="15" fill="#000">8</text>
<text transform="translate(272.0,454.3) scale(0.62,1)" text-anchor="middle" font-size="15" fill="#000">3</text>
<text transform="translate(232.0,531.3) scale(0.62,1)" text-anchor="middle" font-size="15" fill="#000">4</text>
<text transform="translate(243.0,538.3) scale(0.62,1)" text-anchor="middle" font-size="15" fill="#000">2</text>
<text transform="translate(87.0,569.3) scale(0.62,1)" text-anchor="middle" font-size="15" fill="#000">20</text>
<text transform="translate(146.0,563.3) scale(0.62,1)" text-anchor="middle" font-size="15" fill="#000">15</text>
<text transform="translate(156.0,577.3) scale(0.62,1)" text-anchor="middle" font-size="15" fill="#000">6</text>
<text transform="translate(195.0,579.3) scale(0.62,1)" text-anchor="middle" font-size="15" fill="#000">5</text>
<text transform="translate(263.0,592.3) scale(0.62,1)" text-anchor="middle" font-size="15" fill="#000">4</text>
<text transform="translate(658.8,436.3) scale(0.62,1)" text-anchor="middle" font-size="15" fill="#000">0</text>
<text transform="translate(667.4,436.3) scale(0.62,1)" text-anchor="middle" font-size="15" fill="#000">5</text>
<rect x="662.4" y="434.8" width="1.4" height="1.6" fill="#000"/>
<text transform="translate(673.0,539.3) scale(0.62,1)" text-anchor="middle" font-size="15" fill="#000">2</text>
<text transform="translate(711.0,536.3) scale(0.62,1)" text-anchor="middle" font-size="15" fill="#000">4</text>
<text transform="translate(722.0,539.3) scale(0.62,1)" text-anchor="middle" font-size="15" fill="#000">5</text>
<text transform="translate(741.0,535.3) scale(0.62,1)" text-anchor="middle" font-size="15" fill="#000">7</text>
<text transform="translate(663.0,578.3) scale(0.62,1)" text-anchor="middle" font-size="15" fill="#000">3</text>
<text transform="translate(673.0,574.3) scale(0.62,1)" text-anchor="middle" font-size="15" fill="#000">5</text>
<text x="4" y="407" font-size="15" font-weight="bold" fill="#fff" stroke="#000" stroke-width="2.4" paint-order="stroke" textLength="20" lengthAdjust="spacingAndGlyphs">42</text>
<rect x="90.5" y="37.5" width="5" height="5" fill="#fff" stroke="#222" stroke-width="1"/>
<rect x="170.0" y="63.5" width="5" height="5" fill="#fff" stroke="#222" stroke-width="1"/>
<rect x="3.5" y="90.5" width="5" height="5" fill="#fff" stroke="#222" stroke-width="1"/>
<rect x="95.5" y="128.0" width="5" height="5" fill="#fff" stroke="#222" stroke-width="1"/>
<rect x="220.5" y="13.5" width="5" height="5" fill="#fff" stroke="#222" stroke-width="1"/>
<rect x="282.5" y="100.0" width="5" height="5" fill="#fff" stroke="#222" stroke-width="1"/>
<rect x="337.5" y="59.5" width="5" height="5" fill="#fff" stroke="#222" stroke-width="1"/>
<rect x="370.5" y="119.5" width="5" height="5" fill="#fff" stroke="#222" stroke-width="1"/>
<rect x="286.5" y="172.5" width="5" height="5" fill="#fff" stroke="#222" stroke-width="1"/>
<rect x="152.0" y="184.5" width="5" height="5" fill="#fff" stroke="#222" stroke-width="1"/>
<rect x="209.5" y="191.5" width="5" height="5" fill="#fff" stroke="#222" stroke-width="1"/>
<rect x="250.5" y="249.5" width="5" height="5" fill="#fff" stroke="#222" stroke-width="1"/>
<rect x="124.5" y="247.5" width="5" height="5" fill="#fff" stroke="#222" stroke-width="1"/>
<rect x="171.0" y="306.0" width="5" height="5" fill="#fff" stroke="#222" stroke-width="1"/>
<rect x="272.5" y="323.5" width="5" height="5" fill="#fff" stroke="#222" stroke-width="1"/>
<rect x="361.0" y="273.0" width="5" height="5" fill="#fff" stroke="#222" stroke-width="1"/>
<rect x="346.2" y="382.2" width="5" height="5" fill="#fff" stroke="#222" stroke-width="1"/>
<rect x="78.2" y="326.2" width="5" height="5" fill="#fff" stroke="#222" stroke-width="1"/>
<rect x="95.5" y="390.5" width="5" height="5" fill="#fff" stroke="#222" stroke-width="1"/>
<rect x="5.0" y="452.5" width="5" height="5" fill="#fff" stroke="#222" stroke-width="1"/>
<rect x="200.0" y="402.5" width="5" height="5" fill="#fff" stroke="#222" stroke-width="1"/>
<rect x="297.5" y="450.5" width="5" height="5" fill="#fff" stroke="#222" stroke-width="1"/>
<rect x="120.5" y="482.0" width="5" height="5" fill="#fff" stroke="#222" stroke-width="1"/>
<rect x="231.5" y="480.2" width="5" height="5" fill="#fff" stroke="#222" stroke-width="1"/>
<rect x="333.2" y="514.0" width="5" height="5" fill="#fff" stroke="#222" stroke-width="1"/>
<rect x="0.5" y="543.5" width="5" height="5" fill="#fff" stroke="#222" stroke-width="1"/>
<rect x="112.0" y="605.5" width="5" height="5" fill="#fff" stroke="#222" stroke-width="1"/>
<rect x="217.0" y="611.5" width="5" height="5" fill="#fff" stroke="#222" stroke-width="1"/>
<rect x="490.5" y="9.2" width="5" height="5" fill="#fff" stroke="#222" stroke-width="1"/>
<rect x="459.5" y="80.0" width="5" height="5" fill="#fff" stroke="#222" stroke-width="1"/>
<rect x="534.5" y="122.0" width="5" height="5" fill="#fff" stroke="#222" stroke-width="1"/>
<rect x="710.5" y="43.5" width="5" height="5" fill="#fff" stroke="#222" stroke-width="1"/>
<rect x="616.5" y="133.2" width="5" height="5" fill="#fff" stroke="#222" stroke-width="1"/>
<rect x="694.5" y="188.2" width="5" height="5" fill="#fff" stroke="#222" stroke-width="1"/>
<rect x="420.5" y="199.0" width="5" height="5" fill="#fff" stroke="#222" stroke-width="1"/>
<rect x="498.5" y="198.2" width="5" height="5" fill="#fff" stroke="#222" stroke-width="1"/>
<rect x="429.5" y="272.2" width="5" height="5" fill="#fff" stroke="#222" stroke-width="1"/>
<rect x="563.0" y="269.0" width="5" height="5" fill="#fff" stroke="#222" stroke-width="1"/>
<rect x="629.5" y="250.2" width="5" height="5" fill="#fff" stroke="#222" stroke-width="1"/>
<rect x="716.5" y="253.2" width="5" height="5" fill="#fff" stroke="#222" stroke-width="1"/>
<rect x="675.5" y="312.5" width="5" height="5" fill="#fff" stroke="#222" stroke-width="1"/>
<rect x="717.5" y="363.5" width="5" height="5" fill="#fff" stroke="#222" stroke-width="1"/>
<rect x="412.5" y="346.0" width="5" height="5" fill="#fff" stroke="#222" stroke-width="1"/>
<rect x="521.2" y="374.2" width="5" height="5" fill="#fff" stroke="#222" stroke-width="1"/>
<rect x="447.5" y="427.2" width="5" height="5" fill="#fff" stroke="#222" stroke-width="1"/>
<rect x="407.5" y="482.5" width="5" height="5" fill="#fff" stroke="#222" stroke-width="1"/>
<rect x="424.2" y="552.5" width="5" height="5" fill="#fff" stroke="#222" stroke-width="1"/>
<rect x="532.5" y="490.2" width="5" height="5" fill="#fff" stroke="#222" stroke-width="1"/>
<rect x="584.2" y="547.5" width="5" height="5" fill="#fff" stroke="#222" stroke-width="1"/>
<rect x="664.5" y="489.5" width="5" height="5" fill="#fff" stroke="#222" stroke-width="1"/>
<rect x="692.5" y="578.5" width="5" height="5" fill="#fff" stroke="#222" stroke-width="1"/>
<g filter="url(#halo)" opacity="0.9"><text x="76.0" y="36.0" font-size="10.5" textLength="34.0" lengthAdjust="spacingAndGlyphs" fill="#000" stroke="#000" stroke-width="2.2" stroke-linejoin="round">Jihlava</text><text x="162.0" y="60.0" font-size="10.5" textLength="23.5" lengthAdjust="spacingAndGlyphs" fill="#000" stroke="#000" stroke-width="2.2" stroke-linejoin="round">Brno</text><text x="0.0" y="77.0" font-size="10.5" textLength="21.0" lengthAdjust="spacingAndGlyphs" fill="#000" stroke="#000" stroke-width="2.2" stroke-linejoin="round">eské</text><text x="0.0" y="88.0" font-size="10.5" textLength="34.0" lengthAdjust="spacingAndGlyphs" fill="#000" stroke="#000" stroke-width="2.2" stroke-linejoin="round">jovice</text><text x="87.0" y="126.0" font-size="10.5" textLength="23.0" lengthAdjust="spacingAndGlyphs" fill="#000" stroke="#000" stroke-width="2.2" stroke-linejoin="round">Horn</text><text x="202.0" y="11.0" font-size="10.5" textLength="43.0" lengthAdjust="spacingAndGlyphs" fill="#000" stroke="#000" stroke-width="2.2" stroke-linejoin="round">Olomouc</text><text x="266.0" y="98.0" font-size="10.5" textLength="38.5" lengthAdjust="spacingAndGlyphs" fill="#000" stroke="#000" stroke-width="2.2" stroke-linejoin="round">Trenčín</text><text x="326.0" y="57.0" font-size="10.5" textLength="28.0" lengthAdjust="spacingAndGlyphs" fill="#000" stroke="#000" stroke-width="2.2" stroke-linejoin="round">Žilina</text><text x="357.0" y="107.0" font-size="10.5" textLength="35.0" lengthAdjust="spacingAndGlyphs" fill="#000" stroke="#000" stroke-width="2.2" stroke-linejoin="round">Banská</text><text x="352.0" y="118.0" font-size="10.5" textLength="41.0" lengthAdjust="spacingAndGlyphs" fill="#000" stroke="#000" stroke-width="2.2" stroke-linejoin="round">Bystrica</text><text x="277.5" y="169.5" font-size="10.5" textLength="23.5" lengthAdjust="spacingAndGlyphs" fill="#000" stroke="#000" stroke-width="2.2" stroke-linejoin="round">Nitra</text><text x="141.0" y="182.0" font-size="10.5" textLength="26.5" lengthAdjust="spacingAndGlyphs" fill="#000" stroke="#000" stroke-width="2.2" stroke-linejoin="round">Wien</text><text x="187.5" y="188.5" font-size="10.5" textLength="51.5" lengthAdjust="spacingAndGlyphs" fill="#000" stroke="#000" stroke-width="2.2" stroke-linejoin="round">Bratislava</text><text x="241.0" y="247.0" font-size="10.5" textLength="24.0" lengthAdjust="spacingAndGlyphs" fill="#000" stroke="#000" stroke-width="2.2" stroke-linejoin="round">Győr</text><text x="110.0" y="244.5" font-size="10.5" textLength="35.0" lengthAdjust="spacingAndGlyphs" fill="#000" stroke="#000" stroke-width="2.2" stroke-linejoin="round">Ternitz</text><text x="141.0" y="304.0" font-size="10.5" textLength="66.5" lengthAdjust="spacingAndGlyphs" fill="#000" stroke="#000" stroke-width="2.2" stroke-linejoin="round">Szombathely</text><text x="250.5" y="321.8" font-size="10.5" textLength="49.5" lengthAdjust="spacingAndGlyphs" fill="#000" stroke="#000" stroke-width="2.2" stroke-linejoin="round">Veszprém</text><text x="338.8" y="270.0" font-size="10.5" textLength="50.0" lengthAdjust="spacingAndGlyphs" fill="#000" stroke="#000" stroke-width="2.2" stroke-linejoin="round">Budapest</text><text x="338.0" y="379.5" font-size="10.5" textLength="23.0" lengthAdjust="spacingAndGlyphs" fill="#000" stroke="#000" stroke-width="2.2" stroke-linejoin="round">Paks</text><text x="71.0" y="323.5" font-size="10.5" textLength="22.0" lengthAdjust="spacingAndGlyphs" fill="#000" stroke="#000" stroke-width="2.2" stroke-linejoin="round">Graz</text><text x="79.0" y="388.0" font-size="10.5" textLength="37.0" lengthAdjust="spacingAndGlyphs" fill="#000" stroke="#000" stroke-width="2.2" stroke-linejoin="round">Maribor</text><text x="1.0" y="380.0" font-size="10.5" textLength="19.0" lengthAdjust="spacingAndGlyphs" fill="#000" stroke="#000" stroke-width="2.2" stroke-linejoin="round">furt</text><text x="0.0" y="450.0" font-size="10.5" textLength="32.5" lengthAdjust="spacingAndGlyphs" fill="#000" stroke="#000" stroke-width="2.2" stroke-linejoin="round">oljana</text><text x="171.0" y="401.5" font-size="10.5" textLength="64.0" lengthAdjust="spacingAndGlyphs" fill="#000" stroke="#000" stroke-width="2.2" stroke-linejoin="round">Nagykanizsa</text><text x="289.0" y="448.5" font-size="10.5" textLength="22.0" lengthAdjust="spacingAndGlyphs" fill="#000" stroke="#000" stroke-width="2.2" stroke-linejoin="round">Pécs</text><text x="104.5" y="479.0" font-size="10.5" textLength="38.5" lengthAdjust="spacingAndGlyphs" fill="#000" stroke="#000" stroke-width="2.2" stroke-linejoin="round">Zagreb</text><text x="210.0" y="477.5" font-size="10.5" textLength="47.5" lengthAdjust="spacingAndGlyphs" fill="#000" stroke="#000" stroke-width="2.2" stroke-linejoin="round">Virovitica</text><text x="320.5" y="512.0" font-size="10.5" textLength="30.5" lengthAdjust="spacingAndGlyphs" fill="#000" stroke="#000" stroke-width="2.2" stroke-linejoin="round">Osijek</text><text x="0.0" y="540.0" font-size="10.5" textLength="17.5" lengthAdjust="spacingAndGlyphs" fill="#000" stroke="#000" stroke-width="2.2" stroke-linejoin="round">eka</text><text x="102.0" y="604.0" font-size="10.5" textLength="27.0" lengthAdjust="spacingAndGlyphs" fill="#000" stroke="#000" stroke-width="2.2" stroke-linejoin="round">Bihać</text><text x="192.5" y="609.5" font-size="10.5" textLength="51.5" lengthAdjust="spacingAndGlyphs" fill="#000" stroke="#000" stroke-width="2.2" stroke-linejoin="round">Banja Luka</text><text x="275.0" y="613.5" font-size="10.5" textLength="25.0" lengthAdjust="spacingAndGlyphs" fill="#000" stroke="#000" stroke-width="2.2" stroke-linejoin="round">Doboj</text><text x="466.0" y="7.0" font-size="10.5" textLength="54.0" lengthAdjust="spacingAndGlyphs" fill="#000" stroke="#000" stroke-width="2.2" stroke-linejoin="round">Nowy Sącz</text><text x="444.5" y="77.5" font-size="10.5" textLength="35.5" lengthAdjust="spacingAndGlyphs" fill="#000" stroke="#000" stroke-width="2.2" stroke-linejoin="round">Poprad</text><text x="521.0" y="119.5" font-size="10.5" textLength="31.5" lengthAdjust="spacingAndGlyphs" fill="#000" stroke="#000" stroke-width="2.2" stroke-linejoin="round">Košice</text><text x="681.0" y="41.0" font-size="10.5" textLength="65.0" lengthAdjust="spacingAndGlyphs" fill="#000" stroke="#000" stroke-width="2.2" stroke-linejoin="round">Drohobytsch</text><text x="592.5" y="131.0" font-size="10.5" textLength="53.5" lengthAdjust="spacingAndGlyphs" fill="#000" stroke="#000" stroke-width="2.2" stroke-linejoin="round">Uschhorod</text><text x="682.5" y="186.0" font-size="10.5" textLength="30.0" lengthAdjust="spacingAndGlyphs" fill="#000" stroke="#000" stroke-width="2.2" stroke-linejoin="round">Chust</text><text x="394.0" y="196.5" font-size="10.5" textLength="58.5" lengthAdjust="spacingAndGlyphs" fill="#000" stroke="#000" stroke-width="2.2" stroke-linejoin="round">Salgótarján</text><text x="482.5" y="195.5" font-size="10.5" textLength="36.5" lengthAdjust="spacingAndGlyphs" fill="#000" stroke="#000" stroke-width="2.2" stroke-linejoin="round">Miskolc</text><text x="404.0" y="269.5" font-size="10.5" textLength="56.0" lengthAdjust="spacingAndGlyphs" fill="#000" stroke="#000" stroke-width="2.2" stroke-linejoin="round">Jászberény</text><text x="542.5" y="266.5" font-size="10.5" textLength="47.5" lengthAdjust="spacingAndGlyphs" fill="#000" stroke="#000" stroke-width="2.2" stroke-linejoin="round">Debrecen</text><text x="619.5" y="248.0" font-size="10.5" textLength="25.5" lengthAdjust="spacingAndGlyphs" fill="#000" stroke="#000" stroke-width="2.2" stroke-linejoin="round">Carei</text><text x="695.0" y="251.0" font-size="10.5" textLength="47.5" lengthAdjust="spacingAndGlyphs" fill="#000" stroke="#000" stroke-width="2.2" stroke-linejoin="round">Baia Mare</text><text x="664.0" y="311.0" font-size="10.5" textLength="28.5" lengthAdjust="spacingAndGlyphs" fill="#000" stroke="#000" stroke-width="2.2" stroke-linejoin="round">Zalău</text><text x="690.5" y="361.0" font-size="10.5" textLength="59.0" lengthAdjust="spacingAndGlyphs" fill="#000" stroke="#000" stroke-width="2.2" stroke-linejoin="round">Cluj-Napoca</text><text x="387.0" y="344.5" font-size="10.5" textLength="55.5" lengthAdjust="spacingAndGlyphs" fill="#000" stroke="#000" stroke-width="2.2" stroke-linejoin="round">Kecskemét</text><text x="493.8" y="372.0" font-size="10.5" textLength="60.0" lengthAdjust="spacingAndGlyphs" fill="#000" stroke="#000" stroke-width="2.2" stroke-linejoin="round">Békéscsaba</text><text x="433.8" y="424.5" font-size="10.5" textLength="33.8" lengthAdjust="spacingAndGlyphs" fill="#000" stroke="#000" stroke-width="2.2" stroke-linejoin="round">Szeged</text><text x="395.0" y="468.5" font-size="10.5" textLength="30.0" lengthAdjust="spacingAndGlyphs" fill="#000" stroke="#000" stroke-width="2.2" stroke-linejoin="round">Бачка</text><text x="391.0" y="479.5" font-size="10.5" textLength="38.0" lengthAdjust="spacingAndGlyphs" fill="#000" stroke="#000" stroke-width="2.2" stroke-linejoin="round">Топола</text><text x="402.5" y="549.0" font-size="10.5" textLength="48.5" lengthAdjust="spacingAndGlyphs" fill="#000" stroke="#000" stroke-width="2.2" stroke-linejoin="round">Нови Сад</text><text x="453.8" y="602.5" font-size="10.5" textLength="42.2" lengthAdjust="spacingAndGlyphs" fill="#000" stroke="#000" stroke-width="2.2" stroke-linejoin="round">Belgrad</text><text x="511.0" y="487.5" font-size="10.5" textLength="48.0" lengthAdjust="spacingAndGlyphs" fill="#000" stroke="#000" stroke-width="2.2" stroke-linejoin="round">Timișoara</text><text x="572.0" y="545.0" font-size="10.5" textLength="30.5" lengthAdjust="spacingAndGlyphs" fill="#000" stroke="#000" stroke-width="2.2" stroke-linejoin="round">Reșița</text><text x="638.8" y="487.0" font-size="10.5" textLength="55.2" lengthAdjust="spacingAndGlyphs" fill="#000" stroke="#000" stroke-width="2.2" stroke-linejoin="round">Hunedoara</text><text x="681.0" y="565.0" font-size="10.5" textLength="29.0" lengthAdjust="spacingAndGlyphs" fill="#000" stroke="#000" stroke-width="2.2" stroke-linejoin="round">Târgu</text><text x="689.0" y="575.8" font-size="10.5" textLength="12.0" lengthAdjust="spacingAndGlyphs" fill="#000" stroke="#000" stroke-width="2.2" stroke-linejoin="round">Jiu</text><text x="625.0" y="605.0" font-size="10.5" textLength="44.0" lengthAdjust="spacingAndGlyphs" fill="#000" stroke="#000" stroke-width="2.2" stroke-linejoin="round">Drobeta-</text><text x="754.0" y="481.5" font-size="10.5" textLength="22.0" lengthAdjust="spacingAndGlyphs" fill="#000" stroke="#000" stroke-width="2.2" stroke-linejoin="round">Sibiu</text><text x="750.0" y="416.0" font-size="10.5" textLength="29.0" lengthAdjust="spacingAndGlyphs" fill="#000" stroke="#000" stroke-width="2.2" stroke-linejoin="round">Târgu</text></g>
<g filter="url(#halo)" opacity="0.6"><text x="76.0" y="36.0" font-size="10.5" textLength="34.0" lengthAdjust="spacingAndGlyphs" fill="#000" stroke="#000" stroke-width="2.2" stroke-linejoin="round">Jihlava</text><text x="162.0" y="60.0" font-size="10.5" textLength="23.5" lengthAdjust="spacingAndGlyphs" fill="#000" stroke="#000" stroke-width="2.2" stroke-linejoin="round">Brno</text><text x="0.0" y="77.0" font-size="10.5" textLength="21.0" lengthAdjust="spacingAndGlyphs" fill="#000" stroke="#000" stroke-width="2.2" stroke-linejoin="round">eské</text><text x="0.0" y="88.0" font-size="10.5" textLength="34.0" lengthAdjust="spacingAndGlyphs" fill="#000" stroke="#000" stroke-width="2.2" stroke-linejoin="round">jovice</text><text x="87.0" y="126.0" font-size="10.5" textLength="23.0" lengthAdjust="spacingAndGlyphs" fill="#000" stroke="#000" stroke-width="2.2" stroke-linejoin="round">Horn</text><text x="202.0" y="11.0" font-size="10.5" textLength="43.0" lengthAdjust="spacingAndGlyphs" fill="#000" stroke="#000" stroke-width="2.2" stroke-linejoin="round">Olomouc</text><text x="266.0" y="98.0" font-size="10.5" textLength="38.5" lengthAdjust="spacingAndGlyphs" fill="#000" stroke="#000" stroke-width="2.2" stroke-linejoin="round">Trenčín</text><text x="326.0" y="57.0" font-size="10.5" textLength="28.0" lengthAdjust="spacingAndGlyphs" fill="#000" stroke="#000" stroke-width="2.2" stroke-linejoin="round">Žilina</text><text x="357.0" y="107.0" font-size="10.5" textLength="35.0" lengthAdjust="spacingAndGlyphs" fill="#000" stroke="#000" stroke-width="2.2" stroke-linejoin="round">Banská</text><text x="352.0" y="118.0" font-size="10.5" textLength="41.0" lengthAdjust="spacingAndGlyphs" fill="#000" stroke="#000" stroke-width="2.2" stroke-linejoin="round">Bystrica</text><text x="277.5" y="169.5" font-size="10.5" textLength="23.5" lengthAdjust="spacingAndGlyphs" fill="#000" stroke="#000" stroke-width="2.2" stroke-linejoin="round">Nitra</text><text x="141.0" y="182.0" font-size="10.5" textLength="26.5" lengthAdjust="spacingAndGlyphs" fill="#000" stroke="#000" stroke-width="2.2" stroke-linejoin="round">Wien</text><text x="187.5" y="188.5" font-size="10.5" textLength="51.5" lengthAdjust="spacingAndGlyphs" fill="#000" stroke="#000" stroke-width="2.2" stroke-linejoin="round">Bratislava</text><text x="241.0" y="247.0" font-size="10.5" textLength="24.0" lengthAdjust="spacingAndGlyphs" fill="#000" stroke="#000" stroke-width="2.2" stroke-linejoin="round">Győr</text><text x="110.0" y="244.5" font-size="10.5" textLength="35.0" lengthAdjust="spacingAndGlyphs" fill="#000" stroke="#000" stroke-width="2.2" stroke-linejoin="round">Ternitz</text><text x="141.0" y="304.0" font-size="10.5" textLength="66.5" lengthAdjust="spacingAndGlyphs" fill="#000" stroke="#000" stroke-width="2.2" stroke-linejoin="round">Szombathely</text><text x="250.5" y="321.8" font-size="10.5" textLength="49.5" lengthAdjust="spacingAndGlyphs" fill="#000" stroke="#000" stroke-width="2.2" stroke-linejoin="round">Veszprém</text><text x="338.8" y="270.0" font-size="10.5" textLength="50.0" lengthAdjust="spacingAndGlyphs" fill="#000" stroke="#000" stroke-width="2.2" stroke-linejoin="round">Budapest</text><text x="338.0" y="379.5" font-size="10.5" textLength="23.0" lengthAdjust="spacingAndGlyphs" fill="#000" stroke="#000" stroke-width="2.2" stroke-linejoin="round">Paks</text><text x="71.0" y="323.5" font-size="10.5" textLength="22.0" lengthAdjust="spacingAndGlyphs" fill="#000" stroke="#000" stroke-width="2.2" stroke-linejoin="round">Graz</text><text x="79.0" y="388.0" font-size="10.5" textLength="37.0" lengthAdjust="spacingAndGlyphs" fill="#000" stroke="#000" stroke-width="2.2" stroke-linejoin="round">Maribor</text><text x="1.0" y="380.0" font-size="10.5" textLength="19.0" lengthAdjust="spacingAndGlyphs" fill="#000" stroke="#000" stroke-width="2.2" stroke-linejoin="round">furt</text><text x="0.0" y="450.0" font-size="10.5" textLength="32.5" lengthAdjust="spacingAndGlyphs" fill="#000" stroke="#000" stroke-width="2.2" stroke-linejoin="round">oljana</text><text x="171.0" y="401.5" font-size="10.5" textLength="64.0" lengthAdjust="spacingAndGlyphs" fill="#000" stroke="#000" stroke-width="2.2" stroke-linejoin="round">Nagykanizsa</text><text x="289.0" y="448.5" font-size="10.5" textLength="22.0" lengthAdjust="spacingAndGlyphs" fill="#000" stroke="#000" stroke-width="2.2" stroke-linejoin="round">Pécs</text><text x="104.5" y="479.0" font-size="10.5" textLength="38.5" lengthAdjust="spacingAndGlyphs" fill="#000" stroke="#000" stroke-width="2.2" stroke-linejoin="round">Zagreb</text><text x="210.0" y="477.5" font-size="10.5" textLength="47.5" lengthAdjust="spacingAndGlyphs" fill="#000" stroke="#000" stroke-width="2.2" stroke-linejoin="round">Virovitica</text><text x="320.5" y="512.0" font-size="10.5" textLength="30.5" lengthAdjust="spacingAndGlyphs" fill="#000" stroke="#000" stroke-width="2.2" stroke-linejoin="round">Osijek</text><text x="0.0" y="540.0" font-size="10.5" textLength="17.5" lengthAdjust="spacingAndGlyphs" fill="#000" stroke="#000" stroke-width="2.2" stroke-linejoin="round">eka</text><text x="102.0" y="604.0" font-size="10.5" textLength="27.0" lengthAdjust="spacingAndGlyphs" fill="#000" stroke="#000" stroke-width="2.2" stroke-linejoin="round">Bihać</text><text x="192.5" y="609.5" font-size="10.5" textLength="51.5" lengthAdjust="spacingAndGlyphs" fill="#000" stroke="#000" stroke-width="2.2" stroke-linejoin="round">Banja Luka</text><text x="275.0" y="613.5" font-size="10.5" textLength="25.0" lengthAdjust="spacingAndGlyphs" fill="#000" stroke="#000" stroke-width="2.2" stroke-linejoin="round">Doboj</text><text x="466.0" y="7.0" font-size="10.5" textLength="54.0" lengthAdjust="spacingAndGlyphs" fill="#000" stroke="#000" stroke-width="2.2" stroke-linejoin="round">Nowy Sącz</text><text x="444.5" y="77.5" font-size="10.5" textLength="35.5" lengthAdjust="spacingAndGlyphs" fill="#000" stroke="#000" stroke-width="2.2" stroke-linejoin="round">Poprad</text><text x="521.0" y="119.5" font-size="10.5" textLength="31.5" lengthAdjust="spacingAndGlyphs" fill="#000" stroke="#000" stroke-width="2.2" stroke-linejoin="round">Košice</text><text x="681.0" y="41.0" font-size="10.5" textLength="65.0" lengthAdjust="spacingAndGlyphs" fill="#000" stroke="#000" stroke-width="2.2" stroke-linejoin="round">Drohobytsch</text><text x="592.5" y="131.0" font-size="10.5" textLength="53.5" lengthAdjust="spacingAndGlyphs" fill="#000" stroke="#000" stroke-width="2.2" stroke-linejoin="round">Uschhorod</text><text x="682.5" y="186.0" font-size="10.5" textLength="30.0" lengthAdjust="spacingAndGlyphs" fill="#000" stroke="#000" stroke-width="2.2" stroke-linejoin="round">Chust</text><text x="394.0" y="196.5" font-size="10.5" textLength="58.5" lengthAdjust="spacingAndGlyphs" fill="#000" stroke="#000" stroke-width="2.2" stroke-linejoin="round">Salgótarján</text><text x="482.5" y="195.5" font-size="10.5" textLength="36.5" lengthAdjust="spacingAndGlyphs" fill="#000" stroke="#000" stroke-width="2.2" stroke-linejoin="round">Miskolc</text><text x="404.0" y="269.5" font-size="10.5" textLength="56.0" lengthAdjust="spacingAndGlyphs" fill="#000" stroke="#000" stroke-width="2.2" stroke-linejoin="round">Jászberény</text><text x="542.5" y="266.5" font-size="10.5" textLength="47.5" lengthAdjust="spacingAndGlyphs" fill="#000" stroke="#000" stroke-width="2.2" stroke-linejoin="round">Debrecen</text><text x="619.5" y="248.0" font-size="10.5" textLength="25.5" lengthAdjust="spacingAndGlyphs" fill="#000" stroke="#000" stroke-width="2.2" stroke-linejoin="round">Carei</text><text x="695.0" y="251.0" font-size="10.5" textLength="47.5" lengthAdjust="spacingAndGlyphs" fill="#000" stroke="#000" stroke-width="2.2" stroke-linejoin="round">Baia Mare</text><text x="664.0" y="311.0" font-size="10.5" textLength="28.5" lengthAdjust="spacingAndGlyphs" fill="#000" stroke="#000" stroke-width="2.2" stroke-linejoin="round">Zalău</text><text x="690.5" y="361.0" font-size="10.5" textLength="59.0" lengthAdjust="spacingAndGlyphs" fill="#000" stroke="#000" stroke-width="2.2" stroke-linejoin="round">Cluj-Napoca</text><text x="387.0" y="344.5" font-size="10.5" textLength="55.5" lengthAdjust="spacingAndGlyphs" fill="#000" stroke="#000" stroke-width="2.2" stroke-linejoin="round">Kecskemét</text><text x="493.8" y="372.0" font-size="10.5" textLength="60.0" lengthAdjust="spacingAndGlyphs" fill="#000" stroke="#000" stroke-width="2.2" stroke-linejoin="round">Békéscsaba</text><text x="433.8" y="424.5" font-size="10.5" textLength="33.8" lengthAdjust="spacingAndGlyphs" fill="#000" stroke="#000" stroke-width="2.2" stroke-linejoin="round">Szeged</text><text x="395.0" y="468.5" font-size="10.5" textLength="30.0" lengthAdjust="spacingAndGlyphs" fill="#000" stroke="#000" stroke-width="2.2" stroke-linejoin="round">Бачка</text><text x="391.0" y="479.5" font-size="10.5" textLength="38.0" lengthAdjust="spacingAndGlyphs" fill="#000" stroke="#000" stroke-width="2.2" stroke-linejoin="round">Топола</text><text x="402.5" y="549.0" font-size="10.5" textLength="48.5" lengthAdjust="spacingAndGlyphs" fill="#000" stroke="#000" stroke-width="2.2" stroke-linejoin="round">Нови Сад</text><text x="453.8" y="602.5" font-size="10.5" textLength="42.2" lengthAdjust="spacingAndGlyphs" fill="#000" stroke="#000" stroke-width="2.2" stroke-linejoin="round">Belgrad</text><text x="511.0" y="487.5" font-size="10.5" textLength="48.0" lengthAdjust="spacingAndGlyphs" fill="#000" stroke="#000" stroke-width="2.2" stroke-linejoin="round">Timișoara</text><text x="572.0" y="545.0" font-size="10.5" textLength="30.5" lengthAdjust="spacingAndGlyphs" fill="#000" stroke="#000" stroke-width="2.2" stroke-linejoin="round">Reșița</text><text x="638.8" y="487.0" font-size="10.5" textLength="55.2" lengthAdjust="spacingAndGlyphs" fill="#000" stroke="#000" stroke-width="2.2" stroke-linejoin="round">Hunedoara</text><text x="681.0" y="565.0" font-size="10.5" textLength="29.0" lengthAdjust="spacingAndGlyphs" fill="#000" stroke="#000" stroke-width="2.2" stroke-linejoin="round">Târgu</text><text x="689.0" y="575.8" font-size="10.5" textLength="12.0" lengthAdjust="spacingAndGlyphs" fill="#000" stroke="#000" stroke-width="2.2" stroke-linejoin="round">Jiu</text><text x="625.0" y="605.0" font-size="10.5" textLength="44.0" lengthAdjust="spacingAndGlyphs" fill="#000" stroke="#000" stroke-width="2.2" stroke-linejoin="round">Drobeta-</text><text x="754.0" y="481.5" font-size="10.5" textLength="22.0" lengthAdjust="spacingAndGlyphs" fill="#000" stroke="#000" stroke-width="2.2" stroke-linejoin="round">Sibiu</text><text x="750.0" y="416.0" font-size="10.5" textLength="29.0" lengthAdjust="spacingAndGlyphs" fill="#000" stroke="#000" stroke-width="2.2" stroke-linejoin="round">Târgu</text></g>
<text x="76.0" y="36.0" font-size="10.5" textLength="34.0" lengthAdjust="spacingAndGlyphs" fill="#fff">Jihlava</text><text x="162.0" y="60.0" font-size="10.5" textLength="23.5" lengthAdjust="spacingAndGlyphs" fill="#fff">Brno</text><text x="0.0" y="77.0" font-size="10.5" textLength="21.0" lengthAdjust="spacingAndGlyphs" fill="#fff">eské</text><text x="0.0" y="88.0" font-size="10.5" textLength="34.0" lengthAdjust="spacingAndGlyphs" fill="#fff">jovice</text><text x="87.0" y="126.0" font-size="10.5" textLength="23.0" lengthAdjust="spacingAndGlyphs" fill="#fff">Horn</text><text x="202.0" y="11.0" font-size="10.5" textLength="43.0" lengthAdjust="spacingAndGlyphs" fill="#fff">Olomouc</text><text x="266.0" y="98.0" font-size="10.5" textLength="38.5" lengthAdjust="spacingAndGlyphs" fill="#fff">Trenčín</text><text x="326.0" y="57.0" font-size="10.5" textLength="28.0" lengthAdjust="spacingAndGlyphs" fill="#fff">Žilina</text><text x="357.0" y="107.0" font-size="10.5" textLength="35.0" lengthAdjust="spacingAndGlyphs" fill="#fff">Banská</text><text x="352.0" y="118.0" font-size="10.5" textLength="41.0" lengthAdjust="spacingAndGlyphs" fill="#fff">Bystrica</text><text x="277.5" y="169.5" font-size="10.5" textLength="23.5" lengthAdjust="spacingAndGlyphs" fill="#fff">Nitra</text><text x="141.0" y="182.0" font-size="10.5" textLength="26.5" lengthAdjust="spacingAndGlyphs" fill="#fff">Wien</text><text x="187.5" y="188.5" font-size="10.5" textLength="51.5" lengthAdjust="spacingAndGlyphs" fill="#fff">Bratislava</text><text x="241.0" y="247.0" font-size="10.5" textLength="24.0" lengthAdjust="spacingAndGlyphs" fill="#fff">Győr</text><text x="110.0" y="244.5" font-size="10.5" textLength="35.0" lengthAdjust="spacingAndGlyphs" fill="#fff">Ternitz</text><text x="141.0" y="304.0" font-size="10.5" textLength="66.5" lengthAdjust="spacingAndGlyphs" fill="#fff">Szombathely</text><text x="250.5" y="321.8" font-size="10.5" textLength="49.5" lengthAdjust="spacingAndGlyphs" fill="#fff">Veszprém</text><text x="338.8" y="270.0" font-size="10.5" textLength="50.0" lengthAdjust="spacingAndGlyphs" fill="#fff">Budapest</text><text x="338.0" y="379.5" font-size="10.5" textLength="23.0" lengthAdjust="spacingAndGlyphs" fill="#fff">Paks</text><text x="71.0" y="323.5" font-size="10.5" textLength="22.0" lengthAdjust="spacingAndGlyphs" fill="#fff">Graz</text><text x="79.0" y="388.0" font-size="10.5" textLength="37.0" lengthAdjust="spacingAndGlyphs" fill="#fff">Maribor</text><text x="1.0" y="380.0" font-size="10.5" textLength="19.0" lengthAdjust="spacingAndGlyphs" fill="#fff">furt</text><text x="0.0" y="450.0" font-size="10.5" textLength="32.5" lengthAdjust="spacingAndGlyphs" fill="#fff">oljana</text><text x="171.0" y="401.5" font-size="10.5" textLength="64.0" lengthAdjust="spacingAndGlyphs" fill="#fff">Nagykanizsa</text><text x="289.0" y="448.5" font-size="10.5" textLength="22.0" lengthAdjust="spacingAndGlyphs" fill="#fff">Pécs</text><text x="104.5" y="479.0" font-size="10.5" textLength="38.5" lengthAdjust="spacingAndGlyphs" fill="#fff">Zagreb</text><text x="210.0" y="477.5" font-size="10.5" textLength="47.5" lengthAdjust="spacingAndGlyphs" fill="#fff">Virovitica</text><text x="320.5" y="512.0" font-size="10.5" textLength="30.5" lengthAdjust="spacingAndGlyphs" fill="#fff">Osijek</text><text x="0.0" y="540.0" font-size="10.5" textLength="17.5" lengthAdjust="spacingAndGlyphs" fill="#fff">eka</text><text x="102.0" y="604.0" font-size="10.5" textLength="27.0" lengthAdjust="spacingAndGlyphs" fill="#fff">Bihać</text><text x="192.5" y="609.5" font-size="10.5" textLength="51.5" lengthAdjust="spacingAndGlyphs" fill="#fff">Banja Luka</text><text x="275.0" y="613.5" font-size="10.5" textLength="25.0" lengthAdjust="spacingAndGlyphs" fill="#fff">Doboj</text><text x="466.0" y="7.0" font-size="10.5" textLength="54.0" lengthAdjust="spacingAndGlyphs" fill="#fff">Nowy Sącz</text><text x="444.5" y="77.5" font-size="10.5" textLength="35.5" lengthAdjust="spacingAndGlyphs" fill="#fff">Poprad</text><text x="521.0" y="119.5" font-size="10.5" textLength="31.5" lengthAdjust="spacingAndGlyphs" fill="#fff">Košice</text><text x="681.0" y="41.0" font-size="10.5" textLength="65.0" lengthAdjust="spacingAndGlyphs" fill="#fff">Drohobytsch</text><text x="592.5" y="131.0" font-size="10.5" textLength="53.5" lengthAdjust="spacingAndGlyphs" fill="#fff">Uschhorod</text><text x="682.5" y="186.0" font-size="10.5" textLength="30.0" lengthAdjust="spacingAndGlyphs" fill="#fff">Chust</text><text x="394.0" y="196.5" font-size="10.5" textLength="58.5" lengthAdjust="spacingAndGlyphs" fill="#fff">Salgótarján</text><text x="482.5" y="195.5" font-size="10.5" textLength="36.5" lengthAdjust="spacingAndGlyphs" fill="#fff">Miskolc</text><text x="404.0" y="269.5" font-size="10.5" textLength="56.0" lengthAdjust="spacingAndGlyphs" fill="#fff">Jászberény</text><text x="542.5" y="266.5" font-size="10.5" textLength="47.5" lengthAdjust="spacingAndGlyphs" fill="#fff">Debrecen</text><text x="619.5" y="248.0" font-size="10.5" textLength="25.5" lengthAdjust="spacingAndGlyphs" fill="#fff">Carei</text><text x="695.0" y="251.0" font-size="10.5" textLength="47.5" lengthAdjust="spacingAndGlyphs" fill="#fff">Baia Mare</text><text x="664.0" y="311.0" font-size="10.5" textLength="28.5" lengthAdjust="spacingAndGlyphs" fill="#fff">Zalău</text><text x="690.5" y="361.0" font-size="10.5" textLength="59.0" lengthAdjust="spacingAndGlyphs" fill="#fff">Cluj-Napoca</text><text x="387.0" y="344.5" font-size="10.5" textLength="55.5" lengthAdjust="spacingAndGlyphs" fill="#fff">Kecskemét</text><text x="493.8" y="372.0" font-size="10.5" textLength="60.0" lengthAdjust="spacingAndGlyphs" fill="#fff">Békéscsaba</text><text x="433.8" y="424.5" font-size="10.5" textLength="33.8" lengthAdjust="spacingAndGlyphs" fill="#fff">Szeged</text><text x="395.0" y="468.5" font-size="10.5" textLength="30.0" lengthAdjust="spacingAndGlyphs" fill="#fff">Бачка</text><text x="391.0" y="479.5" font-size="10.5" textLength="38.0" lengthAdjust="spacingAndGlyphs" fill="#fff">Топола</text><text x="402.5" y="549.0" font-size="10.5" textLength="48.5" lengthAdjust="spacingAndGlyphs" fill="#fff">Нови Сад</text><text x="453.8" y="602.5" font-size="10.5" textLength="42.2" lengthAdjust="spacingAndGlyphs" fill="#fff">Belgrad</text><text x="511.0" y="487.5" font-size="10.5" textLength="48.0" lengthAdjust="spacingAndGlyphs" fill="#fff">Timișoara</text><text x="572.0" y="545.0" font-size="10.5" textLength="30.5" lengthAdjust="spacingAndGlyphs" fill="#fff">Reșița</text><text x="638.8" y="487.0" font-size="10.5" textLength="55.2" lengthAdjust="spacingAndGlyphs" fill="#fff">Hunedoara</text><text x="681.0" y="565.0" font-size="10.5" textLength="29.0" lengthAdjust="spacingAndGlyphs" fill="#fff">Târgu</text><text x="689.0" y="575.8" font-size="10.5" textLength="12.0" lengthAdjust="spacingAndGlyphs" fill="#fff">Jiu</text><text x="625.0" y="605.0" font-size="10.5" textLength="44.0" lengthAdjust="spacingAndGlyphs" fill="#fff">Drobeta-</text><text x="754.0" y="481.5" font-size="10.5" textLength="22.0" lengthAdjust="spacingAndGlyphs" fill="#fff">Sibiu</text><text x="750.0" y="416.0" font-size="10.5" textLength="29.0" lengthAdjust="spacingAndGlyphs" fill="#fff">Târgu</text>
<rect x="337" y="603.5" width="423" height="13" fill="#000"/>
<text x="339.5" y="612.3" font-size="10" fill="#fff" textLength="416.5" lengthAdjust="spacingAndGlyphs">Map data © OpenStreetMap contributors, rendering GIScience Research Group @ Heidelberg University</text>
</g>
<rect x="0" y="0" width="760" height="2" fill="#000"/>
<rect x="0" y="0" width="2" height="617" fill="#000"/>
<rect x="757.5" y="0" width="2.5" height="617" fill="#000"/>
<rect x="0" y="614.5" width="760" height="2.5" fill="#000"/>
<rect x="0" y="617" width="760" height="143" fill="#fff"/>
<path d="M32.0,672.0 L2.5,680.8 L32.0,689.5 Z" fill="#f4f4f4" stroke="#000" stroke-width="1"/>
<rect x="32.0" y="672.0" width="31.9" height="17.5" fill="#dcdcf8"/>
<rect x="63.6" y="672.0" width="31.9" height="17.5" fill="#a9a9cb"/>
<rect x="95.2" y="672.0" width="31.9" height="17.5" fill="#7abcfe"/>
<rect x="126.8" y="672.0" width="31.9" height="17.5" fill="#3a9bfe"/>
<rect x="158.4" y="672.0" width="31.9" height="17.5" fill="#0a82fc"/>
<rect x="190.0" y="672.0" width="31.9" height="17.5" fill="#0068d6"/>
<rect x="221.6" y="672.0" width="31.9" height="17.5" fill="#0055a6"/>
<rect x="253.2" y="672.0" width="31.9" height="17.5" fill="#012f82"/>
<rect x="284.8" y="672.0" width="31.9" height="17.5" fill="#4a0084"/>
<rect x="316.4" y="672.0" width="31.9" height="17.5" fill="#680084"/>
<rect x="348.0" y="672.0" width="31.9" height="17.5" fill="#9200be"/>
<rect x="379.6" y="672.0" width="31.9" height="17.5" fill="#bc00f2"/>
<rect x="411.2" y="672.0" width="31.9" height="17.5" fill="#d030fc"/>
<rect x="442.8" y="672.0" width="31.9" height="17.5" fill="#e8a8fc"/>
<rect x="474.4" y="672.0" width="31.9" height="17.5" fill="#f4d0fc"/>
<rect x="506.0" y="672.0" width="31.9" height="17.5" fill="#f8b0c8"/>
<rect x="537.6" y="672.0" width="31.9" height="17.5" fill="#fc9a9a"/>
<rect x="569.2" y="672.0" width="31.9" height="17.5" fill="#fc7070"/>
<rect x="600.8" y="672.0" width="31.9" height="17.5" fill="#e00848"/>
<rect x="632.4" y="672.0" width="31.9" height="17.5" fill="#bc0000"/>
<rect x="664.0" y="672.0" width="31.9" height="17.5" fill="#a40000"/>
<rect x="695.6" y="672.0" width="31.9" height="17.5" fill="#880000"/>
<path d="M727.2,672.0 L759,680.8 L727.2,689.5 Z" fill="#500000" stroke="#000" stroke-width="1"/>
<line x1="32.0" y1="689.5" x2="727.2" y2="689.5" stroke="#000" stroke-width="1"/>
<line x1="32.0" y1="672.0" x2="727.2" y2="672.0" stroke="#000" stroke-width="1" stroke-opacity="0.35"/>
<line x1="63.6" y1="672.0" x2="63.6" y2="689.5" stroke="#000" stroke-width="1"/>
<line x1="95.2" y1="672.0" x2="95.2" y2="689.5" stroke="#000" stroke-width="1"/>
<line x1="126.8" y1="672.0" x2="126.8" y2="689.5" stroke="#000" stroke-width="1"/>
<line x1="158.4" y1="672.0" x2="158.4" y2="689.5" stroke="#000" stroke-width="1"/>
<line x1="190.0" y1="672.0" x2="190.0" y2="689.5" stroke="#000" stroke-width="1"/>
<line x1="221.6" y1="672.0" x2="221.6" y2="689.5" stroke="#000" stroke-width="1"/>
<line x1="253.2" y1="672.0" x2="253.2" y2="689.5" stroke="#000" stroke-width="1"/>
<line x1="284.8" y1="672.0" x2="284.8" y2="689.5" stroke="#000" stroke-width="1"/>
<line x1="316.4" y1="672.0" x2="316.4" y2="689.5" stroke="#000" stroke-width="1"/>
<line x1="348.0" y1="672.0" x2="348.0" y2="689.5" stroke="#000" stroke-width="1"/>
<line x1="379.6" y1="672.0" x2="379.6" y2="689.5" stroke="#000" stroke-width="1"/>
<line x1="411.2" y1="672.0" x2="411.2" y2="689.5" stroke="#000" stroke-width="1"/>
<line x1="442.8" y1="672.0" x2="442.8" y2="689.5" stroke="#000" stroke-width="1"/>
<line x1="474.4" y1="672.0" x2="474.4" y2="689.5" stroke="#000" stroke-width="1"/>
<line x1="506.0" y1="672.0" x2="506.0" y2="689.5" stroke="#000" stroke-width="1"/>
<line x1="537.6" y1="672.0" x2="537.6" y2="689.5" stroke="#000" stroke-width="1"/>
<line x1="569.2" y1="672.0" x2="569.2" y2="689.5" stroke="#000" stroke-width="1"/>
<line x1="600.8" y1="672.0" x2="600.8" y2="689.5" stroke="#000" stroke-width="1"/>
<line x1="632.4" y1="672.0" x2="632.4" y2="689.5" stroke="#000" stroke-width="1"/>
<line x1="664.0" y1="672.0" x2="664.0" y2="689.5" stroke="#000" stroke-width="1"/>
<line x1="695.6" y1="672.0" x2="695.6" y2="689.5" stroke="#000" stroke-width="1"/>
<text transform="translate(32.0,709) scale(0.74,1)" text-anchor="middle" font-size="14.5" fill="#000">0.1</text>
<text transform="translate(63.6,709) scale(0.74,1)" text-anchor="middle" font-size="14.5" fill="#000">0.5</text>
<text transform="translate(95.2,709) scale(0.74,1)" text-anchor="middle" font-size="14.5" fill="#000">1</text>
<text transform="translate(126.8,709) scale(0.74,1)" text-anchor="middle" font-size="14.5" fill="#000">2</text>
<text transform="translate(158.4,709) scale(0.74,1)" text-anchor="middle" font-size="14.5" fill="#000">3</text>
<text transform="translate(190.0,709) scale(0.74,1)" text-anchor="middle" font-size="14.5" fill="#000">4</text>
<text transform="translate(221.6,709) scale(0.74,1)" text-anchor="middle" font-size="14.5" fill="#000">5</text>
<text transform="translate(253.2,709) scale(0.74,1)" text-anchor="middle" font-size="14.5" fill="#000">7</text>
<text transform="translate(284.8,709) scale(0.74,1)" text-anchor="middle" font-size="14.5" fill="#000">10</text>
<text transform="translate(316.4,709) scale(0.74,1)" text-anchor="middle" font-size="14.5" fill="#000">15</text>
<text transform="translate(348.0,709) scale(0.74,1)" text-anchor="middle" font-size="14.5" fill="#000">20</text>
<text transform="translate(379.6,709) scale(0.74,1)" text-anchor="middle" font-size="14.5" fill="#000">30</text>
<text transform="translate(411.2,709) scale(0.74,1)" text-anchor="middle" font-size="14.5" fill="#000">40</text>
<text transform="translate(442.8,709) scale(0.74,1)" text-anchor="middle" font-size="14.5" fill="#000">50</text>
<text transform="translate(474.4,709) scale(0.74,1)" text-anchor="middle" font-size="14.5" fill="#000">60</text>
<text transform="translate(506.0,709) scale(0.74,1)" text-anchor="middle" font-size="14.5" fill="#000">70</text>
<text transform="translate(537.6,709) scale(0.74,1)" text-anchor="middle" font-size="14.5" fill="#000">80</text>
<text transform="translate(569.2,709) scale(0.74,1)" text-anchor="middle" font-size="14.5" fill="#000">100</text>
<text transform="translate(600.8,709) scale(0.74,1)" text-anchor="middle" font-size="14.5" fill="#000">150</text>
<text transform="translate(632.4,709) scale(0.74,1)" text-anchor="middle" font-size="14.5" fill="#000">200</text>
<text transform="translate(664.0,709) scale(0.74,1)" text-anchor="middle" font-size="14.5" fill="#000">250</text>
<text transform="translate(695.6,709) scale(0.74,1)" text-anchor="middle" font-size="14.5" fill="#000">300</text>
<text transform="translate(727.2,709) scale(0.74,1)" text-anchor="middle" font-size="14.5" fill="#000">400</text>
<text x="17" y="660" font-size="21.5" font-weight="bold" textLength="211" lengthAdjust="spacingAndGlyphs" fill="#000">Schneehöhe (cm)</text>
<text x="17" y="734.5" font-size="12" textLength="44" lengthAdjust="spacingAndGlyphs" fill="#000">Ungarn</text>
<text x="17" y="751" font-size="12" textLength="324" lengthAdjust="spacingAndGlyphs" fill="#000">Global German Standard (7 Tage) vom 28.11.2023/00z</text>
<text x="679.5" y="646" font-size="12" textLength="71.5" lengthAdjust="spacingAndGlyphs" fill="#000">Prognose für</text>
<text x="568.5" y="660.5" font-size="12" textLength="182.5" lengthAdjust="spacingAndGlyphs" fill="#000">So. 03.12.2023, 01:00 Uhr MEZ</text>
<rect x="558" y="732" width="33" height="6.7" fill="#000"/><rect x="558" y="738.5" width="33" height="6.5" fill="#dd0000"/><rect x="558" y="745" width="33" height="6.5" fill="#ffce00"/>
<circle cx="619" cy="740.5" r="12.5" fill="#fff" stroke="#2a8fe0" stroke-width="2.2"/>
<path d="M609,726.5 A17,17 0 0 0 604.5,750" fill="none" stroke="#2a8fe0" stroke-width="1.4"/>
<path d="M629,754.5 A17,17 0 0 0 633.5,732" fill="none" stroke="#2a8fe0" stroke-width="1.4"/>
<text x="611" y="747.5" font-size="19" font-weight="bold" fill="#e2001a">k.</text>
<text x="638" y="741" font-size="11.5" textLength="110" lengthAdjust="spacingAndGlyphs" fill="#333">kachelmannwetter.com</text>
<text x="638" y="750.5" font-size="7.5" font-weight="bold" textLength="41" lengthAdjust="spacingAndGlyphs" fill="#555">WETTER HD</text>
</svg>
</body></html>
